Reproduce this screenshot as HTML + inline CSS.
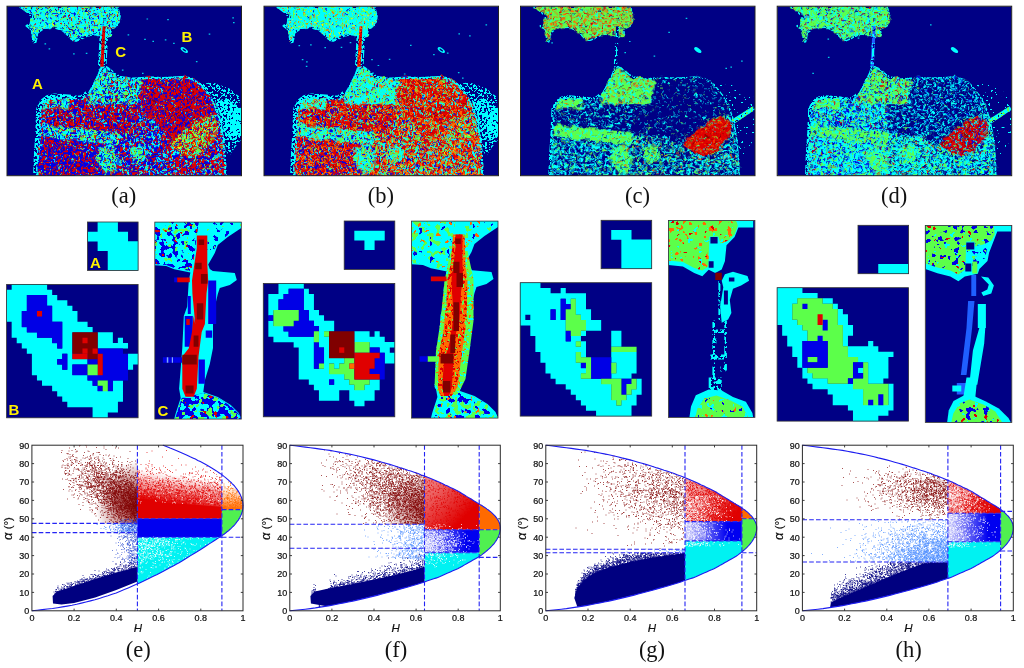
<!DOCTYPE html><html><head><meta charset="utf-8"><title>H-alpha classification figure</title><style>html,body{margin:0;padding:0;background:#fff}svg{display:block}text{font-family:"Liberation Sans",sans-serif}.cap{font-family:"Liberation Serif",serif;font-size:22.5px;fill:#111}.lab{font-weight:bold;font-size:15px;fill:#FFF000}.tk{font-size:9px;fill:#111;stroke:#111;stroke-width:.22px}.ax{font-size:11.5px;fill:#111;stroke:#111;stroke-width:.2px}</style></head><body><svg width="1024" height="668" viewBox="0 0 1024 668"><defs><filter id="rough" x="-.02" y="-.02" width="1.04" height="1.04" color-interpolation-filters="sRGB"><feTurbulence type="fractalNoise" baseFrequency=".16" numOctaves="2" seed="5" result="n"/><feDisplacementMap in="SourceGraphic" in2="n" scale="7" xChannelSelector="R" yChannelSelector="G"/></filter><clipPath id="cpa"><rect x="0" y="0" width="234.5" height="169.5"/></clipPath><filter id="fC40" x="-.1" y="-.1" width="1.2" height="1.2" color-interpolation-filters="sRGB"><feTurbulence type="fractalNoise" baseFrequency="0.43" numOctaves="2" seed="8"/><feColorMatrix values="0 0 0 0 0 0 0 0 0 1 0 0 0 0 1 60 0 0 0 -31.74"/><feComposite in2="SourceGraphic" operator="in"/></filter><filter id="fC55" x="-.1" y="-.1" width="1.2" height="1.2" color-interpolation-filters="sRGB"><feTurbulence type="fractalNoise" baseFrequency="0.43" numOctaves="2" seed="53"/><feColorMatrix values="0 0 0 0 0 0 0 0 0 1 0 0 0 0 1 60 0 0 0 -29.16"/><feComposite in2="SourceGraphic" operator="in"/></filter><filter id="fC70" x="-.1" y="-.1" width="1.2" height="1.2" color-interpolation-filters="sRGB"><feTurbulence type="fractalNoise" baseFrequency="0.43" numOctaves="2" seed="1"/><feColorMatrix values="0 0 0 0 0 0 0 0 0 1 0 0 0 0 1 60 0 0 0 -26.34"/><feComposite in2="SourceGraphic" operator="in"/></filter><filter id="fC65" x="-.1" y="-.1" width="1.2" height="1.2" color-interpolation-filters="sRGB"><feTurbulence type="fractalNoise" baseFrequency="0.43" numOctaves="2" seed="83"/><feColorMatrix values="0 0 0 0 0 0 0 0 0 1 0 0 0 0 1 60 0 0 0 -27.3"/><feComposite in2="SourceGraphic" operator="in"/></filter><path id="r1" d="M13 0L21 6.2L25 10.2L23.7 18.3L19.7 19.7L25 23.7L26.5 35.8L28.5 35.5L30.4 26.4L37.2 21.5L48 21L57.4 25L62 30L65.5 33.5L69 34.5L72.2 33.1L80.3 29.1L88.4 27.8L94 29.5L97.8 31.5L101.5 30L104 28.5L103 23L110 19.7L112.6 10.2L110 0Z"/><filter id="fB15" x="-.1" y="-.1" width="1.2" height="1.2" color-interpolation-filters="sRGB"><feTurbulence type="fractalNoise" baseFrequency="0.43" numOctaves="2" seed="23"/><feColorMatrix values="0 0 0 0 0 0 0 0 0 0 0 0 0 0 0.902 60 0 0 0 -37.62"/><feComposite in2="SourceGraphic" operator="in"/></filter><filter id="fG20" x="-.1" y="-.1" width="1.2" height="1.2" color-interpolation-filters="sRGB"><feTurbulence type="fractalNoise" baseFrequency="0.43" numOctaves="2" seed="73"/><feColorMatrix values="0 0 0 0 0.361 0 0 0 0 1 0 0 0 0 0.29 60 0 0 0 -36"/><feComposite in2="SourceGraphic" operator="in"/></filter><filter id="fN5" x="-.1" y="-.1" width="1.2" height="1.2" color-interpolation-filters="sRGB"><feTurbulence type="fractalNoise" baseFrequency="0.43" numOctaves="2" seed="77"/><feColorMatrix values="0 0 0 0 0 0 0 0 0 0 0 0 0 0 0.522 60 0 0 0 -42.12"/><feComposite in2="SourceGraphic" operator="in"/></filter><filter id="fR5" x="-.1" y="-.1" width="1.2" height="1.2" color-interpolation-filters="sRGB"><feTurbulence type="fractalNoise" baseFrequency="0.43" numOctaves="2" seed="8"/><feColorMatrix values="0 0 0 0 0.878 0 0 0 0 0 0 0 0 0 0 60 0 0 0 -42.12"/><feComposite in2="SourceGraphic" operator="in"/></filter><filter id="fY3" x="-.1" y="-.1" width="1.2" height="1.2" color-interpolation-filters="sRGB"><feTurbulence type="fractalNoise" baseFrequency="0.43" numOctaves="2" seed="51"/><feColorMatrix values="0 0 0 0 0.957 0 0 0 0 0.957 0 0 0 0 0 60 0 0 0 -43.5"/><feComposite in2="SourceGraphic" operator="in"/></filter><path id="r2" d="M30.5 169.5L31.2 150L32.6 128.8L33.6 103L37 96.5L41.5 93L48 91.7L61.4 92.6L70 94L75.5 93.4L81.5 88.5L87 78.4L92.3 67.5L94.5 61L98 60.5L101.9 63L107 67L112.6 70.9L123.4 72.8L134.2 72.2L145 71.6L155.8 72.2L166.5 71.5L177.3 70.8L185 72.8L193.5 78.5L202 89L208 100L211.3 109L213.8 120L216.2 134.2L217.8 150.4L218.5 169.5Z"/><filter id="fR40" x="-.1" y="-.1" width="1.2" height="1.2" color-interpolation-filters="sRGB"><feTurbulence type="fractalNoise" baseFrequency="0.43" numOctaves="2" seed="16"/><feColorMatrix values="0 0 0 0 0.878 0 0 0 0 0 0 0 0 0 0 60 0 0 0 -31.74"/><feComposite in2="SourceGraphic" operator="in"/></filter><filter id="fC25" x="-.1" y="-.1" width="1.2" height="1.2" color-interpolation-filters="sRGB"><feTurbulence type="fractalNoise" baseFrequency="0.43" numOctaves="2" seed="60"/><feColorMatrix values="0 0 0 0 0 0 0 0 0 1 0 0 0 0 1 60 0 0 0 -34.8"/><feComposite in2="SourceGraphic" operator="in"/></filter><filter id="fG5" x="-.1" y="-.1" width="1.2" height="1.2" color-interpolation-filters="sRGB"><feTurbulence type="fractalNoise" baseFrequency="0.43" numOctaves="2" seed="28"/><feColorMatrix values="0 0 0 0 0.361 0 0 0 0 1 0 0 0 0 0.29 60 0 0 0 -42.12"/><feComposite in2="SourceGraphic" operator="in"/></filter><filter id="fD3" x="-.1" y="-.1" width="1.2" height="1.2" color-interpolation-filters="sRGB"><feTurbulence type="fractalNoise" baseFrequency="0.43" numOctaves="2" seed="1"/><feColorMatrix values="0 0 0 0 0.502 0 0 0 0 0 0 0 0 0 0 60 0 0 0 -43.5"/><feComposite in2="SourceGraphic" operator="in"/></filter><path id="r3" d="M33.6 103L37 96.5L41.5 93L48 91.7L61.4 92.6L70 94L75.5 93.4L81.5 88.5L80.3 97.5L130.5 97.5L128 129L111 127L35 118L33 118Z"/><filter id="fB45" x="-.1" y="-.1" width="1.2" height="1.2" color-interpolation-filters="sRGB"><feTurbulence type="fractalNoise" baseFrequency="0.43" numOctaves="2" seed="16"/><feColorMatrix values="0 0 0 0 0 0 0 0 0 0 0 0 0 0 0.902 60 0 0 0 -30.84"/><feComposite in2="SourceGraphic" operator="in"/></filter><filter id="fC10" x="-.1" y="-.1" width="1.2" height="1.2" color-interpolation-filters="sRGB"><feTurbulence type="fractalNoise" baseFrequency="0.43" numOctaves="2" seed="15"/><feColorMatrix values="0 0 0 0 0 0 0 0 0 1 0 0 0 0 1 60 0 0 0 -39.54"/><feComposite in2="SourceGraphic" operator="in"/></filter><filter id="fD5" x="-.1" y="-.1" width="1.2" height="1.2" color-interpolation-filters="sRGB"><feTurbulence type="fractalNoise" baseFrequency="0.43" numOctaves="2" seed="7"/><feColorMatrix values="0 0 0 0 0.502 0 0 0 0 0 0 0 0 0 0 60 0 0 0 -42.12"/><feComposite in2="SourceGraphic" operator="in"/></filter><path id="r4" d="M32.6 129.5L111 139L112 169.5L30.5 169.5L31.2 150Z"/><filter id="fC5" x="-.1" y="-.1" width="1.2" height="1.2" color-interpolation-filters="sRGB"><feTurbulence type="fractalNoise" baseFrequency="0.43" numOctaves="2" seed="97"/><feColorMatrix values="0 0 0 0 0 0 0 0 0 1 0 0 0 0 1 60 0 0 0 -42.12"/><feComposite in2="SourceGraphic" operator="in"/></filter><filter id="fG3" x="-.1" y="-.1" width="1.2" height="1.2" color-interpolation-filters="sRGB"><feTurbulence type="fractalNoise" baseFrequency="0.43" numOctaves="2" seed="22"/><feColorMatrix values="0 0 0 0 0.361 0 0 0 0 1 0 0 0 0 0.29 60 0 0 0 -43.5"/><feComposite in2="SourceGraphic" operator="in"/></filter><path id="r5" d="M134.2 72.3L145 71.6L155.8 72.2L166.5 71.5L177.3 70.8L185 72.8L193.5 78.5L202 89L208 100L211.3 109L201.6 110L162.5 138.2L158 141L155 122L137 108L133 90Z"/><filter id="fB40" x="-.1" y="-.1" width="1.2" height="1.2" color-interpolation-filters="sRGB"><feTurbulence type="fractalNoise" baseFrequency="0.43" numOctaves="2" seed="1"/><feColorMatrix values="0 0 0 0 0 0 0 0 0 0 0 0 0 0 0.902 60 0 0 0 -31.74"/><feComposite in2="SourceGraphic" operator="in"/></filter><path id="r6" d="M158 141L162.5 138.2L201.6 110L211.3 109L213.8 120L216.2 134.2L217.8 150.4L218.5 169.5L165 169.5Z"/><filter id="fC20" x="-.1" y="-.1" width="1.2" height="1.2" color-interpolation-filters="sRGB"><feTurbulence type="fractalNoise" baseFrequency="0.43" numOctaves="2" seed="45"/><feColorMatrix values="0 0 0 0 0 0 0 0 0 1 0 0 0 0 1 60 0 0 0 -36"/><feComposite in2="SourceGraphic" operator="in"/></filter><path id="r7" d="M198.5 109.5L209.3 114.9L211.1 122.1L205.7 132.8L197 144L190 149L178 149L169.8 143.6L162.6 136.4L173.4 125.7L186 116.7Z"/><filter id="fG45" x="-.1" y="-.1" width="1.2" height="1.2" color-interpolation-filters="sRGB"><feTurbulence type="fractalNoise" baseFrequency="0.43" numOctaves="2" seed="51"/><feColorMatrix values="0 0 0 0 0.361 0 0 0 0 1 0 0 0 0 0.29 60 0 0 0 -30.84"/><feComposite in2="SourceGraphic" operator="in"/></filter><filter id="fY15" x="-.1" y="-.1" width="1.2" height="1.2" color-interpolation-filters="sRGB"><feTurbulence type="fractalNoise" baseFrequency="0.43" numOctaves="2" seed="87"/><feColorMatrix values="0 0 0 0 0.957 0 0 0 0 0.957 0 0 0 0 0 60 0 0 0 -37.62"/><feComposite in2="SourceGraphic" operator="in"/></filter><filter id="fC15" x="-.1" y="-.1" width="1.2" height="1.2" color-interpolation-filters="sRGB"><feTurbulence type="fractalNoise" baseFrequency="0.43" numOctaves="2" seed="30"/><feColorMatrix values="0 0 0 0 0 0 0 0 0 1 0 0 0 0 1 60 0 0 0 -37.62"/><feComposite in2="SourceGraphic" operator="in"/></filter><filter id="fB10" x="-.1" y="-.1" width="1.2" height="1.2" color-interpolation-filters="sRGB"><feTurbulence type="fractalNoise" baseFrequency="0.43" numOctaves="2" seed="8"/><feColorMatrix values="0 0 0 0 0 0 0 0 0 0 0 0 0 0 0.902 60 0 0 0 -39.54"/><feComposite in2="SourceGraphic" operator="in"/></filter><filter id="fO5" x="-.1" y="-.1" width="1.2" height="1.2" color-interpolation-filters="sRGB"><feTurbulence type="fractalNoise" baseFrequency="0.43" numOctaves="2" seed="84"/><feColorMatrix values="0 0 0 0 1 0 0 0 0 0.416 0 0 0 0 0 60 0 0 0 -42.12"/><feComposite in2="SourceGraphic" operator="in"/></filter><path id="r8" d="M92 141L106 139L112 150L110 166L98 168L90 155Z"/><filter id="fB25" x="-.1" y="-.1" width="1.2" height="1.2" color-interpolation-filters="sRGB"><feTurbulence type="fractalNoise" baseFrequency="0.43" numOctaves="2" seed="53"/><feColorMatrix values="0 0 0 0 0 0 0 0 0 0 0 0 0 0 0.902 60 0 0 0 -34.8"/><feComposite in2="SourceGraphic" operator="in"/></filter><filter id="fR10" x="-.1" y="-.1" width="1.2" height="1.2" color-interpolation-filters="sRGB"><feTurbulence type="fractalNoise" baseFrequency="0.43" numOctaves="2" seed="23"/><feColorMatrix values="0 0 0 0 0.878 0 0 0 0 0 0 0 0 0 0 60 0 0 0 -39.54"/><feComposite in2="SourceGraphic" operator="in"/></filter><path id="r9" d="M124 140L137 138L140 152L130 158L122 150Z"/><path id="r10" d="M94.5 61L98 60.5L101.9 63L107 67L112.6 70.9L123.4 72.8L134.2 72.2L130.5 97.5L80.3 97.5L81.5 88.5L87 78.4L92.3 67.5Z"/><filter id="fG30" x="-.1" y="-.1" width="1.2" height="1.2" color-interpolation-filters="sRGB"><feTurbulence type="fractalNoise" baseFrequency="0.43" numOctaves="2" seed="6"/><feColorMatrix values="0 0 0 0 0.361 0 0 0 0 1 0 0 0 0 0.29 60 0 0 0 -33.66"/><feComposite in2="SourceGraphic" operator="in"/></filter><path id="r11" d="M37 96.5L41.5 93L48 91.7L61.4 92.6L61.4 102.5L35 102.5Z"/><filter id="fG25" x="-.1" y="-.1" width="1.2" height="1.2" color-interpolation-filters="sRGB"><feTurbulence type="fractalNoise" baseFrequency="0.43" numOctaves="2" seed="88"/><feColorMatrix values="0 0 0 0 0.361 0 0 0 0 1 0 0 0 0 0.29 60 0 0 0 -34.8"/><feComposite in2="SourceGraphic" operator="in"/></filter><filter id="fR15" x="-.1" y="-.1" width="1.2" height="1.2" color-interpolation-filters="sRGB"><feTurbulence type="fractalNoise" baseFrequency="0.43" numOctaves="2" seed="38"/><feColorMatrix values="0 0 0 0 0.878 0 0 0 0 0 0 0 0 0 0 60 0 0 0 -37.62"/><feComposite in2="SourceGraphic" operator="in"/></filter><path id="r12" d="M33 117.8L111 126.5L111 139L32.6 129.7Z"/><filter id="fC45" x="-.1" y="-.1" width="1.2" height="1.2" color-interpolation-filters="sRGB"><feTurbulence type="fractalNoise" baseFrequency="0.43" numOctaves="2" seed="23"/><feColorMatrix values="0 0 0 0 0 0 0 0 0 1 0 0 0 0 1 60 0 0 0 -30.84"/><feComposite in2="SourceGraphic" operator="in"/></filter><path id="r13" d="M95.6 20L98.4 20L96.6 60.5L93.2 60.5Z"/><filter id="fD15" x="-.1" y="-.1" width="1.2" height="1.2" color-interpolation-filters="sRGB"><feTurbulence type="fractalNoise" baseFrequency="0.43" numOctaves="2" seed="37"/><feColorMatrix values="0 0 0 0 0.502 0 0 0 0 0 0 0 0 0 0 60 0 0 0 -37.62"/><feComposite in2="SourceGraphic" operator="in"/></filter><clipPath id="cpb"><rect x="0" y="0" width="234.5" height="169.5"/></clipPath><filter id="fC50" x="-.1" y="-.1" width="1.2" height="1.2" color-interpolation-filters="sRGB"><feTurbulence type="fractalNoise" baseFrequency="0.43" numOctaves="2" seed="38"/><feColorMatrix values="0 0 0 0 0 0 0 0 0 1 0 0 0 0 1 60 0 0 0 -30.12"/><feComposite in2="SourceGraphic" operator="in"/></filter><path id="r14" d="M13 0L21 6.2L25 10.2L23.7 18.3L19.7 19.7L25 23.7L26.5 35.8L28.5 35.5L30.4 26.4L37.2 21.5L48 21L57.4 25L62 30L65.5 33.5L69 34.5L72.2 33.1L80.3 29.1L88.4 27.8L94 29.5L97.8 31.5L101.5 30L104 28.5L103 23L110 19.7L112.6 10.2L110 0Z"/><filter id="fB5" x="-.1" y="-.1" width="1.2" height="1.2" color-interpolation-filters="sRGB"><feTurbulence type="fractalNoise" baseFrequency="0.43" numOctaves="2" seed="90"/><feColorMatrix values="0 0 0 0 0 0 0 0 0 0 0 0 0 0 0.902 60 0 0 0 -42.12"/><feComposite in2="SourceGraphic" operator="in"/></filter><filter id="fY5" x="-.1" y="-.1" width="1.2" height="1.2" color-interpolation-filters="sRGB"><feTurbulence type="fractalNoise" baseFrequency="0.43" numOctaves="2" seed="57"/><feColorMatrix values="0 0 0 0 0.957 0 0 0 0 0.957 0 0 0 0 0 60 0 0 0 -42.12"/><feComposite in2="SourceGraphic" operator="in"/></filter><path id="r15" d="M30.5 169.5L31.2 150L32.6 128.8L33.6 103L37 96.5L41.5 93L48 91.7L61.4 92.6L70 94L75.5 93.4L81.5 88.5L87 78.4L92.3 67.5L94.5 61L98 60.5L101.9 63L107 67L112.6 70.9L123.4 72.8L134.2 72.2L145 71.6L155.8 72.2L166.5 71.5L177.3 70.8L185 72.8L193.5 78.5L202 89L208 100L211.3 109L213.8 120L216.2 134.2L217.8 150.4L218.5 169.5Z"/><filter id="fO45" x="-.1" y="-.1" width="1.2" height="1.2" color-interpolation-filters="sRGB"><feTurbulence type="fractalNoise" baseFrequency="0.43" numOctaves="2" seed="10"/><feColorMatrix values="0 0 0 0 1 0 0 0 0 0.416 0 0 0 0 0 60 0 0 0 -30.84"/><feComposite in2="SourceGraphic" operator="in"/></filter><filter id="fC30" x="-.1" y="-.1" width="1.2" height="1.2" color-interpolation-filters="sRGB"><feTurbulence type="fractalNoise" baseFrequency="0.43" numOctaves="2" seed="75"/><feColorMatrix values="0 0 0 0 0 0 0 0 0 1 0 0 0 0 1 60 0 0 0 -33.66"/><feComposite in2="SourceGraphic" operator="in"/></filter><path id="r16" d="M33.6 103L37 96.5L41.5 93L48 91.7L61.4 92.6L70 94L75.5 93.4L81.5 88.5L80.3 97.5L130.5 97.5L128 129L111 127L35 118L33 118Z"/><filter id="fO25" x="-.1" y="-.1" width="1.2" height="1.2" color-interpolation-filters="sRGB"><feTurbulence type="fractalNoise" baseFrequency="0.43" numOctaves="2" seed="47"/><feColorMatrix values="0 0 0 0 1 0 0 0 0 0.416 0 0 0 0 0 60 0 0 0 -34.8"/><feComposite in2="SourceGraphic" operator="in"/></filter><filter id="fB20" x="-.1" y="-.1" width="1.2" height="1.2" color-interpolation-filters="sRGB"><feTurbulence type="fractalNoise" baseFrequency="0.43" numOctaves="2" seed="38"/><feColorMatrix values="0 0 0 0 0 0 0 0 0 0 0 0 0 0 0.902 60 0 0 0 -36"/><feComposite in2="SourceGraphic" operator="in"/></filter><filter id="fG10" x="-.1" y="-.1" width="1.2" height="1.2" color-interpolation-filters="sRGB"><feTurbulence type="fractalNoise" baseFrequency="0.43" numOctaves="2" seed="43"/><feColorMatrix values="0 0 0 0 0.361 0 0 0 0 1 0 0 0 0 0.29 60 0 0 0 -39.54"/><feComposite in2="SourceGraphic" operator="in"/></filter><path id="r17" d="M32.6 129.5L111 139L112 169.5L30.5 169.5L31.2 150Z"/><filter id="fO40" x="-.1" y="-.1" width="1.2" height="1.2" color-interpolation-filters="sRGB"><feTurbulence type="fractalNoise" baseFrequency="0.43" numOctaves="2" seed="92"/><feColorMatrix values="0 0 0 0 1 0 0 0 0 0.416 0 0 0 0 0 60 0 0 0 -31.74"/><feComposite in2="SourceGraphic" operator="in"/></filter><path id="r18" d="M134.2 72.3L145 71.6L155.8 72.2L166.5 71.5L177.3 70.8L185 72.8L193.5 78.5L202 89L208 100L211.3 109L201.6 110L162.5 138.2L158 141L155 122L137 108L133 90Z"/><filter id="fO30" x="-.1" y="-.1" width="1.2" height="1.2" color-interpolation-filters="sRGB"><feTurbulence type="fractalNoise" baseFrequency="0.43" numOctaves="2" seed="62"/><feColorMatrix values="0 0 0 0 1 0 0 0 0 0.416 0 0 0 0 0 60 0 0 0 -33.66"/><feComposite in2="SourceGraphic" operator="in"/></filter><path id="r19" d="M158 141L162.5 138.2L201.6 110L211.3 109L213.8 120L216.2 134.2L217.8 150.4L218.5 169.5L165 169.5Z"/><filter id="fG15" x="-.1" y="-.1" width="1.2" height="1.2" color-interpolation-filters="sRGB"><feTurbulence type="fractalNoise" baseFrequency="0.43" numOctaves="2" seed="58"/><feColorMatrix values="0 0 0 0 0.361 0 0 0 0 1 0 0 0 0 0.29 60 0 0 0 -37.62"/><feComposite in2="SourceGraphic" operator="in"/></filter><path id="r20" d="M198.5 109.5L209.3 114.9L211.1 122.1L205.7 132.8L197 144L190 149L178 149L169.8 143.6L162.6 136.4L173.4 125.7L186 116.7Z"/><filter id="fO50" x="-.1" y="-.1" width="1.2" height="1.2" color-interpolation-filters="sRGB"><feTurbulence type="fractalNoise" baseFrequency="0.43" numOctaves="2" seed="25"/><feColorMatrix values="0 0 0 0 1 0 0 0 0 0.416 0 0 0 0 0 60 0 0 0 -30.12"/><feComposite in2="SourceGraphic" operator="in"/></filter><path id="r21" d="M92 141L106 139L112 150L110 166L98 168L90 155Z"/><filter id="fO20" x="-.1" y="-.1" width="1.2" height="1.2" color-interpolation-filters="sRGB"><feTurbulence type="fractalNoise" baseFrequency="0.43" numOctaves="2" seed="32"/><feColorMatrix values="0 0 0 0 1 0 0 0 0 0.416 0 0 0 0 0 60 0 0 0 -36"/><feComposite in2="SourceGraphic" operator="in"/></filter><path id="r22" d="M124 140L137 138L140 152L130 158L122 150Z"/><path id="r23" d="M94.5 61L98 60.5L101.9 63L107 67L112.6 70.9L123.4 72.8L134.2 72.2L130.5 97.5L80.3 97.5L81.5 88.5L87 78.4L92.3 67.5Z"/><filter id="fG35" x="-.1" y="-.1" width="1.2" height="1.2" color-interpolation-filters="sRGB"><feTurbulence type="fractalNoise" baseFrequency="0.43" numOctaves="2" seed="21"/><feColorMatrix values="0 0 0 0 0.361 0 0 0 0 1 0 0 0 0 0.29 60 0 0 0 -32.7"/><feComposite in2="SourceGraphic" operator="in"/></filter><filter id="fO10" x="-.1" y="-.1" width="1.2" height="1.2" color-interpolation-filters="sRGB"><feTurbulence type="fractalNoise" baseFrequency="0.43" numOctaves="2" seed="2"/><feColorMatrix values="0 0 0 0 1 0 0 0 0 0.416 0 0 0 0 0 60 0 0 0 -39.54"/><feComposite in2="SourceGraphic" operator="in"/></filter><path id="r24" d="M37 96.5L41.5 93L48 91.7L61.4 92.6L61.4 102.5L35 102.5Z"/><filter id="fO15" x="-.1" y="-.1" width="1.2" height="1.2" color-interpolation-filters="sRGB"><feTurbulence type="fractalNoise" baseFrequency="0.43" numOctaves="2" seed="17"/><feColorMatrix values="0 0 0 0 1 0 0 0 0 0.416 0 0 0 0 0 60 0 0 0 -37.62"/><feComposite in2="SourceGraphic" operator="in"/></filter><path id="r25" d="M33 117.8L111 126.5L111 139L32.6 129.7Z"/><filter id="fG40" x="-.1" y="-.1" width="1.2" height="1.2" color-interpolation-filters="sRGB"><feTurbulence type="fractalNoise" baseFrequency="0.43" numOctaves="2" seed="36"/><feColorMatrix values="0 0 0 0 0.361 0 0 0 0 1 0 0 0 0 0.29 60 0 0 0 -31.74"/><feComposite in2="SourceGraphic" operator="in"/></filter><path id="r26" d="M95.6 20L98.4 20L96.6 60.5L93.2 60.5Z"/><filter id="fD10" x="-.1" y="-.1" width="1.2" height="1.2" color-interpolation-filters="sRGB"><feTurbulence type="fractalNoise" baseFrequency="0.43" numOctaves="2" seed="22"/><feColorMatrix values="0 0 0 0 0.502 0 0 0 0 0 0 0 0 0 0 60 0 0 0 -39.54"/><feComposite in2="SourceGraphic" operator="in"/></filter><clipPath id="cpc"><rect x="0" y="0" width="234.5" height="169.5"/></clipPath><filter id="fC60" x="-.1" y="-.1" width="1.2" height="1.2" color-interpolation-filters="sRGB"><feTurbulence type="fractalNoise" baseFrequency="0.43" numOctaves="2" seed="68"/><feColorMatrix values="0 0 0 0 0 0 0 0 0 1 0 0 0 0 1 60 0 0 0 -28.26"/><feComposite in2="SourceGraphic" operator="in"/></filter><path id="r27" d="M13 0L21 6.2L25 10.2L23.7 18.3L19.7 19.7L25 23.7L26.5 35.8L28.5 35.5L30.4 26.4L37.2 21.5L48 21L57.4 25L62 30L65.5 33.5L69 34.5L72.2 33.1L80.3 29.1L88.4 27.8L94 29.5L97.8 31.5L101.5 30L104 28.5L103 23L110 19.7L112.6 10.2L110 0Z"/><path id="r28" d="M30.5 169.5L31.2 150L32.6 128.8L33.6 103L37 96.5L41.5 93L48 91.7L61.4 92.6L70 94L75.5 93.4L81.5 88.5L87 78.4L92.3 67.5L94.5 61L98 60.5L101.9 63L107 67L112.6 70.9L123.4 72.8L134.2 72.2L145 71.6L155.8 72.2L166.5 71.5L177.3 70.8L185 72.8L193.5 78.5L202 89L208 100L211.3 109L213.8 120L216.2 134.2L217.8 150.4L218.5 169.5Z"/><path id="r29" d="M33.6 103L37 96.5L41.5 93L48 91.7L61.4 92.6L70 94L75.5 93.4L81.5 88.5L80.3 97.5L130.5 97.5L128 129L111 127L35 118L33 118Z"/><path id="r30" d="M32.6 129.5L111 139L112 169.5L30.5 169.5L31.2 150Z"/><filter id="fB3" x="-.1" y="-.1" width="1.2" height="1.2" color-interpolation-filters="sRGB"><feTurbulence type="fractalNoise" baseFrequency="0.43" numOctaves="2" seed="84"/><feColorMatrix values="0 0 0 0 0 0 0 0 0 0 0 0 0 0 0.902 60 0 0 0 -43.5"/><feComposite in2="SourceGraphic" operator="in"/></filter><path id="r31" d="M134.2 72.3L145 71.6L155.8 72.2L166.5 71.5L177.3 70.8L185 72.8L193.5 78.5L202 89L208 100L211.3 109L201.6 110L162.5 138.2L158 141L155 122L137 108L133 90Z"/><path id="r32" d="M110 97.5L130.5 97.5L133 90L137 108L155 122L158 141L146 130L128 129L111 127Z"/><path id="r33" d="M158 141L162.5 138.2L201.6 110L211.3 109L213.8 120L216.2 134.2L217.8 150.4L218.5 169.5L165 169.5Z"/><path id="r34" d="M198.5 109.5L209.3 114.9L211.1 122.1L205.7 132.8L197 144L190 149L178 149L169.8 143.6L162.6 136.4L173.4 125.7L186 116.7Z"/><path id="r35" d="M92 141L106 139L112 150L110 166L98 168L90 155Z"/><filter id="fC35" x="-.1" y="-.1" width="1.2" height="1.2" color-interpolation-filters="sRGB"><feTurbulence type="fractalNoise" baseFrequency="0.43" numOctaves="2" seed="90"/><feColorMatrix values="0 0 0 0 0 0 0 0 0 1 0 0 0 0 1 60 0 0 0 -32.7"/><feComposite in2="SourceGraphic" operator="in"/></filter><filter id="fN10" x="-.1" y="-.1" width="1.2" height="1.2" color-interpolation-filters="sRGB"><feTurbulence type="fractalNoise" baseFrequency="0.43" numOctaves="2" seed="92"/><feColorMatrix values="0 0 0 0 0 0 0 0 0 0 0 0 0 0 0.522 60 0 0 0 -39.54"/><feComposite in2="SourceGraphic" operator="in"/></filter><path id="r36" d="M124 140L137 138L140 152L130 158L122 150Z"/><path id="r37" d="M94.5 61L98 60.5L101.9 63L107 67L112.6 70.9L123.4 72.8L134.2 72.2L130.5 97.5L80.3 97.5L81.5 88.5L87 78.4L92.3 67.5Z"/><path id="r38" d="M37 96.5L41.5 93L48 91.7L61.4 92.6L61.4 102.5L35 102.5Z"/><path id="r39" d="M33 117.8L111 126.5L111 139L32.6 129.7Z"/><path id="r40" d="M95.6 20L98.4 20L96.6 60.5L93.2 60.5Z"/><path id="r41" d="M211 113.5L232.5 100L234.5 103.5L213.5 117.5Z"/><clipPath id="cpd"><rect x="0" y="0" width="234.5" height="169.5"/></clipPath><path id="r42" d="M13 0L21 6.2L25 10.2L23.7 18.3L19.7 19.7L25 23.7L26.5 35.8L28.5 35.5L30.4 26.4L37.2 21.5L48 21L57.4 25L62 30L65.5 33.5L69 34.5L72.2 33.1L80.3 29.1L88.4 27.8L94 29.5L97.8 31.5L101.5 30L104 28.5L103 23L110 19.7L112.6 10.2L110 0Z"/><path id="r43" d="M30.5 169.5L31.2 150L32.6 128.8L33.6 103L37 96.5L41.5 93L48 91.7L61.4 92.6L70 94L75.5 93.4L81.5 88.5L87 78.4L92.3 67.5L94.5 61L98 60.5L101.9 63L107 67L112.6 70.9L123.4 72.8L134.2 72.2L145 71.6L155.8 72.2L166.5 71.5L177.3 70.8L185 72.8L193.5 78.5L202 89L208 100L211.3 109L213.8 120L216.2 134.2L217.8 150.4L218.5 169.5Z"/><filter id="fN30" x="-.1" y="-.1" width="1.2" height="1.2" color-interpolation-filters="sRGB"><feTurbulence type="fractalNoise" baseFrequency="0.43" numOctaves="2" seed="55"/><feColorMatrix values="0 0 0 0 0 0 0 0 0 0 0 0 0 0 0.522 60 0 0 0 -33.66"/><feComposite in2="SourceGraphic" operator="in"/></filter><path id="r44" d="M33.6 103L37 96.5L41.5 93L48 91.7L61.4 92.6L70 94L75.5 93.4L81.5 88.5L80.3 97.5L130.5 97.5L128 129L111 127L35 118L33 118Z"/><filter id="fB35" x="-.1" y="-.1" width="1.2" height="1.2" color-interpolation-filters="sRGB"><feTurbulence type="fractalNoise" baseFrequency="0.43" numOctaves="2" seed="83"/><feColorMatrix values="0 0 0 0 0 0 0 0 0 0 0 0 0 0 0.902 60 0 0 0 -32.7"/><feComposite in2="SourceGraphic" operator="in"/></filter><path id="r45" d="M32.6 129.5L111 139L112 169.5L30.5 169.5L31.2 150Z"/><path id="r46" d="M134.2 72.3L145 71.6L155.8 72.2L166.5 71.5L177.3 70.8L185 72.8L193.5 78.5L202 89L208 100L211.3 109L201.6 110L162.5 138.2L158 141L155 122L137 108L133 90Z"/><path id="r47" d="M110 97.5L130.5 97.5L133 90L137 108L155 122L158 141L146 130L128 129L111 127Z"/><path id="r48" d="M158 141L162.5 138.2L201.6 110L211.3 109L213.8 120L216.2 134.2L217.8 150.4L218.5 169.5L165 169.5Z"/><filter id="fR3" x="-.1" y="-.1" width="1.2" height="1.2" color-interpolation-filters="sRGB"><feTurbulence type="fractalNoise" baseFrequency="0.43" numOctaves="2" seed="2"/><feColorMatrix values="0 0 0 0 0.878 0 0 0 0 0 0 0 0 0 0 60 0 0 0 -43.5"/><feComposite in2="SourceGraphic" operator="in"/></filter><path id="r49" d="M198.5 109.5L209.3 114.9L211.1 122.1L205.7 132.8L197 144L190 149L178 149L169.8 143.6L162.6 136.4L173.4 125.7L186 116.7Z"/><filter id="fD20" x="-.1" y="-.1" width="1.2" height="1.2" color-interpolation-filters="sRGB"><feTurbulence type="fractalNoise" baseFrequency="0.43" numOctaves="2" seed="52"/><feColorMatrix values="0 0 0 0 0.502 0 0 0 0 0 0 0 0 0 0 60 0 0 0 -36"/><feComposite in2="SourceGraphic" operator="in"/></filter><path id="r50" d="M92 141L106 139L112 150L110 166L98 168L90 155Z"/><path id="r51" d="M124 140L137 138L140 152L130 158L122 150Z"/><path id="r52" d="M94.5 61L98 60.5L101.9 63L107 67L112.6 70.9L123.4 72.8L134.2 72.2L130.5 97.5L80.3 97.5L81.5 88.5L87 78.4L92.3 67.5Z"/><path id="r53" d="M37 96.5L41.5 93L48 91.7L61.4 92.6L61.4 102.5L35 102.5Z"/><path id="r54" d="M33 117.8L111 126.5L111 139L32.6 129.7Z"/><path id="r55" d="M95.6 20L98.4 20L96.6 60.5L93.2 60.5Z"/><filter id="fN15" x="-.1" y="-.1" width="1.2" height="1.2" color-interpolation-filters="sRGB"><feTurbulence type="fractalNoise" baseFrequency="0.43" numOctaves="2" seed="10"/><feColorMatrix values="0 0 0 0 0 0 0 0 0 0 0 0 0 0 0.522 60 0 0 0 -37.62"/><feComposite in2="SourceGraphic" operator="in"/></filter><path id="r56" d="M211 113.5L232.5 100L234.5 103.5L213.5 117.5Z"/><clipPath id="cca"><rect width="86.5" height="197.0"/></clipPath><path id="r57" d="M0 0L44 0L42 13L40 30L38 42L35.6 49L19.4 46L11.4 43L0 42Z"/><filter id="fB35x17" x="-.1" y="-.1" width="1.2" height="1.2" color-interpolation-filters="sRGB"><feTurbulence type="fractalNoise" baseFrequency="0.17" numOctaves="2" seed="83"/><feColorMatrix values="0 0 0 0 0 0 0 0 0 0 0 0 0 0 0.902 60 0 0 0 -32.7"/><feComposite in2="SourceGraphic" operator="in"/></filter><filter id="fG15x17" x="-.1" y="-.1" width="1.2" height="1.2" color-interpolation-filters="sRGB"><feTurbulence type="fractalNoise" baseFrequency="0.17" numOctaves="2" seed="58"/><feColorMatrix values="0 0 0 0 0.361 0 0 0 0 1 0 0 0 0 0.29 60 0 0 0 -37.62"/><feComposite in2="SourceGraphic" operator="in"/></filter><filter id="fR3x17" x="-.1" y="-.1" width="1.2" height="1.2" color-interpolation-filters="sRGB"><feTurbulence type="fractalNoise" baseFrequency="0.17" numOctaves="2" seed="2"/><feColorMatrix values="0 0 0 0 0.878 0 0 0 0 0 0 0 0 0 0 60 0 0 0 -43.5"/><feComposite in2="SourceGraphic" operator="in"/></filter><path id="r58" d="M52 0L86.5 0L86.5 5L73 13L63 21L58 30L53 36L52.5 13Z"/><filter id="fB15x17" x="-.1" y="-.1" width="1.2" height="1.2" color-interpolation-filters="sRGB"><feTurbulence type="fractalNoise" baseFrequency="0.17" numOctaves="2" seed="23"/><feColorMatrix values="0 0 0 0 0 0 0 0 0 0 0 0 0 0 0.902 60 0 0 0 -37.62"/><feComposite in2="SourceGraphic" operator="in"/></filter><filter id="fG5x17" x="-.1" y="-.1" width="1.2" height="1.2" color-interpolation-filters="sRGB"><feTurbulence type="fractalNoise" baseFrequency="0.17" numOctaves="2" seed="28"/><feColorMatrix values="0 0 0 0 0.361 0 0 0 0 1 0 0 0 0 0.29 60 0 0 0 -42.12"/><feComposite in2="SourceGraphic" operator="in"/></filter><path id="r59" d="M27 176L48.5 171L63 176L76 184L84 192L86.5 197L20.4 197L22 191Z"/><filter id="fC45x17" x="-.1" y="-.1" width="1.2" height="1.2" color-interpolation-filters="sRGB"><feTurbulence type="fractalNoise" baseFrequency="0.17" numOctaves="2" seed="23"/><feColorMatrix values="0 0 0 0 0 0 0 0 0 1 0 0 0 0 1 60 0 0 0 -30.84"/><feComposite in2="SourceGraphic" operator="in"/></filter><filter id="fG20x17" x="-.1" y="-.1" width="1.2" height="1.2" color-interpolation-filters="sRGB"><feTurbulence type="fractalNoise" baseFrequency="0.17" numOctaves="2" seed="73"/><feColorMatrix values="0 0 0 0 0.361 0 0 0 0 1 0 0 0 0 0.29 60 0 0 0 -36"/><feComposite in2="SourceGraphic" operator="in"/></filter><filter id="fR5x17" x="-.1" y="-.1" width="1.2" height="1.2" color-interpolation-filters="sRGB"><feTurbulence type="fractalNoise" baseFrequency="0.17" numOctaves="2" seed="8"/><feColorMatrix values="0 0 0 0 0.878 0 0 0 0 0 0 0 0 0 0 60 0 0 0 -42.12"/><feComposite in2="SourceGraphic" operator="in"/></filter><clipPath id="ccb"><rect width="86.5" height="197.0"/></clipPath><path id="r60" d="M0 0L44 0L42 13L40 30L38 42L35.6 49L19.4 46L11.4 43L0 42Z"/><filter id="fG25x17" x="-.1" y="-.1" width="1.2" height="1.2" color-interpolation-filters="sRGB"><feTurbulence type="fractalNoise" baseFrequency="0.17" numOctaves="2" seed="88"/><feColorMatrix values="0 0 0 0 0.361 0 0 0 0 1 0 0 0 0 0.29 60 0 0 0 -34.8"/><feComposite in2="SourceGraphic" operator="in"/></filter><filter id="fB5x17" x="-.1" y="-.1" width="1.2" height="1.2" color-interpolation-filters="sRGB"><feTurbulence type="fractalNoise" baseFrequency="0.17" numOctaves="2" seed="90"/><feColorMatrix values="0 0 0 0 0 0 0 0 0 0 0 0 0 0 0.902 60 0 0 0 -42.12"/><feComposite in2="SourceGraphic" operator="in"/></filter><filter id="fO5x17" x="-.1" y="-.1" width="1.2" height="1.2" color-interpolation-filters="sRGB"><feTurbulence type="fractalNoise" baseFrequency="0.17" numOctaves="2" seed="84"/><feColorMatrix values="0 0 0 0 1 0 0 0 0 0.416 0 0 0 0 0 60 0 0 0 -42.12"/><feComposite in2="SourceGraphic" operator="in"/></filter><path id="r61" d="M52 0L86.5 0L86.5 5L73 13L63 21L58 30L53 36L52.5 13Z"/><path id="r62" d="M27 176L48.5 171L63 176L76 184L84 192L86.5 197L20.4 197L22 191Z"/><filter id="fG35x17" x="-.1" y="-.1" width="1.2" height="1.2" color-interpolation-filters="sRGB"><feTurbulence type="fractalNoise" baseFrequency="0.17" numOctaves="2" seed="21"/><feColorMatrix values="0 0 0 0 0.361 0 0 0 0 1 0 0 0 0 0.29 60 0 0 0 -32.7"/><feComposite in2="SourceGraphic" operator="in"/></filter><filter id="fB20x17" x="-.1" y="-.1" width="1.2" height="1.2" color-interpolation-filters="sRGB"><feTurbulence type="fractalNoise" baseFrequency="0.17" numOctaves="2" seed="38"/><feColorMatrix values="0 0 0 0 0 0 0 0 0 0 0 0 0 0 0.902 60 0 0 0 -36"/><feComposite in2="SourceGraphic" operator="in"/></filter><path id="r63" d="M39 30L56 30L62 58L62 100L58 130L54 158L47 172L30 176L23 166L24.5 130L29 100L33 60Z"/><filter id="fC20x30" x="-.1" y="-.1" width="1.2" height="1.2" color-interpolation-filters="sRGB"><feTurbulence type="fractalNoise" baseFrequency="0.3" numOctaves="2" seed="45"/><feColorMatrix values="0 0 0 0 0 0 0 0 0 1 0 0 0 0 1 60 0 0 0 -36"/><feComposite in2="SourceGraphic" operator="in"/></filter><filter id="fO10x30" x="-.1" y="-.1" width="1.2" height="1.2" color-interpolation-filters="sRGB"><feTurbulence type="fractalNoise" baseFrequency="0.3" numOctaves="2" seed="2"/><feColorMatrix values="0 0 0 0 1 0 0 0 0 0.416 0 0 0 0 0 60 0 0 0 -39.54"/><feComposite in2="SourceGraphic" operator="in"/></filter><path id="r64" d="M41.5 13.3L53 13.3L54 45L56 60L55 100L50 135L46 166L40 175L29 175L26.5 166L27 134L32 110L35 80L36 58L39.5 42Z"/><filter id="fR30x30" x="-.1" y="-.1" width="1.2" height="1.2" color-interpolation-filters="sRGB"><feTurbulence type="fractalNoise" baseFrequency="0.3" numOctaves="2" seed="83"/><feColorMatrix values="0 0 0 0 0.878 0 0 0 0 0 0 0 0 0 0 60 0 0 0 -33.66"/><feComposite in2="SourceGraphic" operator="in"/></filter><filter id="fG10x30" x="-.1" y="-.1" width="1.2" height="1.2" color-interpolation-filters="sRGB"><feTurbulence type="fractalNoise" baseFrequency="0.3" numOctaves="2" seed="43"/><feColorMatrix values="0 0 0 0 0.361 0 0 0 0 1 0 0 0 0 0.29 60 0 0 0 -39.54"/><feComposite in2="SourceGraphic" operator="in"/></filter><clipPath id="ccc"><rect width="86.5" height="197.0"/></clipPath><path id="r65" d="M0 0L67.8 0L69.4 5.4L66.2 14L60 20L52 23L50 16L41 16L40.5 30L40 46L33.9 50L25.8 47.6L14.5 41.5L0 40Z"/><filter id="fO10x17" x="-.1" y="-.1" width="1.2" height="1.2" color-interpolation-filters="sRGB"><feTurbulence type="fractalNoise" baseFrequency="0.17" numOctaves="2" seed="2"/><feColorMatrix values="0 0 0 0 1 0 0 0 0 0.416 0 0 0 0 0 60 0 0 0 -39.54"/><feComposite in2="SourceGraphic" operator="in"/></filter><filter id="fC5x17" x="-.1" y="-.1" width="1.2" height="1.2" color-interpolation-filters="sRGB"><feTurbulence type="fractalNoise" baseFrequency="0.17" numOctaves="2" seed="97"/><feColorMatrix values="0 0 0 0 0 0 0 0 0 1 0 0 0 0 1 60 0 0 0 -42.12"/><feComposite in2="SourceGraphic" operator="in"/></filter><filter id="fC60x30" x="-.1" y="-.1" width="1.2" height="1.2" color-interpolation-filters="sRGB"><feTurbulence type="fractalNoise" baseFrequency="0.3" numOctaves="2" seed="68"/><feColorMatrix values="0 0 0 0 0 0 0 0 0 1 0 0 0 0 1 60 0 0 0 -28.26"/><feComposite in2="SourceGraphic" operator="in"/></filter><path id="r66" d="M27 197L29 188L36 178L48 175L62 180L74 186L80 197Z"/><filter id="fC10x17" x="-.1" y="-.1" width="1.2" height="1.2" color-interpolation-filters="sRGB"><feTurbulence type="fractalNoise" baseFrequency="0.17" numOctaves="2" seed="15"/><feColorMatrix values="0 0 0 0 0 0 0 0 0 1 0 0 0 0 1 60 0 0 0 -39.54"/><feComposite in2="SourceGraphic" operator="in"/></filter><clipPath id="ccd"><rect width="86.5" height="197.0"/></clipPath><path id="r67" d="M41 22L62 22L60 32L53 42L41 46Z"/><path id="r68" d="M0 0L68.6 0L69.4 9L66 15L58 19L50 21L49 16L41 16L40.5 30L40 44L33.1 49L25 45L12.1 42L0 38Z"/><path id="r69" d="M26 197L28 188L34 178L44 174L58 179L70 186L77 197Z"/><clipPath id="cve"><path d="M31.9 610.8L37.1 610.2L42.3 609.6L47.4 609L52.5 608.5L57.5 607.7L62.4 606.9L67.2 606.1L72 605.3L76.7 604.3L81.4 603.1L86 602L90.5 600.9L94.9 599.8L99.3 598.4L103.6 597L107.9 595.7L112.1 594.3L116.2 593L120.3 591.3L124.3 589.6L128.2 587.9L132 586.2L135.8 584.6L139.6 582.9L143.2 581.2L146.8 579.4L150.3 577.8L153.8 576.1L157.2 574.5L160.5 572.7L163.8 571L167 569.3L170.1 567.6L173.2 565.9L176.2 564.3L179.1 562.7L182 561L184.8 559.2L187.6 557.5L190.2 555.9L192.8 554.3L195.4 552.7L197.8 551.2L200.3 549.7L202.6 548.2L204.9 546.7L207.1 545.3L209.2 543.9L211.3 542.6L213.3 541.3L215.3 540L217.1 538.8L219 537.6L220.7 536.5L222.4 535.4L224 534.2L225.6 533L227 531.8L228.5 530.7L229.8 529.5L231.1 528.3L232.3 527.1L233.5 526L234.6 524.8L235.6 523.6L236.5 522.4L237.4 521.2L238.3 520.1L239 518.9L239.7 517.7L240.3 516.5L240.9 515.3L241.4 514.2L241.8 513L242.2 511.8L242.5 510.6L242.7 509.5L242.9 508.3L243 507.1L243 505.9L243 505.9L243 504.7L242.9 503.5L242.7 502.2L242.5 501L242.2 499.8L241.8 498.5L241.4 497.3L240.9 496.1L240.3 494.8L239.7 493.6L239 492.4L238.3 491.1L237.4 489.9L236.5 488.7L235.6 487.5L234.6 486.2L233.5 485L232.3 483.8L231.1 482.5L229.8 481.3L228.5 480.1L227 478.8L225.6 477.6L224 476.4L222.4 475.1L220.7 473.9L219 472.7L217.1 471.4L215.3 470.2L213.3 469L211.3 467.8L209.2 466.5L207.1 465.3L204.9 464.1L202.6 462.8L200.3 461.6L197.8 460.4L195.4 459.1L192.8 457.9L190.2 456.7L187.6 455.4L184.8 454.2L182 453L179.1 451.7L176.2 450.5L173.2 449.3L170.1 448.1L167 446.8L163.8 445.6L162.8 445.2L31.9 445.2Z"/></clipPath><linearGradient id="grer" gradientUnits="userSpaceOnUse" x1="179.7" y1="505" x2="183.9" y2="476.5"><stop offset="0" stop-color="#E00000"/><stop offset=".35" stop-color="#E00000" stop-opacity=".55"/><stop offset="1" stop-color="#E00000" stop-opacity="0"/></linearGradient><linearGradient id="greo" x1="0" y1="1" x2="0" y2="0"><stop offset="0" stop-color="#FF6A00" stop-opacity=".95"/><stop offset=".4" stop-color="#FF6A00" stop-opacity=".5"/><stop offset="1" stop-color="#FF6A00" stop-opacity="0"/></linearGradient><radialGradient id="gred" gradientUnits="userSpaceOnUse" cx="0" cy="0" r="1" gradientTransform="translate(137.4 505.9) scale(42.2 44.2)"><stop offset="0" stop-color="#800000" stop-opacity="0.95"/><stop offset=".45" stop-color="#800000" stop-opacity="0.5"/><stop offset="1" stop-color="#800000" stop-opacity="0"/></radialGradient><clipPath id="cvf"><path d="M289.8 610.8L295 610.3L300.2 609.7L305.3 609.2L310.3 608.6L315.3 607.9L320.2 607.1L325 606.4L329.8 605.6L334.5 604.8L339.1 603.8L343.7 602.9L348.2 602L352.7 601.1L357 600.1L361.3 599.1L365.6 598.1L369.8 597.1L373.9 596.1L377.9 595.1L381.9 594L385.8 593L389.7 592L393.4 591L397.2 590L400.8 588.9L404.4 587.9L407.9 587L411.4 586L414.8 585L418.1 584L421.3 582.9L424.5 581.9L427.6 580.8L430.7 579.8L433.7 578.8L436.6 577.9L439.5 576.7L442.3 575.4L445 574.2L447.7 573.1L450.3 571.9L452.8 570.8L455.3 569.8L457.7 568.7L460 567.5L462.3 566.2L464.5 564.9L466.6 563.7L468.7 562.5L470.7 561.4L472.6 560.3L474.5 559.2L476.3 558.2L478.1 557.2L479.7 556.2L481.4 555.1L482.9 553.9L484.4 552.8L485.8 551.7L487.1 550.5L488.4 549.4L489.6 548.3L490.8 547.2L491.9 546L492.9 544.9L493.9 543.8L494.7 542.7L495.6 541.5L496.3 540.4L497 539.3L497.6 538.1L498.2 537L498.7 535.9L499.1 534.8L499.5 533.6L499.8 532.5L500 531.4L500.2 530.3L500.3 529.1L500.3 528L500.3 528L500.3 527.1L500.2 526.1L500 525.2L499.8 524.2L499.5 523.3L499.1 522.3L498.7 521.4L498.2 520.4L497.6 519.5L497 518.5L496.3 517.6L495.6 516.7L494.7 515.7L493.9 514.8L492.9 513.8L491.9 512.9L490.8 511.9L489.6 511L488.4 510L487.1 509.1L485.8 508.1L484.4 507.2L482.9 506.3L481.4 505.3L479.7 504.4L478.1 503.4L476.3 502.3L474.5 501.2L472.6 500L470.7 498.8L468.7 497.6L466.6 496.4L464.5 495L462.3 493.7L460 492.3L457.7 490.9L455.3 489.8L452.8 488.6L450.3 487.4L447.7 486.1L445 484.9L442.3 483.5L439.5 482.2L436.6 480.9L433.7 479.7L430.7 478.5L427.6 477.3L424.5 476.1L421.3 474.9L418.1 473.6L414.8 472.4L411.4 471.3L407.9 470.2L404.4 469L400.8 467.9L397.2 466.7L393.4 465.5L389.7 464.4L385.8 463.3L381.9 462.2L377.9 461L373.9 459.9L369.8 458.9L365.6 457.9L361.3 456.8L357 455.8L352.7 454.7L348.2 453.9L343.7 453L339.1 452.1L334.5 451.2L329.8 450.4L325 449.8L320.2 449.1L315.3 448.4L310.3 447.7L305.3 447.1L300.2 446.5L295 445.8L289.8 445.2Z"/></clipPath><linearGradient id="grfr" gradientUnits="userSpaceOnUse" x1="420.3" y1="467.3" x2="466.6" y2="515.1"><stop offset="0" stop-color="#E00000" stop-opacity="0.35"/><stop offset="1" stop-color="#E00000"/></linearGradient><linearGradient id="grfb" gradientUnits="userSpaceOnUse" x1="424.5" y1="0" x2="466.6" y2="0"><stop offset="0" stop-color="#0000F0" stop-opacity="0.45"/><stop offset="1" stop-color="#0000F0"/></linearGradient><radialGradient id="grfd" gradientUnits="userSpaceOnUse" cx="0" cy="0" r="1" gradientTransform="translate(424.5 511.4) scale(42.1 40.5)"><stop offset="0" stop-color="#800000" stop-opacity="0.6"/><stop offset=".45" stop-color="#800000" stop-opacity="0.3"/><stop offset="1" stop-color="#800000" stop-opacity="0"/></radialGradient><clipPath id="cvg"><path d="M545.8 610.8L551 610.3L556.2 609.7L561.3 609.2L566.4 608.6L571.3 607.9L576.2 607.1L581.1 606.4L585.9 605.6L590.6 604.8L595.2 603.8L599.8 602.9L604.3 602L608.8 601.1L613.2 600.1L617.5 599.1L621.7 598.1L625.9 597.1L630 596.1L634.1 595.1L638.1 594L642 593L645.8 592L649.6 591L653.4 590L657 588.9L660.6 587.9L664.1 587L667.6 586L671 585L674.3 584L677.6 582.9L680.8 581.9L683.9 580.8L687 579.8L690 578.8L692.9 577.9L695.8 576.7L698.6 575.4L701.3 574.2L704 573.1L706.6 571.9L709.1 570.8L711.6 569.8L714 568.7L716.3 567.5L718.6 566.2L720.8 564.9L723 563.7L725 562.5L727 561.4L729 560.3L730.9 559.2L732.7 558.2L734.4 557.2L736.1 556.2L737.7 555.1L739.3 553.9L740.8 552.8L742.2 551.7L743.5 550.5L744.8 549.4L746 548.3L747.2 547.2L748.3 546L749.3 544.9L750.2 543.8L751.1 542.7L752 541.5L752.7 540.4L753.4 539.3L754 538.1L754.6 537L755.1 535.9L755.5 534.8L755.9 533.6L756.2 532.5L756.4 531.4L756.6 530.3L756.7 529.1L756.7 528L756.7 528L756.7 527.1L756.6 526.1L756.4 525.2L756.2 524.2L755.9 523.3L755.5 522.3L755.1 521.4L754.6 520.4L754 519.5L753.4 518.5L752.7 517.6L752 516.7L751.1 515.7L750.2 514.8L749.3 513.8L748.3 512.9L747.2 511.9L746 511L744.8 510L743.5 509.1L742.2 508.1L740.8 507.2L739.3 506.3L737.7 505.3L736.1 504.4L734.4 503.4L732.7 502.3L730.9 501.2L729 500L727 498.8L725 497.6L723 496.4L720.8 495L718.6 493.7L716.3 492.3L714 490.9L711.6 489.8L709.1 488.6L706.6 487.4L704 486.1L701.3 484.9L698.6 483.5L695.8 482.2L692.9 480.9L690 479.7L687 478.5L683.9 477.3L680.8 476.1L677.6 474.9L674.3 473.6L671 472.4L667.6 471.3L664.1 470.2L660.6 469L657 467.9L653.4 466.7L649.6 465.5L645.8 464.4L642 463.3L638.1 462.2L634.1 461L630 459.9L625.9 458.9L621.7 457.9L617.5 456.8L613.2 455.8L608.8 454.7L604.3 453.9L599.8 453L595.2 452.1L590.6 451.2L585.9 450.4L581.1 449.8L576.2 449.1L571.3 448.4L566.4 447.7L561.3 447.1L556.2 446.5L551 445.8L545.8 445.2Z"/></clipPath><linearGradient id="grgr" gradientUnits="userSpaceOnUse" x1="680.8" y1="471" x2="735.6" y2="515.1"><stop offset="0" stop-color="#E00000" stop-opacity="0.08"/><stop offset="1" stop-color="#E00000"/></linearGradient><linearGradient id="grgb" gradientUnits="userSpaceOnUse" x1="685" y1="0" x2="727.2" y2="0"><stop offset="0" stop-color="#0000F0" stop-opacity="0.2"/><stop offset="1" stop-color="#0000F0"/></linearGradient><clipPath id="cvh"><path d="M802.4 610.8L807.6 610.3L812.8 609.7L817.9 609.2L823 608.6L827.9 607.9L832.8 607.1L837.7 606.4L842.5 605.6L847.2 604.8L851.8 603.8L856.4 602.9L860.9 602L865.4 601.1L869.8 600.1L874.1 599.1L878.3 598.1L882.5 597.1L886.6 596.1L890.7 595.1L894.7 594L898.6 593L902.4 592L906.2 591L910 590L913.6 588.9L917.2 587.9L920.7 587L924.2 586L927.6 585L930.9 584L934.2 582.9L937.4 581.9L940.5 580.8L943.6 579.8L946.6 578.8L949.5 577.9L952.4 576.7L955.2 575.4L957.9 574.2L960.6 573.1L963.2 571.9L965.7 570.8L968.2 569.8L970.6 568.7L972.9 567.5L975.2 566.2L977.4 564.9L979.6 563.7L981.6 562.5L983.6 561.4L985.6 560.3L987.5 559.2L989.3 558.2L991 557.2L992.7 556.2L994.3 555.1L995.9 553.9L997.4 552.8L998.8 551.7L1000.1 550.5L1001.4 549.4L1002.6 548.3L1003.8 547.2L1004.9 546L1005.9 544.9L1006.8 543.8L1007.7 542.7L1008.6 541.5L1009.3 540.4L1010 539.3L1010.6 538.1L1011.2 537L1011.7 535.9L1012.1 534.8L1012.5 533.6L1012.8 532.5L1013 531.4L1013.2 530.3L1013.3 529.1L1013.3 528L1013.3 528L1013.3 527.1L1013.2 526.1L1013 525.2L1012.8 524.2L1012.5 523.3L1012.1 522.3L1011.7 521.4L1011.2 520.4L1010.6 519.5L1010 518.5L1009.3 517.6L1008.6 516.7L1007.7 515.7L1006.8 514.8L1005.9 513.8L1004.9 512.9L1003.8 511.9L1002.6 511L1001.4 510L1000.1 509.1L998.8 508.1L997.4 507.2L995.9 506.3L994.3 505.3L992.7 504.4L991 503.4L989.3 502.3L987.5 501.2L985.6 500L983.6 498.8L981.6 497.6L979.6 496.4L977.4 495L975.2 493.7L972.9 492.3L970.6 490.9L968.2 489.8L965.7 488.6L963.2 487.4L960.6 486.1L957.9 484.9L955.2 483.5L952.4 482.2L949.5 480.9L946.6 479.7L943.6 478.5L940.5 477.3L937.4 476.1L934.2 474.9L930.9 473.6L927.6 472.4L924.2 471.3L920.7 470.2L917.2 469L913.6 467.9L910 466.7L906.2 465.5L902.4 464.4L898.6 463.3L894.7 462.2L890.7 461L886.6 459.9L882.5 458.9L878.3 457.9L874.1 456.8L869.8 455.8L865.4 454.7L860.9 453.9L856.4 453L851.8 452.1L847.2 451.2L842.5 450.4L837.7 449.8L832.8 449.1L827.9 448.4L823 447.7L817.9 447.1L812.8 446.5L807.6 445.8L802.4 445.2Z"/></clipPath><linearGradient id="grhr" gradientUnits="userSpaceOnUse" x1="943.7" y1="474.6" x2="996.4" y2="509.6"><stop offset="0" stop-color="#E00000" stop-opacity="0.08"/><stop offset="1" stop-color="#E00000"/></linearGradient><linearGradient id="grhb" gradientUnits="userSpaceOnUse" x1="947.9" y1="0" x2="988" y2="0"><stop offset="0" stop-color="#0000F0" stop-opacity="0.2"/><stop offset="1" stop-color="#0000F0"/></linearGradient></defs><rect width="1024" height="668" fill="#fff"/><g transform="translate(7.0 6.2)"><g clip-path="url(#cpa)"><rect width="234.5" height="169.5" fill="#000085"/><path d="M193.5 78L205 76L222 82L234.5 92L234.5 133L228 141L222 150L217 140L213.8 120L208 100L202 89Z" filter="url(#fC40)"/><path d="M208 95L219 92L234.5 102L234.5 130L224 135L217 125L213 108Z" filter="url(#fC55)"/><path d="M223 109L234.5 101L234.5 129L225 127Z" filter="url(#fC70)"/><path d="M30.5 169.5L31.2 150L32.6 128.8L33.6 103L37 96.5L41.5 93L48 91.7L61.4 92.6L70 94L75.5 93.4L81.5 88.5" fill="none" stroke="#000" stroke-linejoin="round" stroke-width="8.8" filter="url(#fC65)"/><path d="M81.5 88.5L87 78.4L92.3 67.5L94.5 61L98 60.5L101.9 63L107 67L112.6 70.9L123.4 72.8L134.2 72.2L145 71.6L155.8 72.2L166.5 71.5L177.3 70.8L185 72.8L193.5 78.5L202 89L208 100L211.3 109L213.8 120L216.2 134.2L217.8 150.4L218.5 169.5" fill="none" stroke="#000" stroke-linejoin="round" stroke-width="2.6" filter="url(#fC65)"/><path d="M13 0L21 6.2L25 10.2L23.7 18.3L19.7 19.7L25 23.7L26.5 35.8L28.5 35.5L30.4 26.4L37.2 21.5L48 21L57.4 25L62 30L65.5 33.5L69 34.5L72.2 33.1L80.3 29.1L88.4 27.8L94 29.5L97.8 31.5L101.5 30L104 28.5L103 23L110 19.7L112.6 10.2L110 0" fill="none" stroke="#000" stroke-linejoin="round" stroke-width="2.4" filter="url(#fC65)"/><g filter="url(#rough)"><use href="#r1" fill="#00FFFF"/><use href="#r1" filter="url(#fB15)"/><use href="#r1" filter="url(#fG20)"/><use href="#r1" filter="url(#fN5)"/><use href="#r1" filter="url(#fR5)"/><use href="#r1" filter="url(#fY3)"/><use href="#r2" fill="#0000E6"/><use href="#r2" filter="url(#fR40)"/><use href="#r2" filter="url(#fC25)"/><use href="#r2" filter="url(#fG5)"/><use href="#r2" filter="url(#fD3)"/><use href="#r3" fill="#E00000"/><use href="#r3" filter="url(#fB45)"/><use href="#r3" filter="url(#fC10)"/><use href="#r3" filter="url(#fD5)"/><use href="#r3" filter="url(#fG5)"/><use href="#r4" fill="#0000E6"/><use href="#r4" filter="url(#fR40)"/><use href="#r4" filter="url(#fC5)"/><use href="#r4" filter="url(#fG3)"/><use href="#r4" filter="url(#fD3)"/><use href="#r5" fill="#E00000"/><use href="#r5" filter="url(#fB40)"/><use href="#r5" filter="url(#fC5)"/><use href="#r5" filter="url(#fD5)"/><use href="#r5" filter="url(#fG3)"/><use href="#r6" fill="#E00000"/><use href="#r6" filter="url(#fB45)"/><use href="#r6" filter="url(#fC20)"/><use href="#r6" filter="url(#fG5)"/><use href="#r6" filter="url(#fD3)"/><use href="#r7" fill="#E00000"/><use href="#r7" filter="url(#fG45)"/><use href="#r7" filter="url(#fY15)"/><use href="#r7" filter="url(#fC15)"/><use href="#r7" filter="url(#fB10)"/><use href="#r7" filter="url(#fO5)"/><use href="#r8" fill="#00FFFF"/><use href="#r8" filter="url(#fG45)"/><use href="#r8" filter="url(#fB25)"/><use href="#r8" filter="url(#fR10)"/><use href="#r9" fill="#00FFFF"/><use href="#r9" filter="url(#fG45)"/><use href="#r9" filter="url(#fB25)"/><use href="#r9" filter="url(#fR10)"/><use href="#r10" fill="#00FFFF"/><use href="#r10" filter="url(#fB40)"/><use href="#r10" filter="url(#fG30)"/><use href="#r10" filter="url(#fR10)"/><use href="#r10" filter="url(#fN5)"/><use href="#r11" fill="#00FFFF"/><use href="#r11" filter="url(#fB40)"/><use href="#r11" filter="url(#fG25)"/><use href="#r11" filter="url(#fR15)"/><use href="#r12" fill="#00FFFF"/><use href="#r12" filter="url(#fB45)"/><use href="#r12" filter="url(#fG25)"/><use href="#r12" filter="url(#fR10)"/><use href="#r12" filter="url(#fY3)"/></g><path d="M30.5 169.5L31.2 150L32.6 128.8L33.6 103L37 96.5L41.5 93L48 91.7L61.4 92.6L70 94L75.5 93.4L81.5 88.5L87 78.4L92.3 67.5L94.5 61L98 60.5L101.9 63L107 67L112.6 70.9L123.4 72.8L134.2 72.2L145 71.6L155.8 72.2L166.5 71.5L177.3 70.8L185 72.8L193.5 78.5L202 89L208 100L211.3 109L213.8 120L216.2 134.2L217.8 150.4L218.5 169.5" fill="none" stroke="#000" stroke-linejoin="round" stroke-width="2" filter="url(#fC45)"/><path d="M93 22L101.5 22L99.5 60L91 60Z" filter="url(#fC65)"/><use href="#r13" fill="#E00000"/><use href="#r13" filter="url(#fD15)"/><ellipse cx="177.3" cy="43.9" rx="4.2" ry="1.9" transform="rotate(35 177.3 43.9)" fill="#00FFFF"/><ellipse cx="177.3" cy="43.9" rx="2.2" ry="0.8" transform="rotate(35 177.3 43.9)" fill="#000085"/><path d="M94.8 18.1h1.6v1.2h-1.6zM160.2 12.9h1.6v1.2h-1.6zM137.2 32.5h1.6v1.2h-1.6zM41.6 42h1.6v1.2h-1.6zM37.5 37.1h1.6v1.2h-1.6zM44 14.1h1.6v1.2h-1.6zM114.9 63.4h1.6v1.2h-1.6zM54.8 23h1.6v1.2h-1.6zM155.5 71.5h1.6v1.2h-1.6zM145.4 34.6h1.6v1.2h-1.6zM225.3 11.1h1.6v1.2h-1.6zM201.7 27.4h1.6v1.2h-1.6zM58.9 15.9h1.6v1.2h-1.6zM91.7 62.7h1.6v1.2h-1.6zM66.1 47h1.6v1.2h-1.6zM157.8 33h1.6v1.2h-1.6zM139.5 12.2h1.6v1.2h-1.6zM41.9 21.8h1.6v1.2h-1.6zM166.1 36.6h1.6v1.2h-1.6zM92.8 47.2h1.6v1.2h-1.6zM120.6 28.1h1.6v1.2h-1.6zM188.9 54.8h1.6v1.2h-1.6zM78.8 46.5h1.6v1.2h-1.6zM135 66.6h1.6v1.2h-1.6zM175.9 27.3h1.6v1.2h-1.6zM226 15.9h1.6v1.2h-1.6z" fill="#00FFFF" opacity=".8"/></g><rect x="0" y="0" width="234.5" height="169.5" fill="none" stroke="#222" stroke-width="1"/></g><text class="cap" x="123.8" y="203" text-anchor="middle">(a)</text><g transform="translate(264.0 6.2)"><g clip-path="url(#cpb)"><rect width="234.5" height="169.5" fill="#000085"/><path d="M193.5 78L205 76L222 82L234.5 92L234.5 133L228 141L222 150L217 140L213.8 120L208 100L202 89Z" filter="url(#fC40)"/><path d="M208 95L219 92L234.5 102L234.5 130L224 135L217 125L213 108Z" filter="url(#fC50)"/><path d="M223 109L234.5 101L234.5 129L225 127Z" filter="url(#fC70)"/><path d="M30.5 169.5L31.2 150L32.6 128.8L33.6 103L37 96.5L41.5 93L48 91.7L61.4 92.6L70 94L75.5 93.4L81.5 88.5" fill="none" stroke="#000" stroke-linejoin="round" stroke-width="8.8" filter="url(#fC65)"/><path d="M81.5 88.5L87 78.4L92.3 67.5L94.5 61L98 60.5L101.9 63L107 67L112.6 70.9L123.4 72.8L134.2 72.2L145 71.6L155.8 72.2L166.5 71.5L177.3 70.8L185 72.8L193.5 78.5L202 89L208 100L211.3 109L213.8 120L216.2 134.2L217.8 150.4L218.5 169.5" fill="none" stroke="#000" stroke-linejoin="round" stroke-width="2.6" filter="url(#fC65)"/><path d="M13 0L21 6.2L25 10.2L23.7 18.3L19.7 19.7L25 23.7L26.5 35.8L28.5 35.5L30.4 26.4L37.2 21.5L48 21L57.4 25L62 30L65.5 33.5L69 34.5L72.2 33.1L80.3 29.1L88.4 27.8L94 29.5L97.8 31.5L101.5 30L104 28.5L103 23L110 19.7L112.6 10.2L110 0" fill="none" stroke="#000" stroke-linejoin="round" stroke-width="2.4" filter="url(#fC65)"/><g filter="url(#rough)"><use href="#r14" fill="#00FFFF"/><use href="#r14" filter="url(#fG25)"/><use href="#r14" filter="url(#fB5)"/><use href="#r14" filter="url(#fO5)"/><use href="#r14" filter="url(#fY5)"/><use href="#r15" fill="#E00000"/><use href="#r15" filter="url(#fO45)"/><use href="#r15" filter="url(#fC30)"/><use href="#r15" filter="url(#fG20)"/><use href="#r15" filter="url(#fB15)"/><use href="#r15" filter="url(#fY3)"/><use href="#r16" fill="#E00000"/><use href="#r16" filter="url(#fO25)"/><use href="#r16" filter="url(#fB20)"/><use href="#r16" filter="url(#fC10)"/><use href="#r16" filter="url(#fG10)"/><use href="#r16" filter="url(#fD3)"/><use href="#r17" fill="#E00000"/><use href="#r17" filter="url(#fO40)"/><use href="#r17" filter="url(#fB25)"/><use href="#r17" filter="url(#fC10)"/><use href="#r17" filter="url(#fG5)"/><use href="#r17" filter="url(#fD3)"/><use href="#r18" fill="#E00000"/><use href="#r18" filter="url(#fO30)"/><use href="#r18" filter="url(#fC15)"/><use href="#r18" filter="url(#fG10)"/><use href="#r18" filter="url(#fB5)"/><use href="#r18" filter="url(#fD5)"/><use href="#r19" fill="#E00000"/><use href="#r19" filter="url(#fO45)"/><use href="#r19" filter="url(#fC25)"/><use href="#r19" filter="url(#fG15)"/><use href="#r19" filter="url(#fB10)"/><use href="#r20" fill="#E00000"/><use href="#r20" filter="url(#fO50)"/><use href="#r20" filter="url(#fC25)"/><use href="#r20" filter="url(#fG20)"/><use href="#r20" filter="url(#fB10)"/><use href="#r20" filter="url(#fY5)"/><use href="#r21" fill="#00FFFF"/><use href="#r21" filter="url(#fG45)"/><use href="#r21" filter="url(#fO20)"/><use href="#r21" filter="url(#fB10)"/><use href="#r22" fill="#00FFFF"/><use href="#r22" filter="url(#fG45)"/><use href="#r22" filter="url(#fO20)"/><use href="#r22" filter="url(#fB10)"/><use href="#r23" fill="#00FFFF"/><use href="#r23" filter="url(#fG35)"/><use href="#r23" filter="url(#fO10)"/><use href="#r23" filter="url(#fB10)"/><use href="#r23" filter="url(#fR5)"/><use href="#r24" fill="#00FFFF"/><use href="#r24" filter="url(#fG35)"/><use href="#r24" filter="url(#fO15)"/><use href="#r24" filter="url(#fR10)"/><use href="#r25" fill="#00FFFF"/><use href="#r25" filter="url(#fG40)"/><use href="#r25" filter="url(#fB15)"/><use href="#r25" filter="url(#fO10)"/><use href="#r25" filter="url(#fR5)"/></g><path d="M30.5 169.5L31.2 150L32.6 128.8L33.6 103L37 96.5L41.5 93L48 91.7L61.4 92.6L70 94L75.5 93.4L81.5 88.5L87 78.4L92.3 67.5L94.5 61L98 60.5L101.9 63L107 67L112.6 70.9L123.4 72.8L134.2 72.2L145 71.6L155.8 72.2L166.5 71.5L177.3 70.8L185 72.8L193.5 78.5L202 89L208 100L211.3 109L213.8 120L216.2 134.2L217.8 150.4L218.5 169.5" fill="none" stroke="#000" stroke-linejoin="round" stroke-width="2" filter="url(#fC45)"/><path d="M93 22L101.5 22L99.5 60L91 60Z" filter="url(#fC65)"/><use href="#r26" fill="#E00000"/><use href="#r26" filter="url(#fO20)"/><use href="#r26" filter="url(#fD10)"/><ellipse cx="177.3" cy="43.9" rx="4.2" ry="1.9" transform="rotate(35 177.3 43.9)" fill="#00FFFF"/><ellipse cx="177.3" cy="43.9" rx="2.2" ry="0.8" transform="rotate(35 177.3 43.9)" fill="#000085"/><path d="M113.6 58.7h1.6v1.2h-1.6zM60.4 40.8h1.6v1.2h-1.6zM37.8 52.8h1.6v1.2h-1.6zM182.9 46.4h1.6v1.2h-1.6zM205.1 29h1.6v1.2h-1.6zM169.1 47.8h1.6v1.2h-1.6zM146 38.6h1.6v1.2h-1.6zM198 71.3h1.6v1.2h-1.6zM124.8 52.5h1.6v1.2h-1.6zM42.1 55h1.6v1.2h-1.6zM159.4 74.5h1.6v1.2h-1.6zM194.4 27.1h1.6v1.2h-1.6zM107.2 52.8h1.6v1.2h-1.6zM34.5 38.9h1.6v1.2h-1.6zM63.6 15.8h1.6v1.2h-1.6zM41.8 59.5h1.6v1.2h-1.6zM55.9 24.6h1.6v1.2h-1.6zM108.2 66.4h1.6v1.2h-1.6zM46.1 38.1h1.6v1.2h-1.6zM139.9 67.2h1.6v1.2h-1.6zM193.9 65.9h1.6v1.2h-1.6zM85.7 35.8h1.6v1.2h-1.6zM101.8 67.2h1.6v1.2h-1.6zM221.5 18.1h1.6v1.2h-1.6zM65.2 23.5h1.6v1.2h-1.6zM76.7 40.5h1.6v1.2h-1.6z" fill="#00FFFF" opacity=".8"/></g><rect x="0" y="0" width="234.5" height="169.5" fill="none" stroke="#222" stroke-width="1"/></g><text class="cap" x="380.9" y="203" text-anchor="middle">(b)</text><g transform="translate(520.5 6.2)"><g clip-path="url(#cpc)"><rect width="234.5" height="169.5" fill="#000085"/><path d="M193.5 78L205 76L222 82L234.5 92L234.5 133L228 141L222 150L217 140L213.8 120L208 100L202 89Z" filter="url(#fC5)"/><path d="M208 95L219 92L234.5 102L234.5 130L224 135L217 125L213 108Z" filter="url(#fC5)"/><path d="M30.5 169.5L31.2 150L32.6 128.8L33.6 103L37 96.5L41.5 93L48 91.7L61.4 92.6L70 94L75.5 93.4L81.5 88.5" fill="none" stroke="#000" stroke-linejoin="round" stroke-width="5.3" filter="url(#fC60)"/><path d="M81.5 88.5L87 78.4L92.3 67.5L94.5 61L98 60.5L101.9 63L107 67L112.6 70.9L123.4 72.8L134.2 72.2L145 71.6L155.8 72.2L166.5 71.5L177.3 70.8L185 72.8L193.5 78.5L202 89L208 100L211.3 109L213.8 120L216.2 134.2L217.8 150.4L218.5 169.5" fill="none" stroke="#000" stroke-linejoin="round" stroke-width="1.6" filter="url(#fC60)"/><path d="M13 0L21 6.2L25 10.2L23.7 18.3L19.7 19.7L25 23.7L26.5 35.8L28.5 35.5L30.4 26.4L37.2 21.5L48 21L57.4 25L62 30L65.5 33.5L69 34.5L72.2 33.1L80.3 29.1L88.4 27.8L94 29.5L97.8 31.5L101.5 30L104 28.5L103 23L110 19.7L112.6 10.2L110 0" fill="none" stroke="#000" stroke-linejoin="round" stroke-width="1.4" filter="url(#fC60)"/><g filter="url(#rough)"><use href="#r27" fill="#5CFF4A"/><use href="#r27" filter="url(#fO25)"/><use href="#r27" filter="url(#fC10)"/><use href="#r27" filter="url(#fR10)"/><use href="#r27" filter="url(#fN5)"/><use href="#r28" fill="#000085"/><use href="#r28" filter="url(#fC40)"/><use href="#r28" filter="url(#fG15)"/><use href="#r28" filter="url(#fO5)"/><use href="#r29" fill="#000085"/><use href="#r29" filter="url(#fC25)"/><use href="#r29" filter="url(#fG5)"/><use href="#r30" fill="#000085"/><use href="#r30" filter="url(#fC45)"/><use href="#r30" filter="url(#fG10)"/><use href="#r30" filter="url(#fB3)"/><use href="#r31" fill="#000085"/><use href="#r31" filter="url(#fC10)"/><use href="#r31" filter="url(#fG3)"/><use href="#r32" fill="#000085"/><use href="#r32" filter="url(#fC10)"/><use href="#r32" filter="url(#fG3)"/><use href="#r33" fill="#000085"/><use href="#r33" filter="url(#fC45)"/><use href="#r33" filter="url(#fG10)"/><use href="#r33" filter="url(#fO5)"/><use href="#r34" fill="#E00000"/><use href="#r34" filter="url(#fD10)"/><use href="#r34" filter="url(#fO10)"/><use href="#r34" filter="url(#fG5)"/><use href="#r34" filter="url(#fC5)"/><use href="#r35" fill="#5CFF4A"/><use href="#r35" filter="url(#fC35)"/><use href="#r35" filter="url(#fN10)"/><use href="#r35" filter="url(#fO5)"/><use href="#r36" fill="#5CFF4A"/><use href="#r36" filter="url(#fC35)"/><use href="#r36" filter="url(#fN10)"/><use href="#r36" filter="url(#fO5)"/><use href="#r37" fill="#5CFF4A"/><use href="#r37" filter="url(#fC25)"/><use href="#r37" filter="url(#fO10)"/><use href="#r37" filter="url(#fR5)"/><use href="#r37" filter="url(#fN5)"/><use href="#r38" fill="#5CFF4A"/><use href="#r38" filter="url(#fC25)"/><use href="#r38" filter="url(#fN5)"/><use href="#r38" filter="url(#fO5)"/><use href="#r39" fill="#5CFF4A"/><use href="#r39" filter="url(#fC25)"/><use href="#r39" filter="url(#fO5)"/><use href="#r39" filter="url(#fN5)"/></g><path d="M30.5 169.5L31.2 150L32.6 128.8L33.6 103L37 96.5L41.5 93L48 91.7L61.4 92.6L70 94L75.5 93.4L81.5 88.5L87 78.4L92.3 67.5L94.5 61L98 60.5L101.9 63L107 67L112.6 70.9L123.4 72.8L134.2 72.2L145 71.6L155.8 72.2L166.5 71.5L177.3 70.8L185 72.8L193.5 78.5L202 89L208 100L211.3 109L213.8 120L216.2 134.2L217.8 150.4L218.5 169.5" fill="none" stroke="#000" stroke-linejoin="round" stroke-width="1.2" filter="url(#fC40)"/><use href="#r40" fill="#000085"/><use href="#r40" filter="url(#fC30)"/><use href="#r41" fill="#00FFFF"/><use href="#r41" filter="url(#fG40)"/><use href="#r41" filter="url(#fN10)"/><ellipse cx="177.3" cy="43.9" rx="4.2" ry="1.9" transform="rotate(35 177.3 43.9)" fill="#00FFFF"/><path d="M147.8 25.6h1.6v1.2h-1.6zM30.8 36.1h1.6v1.2h-1.6zM103.9 45.9h1.6v1.2h-1.6zM220.6 54.3h1.6v1.2h-1.6zM133.1 49.4h1.6v1.2h-1.6zM165.2 11.6h1.6v1.2h-1.6zM209.9 60.3h1.6v1.2h-1.6zM204.9 61.5h1.6v1.2h-1.6zM108.5 34.7h1.6v1.2h-1.6z" fill="#00FFFF" opacity=".8"/></g><rect x="0" y="0" width="234.5" height="169.5" fill="none" stroke="#222" stroke-width="1"/></g><text class="cap" x="637.4" y="203" text-anchor="middle">(c)</text><g transform="translate(777.2 6.2)"><g clip-path="url(#cpd)"><rect width="234.5" height="169.5" fill="#000085"/><path d="M193.5 78L205 76L222 82L234.5 92L234.5 133L228 141L222 150L217 140L213.8 120L208 100L202 89Z" filter="url(#fC5)"/><path d="M208 95L219 92L234.5 102L234.5 130L224 135L217 125L213 108Z" filter="url(#fC5)"/><path d="M30.5 169.5L31.2 150L32.6 128.8L33.6 103L37 96.5L41.5 93L48 91.7L61.4 92.6L70 94L75.5 93.4L81.5 88.5" fill="none" stroke="#000" stroke-linejoin="round" stroke-width="5.3" filter="url(#fC60)"/><path d="M81.5 88.5L87 78.4L92.3 67.5L94.5 61L98 60.5L101.9 63L107 67L112.6 70.9L123.4 72.8L134.2 72.2L145 71.6L155.8 72.2L166.5 71.5L177.3 70.8L185 72.8L193.5 78.5L202 89L208 100L211.3 109L213.8 120L216.2 134.2L217.8 150.4L218.5 169.5" fill="none" stroke="#000" stroke-linejoin="round" stroke-width="1.6" filter="url(#fC60)"/><path d="M13 0L21 6.2L25 10.2L23.7 18.3L19.7 19.7L25 23.7L26.5 35.8L28.5 35.5L30.4 26.4L37.2 21.5L48 21L57.4 25L62 30L65.5 33.5L69 34.5L72.2 33.1L80.3 29.1L88.4 27.8L94 29.5L97.8 31.5L101.5 30L104 28.5L103 23L110 19.7L112.6 10.2L110 0" fill="none" stroke="#000" stroke-linejoin="round" stroke-width="1.4" filter="url(#fC60)"/><g filter="url(#rough)"><use href="#r42" fill="#5CFF4A"/><use href="#r42" filter="url(#fC35)"/><use href="#r42" filter="url(#fB10)"/><use href="#r42" filter="url(#fR5)"/><use href="#r42" filter="url(#fN5)"/><use href="#r43" fill="#00FFFF"/><use href="#r43" filter="url(#fN30)"/><use href="#r43" filter="url(#fG20)"/><use href="#r43" filter="url(#fB10)"/><use href="#r43" filter="url(#fR5)"/><use href="#r44" fill="#00FFFF"/><use href="#r44" filter="url(#fB35)"/><use href="#r44" filter="url(#fG20)"/><use href="#r44" filter="url(#fN10)"/><use href="#r44" filter="url(#fR5)"/><use href="#r45" fill="#00FFFF"/><use href="#r45" filter="url(#fB25)"/><use href="#r45" filter="url(#fG20)"/><use href="#r45" filter="url(#fN5)"/><use href="#r45" filter="url(#fR5)"/><use href="#r46" fill="#000085"/><use href="#r46" filter="url(#fC35)"/><use href="#r46" filter="url(#fB5)"/><use href="#r46" filter="url(#fG3)"/><use href="#r47" fill="#000085"/><use href="#r47" filter="url(#fC35)"/><use href="#r47" filter="url(#fB5)"/><use href="#r47" filter="url(#fG3)"/><use href="#r48" fill="#00FFFF"/><use href="#r48" filter="url(#fN30)"/><use href="#r48" filter="url(#fG20)"/><use href="#r48" filter="url(#fB10)"/><use href="#r48" filter="url(#fR3)"/><use href="#r49" fill="#E00000"/><use href="#r49" filter="url(#fD20)"/><use href="#r49" filter="url(#fB15)"/><use href="#r49" filter="url(#fC15)"/><use href="#r49" filter="url(#fG5)"/><use href="#r50" fill="#5CFF4A"/><use href="#r50" filter="url(#fC45)"/><use href="#r50" filter="url(#fB10)"/><use href="#r50" filter="url(#fR5)"/><use href="#r51" fill="#5CFF4A"/><use href="#r51" filter="url(#fC45)"/><use href="#r51" filter="url(#fB10)"/><use href="#r51" filter="url(#fR5)"/><use href="#r52" fill="#5CFF4A"/><use href="#r52" filter="url(#fC35)"/><use href="#r52" filter="url(#fR10)"/><use href="#r52" filter="url(#fB10)"/><use href="#r52" filter="url(#fN5)"/><use href="#r53" fill="#5CFF4A"/><use href="#r53" filter="url(#fC35)"/><use href="#r53" filter="url(#fB10)"/><use href="#r53" filter="url(#fR5)"/><use href="#r54" fill="#5CFF4A"/><use href="#r54" filter="url(#fC40)"/><use href="#r54" filter="url(#fB10)"/><use href="#r54" filter="url(#fO5)"/><use href="#r54" filter="url(#fN5)"/></g><path d="M30.5 169.5L31.2 150L32.6 128.8L33.6 103L37 96.5L41.5 93L48 91.7L61.4 92.6L70 94L75.5 93.4L81.5 88.5L87 78.4L92.3 67.5L94.5 61L98 60.5L101.9 63L107 67L112.6 70.9L123.4 72.8L134.2 72.2L145 71.6L155.8 72.2L166.5 71.5L177.3 70.8L185 72.8L193.5 78.5L202 89L208 100L211.3 109L213.8 120L216.2 134.2L217.8 150.4L218.5 169.5" fill="none" stroke="#000" stroke-linejoin="round" stroke-width="1.2" filter="url(#fC40)"/><use href="#r55" fill="#1F5FFF"/><use href="#r55" filter="url(#fC30)"/><use href="#r55" filter="url(#fN15)"/><use href="#r56" fill="#00FFFF"/><use href="#r56" filter="url(#fG40)"/><use href="#r56" filter="url(#fN10)"/><ellipse cx="177.3" cy="43.9" rx="4.2" ry="1.9" transform="rotate(35 177.3 43.9)" fill="#00FFFF"/><path d="M50.7 50.5h1.6v1.2h-1.6zM42.4 12.5h1.6v1.2h-1.6zM71.8 18.9h1.6v1.2h-1.6zM98 11.5h1.6v1.2h-1.6zM30 18.1h1.6v1.2h-1.6zM50.3 32.4h1.6v1.2h-1.6zM35.1 66.6h1.6v1.2h-1.6zM152.8 18h1.6v1.2h-1.6zM80.5 31.3h1.6v1.2h-1.6z" fill="#00FFFF" opacity=".8"/></g><rect x="0" y="0" width="234.5" height="169.5" fill="none" stroke="#222" stroke-width="1"/></g><text class="cap" x="894.1" y="203" text-anchor="middle">(d)</text><text class="lab" x="37.5" y="89" text-anchor="middle">A</text><text class="lab" x="187" y="41.6" text-anchor="middle">B</text><text class="lab" x="120.7" y="56.8" text-anchor="middle">C</text><g transform="translate(87.5 222)"><rect width="50.6" height="48.4" fill="#000085"/><path d="M10.12 -0.05H30.41V9.73H10.12ZM0.00 9.63H40.53V19.41H0.00ZM10.12 19.31H50.65V29.09H10.12ZM20.24 28.99H50.65V38.77H20.24ZM20.24 38.67H50.65V48.45H20.24Z" fill="#00FFFF"/><rect width="50.6" height="48.4" fill="none" stroke="#333" stroke-width=".8"/></g><g transform="translate(6.6 284.4)"><rect width="131.5" height="133.4" fill="#000085"/><path d="M5.06 -0.05H40.51V5.39H5.06ZM0.00 5.29H45.57V10.72H0.00ZM0.00 10.62H20.28V16.06H0.00ZM40.46 10.62H50.63V16.06H40.46ZM0.00 15.96H20.28V21.39H0.00ZM40.46 15.96H60.74V21.39H40.46ZM0.00 21.29H20.28V26.73H0.00ZM45.52 21.29H65.80V26.73H45.52ZM0.00 26.63H15.22V32.07H0.00ZM45.52 26.63H70.86V32.07H45.52ZM0.00 31.97H15.22V37.40H0.00ZM45.52 31.97H70.86V37.40H45.52ZM5.06 37.30H15.22V42.74H5.06ZM55.63 37.30H80.97V42.74H55.63ZM5.06 42.64H20.28V48.07H5.06ZM55.63 42.64H86.03V48.07H55.63ZM5.06 47.97H30.40V53.41H5.06ZM55.63 47.97H65.80V53.41H55.63ZM91.04 47.97H106.26V53.41H91.04ZM10.12 53.31H45.57V58.75H10.12ZM55.63 53.31H65.80V58.75H55.63ZM91.04 53.31H106.26V58.75H91.04ZM111.27 53.31H116.38V58.75H111.27ZM15.17 58.65H50.63V64.08H15.17ZM55.63 58.65H65.80V64.08H55.63ZM91.04 58.65H121.43V64.08H91.04ZM20.23 63.98H65.80V69.42H20.23ZM25.29 69.32H55.68V74.75H25.29ZM60.69 69.32H65.80V74.75H60.69ZM121.38 69.32H131.55V74.75H121.38ZM25.29 74.65H50.63V80.09H25.29ZM60.69 74.65H80.97V80.09H60.69ZM121.38 74.65H131.55V80.09H121.38ZM25.29 79.99H55.68V85.43H25.29ZM60.69 79.99H65.80V85.43H60.69ZM121.38 79.99H126.49V85.43H121.38ZM25.29 85.33H65.80V90.76H25.29ZM30.35 90.66H80.97V96.10H30.35ZM35.40 96.00H86.03V101.43H35.40ZM106.21 96.00H116.38V101.43H106.21ZM45.52 101.33H91.09V106.77H45.52ZM106.21 101.33H116.38V106.77H106.21ZM50.58 106.67H116.38V112.11H50.58ZM55.63 112.01H116.38V117.44H55.63ZM60.69 117.34H111.32V122.78H60.69ZM85.98 122.68H111.32V128.11H85.98ZM85.98 128.01H101.20V133.45H85.98Z" fill="#00FFFF"/><path d="M20.23 10.62H40.51V16.06H20.23ZM20.23 15.96H40.51V21.39H20.23ZM20.23 21.29H45.57V26.73H20.23ZM15.17 26.63H45.57V32.07H15.17ZM15.17 31.97H45.57V37.40H15.17ZM15.17 37.30H55.68V42.74H15.17ZM20.23 42.64H55.68V48.07H20.23ZM30.35 47.97H55.68V53.41H30.35ZM45.52 53.31H55.68V58.75H45.52ZM50.58 58.65H55.68V64.08H50.58ZM91.04 63.98H116.38V69.42H91.04ZM55.63 69.32H60.74V74.75H55.63ZM96.10 69.32H121.43V74.75H96.10ZM50.58 74.65H60.74V80.09H50.58ZM80.92 74.65H91.09V80.09H80.92ZM96.10 74.65H121.43V80.09H96.10ZM55.63 79.99H60.74V85.43H55.63ZM65.75 79.99H80.97V85.43H65.75ZM96.10 79.99H121.43V85.43H96.10ZM65.75 85.33H80.97V90.76H65.75ZM96.10 85.33H121.43V90.76H96.10ZM80.92 90.66H121.43V96.10H80.92ZM85.98 96.00H91.09V101.43H85.98ZM101.15 96.00H106.26V101.43H101.15ZM91.04 101.33H96.15V106.77H91.04ZM101.15 101.33H106.26V106.77H101.15Z" fill="#0000E6"/><path d="M65.75 47.97H91.09V53.41H65.75ZM65.75 53.31H91.09V58.75H65.75ZM65.75 58.65H91.09V64.08H65.75ZM65.75 63.98H91.09V69.42H65.75ZM80.92 69.32H91.09V74.75H80.92Z" fill="#800000"/><path d="M65.75 69.32H80.97V74.75H65.75ZM91.04 69.32H96.15V74.75H91.04ZM91.04 74.65H96.15V80.09H91.04ZM91.04 79.99H96.15V85.43H91.04ZM91.04 85.33H96.15V90.76H91.04Z" fill="#E00000"/><path d="M80.92 79.99H91.09V85.43H80.92ZM80.92 85.33H91.09V90.76H80.92ZM91.04 96.00H101.20V101.43H91.04ZM96.10 101.33H101.20V106.77H96.10Z" fill="#5CFF4A"/><path d="M30.35 26.63H35.45V32.07H30.35ZM75.87 53.31H80.97V58.75H75.87ZM75.87 63.98H80.97V69.42H75.87ZM85.98 63.98H91.09V69.42H85.98Z" fill="#E00000"/><rect width="131.5" height="133.4" fill="none" stroke="#333" stroke-width=".8"/></g><g transform="translate(344.2 221)"><rect width="50.6" height="48.4" fill="#000085"/><path d="M10.12 9.63H40.53V19.41H10.12ZM20.24 19.31H30.41V29.09H20.24Z" fill="#00FFFF"/><rect width="50.6" height="48.4" fill="none" stroke="#333" stroke-width=".8"/></g><g transform="translate(263.3 283.4)"><rect width="131.5" height="133.4" fill="#000085"/><path d="M15.17 -0.05H40.51V5.39H15.17ZM15.17 5.29H25.34V10.72H15.17ZM40.46 5.29H45.57V10.72H40.46ZM5.06 10.62H20.28V16.06H5.06ZM40.46 10.62H50.63V16.06H40.46ZM5.06 15.96H15.22V21.39H5.06ZM40.46 15.96H50.63V21.39H40.46ZM5.06 21.29H15.22V26.73H5.06ZM40.46 21.29H50.63V26.73H40.46ZM5.06 26.63H10.17V32.07H5.06ZM45.52 26.63H55.68V32.07H45.52ZM45.52 31.97H60.74V37.40H45.52ZM5.06 37.30H10.17V42.74H5.06ZM50.58 37.30H70.86V42.74H50.58ZM5.06 42.64H20.28V48.07H5.06ZM55.63 42.64H70.86V48.07H55.63ZM5.06 47.97H25.34V53.41H5.06ZM55.63 47.97H60.74V53.41H55.63ZM91.04 47.97H106.26V53.41H91.04ZM111.27 47.97H116.38V53.41H111.27ZM10.12 53.31H50.63V58.75H10.12ZM55.63 53.31H65.80V58.75H55.63ZM91.04 53.31H121.43V58.75H91.04ZM30.35 58.65H50.63V64.08H30.35ZM55.63 58.65H65.80V64.08H55.63ZM106.21 58.65H131.55V64.08H106.21ZM35.40 63.98H50.63V69.42H35.40ZM60.69 63.98H65.80V69.42H60.69ZM116.33 63.98H126.49V69.42H116.33ZM35.40 69.32H50.63V74.75H35.40ZM60.69 69.32H65.80V74.75H60.69ZM121.38 69.32H131.55V74.75H121.38ZM35.40 74.65H50.63V80.09H35.40ZM60.69 74.65H80.97V80.09H60.69ZM121.38 74.65H131.55V80.09H121.38ZM35.40 79.99H50.63V85.43H35.40ZM60.69 79.99H65.80V85.43H60.69ZM70.81 79.99H75.92V85.43H70.81ZM35.40 85.33H65.80V90.76H35.40ZM35.40 90.66H80.97V96.10H35.40ZM45.52 96.00H65.80V101.43H45.52ZM70.81 96.00H86.03V101.43H70.81ZM106.21 96.00H116.38V101.43H106.21ZM50.58 101.33H91.09V106.77H50.58ZM101.15 101.33H116.38V106.77H101.15ZM55.63 106.67H75.92V112.11H55.63ZM85.98 106.67H111.32V112.11H85.98ZM55.63 112.01H75.92V117.44H55.63ZM85.98 112.01H111.32V117.44H85.98ZM91.04 117.34H101.20V122.78H91.04Z" fill="#00FFFF"/><path d="M25.29 5.29H40.51V10.72H25.29ZM20.23 10.62H40.51V16.06H20.23ZM15.17 15.96H40.51V21.39H15.17ZM15.17 21.29H40.51V26.73H15.17ZM35.40 26.63H45.57V32.07H35.40ZM5.06 31.97H10.17V37.40H5.06ZM35.40 31.97H45.57V37.40H35.40ZM30.35 37.30H50.63V42.74H30.35ZM20.23 42.64H55.68V48.07H20.23ZM25.29 47.97H50.63V53.41H25.29ZM50.58 58.65H55.68V64.08H50.58ZM50.58 63.98H60.74V69.42H50.58ZM106.21 63.98H116.38V69.42H106.21ZM50.58 69.32H60.74V74.75H50.58ZM116.33 69.32H121.43V74.75H116.33ZM50.58 74.65H60.74V80.09H50.58ZM111.27 74.65H121.43V80.09H111.27ZM50.58 79.99H55.68V85.43H50.58ZM111.27 79.99H121.43V85.43H111.27ZM106.21 85.33H121.43V90.76H106.21ZM116.33 90.66H121.43V96.10H116.33ZM65.75 96.00H70.86V101.43H65.75Z" fill="#0000E6"/><path d="M10.12 26.63H35.45V32.07H10.12ZM10.12 31.97H35.45V37.40H10.12ZM10.12 37.30H30.40V42.74H10.12ZM50.58 47.97H55.68V53.41H50.58ZM60.69 47.97H65.80V53.41H60.69ZM50.58 53.31H55.68V58.75H50.58ZM91.04 58.65H106.26V64.08H91.04ZM91.04 63.98H106.26V69.42H91.04ZM80.92 74.65H91.09V80.09H80.92ZM55.63 79.99H60.74V85.43H55.63ZM65.75 79.99H70.86V85.43H65.75ZM75.87 79.99H86.03V85.43H75.87ZM65.75 85.33H91.09V90.76H65.75ZM80.92 90.66H91.09V96.10H80.92ZM85.98 96.00H106.26V101.43H85.98ZM91.04 101.33H101.20V106.77H91.04Z" fill="#5CFF4A"/><path d="M65.75 47.97H91.09V53.41H65.75ZM65.75 53.31H91.09V58.75H65.75ZM65.75 58.65H91.09V64.08H65.75ZM65.75 63.98H91.09V69.42H65.75ZM65.75 69.32H91.09V74.75H65.75Z" fill="#800000"/><path d="M91.04 69.32H116.38V74.75H91.04ZM91.04 74.65H111.32V80.09H91.04ZM91.04 79.99H111.32V85.43H91.04ZM91.04 85.33H106.26V90.76H91.04ZM91.04 90.66H116.38V96.10H91.04Z" fill="#E00000"/><path d="M85.98 79.99H91.09V85.43H85.98Z" fill="#FF6A00"/><path d="M75.87 63.98H80.97V69.42H75.87Z" fill="#E00000"/><rect width="131.5" height="133.4" fill="none" stroke="#333" stroke-width=".8"/></g><g transform="translate(601.1 220.3)"><rect width="50.6" height="48.4" fill="#000085"/><path d="M10.12 9.63H30.41V19.41H10.12ZM20.24 19.31H50.65V29.09H20.24ZM20.24 28.99H50.65V38.77H20.24ZM20.24 38.67H50.65V48.45H20.24Z" fill="#00FFFF"/><rect width="50.6" height="48.4" fill="none" stroke="#333" stroke-width=".8"/></g><g transform="translate(520.2 282.7)"><rect width="131.5" height="133.4" fill="#000085"/><path d="M0.00 -0.05H20.28V5.39H0.00ZM0.00 5.29H30.40V10.72H0.00ZM40.46 5.29H45.57V10.72H40.46ZM0.00 10.62H65.80V16.06H0.00ZM0.00 15.96H40.51V21.39H0.00ZM45.52 15.96H50.63V21.39H45.52ZM55.63 15.96H65.80V21.39H55.63ZM0.00 21.29H40.51V26.73H0.00ZM55.63 21.29H65.80V26.73H55.63ZM0.00 26.63H30.40V32.07H0.00ZM35.40 26.63H40.51V32.07H35.40ZM55.63 26.63H70.86V32.07H55.63ZM0.00 31.97H5.11V37.40H0.00ZM10.12 31.97H30.40V37.40H10.12ZM35.40 31.97H40.51V37.40H35.40ZM60.69 31.97H70.86V37.40H60.69ZM0.00 37.30H45.57V42.74H0.00ZM65.75 37.30H80.97V42.74H65.75ZM10.12 42.64H45.57V48.07H10.12ZM65.75 42.64H80.97V48.07H65.75ZM10.12 47.97H45.57V53.41H10.12ZM60.69 47.97H65.80V53.41H60.69ZM91.04 47.97H101.20V53.41H91.04ZM15.17 53.31H45.57V58.75H15.17ZM50.58 53.31H60.74V58.75H50.58ZM91.04 53.31H101.20V58.75H91.04ZM15.17 58.65H55.68V64.08H15.17ZM60.69 58.65H65.80V64.08H60.69ZM91.04 58.65H101.20V64.08H91.04ZM15.17 63.98H65.80V69.42H15.17ZM20.23 69.32H55.68V74.75H20.23ZM60.69 69.32H65.80V74.75H60.69ZM91.04 69.32H116.38V74.75H91.04ZM20.23 74.65H55.68V80.09H20.23ZM91.04 74.65H116.38V80.09H91.04ZM25.29 79.99H60.74V85.43H25.29ZM96.10 79.99H116.38V85.43H96.10ZM25.29 85.33H65.80V90.76H25.29ZM96.10 85.33H116.38V90.76H96.10ZM30.35 90.66H60.74V96.10H30.35ZM91.04 90.66H111.32V96.10H91.04ZM35.40 96.00H80.97V101.43H35.40ZM116.33 96.00H121.43V101.43H116.33ZM45.52 101.33H91.09V106.77H45.52ZM116.33 101.33H121.43V106.77H116.33ZM50.58 106.67H91.09V112.11H50.58ZM111.27 106.67H121.43V112.11H111.27ZM55.63 112.01H91.09V117.44H55.63ZM106.21 112.01H116.38V117.44H106.21ZM60.69 117.34H96.15V122.78H60.69ZM101.15 117.34H116.38V122.78H101.15ZM65.75 122.68H111.32V128.11H65.75ZM75.87 128.01H111.32V133.45H75.87Z" fill="#00FFFF"/><path d="M40.46 15.96H45.57V21.39H40.46ZM40.46 21.29H50.63V26.73H40.46ZM30.35 26.63H35.45V32.07H30.35ZM40.46 26.63H45.57V32.07H40.46ZM30.35 31.97H35.45V37.40H30.35ZM40.46 31.97H45.57V37.40H40.46ZM45.52 47.97H50.63V53.41H45.52ZM45.52 53.31H50.63V58.75H45.52ZM70.81 74.65H91.09V80.09H70.81ZM60.69 79.99H65.80V85.43H60.69ZM70.81 79.99H91.09V85.43H70.81ZM70.81 85.33H91.09V90.76H70.81ZM70.81 90.66H91.09V96.10H70.81ZM101.15 96.00H111.32V101.43H101.15ZM101.15 101.33H106.26V106.77H101.15ZM101.15 106.67H106.26V112.11H101.15Z" fill="#0000E6"/><path d="M50.58 15.96H55.68V21.39H50.58ZM50.58 21.29H55.68V26.73H50.58ZM45.52 26.63H55.68V32.07H45.52ZM45.52 31.97H60.74V37.40H45.52ZM45.52 37.30H65.80V42.74H45.52ZM45.52 42.64H65.80V48.07H45.52ZM50.58 47.97H60.74V53.41H50.58ZM55.63 58.65H60.74V64.08H55.63ZM91.04 63.98H116.38V69.42H91.04ZM55.63 69.32H60.74V74.75H55.63ZM55.63 74.65H70.86V80.09H55.63ZM65.75 79.99H70.86V85.43H65.75ZM91.04 79.99H96.15V85.43H91.04ZM65.75 85.33H70.86V90.76H65.75ZM91.04 85.33H96.15V90.76H91.04ZM60.69 90.66H70.86V96.10H60.69ZM80.92 96.00H101.20V101.43H80.92ZM111.27 96.00H116.38V101.43H111.27ZM91.04 101.33H101.20V106.77H91.04ZM106.21 101.33H116.38V106.77H106.21ZM91.04 106.67H101.20V112.11H91.04ZM106.21 106.67H111.32V112.11H106.21ZM91.04 112.01H106.26V117.44H91.04ZM96.10 117.34H101.20V122.78H96.10Z" fill="#5CFF4A"/><rect width="131.5" height="133.4" fill="none" stroke="#333" stroke-width=".8"/></g><g transform="translate(858 225.3)"><rect width="50.6" height="48.4" fill="#000085"/><path d="M20.24 38.67H50.65V48.45H20.24Z" fill="#00FFFF"/><rect width="50.6" height="48.4" fill="none" stroke="#333" stroke-width=".8"/></g><g transform="translate(777.1 287.7)"><rect width="131.5" height="133.4" fill="#000085"/><path d="M0.00 -0.05H25.34V5.39H0.00ZM0.00 5.29H40.51V10.72H0.00ZM0.00 10.62H20.28V16.06H0.00ZM45.52 10.62H55.68V16.06H45.52ZM0.00 15.96H15.22V21.39H0.00ZM55.63 15.96H60.74V21.39H55.63ZM0.00 21.29H15.22V26.73H0.00ZM60.69 21.29H65.80V26.73H60.69ZM0.00 26.63H15.22V32.07H0.00ZM60.69 26.63H70.86V32.07H60.69ZM0.00 31.97H20.28V37.40H0.00ZM60.69 31.97H70.86V37.40H60.69ZM5.06 37.30H25.34V42.74H5.06ZM65.75 37.30H75.92V42.74H65.75ZM5.06 42.64H30.40V48.07H5.06ZM65.75 42.64H75.92V48.07H65.75ZM10.12 47.97H30.40V53.41H10.12ZM65.75 47.97H70.86V53.41H65.75ZM10.12 53.31H25.34V58.75H10.12ZM65.75 53.31H70.86V58.75H65.75ZM91.04 53.31H96.15V58.75H91.04ZM15.17 58.65H25.34V64.08H15.17ZM70.81 58.65H101.20V64.08H70.81ZM15.17 63.98H25.34V69.42H15.17ZM70.81 63.98H116.38V69.42H70.81ZM20.23 69.32H25.34V74.75H20.23ZM80.92 69.32H111.32V74.75H80.92ZM20.23 74.65H25.34V80.09H20.23ZM91.04 74.65H111.32V80.09H91.04ZM25.29 79.99H30.40V85.43H25.29ZM80.92 79.99H86.03V85.43H80.92ZM91.04 79.99H111.32V85.43H91.04ZM25.29 85.33H35.45V90.76H25.29ZM91.04 85.33H111.32V90.76H91.04ZM30.35 90.66H50.63V96.10H30.35ZM91.04 90.66H106.26V96.10H91.04ZM35.40 96.00H75.92V101.43H35.40ZM111.27 96.00H116.38V101.43H111.27ZM50.58 101.33H86.03V106.77H50.58ZM111.27 101.33H116.38V106.77H111.27ZM55.63 106.67H86.03V112.11H55.63ZM111.27 106.67H116.38V112.11H111.27ZM55.63 112.01H86.03V117.44H55.63ZM111.27 112.01H116.38V117.44H111.27ZM70.81 117.34H116.38V122.78H70.81ZM75.87 122.68H111.32V128.11H75.87ZM75.87 128.01H101.20V133.45H75.87Z" fill="#00FFFF"/><path d="M20.23 10.62H45.57V16.06H20.23ZM15.17 15.96H55.68V21.39H15.17ZM15.17 21.29H60.74V26.73H15.17ZM15.17 26.63H60.74V32.07H15.17ZM20.23 31.97H60.74V37.40H20.23ZM25.29 37.30H65.80V42.74H25.29ZM30.35 42.64H65.80V48.07H30.35ZM30.35 47.97H65.80V53.41H30.35ZM50.58 53.31H65.80V58.75H50.58ZM50.58 58.65H70.86V64.08H50.58ZM50.58 63.98H70.86V69.42H50.58ZM30.35 69.32H40.51V74.75H30.35ZM50.58 69.32H80.97V74.75H50.58ZM50.58 74.65H75.92V80.09H50.58ZM85.98 74.65H91.09V80.09H85.98ZM30.35 79.99H75.92V85.43H30.35ZM85.98 79.99H91.09V85.43H85.98ZM35.40 85.33H75.92V90.76H35.40ZM85.98 85.33H91.09V90.76H85.98ZM50.58 90.66H70.86V96.10H50.58ZM75.87 90.66H91.09V96.10H75.87ZM75.87 96.00H111.32V101.43H75.87ZM85.98 101.33H111.32V106.77H85.98ZM85.98 106.67H111.32V112.11H85.98ZM85.98 112.01H111.32V117.44H85.98Z" fill="#5CFF4A"/><path d="M25.29 53.31H50.63V58.75H25.29ZM25.29 58.65H50.63V64.08H25.29ZM25.29 63.98H50.63V69.42H25.29ZM25.29 69.32H30.40V74.75H25.29ZM40.46 69.32H50.63V74.75H40.46ZM25.29 74.65H50.63V80.09H25.29ZM75.87 74.65H86.03V80.09H75.87ZM75.87 79.99H80.97V85.43H75.87ZM75.87 85.33H86.03V90.76H75.87ZM70.81 90.66H75.92V96.10H70.81Z" fill="#0000E6"/><path d="M25.29 15.96H30.40V21.39H25.29ZM45.52 31.97H50.63V37.40H45.52ZM45.52 37.30H50.63V42.74H45.52ZM40.46 47.97H45.57V53.41H40.46ZM101.15 106.67H106.26V112.11H101.15ZM91.04 112.01H96.15V117.44H91.04ZM101.15 112.01H106.26V117.44H101.15Z" fill="#0000E6"/><path d="M40.46 26.63H45.57V32.07H40.46ZM40.46 31.97H45.57V37.40H40.46Z" fill="#E00000"/><rect width="131.5" height="133.4" fill="none" stroke="#333" stroke-width=".8"/></g><g transform="translate(154.8 222.1)"><g clip-path="url(#cca)"><rect width="86.5" height="197.0" fill="#000085"/><path d="M0 0L86.5 0L86.5 6L73 15L63 23L60 31L53.4 42.4L55 47L58 49L80 51L82 58L75 63L65 66L63 72L60 85L58.2 94L58.2 126L55 142L50 158.5L48.5 170L63 175L76 183L84 191L86.5 197L19.4 197L21 191L25.9 176L24.3 166.6L27.5 126L29 94L32.4 84.4L34 58.5L35.6 50.4L19.4 47.2L11.4 44L0 43.2Z" fill="#00FFFF"/><use href="#r57" fill="#00FFFF"/><use href="#r57" filter="url(#fB35x17)"/><use href="#r57" filter="url(#fG15x17)"/><use href="#r57" filter="url(#fR3x17)"/><use href="#r58" fill="#00FFFF"/><use href="#r58" filter="url(#fB15x17)"/><use href="#r58" filter="url(#fG5x17)"/><use href="#r59" fill="#0000E6"/><use href="#r59" filter="url(#fC45x17)"/><use href="#r59" filter="url(#fG20x17)"/><use href="#r59" filter="url(#fR5x17)"/><path d="M53.4 58.5H61.4V101.8H53.4ZM50.9 108.4H57.4V115.7H50.9ZM43.7 137.5H50.1V161.7H43.7ZM29.9 93.9H38V124.6H29.9ZM33 74H36V92H33ZM8.1 135.1H27.5V140.7H8.1ZM19.4 55.3H22.4V60.1H19.4Z" fill="#0000E6"/><path d="M12 135.1H13.5V140.7H12ZM17 135.1H18.2V140.7H17Z" fill="#9fd0ff" opacity=".8"/><path d="M22.4 55.3H35V60.1H22.4ZM31.5 97H35V103H31.5Z" fill="#E00000"/><path d="M42 13.3L52.5 13.3L52.5 42.4L53.4 58.5L51.7 71.4L50.1 101.8L46.9 110L43.7 134.3L42 166.6L38.8 174.7L30.7 174.7L27.5 166.6L27.5 134.3L34 126.2L37.2 110L38.8 93.9L40.4 101.8L37.6 71.4L37.2 58.5L39.5 42.4L42 26.2Z" fill="#E00000"/><path d="M43.7 17.3H49.3V23H43.7ZM40.4 40.7H46.9V47.2H40.4ZM46.1 52H52.5V61.7H46.1ZM42 81.1H48.5V97.3H42ZM38.8 113.3H43.7V124.6H38.8ZM27.5 132.7H42V142.4H27.5ZM30.7 163.4H38.8V171.4H30.7Z" fill="#800000"/></g><rect width="86.5" height="197.0" fill="none" stroke="#333" stroke-width=".8"/></g><g transform="translate(411.5 221.1)"><g clip-path="url(#ccb)"><rect width="86.5" height="197.0" fill="#000085"/><path d="M0 0L86.5 0L86.5 6L73 15L63 23L60 31L53.4 42.4L55 47L58 49L80 51L82 58L75 63L65 66L63 72L60 85L58.2 94L58.2 126L55 142L50 158.5L48.5 170L63 175L76 183L84 191L86.5 197L19.4 197L21 191L25.9 176L24.3 166.6L27.5 126L29 94L32.4 84.4L34 58.5L35.6 50.4L19.4 47.2L11.4 44L0 43.2Z" fill="#00FFFF"/><use href="#r60" fill="#00FFFF"/><use href="#r60" filter="url(#fG25x17)"/><use href="#r60" filter="url(#fB5x17)"/><use href="#r60" filter="url(#fO5x17)"/><use href="#r61" fill="#00FFFF"/><use href="#r61" filter="url(#fG15x17)"/><use href="#r61" filter="url(#fO5x17)"/><use href="#r61" filter="url(#fB5x17)"/><use href="#r62" fill="#00FFFF"/><use href="#r62" filter="url(#fG35x17)"/><use href="#r62" filter="url(#fB20x17)"/><use href="#r62" filter="url(#fO5x17)"/><use href="#r63" fill="#5CFF4A"/><use href="#r63" filter="url(#fC20x30)"/><use href="#r63" filter="url(#fO10x30)"/><use href="#r64" fill="#FF6A00"/><use href="#r64" filter="url(#fR30x30)"/><use href="#r64" filter="url(#fG10x30)"/><path d="M44 13.3L51 13.3L51 42L51.5 58L49.5 71L48 101L44.5 112L42 134L40.5 166L38 174L32.5 174L30.5 166L32.5 140L37 126L40 110L42 94L40.5 71L40 58L42 42L44 26Z" fill="#E00000"/><path d="M19.4 55.3H35V60.1H19.4Z" fill="#E00000"/><path d="M16 135.1H27.5V140.7H16Z" fill="#5CFF4A"/><path d="M8.1 135.1H16V140.7H8.1Z" fill="#0000E6"/><path d="M43.7 17.3H49.3V23H43.7ZM42 40.7H48V52H42ZM45 52H51.5V66H45ZM42 81.1H47.5V110H42ZM38.8 113.3H43.7V132H38.8ZM29 132.7H42V142.4H29ZM31.5 160H38.8V171.4H31.5Z" fill="#800000"/></g><rect width="86.5" height="197.0" fill="none" stroke="#333" stroke-width=".8"/></g><g transform="translate(668.4 220.4)"><g clip-path="url(#ccc)"><rect width="86.5" height="197.0" fill="#000085"/><path d="M0 0L84.8 0L84.8 7L70 7L66.2 16.7L58.1 24.8L56.5 40.9L53.3 49L46.8 52.6L40.3 49.4L33.9 55.9L25.8 52.6L14.5 46.2L0 44.6Z" fill="#00FFFF"/><use href="#r65" fill="#5CFF4A"/><use href="#r65" filter="url(#fO10x17)"/><use href="#r65" filter="url(#fR5x17)"/><use href="#r65" filter="url(#fC5x17)"/><path d="M42 16.7H49.2V23.2H42ZM40.3 40.9H45.2V47.4H40.3Z" fill="#000085"/><path d="M56.5 53.9L64.6 51.4L79.1 55.5L80.7 60.3L72.7 65.2L64.6 68.4L61.4 79.7L63 92.6L59.7 99.1L53.3 102.3L51.7 86.2L54.9 66.8L53.3 60.3Z" fill="#00FFFF"/><path d="M60.5 57H66V61H60.5ZM55.5 70H59.5V84H55.5Z" fill="#000085"/><path d="M46.9 52.4H53.4V59.6H46.9Z" fill="#800000"/><path d="M50 60H52V100H50ZM44 100H46.6V166H44ZM55.9 100H58.5V150H55.9ZM46.8 109H58V112.5H46.8ZM42 134H56.5V139H42ZM40.3 157H53.3V172H40.3ZM44 118H48V123H44ZM52 146H57V151H52Z" filter="url(#fC60x30)"/><path d="M21 197L22.6 186.2L27.4 174.9L40.3 169L53.3 170L64.6 176.5L77.5 181.3L84 192.6L84.8 197Z" fill="#00FFFF"/><use href="#r66" fill="#5CFF4A"/><use href="#r66" filter="url(#fC10x17)"/><use href="#r66" filter="url(#fO5x17)"/><use href="#r66" filter="url(#fB5x17)"/></g><rect width="86.5" height="197.0" fill="none" stroke="#333" stroke-width=".8"/></g><g transform="translate(925.3 225.4)"><g clip-path="url(#ccd)"><rect width="86.5" height="197.0" fill="#000085"/><path d="M0 0L86 0L86 6L72 6L69.4 12.9L63.8 27.4L62.2 35.5L54.1 43.5L52.5 48.4L39.5 51L33.1 55.9L25 51L12.1 47.8L0 43.7Z" fill="#00FFFF"/><use href="#r67" fill="#00FFFF"/><use href="#r67" filter="url(#fB15x17)"/><use href="#r67" filter="url(#fG5x17)"/><use href="#r68" fill="#5CFF4A"/><use href="#r68" filter="url(#fB15x17)"/><use href="#r68" filter="url(#fC5x17)"/><use href="#r68" filter="url(#fR5x17)"/><path d="M41 17H49V24H41ZM40 38H46V46H40Z" fill="#000085"/><path d="M47 36H52V48H47Z" fill="#5CFF4A"/><path d="M46 49.6L50.9 49.6L50.9 70.6L46 70.6ZM42.8 75.5L49.2 75.5L46.8 102.6L41.2 102.6ZM41.2 102.6L46.8 102.6L41.2 149.6L35.5 149.6ZM31.5 157.7H41.2V169H31.5Z" fill="#1F5FFF"/><path d="M52.5 78.7H60.6V102.6H52.5ZM54 102.6L60 102.6L58.9 118L52 159.3L44 159.3L47.6 125ZM55.7 51.2L63 52L68.6 60L66 68L58 70.6L56 67L62 64L63.5 59L60 55.5ZM41.2 152L52 152L50 172L38 172ZM27 160H36V166H27Z" fill="#00FFFF"/><path d="M21.8 197L23.4 185.2L28.2 175.5L41.2 168.6L47.6 170.2L60.6 176.1L73.5 183L83.2 192.6L85.6 197Z" fill="#00FFFF"/><use href="#r69" fill="#5CFF4A"/><use href="#r69" filter="url(#fB15x17)"/><use href="#r69" filter="url(#fC5x17)"/><use href="#r69" filter="url(#fR5x17)"/></g><rect width="86.5" height="197.0" fill="none" stroke="#333" stroke-width=".8"/></g><text class="lab" x="95.5" y="268" text-anchor="middle">A</text><text class="lab" x="13.8" y="415" text-anchor="middle">B</text><text class="lab" x="162.8" y="416.2" text-anchor="middle">C</text><rect x="31.9" y="445.2" width="211.1" height="165.6" fill="#fff"/><g clip-path="url(#cve)"><path d="M137.4 518.8L221.9 518.8L221.9 506.8L137.4 500.4Z" fill="#E00000"/><path d="M137.4 505.9L221.9 511.4L221.9 482L137.4 459.9Z" fill="url(#grer)"/><path d="M137.4 537.2L221.9 537.2L221.9 518.8L137.4 518.8Z" fill="#0000F0"/><path d="M137.4 610.8L221.9 610.8L221.9 537.2L137.4 537.2Z" fill="#00F2F2"/><path d="M221.9 537.2L247.2 537.2L247.2 509.6L221.9 509.6Z" fill="#50F050"/><path d="M221.9 610.8L247.2 610.8L247.2 537.2L221.9 537.2Z" fill="#00F2F2"/><path d="M221.9 509.6L247.2 509.6L247.2 485.7L221.9 485.7Z" fill="url(#greo)"/><path d="M95.2 523.4L137.4 523.4L137.4 445.2L95.2 445.2Z" fill="url(#gred)"/><path d="M53 603.4L52.6 596.1L57.2 591.5L74.1 586L95.2 579L116.3 572.5L137.4 567L137.4 581.4L116.3 590L95.2 597.4L74.1 602.9L61.5 604.5Z" fill="#000080"/></g><path transform="scale(.5)" d="M159 892zm1-1zm12 0zm36 1zm17-1zm-86 5zm12 3zm22-5zm20 1zm15 1zm4 3zm19-3zm6 0zm-114 9zm1-4zm14 1zm6-1zm8 3zm2-2zm0 1zm15 2zm7-3zm2 1zm16 2zm3 0zm2 0zm61-2zm-126 4zm2 0zm0 1zm4 1zm5 2zm1-2zm21 2zm14 0zm5-3zm0 2zm1-3zm13 2zm7 2zm5-1zm7 0zm-85 7zm4-3zm2 3zm1-3zm3-1zm3 0zm5 2zm2 1zm12 0zm4 1zm2-2zm3-1zm5-1zm2 2zm0 2zm7 0zm1-2zm4-1zm2 3zm1-3zm9 2zm11-4zm3 5zm1 0zm7-5zm5 3zm8-1zm15 3zm-130 4zm1 2zm3-4zm5 1zm6 1zm3-1zm5-1zm1 0zm1 3zm1-2zm2 1zm5 2zm3-3zm16-2zm1 1zm2 4zm1-5zm2 3zm5 2zm3-4zm5 1zm0 1zm1-2zm1 3zm6 0zm3-3zm14 2zm4-3zm1 3zm1 0zm9 2zm18 0zm9 0zm7-1zm-135 5zm7-3zm1 2zm0 3zm1-4zm2 2zm4-3zm3 0zm3 3zm1 0zm4-1zm3 3zm6-4zm3 4zm1-4zm0 3zm1-2zm2 1zm1-2zm0 1zm0 2zm1-1zm0 2zm2-5zm4 4zm2 1zm1-3zm2 0zm5 0zm1-1zm3-1zm2 3zm5-1zm2-2zm2 4zm1-2zm1 0zm6 3zm6-5zm0 3zm0 2zm1-4zm2 4zm9 0zm6 0zm1-4zm0 4zm16-4zm2 4zm10-1zm-148 4zm0 3zm2-5zm4 1zm4-1zm2 0zm0 1zm0 1zm3 2zm3-4zm1 1zm6 4zm4-4zm8 0zm2-1zm2 0zm5 1zm1 3zm1-2zm1 0zm1 1zm1-1zm4 2zm1-3zm1 0zm2 0zm0 1zm1-2zm0 1zm0 1zm1 0zm0 3zm4-4zm0 1zm0 2zm1-2zm1 3zm1-1zm2 1zm1-4zm1 0zm1 0zm2 4zm2-3zm0 1zm1-3zm0 1zm1 0zm1-1zm1 2zm2-1zm1 2zm2-3zm0 4zm4-2zm3 3zm1 0zm8 0zm1-2zm1-1zm4 0zm3 1zm0 1zm2-2zm6 0zm1 0zm9-1zm0 1zm4-2zm4 4zm-131 2zm1 0zm0 5zm1 0zm2-5zm2 1zm3 4zm9-3zm4 0zm2 1zm2-2zm0 1zm1 1zm1 1zm0 1zm6-1zm2-4zm1 4zm2-4zm0 3zm3 1zm1-3zm1 4zm7-2zm3-3zm0 3zm0 2zm1-5zm1 2zm0 3zm1-5zm0 1zm2 3zm1-3zm1 1zm0 2zm1 0zm1 0zm4-3zm1 2zm2 1zm1-4zm0 1zm2 0zm0 2zm1 2zm4 0zm2-2zm1 1zm1-3zm1 1zm3-2zm0 2zm1 0zm2 0zm0 3zm1-2zm5 1zm7-4zm0 5zm1 0zm2-3zm2-1zm0 1zm4-2zm2 3zm1-2zm1 4zm1-1zm1-2zm1 1zm5 0zm3-3zm3 5zm2-1zm5-4zm-137 8zm1 3zm1 0zm2 0zm3-1zm2 1zm1-4zm7 4zm1-5zm15 1zm1 3zm1-2zm1 3zm1-1zm4-3zm0 4zm1-1zm1 1zm3-4zm1-1zm1 0zm1 0zm0 1zm2-1zm3 2zm1 1zm2-2zm2 4zm1-4zm0 2zm1-3zm2 3zm1-3zm0 3zm0 2zm1-1zm1 0zm1-4zm0 4zm0 1zm1-3zm0 3zm2-4zm0 3zm0 1zm3-5zm0 2zm1 3zm1-3zm0 1zm0 1zm1-1zm0 1zm3-1zm2 1zm1 0zm1-1zm1-2zm1 4zm2-2zm3-3zm1 3zm1-1zm5 3zm1 0zm1-2zm0 1zm2-4zm1 2zm0 1zm2-2zm0 2zm1-1zm0 1zm1-1zm3 1zm1-3zm0 3zm1 2zm1-5zm0 1zm0 3zm0 1zm2-5zm2 2zm0 3zm2-2zm0 1zm2-3zm2 3zm5-2zm0 1zm1 0zm2-1zm7 0zm6 1zm0 2zm-141 2zm5 2zm2-2zm1 0zm3 1zm14 1zm3 1zm0 1zm1-3zm3 0zm0 2zm3-3zm4 2zm3 1zm3-4zm2 2zm0 1zm0 2zm1 0zm2-5zm3 1zm2 0zm0 3zm1 0zm2-4zm0 1zm0 3zm0 1zm4-4zm0 2zm1-1zm0 3zm1 0zm2-5zm0 4zm1 0zm3-3zm0 2zm2-3zm0 5zm2-4zm1 0zm1 0zm1 0zm0 1zm0 3zm1 0zm1-4zm2-1zm0 2zm0 1zm0 1zm1-4zm2 2zm1-2zm0 4zm1-2zm4-1zm0 1zm0 3zm1-5zm0 2zm2-1zm0 1zm1-2zm0 5zm1-1zm1-2zm1-1zm0 1zm1-1zm0 1zm1 0zm1-1zm0 3zm0 1zm1-2zm0 2zm1-4zm0 2zm3 1zm1 1zm2-1zm1 0zm1-1zm0 1zm1 1zm2 0zm1-2zm1 1zm0 1zm1-1zm1-2zm2 2zm1-3zm0 4zm2-4zm0 3zm5-3zm0 1zm1 1zm4 1zm1-1zm3 2zm3-2zm1-3zm0 3zm-146 7zm7 1zm3-1zm9-1zm2 0zm2 1zm3-1zm1-1zm0 1zm5 2zm1-4zm1 0zm1 3zm3-2zm3-2zm0 2zm2 3zm4-2zm1-3zm1 0zm0 1zm1 0zm0 1zm1-1zm0 2zm0 1zm1 1zm1 0zm3-1zm1-4zm4 3zm0 2zm1-2zm2 0zm0 2zm2-5zm0 3zm1-3zm0 1zm0 3zm1 1zm1-5zm0 4zm1-4zm0 1zm0 3zm1-3zm1-1zm0 1zm0 3zm1-3zm0 2zm0 1zm1-3zm1-1zm0 5zm1-5zm1 0zm0 2zm0 2zm0 1zm1-5zm0 1zm2-1zm1 3zm0 1zm0 1zm1-3zm0 2zm0 1zm1-2zm1-2zm0 3zm0 1zm1-5zm1 2zm1-2zm0 5zm2-5zm0 3zm0 2zm1-1zm1-4zm0 4zm0 1zm1-1zm1-1zm0 2zm1-3zm0 1zm1-2zm0 3zm1-1zm0 1zm1 1zm1-3zm0 2zm0 1zm1-4zm0 4zm1 0zm1-5zm3 5zm2-3zm1-1zm0 1zm0 3zm1-3zm1-2zm3 1zm0 1zm0 2zm1-4zm0 1zm0 1zm0 1zm1-2zm1-1zm0 2zm2-1zm1 1zm3-1zm0 3zm2 0zm1 1zm1-4zm0 4zm3-5zm1 3zm2-1zm3 2zm2-4zm0 1zm0 3zm1-4zm2 0zm2 1zm2 1zm0 1zm1-1zm1-1zm2 4zm1-4zm1-1zm-136 7zm3 0zm1 1zm4 3zm1-4zm1-1zm4 0zm0 3zm1 1zm6-1zm3 0zm4 1zm1 0zm2-2zm1 0zm1 1zm2 0zm1 0zm1-2zm0 4zm1-1zm1 0zm1 1zm1 0zm1-3zm0 3zm3-3zm1-2zm2 2zm1-1zm1 1zm1-2zm1 1zm0 2zm0 2zm1-2zm0 2zm1-4zm1 4zm1-3zm0 2zm1-3zm0 1zm2 0zm0 2zm0 1zm1-2zm0 1zm0 1zm1-4zm0 3zm1-4zm0 5zm2 0zm2-3zm0 1zm0 2zm1-2zm0 2zm1-3zm1-2zm0 4zm0 1zm3-3zm1 2zm0 1zm1-2zm1-1zm0 3zm3-4zm0 2zm0 2zm2-1zm0 1zm1-3zm1 0zm0 2zm1 0zm0 1zm1-5zm0 2zm0 2zm1 0zm1-1zm0 1zm1 1zm1-4zm0 2zm1-2zm0 1zm0 1zm0 2zm1-4zm0 3zm1-2zm0 3zm1-5zm0 3zm0 2zm2-3zm0 1zm0 2zm2 0zm1-4zm0 2zm2 1zm1-2zm0 1zm2 0zm0 1zm1-1zm1-3zm0 1zm0 1zm0 2zm0 1zm1-3zm1 2zm1-3zm0 3zm1-4zm1 1zm0 1zm1 0zm1 1zm2 0zm2-2zm0 1zm1-2zm0 1zm0 1zm1-2zm0 1zm0 4zm1-5zm0 1zm0 3zm0 1zm2 0zm1-2zm1 0zm0 2zm2 0zm1-5zm0 2zm3 2zm0 1zm2-2zm2-3zm1 0zm-132 7zm2 2zm7-3zm0 5zm6-2zm1 0zm2 1zm1 1zm1-2zm2 1zm2 1zm1-2zm1 2zm5-4zm0 3zm1-2zm1-2zm2 0zm1 2zm1 0zm1-1zm0 2zm0 1zm4-3zm0 1zm0 3zm1-3zm1 0zm0 2zm1-4zm0 5zm3 0zm1 0zm2-3zm2 3zm1-2zm1-3zm0 1zm1 4zm1-4zm0 4zm1-1zm1 0zm0 1zm1-5zm0 3zm0 2zm1-3zm1-2zm1 0zm0 3zm0 2zm1-5zm0 2zm0 1zm1-3zm0 2zm1-2zm0 5zm1-3zm1-2zm0 5zm1-2zm1-3zm1 1zm0 1zm2-2zm2 4zm0 1zm1-3zm1 0zm0 1zm0 1zm1 0zm0 1zm1-2zm1 1zm1-2zm0 2zm1-3zm1-1zm0 1zm0 3zm0 1zm1-4zm0 2zm1 0zm1-3zm1 4zm1-3zm1 0zm1-1zm0 1zm0 2zm1-3zm0 1zm1 2zm0 2zm1-2zm0 1zm1-4zm0 3zm1-2zm1 3zm1-1zm0 2zm1-5zm0 5zm1-4zm0 3zm1-4zm0 5zm1-2zm1 0zm2 0zm0 1zm1-3zm0 3zm1-4zm1 1zm2 2zm0 1zm1-1zm0 2zm1-2zm1-3zm0 1zm0 1zm0 1zm0 1zm1-4zm0 1zm1-1zm0 1zm0 2zm0 1zm1-2zm0 1zm1-3zm1 2zm1 1zm1 2zm1-5zm2 1zm0 1zm0 1zm1 2zm1-4zm0 2zm0 2zm1-5zm0 5zm1-2zm1 1zm0 1zm1-5zm1 1zm0 1zm5 0zm1 1zm0 1zm0 1zm1-4zm-137 6zm0 1zm5 1zm2-1zm2 1zm11 0zm1-1zm2-2zm0 3zm1-1zm1 3zm1-5zm3 0zm3 1zm3 1zm0 2zm1-4zm0 1zm1 2zm0 2zm2-4zm0 2zm1 2zm1-3zm0 1zm1-2zm1 1zm0 1zm1-2zm0 1zm0 1zm1-3zm0 4zm1-4zm0 1zm0 1zm0 1zm1-1zm1-1zm2 0zm0 1zm0 3zm1-4zm1-1zm0 1zm0 3zm1-3zm0 1zm3-1zm1-1zm0 2zm0 2zm2-3zm0 1zm1-2zm1 2zm4-2zm0 4zm1 1zm1-4zm1 1zm0 1zm0 1zm0 1zm1-5zm0 1zm0 3zm1-3zm0 1zm1-1zm2-1zm0 2zm2-1zm0 2zm0 1zm0 1zm1 0zm1 0zm1-5zm1 2zm1 2zm0 1zm1-4zm1 1zm0 2zm0 1zm1-2zm0 1zm0 1zm1-5zm0 3zm0 1zm1 1zm1-5zm0 3zm1 0zm0 1zm0 1zm1-5zm0 5zm1-4zm0 3zm1-1zm0 1zm0 1zm1-3zm0 3zm2-5zm0 2zm1-2zm0 1zm1-1zm0 1zm0 1zm0 3zm1-5zm0 4zm1-1zm0 1zm1 0zm1-4zm0 1zm0 1zm1-1zm0 1zm1 0zm0 1zm0 1zm1-4zm0 1zm0 1zm0 2zm1-4zm0 1zm0 2zm0 1zm0 1zm1-4zm0 4zm1-1zm1-2zm1-1zm1 2zm1-3zm0 1zm2 0zm0 2zm1 2zm1-1zm1-4zm0 2zm0 2zm1 1zm1-4zm0 3zm1-4zm1 0zm0 1zm1 1zm0 1zm0 1zm1-4zm0 2zm0 3zm1-3zm0 2zm1-1zm0 2zm1-5zm0 5zm1-5zm0 2zm0 2zm1-4zm0 4zm1-3zm0 2zm1 0zm1 1zm1-4zm0 2zm1 1zm1 0zm1 2zm2-5zm0 2zm0 2zm1-1zm1-1zm1 3zm-148 2zm11 3zm2-3zm4 3zm7-1zm1-2zm6 4zm1-5zm3 1zm4 4zm1 0zm2-3zm5-2zm6 1zm3 2zm1 2zm1 0zm1-3zm1-2zm1 3zm1-2zm1-1zm1 5zm1-5zm0 4zm1-2zm2-1zm0 2zm2-3zm0 3zm1 0zm1-1zm1 0zm0 2zm1-1zm1-1zm0 1zm0 1zm3 0zm1 0zm1 0zm0 1zm1-4zm0 3zm0 1zm1-1zm2-1zm0 2zm1-3zm0 2zm1-3zm1 0zm1 3zm0 1zm1-5zm0 3zm0 1zm1-2zm1-1zm0 2zm1-3zm0 3zm0 2zm1-5zm0 3zm1-1zm0 1zm0 1zm1 1zm1-4zm2 0zm0 2zm0 2zm1-5zm0 1zm1-1zm0 4zm1-2zm0 2zm1-1zm0 2zm1-5zm0 4zm1-1zm0 2zm1-4zm0 2zm0 2zm1-5zm0 2zm0 1zm0 1zm0 1zm1-1zm2-3zm0 3zm0 1zm1-2zm0 2zm1-4zm0 2zm1-3zm0 5zm1-5zm0 2zm0 2zm1-2zm1-2zm0 1zm0 4zm1-4zm0 1zm0 3zm1 0zm1-4zm1 0zm1 0zm0 1zm0 1zm0 2zm1-4zm0 4zm1-4zm0 1zm0 2zm1-4zm0 2zm0 1zm2-3zm0 3zm1-3zm0 4zm1-3zm0 2zm1 2zm1-4zm0 4zm1-3zm0 3zm1-4zm0 1zm0 1zm0 2zm1-3zm0 1zm1-1zm0 2zm1-3zm1-1zm0 1zm0 4zm1-3zm1 0zm0 1zm1-1zm0 2zm1 0zm1 1zm1-5zm0 2zm0 3zm1-1zm1-4zm0 1zm0 3zm1-2zm0 2zm1-4zm0 1zm0 1zm0 1zm0 1zm1-4zm1 3zm0 2zm-125 5zm11-1zm2 2zm7-5zm1 2zm0 2zm4-2zm1 2zm3 1zm1-5zm1 0zm1 5zm2-5zm0 5zm3-2zm0 1zm1-3zm1 1zm1-2zm1 5zm2-3zm2 1zm0 2zm1-2zm3 0zm2-3zm0 3zm1-3zm0 1zm1 0zm1 1zm0 3zm1-3zm0 1zm2-3zm0 2zm1-2zm0 3zm1-3zm0 2zm1 1zm0 2zm1-5zm0 4zm0 1zm1-2zm1-1zm0 2zm0 1zm1-4zm0 2zm0 2zm1-4zm0 2zm1-1zm0 1zm0 1zm1-3zm1 2zm0 1zm1-3zm0 1zm1-2zm0 2zm0 2zm1-2zm1-2zm0 2zm1-1zm0 2zm1-1zm0 3zm1-5zm0 5zm1-5zm0 3zm1-2zm0 1zm0 2zm1-2zm0 1zm1-2zm0 2zm0 1zm0 1zm1-4zm0 2zm0 1zm1-3zm0 1zm0 1zm0 1zm1-4zm0 2zm0 2zm0 1zm1-5zm0 1zm0 1zm0 1zm1-3zm1 0zm0 2zm0 1zm1 0zm0 2zm1-4zm0 4zm1-5zm0 1zm0 1zm0 3zm1-5zm0 1zm0 1zm0 3zm2-5zm0 1zm0 3zm1 1zm1-5zm0 1zm0 1zm0 1zm1-3zm0 1zm0 1zm1-2zm0 1zm0 3zm2-4zm0 3zm1-2zm0 3zm1 0zm0 1zm1-3zm0 1zm1-3zm0 1zm0 1zm1-1zm0 3zm0 1zm1-5zm0 3zm0 2zm1-5zm0 1zm1-1zm0 1zm0 1zm0 1zm1-2zm0 3zm1-2zm0 1zm0 1zm0 1zm1-4zm0 1zm0 1zm0 1zm1-4zm0 1zm1 3zm0 1zm1-2zm0 1zm1-3zm0 4zm1-4zm0 1zm0 1zm1 2zm1-5zm0 4zm0 1zm1-5zm0 3zm1-1zm0 1zm1 0zm1-3zm0 4zm0 1zm1-4zm0 1zm0 2zm2-4zm0 1zm0 1zm0 1zm1-3zm0 1zm0 1zm0 1zm0 2zm1-3zm0 2zm0 1zm1-4zm1-1zm0 5zm-131 1zm3 0zm1 5zm7-4zm4 1zm5-2zm4 5zm6-3zm2-1zm3 1zm3 1zm1 0zm0 1zm1 0zm4 1zm2-4zm1 4zm1-2zm0 2zm1-5zm0 4zm1-4zm0 1zm0 1zm1 1zm0 1zm0 1zm1-5zm0 2zm1-1zm2 2zm2-2zm2 1zm2 1zm1-1zm1-1zm0 3zm0 1zm2-3zm0 1zm1 1zm3 0zm1-2zm0 3zm1-2zm0 2zm1-5zm0 1zm0 2zm1 1zm1-1zm0 1zm1-2zm0 2zm2-4zm1 3zm1-3zm0 3zm0 1zm0 1zm1-4zm1 0zm0 4zm1-5zm0 1zm1-1zm0 3zm0 1zm1-1zm0 1zm1-4zm0 3zm0 2zm1-5zm0 2zm0 2zm1-3zm0 4zm1-5zm0 1zm1 2zm0 1zm1-4zm0 2zm0 1zm0 2zm1-1zm1-4zm0 5zm1-5zm0 1zm1 2zm0 1zm2-2zm0 2zm0 1zm2-4zm0 1zm0 2zm0 1zm1-5zm0 2zm0 2zm1-4zm0 1zm0 1zm0 2zm0 1zm1-4zm0 1zm0 2zm1-4zm0 1zm1-1zm0 1zm0 1zm0 1zm0 1zm0 1zm2-5zm0 5zm1-5zm0 1zm0 2zm1-2zm0 2zm1-2zm0 1zm0 2zm1 1zm1-4zm0 1zm1-1zm1-1zm0 2zm0 3zm1-1zm0 1zm1-4zm0 1zm0 1zm1-2zm0 3zm0 1zm1-4zm0 4zm1-4zm0 2zm0 1zm1-4zm0 1zm0 2zm0 1zm1-4zm1 2zm0 1zm1 0zm0 1zm1-4zm0 4zm0 1zm1-3zm0 1zm0 1zm1-2zm1-2zm0 4zm1-4zm0 1zm0 3zm0 1zm1-2zm1-3zm0 1zm0 1zm0 3zm1-3zm0 1zm1-2zm0 2zm0 2zm1 0zm-140 3zm21 0zm1-2zm11 3zm3-2zm3 0zm2 3zm2-1zm5 1zm2-1zm10-2zm1 0zm1 1zm0 3zm1-2zm0 1zm3-1zm2 1zm1 0zm2-2zm1-2zm0 3zm1-1zm0 1zm1 0zm1-3zm0 3zm0 1zm0 1zm2-5zm0 3zm0 1zm1-2zm0 1zm2-1zm1 2zm1-3zm1-1zm1 1zm0 1zm1-1zm0 2zm0 2zm1-4zm0 1zm1 0zm0 1zm1-2zm0 2zm1-2zm0 4zm1-5zm0 3zm1-1zm2 0zm1-2zm0 3zm0 2zm1-4zm0 2zm0 1zm1-4zm0 2zm1 0zm1-2zm1 0zm0 2zm0 3zm1-5zm0 1zm1 0zm0 2zm1 2zm1-4zm0 1zm1 1zm0 1zm2-2zm1 0zm0 3zm1-3zm1-1zm0 1zm0 3zm1-4zm0 3zm1-3zm1-1zm0 1zm0 2zm0 2zm1-5zm0 1zm1 0zm0 3zm0 1zm1-3zm0 1zm0 1zm1-1zm0 1zm0 1zm1-4zm0 4zm1-3zm0 2zm1-2zm1 3zm1-5zm1 1zm1 0zm0 1zm0 2zm0 1zm1-5zm1 0zm0 2zm0 1zm0 1zm0 1zm1-5zm0 1zm0 1zm1-2zm0 3zm0 2zm1-5zm0 2zm0 2zm0 1zm1-4zm0 1zm0 1zm0 2zm1-4zm0 1zm0 2zm1-2zm0 1zm1-2zm0 3zm1-3zm1-1zm0 2zm0 1zm0 1zm1-4zm0 3zm1-3zm0 2zm0 3zm1-5zm0 1zm0 1zm0 1zm1-3zm0 3zm1-3zm0 1zm0 1zm0 3zm-108 4zm8-3zm3 1zm0 2zm2 0zm5 1zm3-3zm1 4zm3-1zm7-4zm0 3zm3 0zm1 0zm0 1zm1-4zm0 4zm1-2zm1 3zm1-2zm0 2zm1-4zm1 2zm1-1zm0 3zm1 0zm2-4zm0 1zm1-1zm0 4zm1-2zm1-3zm0 2zm1-1zm0 3zm1-2zm0 1zm3-2zm0 4zm1-4zm0 4zm1-3zm1-2zm0 5zm1-5zm0 1zm1-1zm0 1zm0 1zm0 1zm0 1zm1 0zm1-4zm0 2zm1 1zm0 2zm1-5zm0 2zm0 1zm0 2zm1-5zm0 4zm1-4zm0 1zm0 2zm0 1zm0 1zm1-3zm0 2zm1-4zm0 2zm0 2zm0 1zm1-2zm1-2zm0 3zm0 1zm1-4zm0 3zm1-1zm1-3zm0 1zm0 4zm1-3zm1-2zm0 2zm0 1zm1 0zm0 1zm1-3zm0 3zm1 0zm1-1zm0 1zm1-3zm1 1zm0 1zm1-3zm0 2zm0 2zm1 1zm1-5zm0 1zm0 1zm1-1zm0 3zm1-2zm0 2zm1-4zm0 4zm0 1zm1-4zm0 4zm1-4zm0 1zm0 1zm0 2zm1-5zm0 3zm1-2zm0 2zm0 1zm1-2zm0 1zm2-3zm0 1zm0 4zm1-1zm1 0zm0 1zm2-4zm1-1zm0 2zm1 0zm0 2zm0 1zm1-3zm0 1zm1-2zm0 3zm1-2zm0 3zm1-1zm0 1zm1-3zm1-1zm0 1zm0 1zm1-3zm0 1zm0 1zm0 1zm1 0zm0 2zm1-5zm0 1zm0 2zm0 1zm1-3zm0 3zm-117 3zm8 2zm14-3zm4 1zm8-1zm3 3zm2 2zm7-2zm4 0zm1-3zm0 1zm3 4zm2-5zm0 5zm1 0zm1-2zm1-1zm2 1zm1 0zm1-3zm0 1zm0 1zm4-1zm0 2zm1-3zm0 2zm0 2zm1-4zm0 2zm0 1zm1-2zm0 3zm0 1zm1-5zm2 1zm0 3zm1-2zm1 1zm1-3zm1 2zm0 2zm1 0zm1-2zm0 1zm1 0zm0 2zm1 0zm1-4zm0 2zm1-3zm0 3zm0 1zm0 1zm1-5zm0 4zm1-1zm0 1zm0 1zm1-3zm0 2zm1-4zm0 1zm0 2zm1 2zm1-2zm2-1zm0 3zm1-5zm0 1zm0 1zm0 3zm1-2zm0 1zm0 1zm1-4zm0 3zm1-4zm0 3zm0 2zm1-4zm0 1zm0 1zm1-3zm0 3zm0 1zm1-2zm0 3zm1-3zm0 1zm0 1zm0 1zm1-5zm0 1zm0 4zm1-2zm0 1zm1-3zm0 1zm0 2zm1-4zm0 2zm0 2zm1-4zm0 1zm0 4zm1-5zm0 1zm0 3zm1-3zm1 0zm0 2zm1-2zm0 4zm1-5zm0 1zm0 2zm0 1zm0 1zm1-3zm0 1zm0 1zm1 0zm0 1zm1-4zm0 2zm0 2zm1-3zm0 2zm0 1zm1-5zm0 1zm0 1zm0 1zm1-2zm0 1zm0 2zm1-4zm0 1zm0 1zm0 3zm-113 6zm19-4zm4 4zm7-3zm3-1zm0 2zm1 2zm9-4zm4 1zm3 0zm2 1zm2 0zm2-3zm0 4zm1-1zm2-2zm0 2zm0 1zm1-3zm0 3zm1-3zm0 4zm1-3zm2 0zm1-1zm1 2zm0 1zm1-3zm0 4zm1-2zm2-1zm0 2zm1-4zm0 2zm1-2zm0 2zm0 2zm0 1zm2-5zm1 1zm0 3zm1-2zm0 3zm1-5zm0 2zm1 0zm0 3zm1-4zm0 2zm1-2zm0 1zm0 3zm1-4zm0 2zm1-3zm0 2zm0 2zm0 1zm1-3zm0 1zm1 2zm1-4zm0 4zm1-3zm1-1zm0 1zm0 3zm1-4zm0 1zm0 1zm1-2zm0 2zm0 1zm1-4zm0 2zm0 2zm1-1zm1-2zm0 2zm1-1zm0 1zm1-1zm0 2zm1-1zm1-3zm0 2zm0 2zm1-4zm0 2zm1-2zm0 2zm0 1zm0 1zm0 1zm1-5zm0 1zm2 1zm0 1zm0 1zm0 1zm1-5zm0 3zm0 2zm1-5zm0 2zm0 2zm1-4zm0 2zm1-2zm0 3zm1-3zm0 4zm1-2zm0 1zm0 1zm0 1zm1-4zm0 1zm1 1zm1-2zm0 1zm0 3zm1-3zm0 1zm1 2zm1-4zm0 1zm0 1zm0 1zm1-2zm0 1zm-95 3zm4 4zm1-3zm16 3zm3-3zm0 1zm5 3zm1 0zm2-2zm4-2zm0 1zm0 3zm1-5zm0 5zm2-5zm1 0zm2 1zm0 2zm1-3zm3 0zm1 0zm0 2zm0 1zm0 1zm1 0zm2-4zm2 3zm1-2zm0 1zm1-2zm0 1zm0 2zm0 1zm1-2zm0 1zm0 2zm1-1zm1-4zm1 3zm0 2zm1-4zm1 4zm1 0zm1-5zm1 0zm1 2zm1 0zm0 1zm1-3zm0 1zm1-1zm2 0zm0 5zm1-2zm1 0zm0 1zm1-4zm1 2zm0 3zm1-3zm0 3zm1-4zm0 1zm0 1zm1-3zm0 3zm0 1zm2-4zm0 2zm0 1zm0 1zm2 0zm1-3zm0 1zm1 0zm0 2zm1-4zm0 1zm0 3zm1-4zm0 2zm1 1zm1 1zm0 1zm1-4zm0 2zm1-2zm0 3zm0 1zm1-3zm1 3zm1-4zm0 1zm1-1zm1 0zm0 1zm0 1zm0 2zm1-5zm0 2zm0 1zm0 2zm1-3zm0 1zm-86 5zm2-1zm12 3zm3-4zm0 5zm1-1zm8-4zm0 4zm2-1zm2 0zm4-3zm1 2zm0 1zm3 1zm1-1zm1 1zm2 1zm1-5zm0 1zm0 1zm1-1zm1 0zm1 2zm1 0zm0 1zm2-3zm0 4zm1-1zm1-4zm0 5zm1-3zm1 1zm1-3zm2 0zm0 1zm0 1zm2-2zm0 5zm1-4zm1-1zm0 5zm1-1zm1-1zm2-3zm0 3zm1-3zm1 4zm1-2zm2 1zm2-2zm1 2zm1-2zm0 4zm1-3zm0 2zm1-4zm0 1zm0 4zm1-5zm0 1zm0 2zm1-1zm0 2zm1-4zm0 2zm0 2zm1-4zm0 1zm0 2zm0 2zm1-3zm0 3zm1-5zm0 1zm0 3zm0 1zm1-5zm0 5zm1 0zm1 0zm1-4zm0 1zm0 2zm1-4zm0 1zm-83 5zm9 3zm12 0zm2 0zm1-1zm6 0zm2 1zm2-1zm1 0zm1 1zm0 1zm2-4zm3 1zm4-1zm0 2zm0 2zm1-3zm0 3zm1-1zm1-3zm2 5zm1-5zm0 2zm0 2zm1-4zm2 0zm1 0zm2 2zm2-1zm0 1zm1-1zm0 2zm0 1zm1-3zm0 2zm1-2zm0 2zm2 0zm0 1zm1-1zm1-2zm2 0zm0 1zm1 0zm0 1zm1-3zm0 3zm0 1zm1 1zm1-4zm0 3zm1-2zm2-2zm1 0zm0 3zm1-2zm0 1zm0 2zm0 1zm1-5zm0 2zm0 1zm1-3zm0 3zm1 1zm2 0zm-77 4zm22 3zm1-4zm2 2zm1-1zm3 3zm3-5zm2 0zm0 5zm4-3zm4 3zm1-5zm1 1zm0 3zm2-1zm1 1zm6-3zm0 2zm1 1zm0 1zm1-4zm0 1zm0 1zm3-2zm2-1zm0 1zm2-1zm1 2zm2 2zm3 0zm1-1zm1 0zm0 2zm1-5zm0 4zm1-4zm0 4zm1-2zm0 3zm1-4zm0 2zm0 2zm1-3zm1-2zm0 1zm1 0zm0 1zm0 3zm-63 1zm16 1zm6-1zm1 0zm0 1zm1 0zm13 0zm1-1zm7 0zm8 1zm1-1zm0 2zm2-1zm2 1zm3-2zm2 1zm0 1zm1-2zm0 2z" fill="none" stroke="#800000" stroke-width="1.8" stroke-linecap="square" opacity="0.75"/><path transform="scale(.5)" d="M294 905zm10-3zm29-1zm-8 13zm32 3zm-58 5zm-17 7zm10 0zm6-2zm6 2zm-8 2zm1 3zm7-2zm5 3zm18-3zm4 3zm13-4zm19-1zm9 0zm19 4zm23-1zm-138 7zm16-4zm0 2zm3 2zm9 0zm1-3zm8 2zm6-3zm1 3zm1 2zm14-2zm4 2zm13-1zm33-2zm20 2zm2-2zm14 3zm-146 3zm1-1zm1 4zm1-2zm1-3zm0 3zm5-3zm9 1zm3-1zm4 2zm1-1zm0 4zm4-1zm8 1zm5-2zm0 1zm2 0zm3-2zm3 3zm4-3zm11-1zm4 2zm34 0zm0 2zm3-1zm2 1zm1-1zm7-3zm3 3zm2-4zm14 2zm3 0zm13 1zm2 2zm-153 6zm1-4zm6 0zm5 2zm7-2zm3 4zm4-5zm5 1zm25 0zm2 2zm4 2zm3-1zm21 0zm5-4zm4 0zm7 2zm12 3zm2-4zm5 0zm5 4zm1-2zm4 1zm4-1zm0 2zm8 0zm14-4zm1 4zm-158 1zm0 2zm1 3zm1-1zm2 0zm1-4zm0 2zm4-1zm3 3zm2-3zm2 1zm2-2zm2 3zm3 0zm3-2zm0 2zm4 2zm6-2zm3-3zm0 2zm4 2zm6 0zm7-2zm1 0zm2 2zm1 0zm1-1zm9-1zm3 0zm1 1zm1 0zm1 0zm6 1zm8-4zm0 3zm1-3zm2 1zm1-1zm3 1zm4 3zm0 1zm9-5zm2 5zm9-2zm4-2zm1-1zm2 0zm5 4zm13 1zm2-4zm1 2zm6 0zm2 2zm6-4zm0 3zm1-4zm0 5zm2-4zm-165 7zm0 2zm2-1zm1-3zm0 4zm1-1zm1-3zm0 4zm1-3zm1 4zm3-5zm1 2zm3-1zm1 2zm1-1zm6-1zm0 4zm5-1zm3 1zm1-2zm3-1zm5 1zm1 2zm2-4zm0 3zm2-3zm4 0zm0 2zm0 1zm1 0zm0 1zm1-5zm3 5zm2-4zm3 2zm0 1zm1-4zm1 3zm1-2zm3 2zm1 2zm4-4zm1 4zm5-2zm1-1zm3-1zm0 2zm2 0zm2-1zm1-1zm6 1zm7 0zm0 2zm2 0zm3-1zm2 1zm1-2zm1-2zm1 4zm4-3zm5 2zm3-3zm0 3zm1-2zm3 4zm2-3zm0 2zm7 1zm1-5zm6 0zm1 4zm4 1zm3 0zm4-1zm1 1zm1-3zm0 2zm5 1zm3-3zm3-2zm1 1zm-167 6zm2-1zm3 2zm1 2zm0 1zm1-2zm1-2zm1 1zm1 0zm2 3zm2 0zm2-4zm1 4zm1-5zm1 1zm1-1zm1 2zm1 1zm1 0zm3 1zm5-4zm0 3zm1 0zm2 2zm2-1zm2-3zm1-1zm2 2zm0 3zm1-5zm0 1zm0 4zm1-3zm1 2zm1 1zm1-3zm0 3zm1-5zm0 3zm2 1zm4-1zm1-1zm4 3zm3-5zm0 1zm1 3zm2-4zm0 3zm0 2zm1-1zm3-2zm0 2zm1-1zm4-3zm1 0zm1 5zm2-1zm2 1zm4-4zm1 0zm2 2zm1-3zm1 0zm0 3zm0 1zm2 0zm2 1zm5-4zm1 2zm5-1zm6 3zm6-5zm0 4zm0 1zm1-4zm0 3zm1 0zm6 0zm0 1zm1 0zm3-5zm3 0zm0 3zm5-3zm0 2zm0 3zm5-4zm1 1zm3-2zm1 2zm3-2zm2 4zm6-4zm1 1zm1 0zm0 3zm2-1zm0 1zm1-2zm0 2zm6 0zm-166 5zm1 2zm1 0zm1-4zm0 1zm1 0zm0 3zm1-4zm1 0zm1 3zm5-4zm2 4zm1 0zm4-1zm1-2zm0 3zm0 1zm1-5zm0 1zm0 4zm5-1zm1 0zm0 1zm2-4zm3 4zm1-5zm2 0zm0 1zm0 1zm1-2zm2 0zm0 2zm0 2zm4-1zm0 2zm5-2zm2-2zm1 4zm1-5zm0 4zm1-4zm0 3zm0 1zm0 1zm3-2zm3-3zm0 2zm2 0zm1 0zm1 0zm1-1zm1 4zm1-2zm1-2zm0 3zm2-1zm3 1zm1-3zm2 3zm4-4zm2 2zm1 1zm3-1zm2-1zm1-1zm0 1zm0 2zm1 0zm0 2zm2-5zm0 3zm1-1zm1-1zm0 4zm1-3zm1-2zm1 0zm2 4zm0 1zm3-3zm3-2zm0 1zm1-1zm0 1zm1 3zm1 1zm1-1zm1-4zm0 1zm0 1zm1 0zm2 3zm1-4zm0 1zm1 1zm1-2zm1 1zm0 3zm9-3zm4 3zm1-3zm1 0zm1 2zm1-3zm0 2zm2 2zm1-2zm2-2zm1-1zm0 5zm1-2zm1-3zm0 3zm0 1zm0 1zm2-3zm3-2zm3 3zm0 2zm3-5zm1 1zm1 3zm1-1zm1-2zm3 3zm1 0zm0 1zm1 0zm1 0zm2-3zm0 1zm2-1zm0 2zm1-1zm-167 5zm1 1zm2 0zm1 0zm1 1zm1-3zm1 4zm1-4zm0 2zm1-3zm2 3zm2 1zm1-3zm0 2zm0 2zm1-1zm1-2zm0 2zm1 0zm1-2zm1-1zm0 1zm1-2zm1 2zm1-1zm1-1zm2 1zm0 4zm1-4zm1 0zm0 1zm4 1zm1-2zm1 0zm0 4zm1-4zm0 1zm0 2zm2-3zm0 1zm3 3zm1-1zm0 1zm1-3zm0 3zm1-2zm0 2zm1-5zm0 1zm0 2zm1-1zm0 2zm1 0zm1-2zm1-2zm1 5zm1-4zm1 2zm3-3zm0 5zm1-3zm2 0zm0 2zm0 1zm1-3zm1-1zm0 1zm1-1zm0 3zm3 0zm1 0zm1-3zm1 1zm0 2zm0 1zm1-5zm1 2zm2 2zm1-3zm0 2zm1-1zm0 1zm2-2zm4 0zm1-1zm0 2zm0 1zm2-2zm0 1zm0 1zm2-1zm1 1zm0 1zm1-1zm0 2zm1-5zm0 2zm1 1zm2 1zm0 1zm1-1zm1 0zm1-1zm4-1zm0 2zm1-1zm1 2zm1 0zm2-1zm1-4zm2 1zm1 3zm1-4zm1 0zm0 5zm3 0zm5-1zm0 1zm3-5zm1 4zm1-4zm0 1zm0 2zm1 2zm1-2zm0 1zm1-1zm0 1zm1-4zm1 5zm2-3zm0 3zm2-3zm1-1zm1 2zm2 0zm0 1zm1 1zm1-5zm0 4zm3 0zm1-1zm1-1zm2 0zm0 3zm1-2zm1-2zm0 3zm1-3zm0 1zm0 1zm0 1zm1-4zm1 2zm1 1zm2 0zm2-1zm0 2zm4-2zm1 0zm0 2zm3-1zm1-3zm1 5zm1-4zm2 0zm0 3zm1 1zm1 0zm2-5zm0 1zm0 2zm0 2zm-168 1zm6 3zm0 1zm1 0zm1-4zm0 3zm0 1zm0 1zm1-5zm0 1zm1-1zm2 3zm0 1zm0 1zm2-5zm0 4zm1-4zm1 4zm1-4zm1 0zm1 4zm1-2zm0 1zm1-3zm0 1zm1 3zm0 1zm1-1zm2-3zm2 0zm0 2zm1-3zm0 1zm1 2zm2 0zm0 2zm1-3zm1-2zm0 2zm4-2zm1 4zm4-1zm3-3zm1 3zm1 0zm0 1zm0 1zm2-2zm1-1zm3-1zm0 3zm2-4zm0 2zm3-2zm0 1zm0 2zm2-2zm0 4zm3-3zm0 2zm0 1zm1-2zm0 1zm1 0zm2-3zm1 2zm0 1zm1-1zm2 2zm2-5zm2 2zm0 3zm1-4zm1 3zm1-3zm1 1zm1 1zm1-2zm0 1zm0 1zm1-3zm0 3zm1-2zm1 2zm0 1zm0 1zm1-5zm0 2zm2 0zm2-2zm1 4zm2-3zm1 3zm1-2zm2-2zm0 2zm1 0zm0 3zm1-4zm5 3zm1-1zm1 0zm2 2zm1-4zm0 2zm1-3zm0 2zm2-1zm4 0zm0 3zm1-2zm0 3zm1-3zm2 2zm1-3zm1 3zm2-4zm0 3zm0 2zm1-1zm2-1zm2-2zm2 0zm0 1zm0 2zm1-4zm0 1zm1 0zm0 3zm1-2zm1 0zm1 2zm1-1zm0 1zm1-3zm1 2zm1 0zm2 2zm3 0zm2-5zm1 5zm1 0zm2-3zm1-2zm1 1zm0 1zm1 2zm2 0zm3 1zm1-5zm0 3zm3-1zm0 3zm2-4zm0 3zm1-1zm1-3zm2 1zm0 3zm-167 2zm0 3zm1-1zm0 1zm1 0zm3-1zm1-1zm0 4zm1-2zm1-1zm0 2zm1-2zm1 0zm0 3zm1 0zm1-4zm0 1zm0 2zm1-3zm0 1zm0 3zm2-5zm0 4zm2-4zm0 3zm1-2zm0 2zm0 2zm1-3zm1-1zm1 2zm0 1zm1 0zm2-2zm0 1zm1 2zm1-2zm0 2zm1 0zm1-3zm0 1zm0 1zm1-3zm0 1zm2 1zm0 1zm1-2zm0 1zm0 2zm1-5zm1 0zm0 2zm1 1zm0 1zm2-4zm0 1zm4 2zm1-2zm2 4zm1-4zm0 1zm0 3zm1-1zm1-2zm1 3zm2-5zm0 4zm2-3zm0 3zm1-2zm1-2zm0 1zm1 3zm2-4zm0 1zm0 1zm0 3zm3-5zm0 2zm3-1zm1 1zm0 1zm1-1zm0 1zm0 1zm1-2zm0 3zm2-5zm4 0zm0 4zm1-4zm1 4zm0 1zm2 0zm1-5zm1 0zm0 3zm1-3zm0 1zm0 4zm1-4zm1-1zm1 0zm0 3zm0 1zm1-3zm2 4zm1-5zm2 1zm0 1zm1 3zm1-3zm0 1zm0 2zm1-1zm1 1zm1-1zm2-1zm1-3zm0 1zm0 3zm1 1zm1-5zm0 1zm0 2zm2-2zm1 1zm0 2zm1-3zm1-1zm1 4zm1-4zm2 2zm0 1zm2-2zm1-1zm0 2zm0 3zm1-5zm1 4zm1-1zm1-2zm0 3zm0 1zm1-3zm1-1zm1 1zm3 1zm0 2zm1-3zm1 1zm3-1zm0 1zm0 1zm1 0zm1-4zm1 1zm0 3zm1-3zm0 2zm0 2zm3-2zm2-1zm1-2zm0 1zm2 2zm0 2zm3-1zm2 0zm1-2zm1 2zm1-4zm0 1zm0 2zm1 0zm2-1zm1-2zm0 3zm0 1zm2-2zm2-2zm0 2zm1 2zm1-2zm0 1zm5 1zm1-2zm3-2zm0 2zm0 3zm1-3zm1 0zm0 1zm-167 5zm1 0zm1 1zm0 1zm2-4zm1 0zm0 3zm2-1zm0 1zm1 1zm1-1zm3-3zm0 2zm0 1zm0 1zm3-3zm0 2zm3-3zm0 4zm1-1zm0 2zm2-2zm1 1zm1-4zm0 1zm0 4zm1-4zm1 3zm0 1zm1-2zm1 2zm1-5zm0 3zm1-2zm0 1zm0 1zm1 0zm1 1zm0 1zm1-3zm1 2zm0 1zm1-4zm0 1zm1-2zm0 2zm1-2zm0 2zm0 3zm1-4zm0 1zm0 1zm1 0zm0 1zm1-1zm1 0zm2-2zm0 3zm1-4zm2 0zm0 2zm0 2zm1-4zm0 2zm0 1zm2-3zm1 5zm1-5zm0 4zm2-3zm0 4zm2-5zm0 3zm0 1zm1-2zm0 3zm1-5zm0 2zm3 2zm1-4zm2 0zm1 4zm1-4zm0 2zm1 0zm0 3zm2-3zm1-2zm0 1zm0 4zm1-4zm0 3zm1-1zm0 1zm2-4zm0 3zm1 0zm1-2zm0 3zm0 1zm1-5zm0 2zm0 2zm0 1zm1-2zm1-2zm1 0zm2 3zm0 1zm3-5zm0 3zm0 2zm1 0zm1 0zm2-4zm0 1zm1 2zm1 1zm2-5zm1 2zm1 0zm4 2zm1-2zm0 3zm2-5zm0 1zm0 1zm0 1zm0 1zm1 0zm1-4zm0 1zm2-1zm0 2zm0 3zm1-5zm0 1zm0 4zm1 0zm1-2zm1-3zm0 3zm0 1zm1-2zm1-1zm2-1zm0 1zm0 4zm1 0zm2-4zm1 0zm0 1zm0 2zm1-4zm0 4zm1-4zm0 2zm0 1zm0 2zm1-2zm0 1zm0 1zm1-4zm0 3zm1-4zm1 1zm0 3zm1-4zm0 3zm1-1zm3 3zm1-4zm0 3zm1-3zm1-1zm1 2zm0 2zm2-1zm1-2zm1 1zm1-2zm1 2zm0 3zm1-4zm2 4zm1-3zm3 1zm1-3zm0 1zm2-1zm0 1zm1 3zm1-2zm0 1zm1 0zm0 1zm1-3zm1 1zm2 0zm1-1zm1 3zm4-3zm1 1zm1 1zm4 1zm1-2zm1-2zm0 1zm0 1zm1-1zm-142 5zm4 0zm2 0zm8 0zm7 0zm1 0zm2 0zm4 1zm1-1zm0 1zm3 0zm1 0zm2-1zm2 1zm2-1zm1 0zm1 0zm0 2zm1-2zm1 1zm4-1zm1 0zm1 0zm1 0zm3 3zm1-2zm2-1zm0 2zm1-2zm1 0zm0 3zm2-2zm2 0zm1 0zm1 0zm1 0zm1 2zm1-2zm1-1zm0 4zm0 1zm1-3zm0 2zm1-4zm0 4zm1 0zm0 1zm1-4zm1-1zm2 1zm1 0zm0 3zm1-4zm1 2zm1-2zm0 3zm1-1zm1-2zm1 4zm1 1zm2-2zm0 2zm1-5zm0 1zm0 3zm2-3zm0 3zm1-4zm0 2zm1 3zm1-5zm1 0zm1 0zm0 3zm1-3zm0 1zm0 2zm1 1zm0 1zm1 0zm1-5zm0 3zm2-2zm0 3zm1-3zm0 3zm2 0zm2-4zm0 4zm2-4zm0 4zm0 1zm1-5zm2 4zm1-3zm1-1zm0 1zm0 1zm0 2zm3-2zm0 1zm0 1zm1 0zm2 0zm2-3zm0 2zm1-2zm0 1zm1 0zm1 1zm1 0zm0 1zm4-3zm0 1zm0 1zm1-2zm1 0zm0 1zm1-2zm1 4zm1-4zm0 3zm1 1zm0 1zm1-3zm0 3zm1-4zm0 1zm0 3zm2-2zm2 0zm2-2zm1 1zm-58 4zm2 0zm1 0zm1 0zm1 0zm5 0zm11 1zm5 0zm4 0zm1-1zm4 2zm1 0zm1-1zm3 0zm1 0zm1 0zm0 2zm1-3zm1 0zm0 1zm0 1zm1 0zm1-2zm3 0zm1 1zm2 1zm1 1zm4-3z" fill="none" stroke="#E00000" stroke-width="1.8" stroke-linecap="square" opacity="0.75"/><path transform="scale(.5)" d="M324 947zm-46 6zm3-1zm17-4zm14 0zm15 2zm14 1zm13-1zm23 1zm21-1zm19 2zm12-4zm5 1zm6 4zm-158 2zm4 0zm11 4zm11-1zm8-2zm0 3zm1-5zm4 4zm1-4zm1 1zm12 2zm1-2zm17 4zm1-3zm6 3zm3 0zm4-1zm10-4zm30 0zm21 3zm14 1zm-165 5zm3 1zm1-2zm79 2zm4-2zm43 3zm8-4zm4 1zm2-1zm4 0zm5 2zm-122 5zm8 1zm19 0zm6-1zm26-2zm3 4zm3-1zm3-3zm25 2zm0 1zm30 0zm-143 3zm1 4zm3 0zm16 0zm34 1zm10-2zm14 1zm10 0zm11-4zm26 2zm11 3zm9 0zm11-5zm-162 10zm33-4zm2 1zm3-1zm3 1zm22 0zm34 4zm22-3zm37-1zm0 1zm4 2zm-163 2zm1 5zm5-5zm5 5zm7-5zm14 2zm5 1zm6 0zm5 0zm10-3zm3 1zm0 1zm2-2zm18 5zm41-2zm8-1zm2 3zm2-5zm5 4zm1 1zm-121 4zm16 0zm4 1zm34 0zm1-3zm12 4zm38-5zm16 3zm0 1zm25-3zm-166 5zm33 5zm8-5zm12 0zm2 4zm13-1zm18-1zm0 2zm16-1zm21 1zm1-1zm4-1zm7 1zm3-2zm4 4zm5-2zm3-2zm9 4zm-162 6zm2-5zm4 4zm1-3zm30 0zm13 1zm5 1zm15 1zm3-1zm1-1zm2 2zm14 1zm17-1zm2-4zm9 0zm3 3zm3-3zm2 4zm13-1zm4 0zm6 2zm13-5zm1 2zm3-2zm-19 6zm4 0zm-149 70zm3-2zm0 2zm2-2zm3-1zm0 2zm1 0zm1-1zm0 3zm1-1zm2-1zm2-1zm0 2zm1 1zm1 0zm1-1zm2-1zm5 0zm1 1zm4-4zm2 3zm1-2zm0 2zm2 0zm2 0zm1-2zm1 1zm0 3zm1-4zm1 1zm0 3zm2-3zm0 2zm2-2zm2-1zm2 0zm0 3zm3-3zm0 3zm2-3zm4 0zm4 4zm4-3zm7-1zm1 4zm2 0zm2 0zm3 0zm1 0zm5-2zm0 1zm8-1zm4 1zm2-3zm3 3zm4-2zm12 1zm7 1zm-128 3zm0 4zm1-5zm1 0zm1 5zm3-5zm3 2zm0 3zm1-5zm2 4zm1-2zm1-2zm1 3zm2-2zm0 3zm1-1zm1-1zm4 3zm1 0zm1-5zm3 1zm1 1zm1 2zm2-4zm2 3zm0 2zm1-3zm1-2zm0 3zm1 2zm2-5zm0 1zm0 3zm1-1zm0 1zm1-4zm0 2zm4-2zm0 5zm3-4zm0 1zm0 3zm3-4zm0 3zm0 1zm3-5zm1 3zm2-3zm0 3zm2-1zm2 1zm0 1zm0 1zm2-2zm6 1zm0 1zm6-3zm1-2zm2 2zm8 0zm5 3zm1-1zm39-3zm-132 5zm0 3zm1-2zm1 0zm0 1zm2 1zm1-1zm1-1zm0 4zm1-5zm0 1zm1 0zm0 1zm0 1zm0 1zm3-1zm1-2zm0 1zm1 0zm1-1zm1 2zm1-1zm0 2zm2-2zm1 2zm0 1zm2 0zm1-2zm1 0zm1 1zm1-4zm2 4zm1 1zm1-1zm1-4zm0 2zm1 3zm2-5zm1 1zm0 1zm1 1zm0 1zm3-4zm3 5zm3-4zm0 1zm0 2zm0 1zm1-5zm2 4zm3-3zm0 1zm0 1zm2 2zm1-3zm2-2zm3 3zm1-2zm0 3zm3 0zm1-3zm0 2zm1 2zm4-1zm1-1zm0 1zm4-3zm3 0zm4 0zm8 1zm3-2zm5 2zm11-1zm1 2zm3 0zm0 1zm4 1zm3-3zm18 1zm6-3zm-142 8zm1-1zm0 1zm0 2zm4 1zm3-2zm1-3zm0 2zm0 1zm1 0zm4 1zm1-3zm1 2zm0 2zm2-3zm1-2zm0 5zm1 0zm1 0zm1-5zm0 4zm0 1zm1-5zm0 2zm1 1zm2-3zm0 5zm1 0zm1-4zm1 0zm1 0zm2-1zm2 1zm1-1zm4 3zm1 0zm1-3zm2 5zm6-3zm2-2zm3 4zm1-4zm13 2zm1 3zm2-3zm1 0zm2-2zm7 1zm1 4zm3-4zm10 3zm1 1zm30-5zm-125 10zm1 0zm2-4zm0 1zm1 0zm3 2zm1-3zm0 5zm1-5zm1 1zm1 0zm1 4zm1-5zm1 2zm1-1zm3 3zm1-4zm5 2zm3-1zm1 0zm1 4zm1-3zm0 3zm3-5zm2 0zm2 3zm2-3zm0 4zm0 1zm1-4zm4 2zm1 1zm5 1zm6-2zm1 0zm3-2zm5 4zm2-5zm1 5zm3-5zm3 0zm11 1zm3 4zm9-3zm2 3zm5-5zm8 3zm5 1zm-116 2zm1 1zm2 3zm2-1zm2 0zm2 0zm1-2zm0 2zm2-3zm1 0zm1 2zm4 0zm2 2zm1-2zm1 1zm2-1zm0 1zm4-1zm2 1zm2 2zm2 0zm1-4zm1 2zm0 1zm2-2zm1 3zm3 0zm1-5zm1 1zm0 1zm0 1zm1 1zm0 1zm2-3zm1 3zm1-5zm5 5zm8-1zm1-2zm2 2zm1-4zm7 0zm6 3zm5 2zm2-3zm12 1zm4 1zm5 0zm-107 3zm1 2zm1 2zm2-5zm1 0zm2 2zm2 0zm1-2zm0 4zm2 1zm3-2zm0 2zm2-5zm0 3zm0 2zm2-5zm4 3zm1-2zm2 3zm1-3zm0 4zm3-3zm2 2zm2-3zm0 1zm0 1zm1 0zm6-3zm0 4zm2 1zm3-4zm2-1zm0 5zm5-5zm2 0zm0 2zm2 1zm1-1zm0 1zm2 0zm1-3zm3 1zm2 0zm6 2zm22 2zm3-4zm-94 5zm0 1zm3 4zm1-3zm0 2zm0 1zm3-2zm1-3zm3 4zm1-3zm5-1zm3 1zm1 0zm1 2zm4-1zm11 2zm2 1zm2-2zm4-1zm2 0zm6 1zm6 1zm0 1zm5-1zm4-1zm10 0zm9-3zm-91 7zm0 4zm5-2zm0 1zm2-2zm0 2zm3-3zm0 1zm6 3zm1-1zm2-2zm11 1zm2 2zm3-4zm0 4zm13-2zm1-1zm4 0zm7-1zm2 3zm7-3zm1 2zm10-1zm-81 7zm6-3zm25 3zm6 2zm8-3zm14 0zm3 3zm2-4zm1 2zm2-1zm5 0zm-67 5zm1 1zm4-2zm7 5zm10-4zm1 0zm3 1zm6-1zm18 1zm0 2zm-48 6zm1-1zm3 1zm15 1zm25-3zm-49 6zm7-2zm11 10zm3-4zm8 0z" fill="none" stroke="#fff" stroke-width="1.8" stroke-linecap="square" opacity="0.8"/><path transform="scale(.5)" d="M265 1115zm9-1zm-30 5zm19 1zm6-4zm0 1zm0 1zm6 0zm-34 7zm9-2zm8 2zm1 2zm2-2zm1 0zm2 2zm3 0zm1-5zm0 2zm3 2zm-40 2zm2 0zm5 5zm2-3zm1-1zm1 3zm2-4zm3 4zm1-1zm0 2zm3-1zm1-3zm0 2zm2 1zm3-1zm0 2zm1-3zm1 1zm1-1zm1-2zm2 0zm1 0zm0 4zm0 1zm2-5zm1 5zm1-4zm0 4zm1-2zm1 2zm2-4zm2 3zm-61 6zm10-1zm2 2zm1-1zm1 0zm2-2zm0 1zm0 2zm2 0zm2-4zm1 2zm1-3zm1 4zm0 1zm1-2zm1-1zm1 1zm3 0zm2 1zm1-1zm1 2zm2-4zm2 2zm0 2zm1-5zm1 1zm1 3zm1-3zm3 2zm1 1zm1-2zm0 3zm1-4zm0 2zm0 2zm2-5zm0 2zm0 1zm0 2zm1-5zm0 2zm0 2zm1-1zm0 1zm0 1zm2-4zm0 2zm0 1zm2-4zm0 3zm2-3zm0 1zm2 0zm2-1zm0 4zm1 0zm-85 3zm8 1zm7 3zm3-2zm1 2zm1-2zm2-1zm1 2zm2 1zm1-5zm0 5zm1-5zm1 5zm1-3zm3 1zm1 2zm1-1zm1 1zm1-2zm1-2zm0 4zm1 0zm1-4zm0 3zm1-3zm5-1zm1 4zm1-3zm1 0zm0 2zm4-1zm1-2zm0 2zm3-1zm1-1zm1 1zm4 2zm0 1zm1 0zm1-4zm2 2zm0 1zm4-2zm2 1zm1-1zm2 1zm1-1zm2-1zm6 0zm-108 11zm16-2zm2 0zm2 1zm3-1zm1 0zm1 2zm1 0zm4 0zm1-1zm3-1zm4 1zm1-2zm1 0zm1-1zm0 3zm0 1zm2 0zm1-3zm0 3zm3-5zm1 5zm1-2zm3-2zm1-1zm0 3zm2-3zm0 1zm1-1zm0 5zm1-4zm0 3zm1-4zm0 3zm0 1zm1 1zm1-3zm1-1zm0 1zm1 0zm0 1zm0 1zm2 0zm2-4zm0 3zm2 0zm1-1zm1-2zm5 1zm1-1zm0 1zm3-1zm0 1zm1 0zm-82 10zm4-2zm6 2zm5-3zm1 2zm1 1zm3 0zm2-4zm0 1zm0 3zm1-4zm2 4zm1 0zm1-2zm1 1zm2-2zm0 2zm1-3zm1-1zm1 0zm0 5zm1-2zm1-2zm0 3zm1-3zm2 1zm1 1zm1-2zm1 0zm0 2zm0 2zm2-2zm1-2zm1-1zm0 1zm0 2zm0 2zm1-5zm0 3zm1-3zm0 3zm1-3zm0 2zm1 2zm1-4zm0 2zm1 0zm0 2zm1-4zm0 2zm0 1zm2-3zm1 0zm0 1zm3-1zm0 1zm3-1zm0 1zm4-1zm-79 11zm5-1zm1 1zm2 0zm2-3zm2-1zm0 3zm0 1zm2-4zm1 4zm1-3zm0 1zm0 2zm1-1zm1-3zm0 3zm0 1zm1-1zm1-4zm0 4zm1-3zm2 0zm0 4zm1-4zm0 3zm1-4zm1 3zm1-1zm0 2zm2-4zm0 5zm1-4zm0 3zm0 1zm2-2zm1-3zm0 2zm1 0zm1 0zm2 0zm0 3zm1-4zm0 1zm0 3zm2-4zm1-1zm0 2zm0 1zm1-2zm0 3zm1-3zm0 2zm1-3zm0 1zm2-1zm1 2zm1-2zm0 1zm0 1zm1-2zm2 1zm3 0zm1-1zm1 0zm-81 11zm3 0zm6-3zm1 2zm2 0zm1-2zm2 2zm2-3zm0 4zm1-3zm1 2zm0 1zm1 0zm2-2zm3-1zm1 2zm1-4zm0 5zm2-4zm1 1zm0 3zm2-5zm0 2zm1-2zm0 2zm1-2zm0 3zm1-1zm0 3zm1-1zm1-1zm1-3zm0 4zm0 1zm1-5zm1 2zm1 3zm3-5zm0 1zm0 3zm1-4zm1 3zm1-3zm0 2zm1 1zm0 1zm0 1zm1-1zm1-4zm1 4zm1-3zm1 0zm0 1zm0 2zm1-3zm0 2zm1-3zm2 1zm1-1zm2 0zm0 1zm-69 7zm0 3zm7-1zm5-2zm1 1zm2-2zm2 2zm1 2zm1-2zm0 1zm1 0zm1 0zm2-2zm0 2zm1-4zm0 3zm1 0zm1-1zm0 3zm1-4zm0 1zm0 2zm3-1zm1 1zm1 0zm1-1zm0 1zm1-3zm0 3zm1-4zm1 0zm0 1zm0 1zm0 1zm0 1zm0 1zm1-4zm0 3zm0 1zm2-2zm1-3zm0 1zm0 2zm1-3zm0 1zm1 1zm1-1zm1 0zm1 0zm1-1zm1 1zm1 0zm7-1zm-59 9zm1 0zm2-3zm2 2zm3 0zm0 3zm2-2zm1-1zm0 1zm0 2zm2-5zm1 4zm1-4zm0 2zm1 1zm1-3zm0 1zm0 1zm1 2zm2-1zm0 2zm2-1zm0 1zm2 0zm1-3zm0 1zm3-2zm0 2zm1-3zm0 2zm0 1zm1 0zm1-3zm0 1zm0 1zm0 1zm2-2zm0 1zm1-2zm0 1zm1 1zm3-2zm2 0zm-44 8zm3-1zm1-1zm0 2zm0 2zm0 1zm1-3zm1-1zm0 2zm1-2zm0 2zm2 2zm1-5zm1 1zm1 0zm1 2zm0 1zm1-4zm0 1zm1 0zm0 1zm0 1zm3-3zm0 2zm1-2zm0 2zm1-2zm0 2zm1 0zm1-1zm1-1zm1 0zm-25 11zm1 0zm1-5zm0 3zm0 1zm0 1zm1-2zm1-3zm0 2zm0 1zm1-3zm0 1zm0 1zm1-1zm1-1zm1 0zm-8 7zm1-1z" fill="none" stroke="#000080" stroke-width="1.8" stroke-linecap="square" opacity="0.8"/><path transform="scale(.5)" d="M193 1048zm2 1zm13-2zm12 0zm5 1zm4 1zm2-1zm5 0zm3 0zm2-1zm0 1zm1 1zm7-2zm1 0zm0 1zm4-1zm1 2zm4-2zm1 2zm1-2zm1 1zm0 1zm5-1zm5 0zm1 1zm1-2zm1 2zm-66 4zm2 2zm1 0zm7-2zm0 2zm3-5zm4 4zm5-4zm1 4zm1 0zm1 1zm2-5zm0 4zm1-3zm1 0zm1 4zm1-4zm1 2zm1-2zm0 1zm1-1zm0 1zm0 1zm0 2zm1-5zm0 1zm1 0zm1-1zm0 1zm0 4zm2-3zm1-2zm0 3zm1-3zm0 2zm1 3zm1-4zm0 4zm1-3zm1 0zm1-2zm0 5zm1-1zm1-4zm0 1zm0 1zm1-1zm1-1zm1 3zm1 0zm0 1zm1 1zm1-5zm1 2zm1-1zm0 2zm1-1zm1 0zm2 0zm0 1zm1 0zm0 1zm1-4zm0 3zm1 1zm1-2zm0 3zm1-4zm-72 6zm6 0zm4 2zm7-3zm2 3zm0 2zm1-3zm5 1zm1-2zm2 3zm5 0zm1-3zm1-1zm0 2zm1-2zm1 5zm2-5zm1 5zm2-4zm0 4zm1-4zm0 1zm1-2zm1 0zm0 4zm1-3zm0 1zm0 2zm2 0zm1-3zm0 1zm1-2zm0 3zm1-1zm1 0zm0 1zm0 2zm1-4zm0 2zm0 2zm1-4zm0 4zm1-4zm0 2zm0 2zm2-2zm0 1zm0 1zm1-4zm0 1zm0 3zm3-2zm0 1zm0 1zm1-3zm0 1zm0 1zm1-2zm0 1zm0 2zm1-4zm0 4zm1-5zm0 3zm0 1zm1-2zm2-2zm0 1zm0 1zm1-1zm1 4zm1-2zm1-3zm0 5zm1-3zm-68 7zm7-1zm10-1zm2 1zm2 0zm2-2zm2 3zm3-2zm0 1zm0 1zm3-2zm1 1zm3-1zm2-1zm0 1zm0 1zm1-1zm2 0zm0 2zm1 0zm2-2zm0 1zm1-2zm1 0zm1 0zm1 0zm3 0zm0 1zm1 0zm2-1zm0 1zm0 2zm1-3zm0 2zm0 1zm1-3zm2 2zm5-2zm0 1zm0 2zm1-2zm0 1zm0 1zm1-1zm0 1zm1-3zm1 0zm0 2zm1 1z" fill="none" stroke="#4A8CFF" stroke-width="1.8" stroke-linecap="square" opacity="0.75"/><path transform="scale(.5)" d="M240 1043zm1 0zm2-4zm1 2zm2 1zm2 0zm1-3zm1 0zm4 0zm2-1zm1 0zm0 1zm3 2zm3-2zm1 1zm0 1zm1 0zm0 2zm4-1zm1-4zm1 0zm0 5zm2-4zm0 1zm0 1zm1 1zm1-4zm-48 10zm0 1zm6-2zm10 2zm1-5zm1 4zm1 1zm2 0zm1-3zm1-2zm1 0zm1 3zm0 1zm1-4zm0 3zm1 1zm1-4zm0 4zm4-1zm3 0zm1-2zm0 1zm1 3zm1-5zm0 2zm0 3zm2-5zm0 2zm0 3zm1-5zm1 1zm0 2zm1-3zm0 1zm0 2zm0 2zm1 0zm2 0zm1-5zm-54 8zm12 3zm10 0zm3-4zm1 2zm0 2zm2-3zm1 0zm2-2zm1 0zm5 4zm1-3zm0 4zm1-2zm0 1zm1-1zm1 0zm1-3zm0 3zm1 0zm0 1zm1-4zm0 1zm0 2zm0 1zm1-3zm0 2zm2-2zm1-1zm1 0zm0 4zm0 1zm2-5zm1 0zm3 0zm-44 9zm3 1zm7 0zm3-4zm0 4zm1-3zm1 3zm1-1zm5-2zm0 4zm3 0zm2-2zm1-3zm0 1zm1 3zm1-3zm0 1zm2 0zm2-2zm0 4zm1 0zm1-4zm0 4zm1-1zm1 2zm2-5zm2 4zm2-3zm0 1zm0 2zm-40 6zm5 1zm1-1zm3-3zm1 2zm4-3zm4 5zm1-3zm0 3zm2-5zm1 5zm1-1zm1-2zm0 2zm1 0zm1-1zm4-1zm1 0zm0 1zm0 2zm2-3zm1-1zm1-1zm0 5zm1 0zm4-3zm-52 8zm16-4zm0 5zm2 0zm3-1zm5-1zm0 1zm2 1zm1 0zm1-5zm2 4zm1-3zm0 3zm3-4zm0 2zm3-1zm2 0zm0 3zm3-4zm0 2zm1-2zm0 5zm1-4zm1 1zm0 2zm1-1zm0 1zm1-3zm3 3zm1-3zm-40 8zm3-2zm3 4zm3-5zm1 4zm2-3zm0 2zm2-3zm0 1zm2-1zm2 0zm1 0zm1 3zm1-2zm0 3zm4-3zm1-1zm0 5zm1-4zm1 3zm1-4zm1 1zm1 2zm3-2zm1 3zm0 1zm1-5zm0 5zm1-5zm0 4zm1-4zm1 3zm0 2zm1-2zm0 1zm-38 7zm2-5zm12 3zm2-2zm3-1zm1 2zm1 2zm0 1zm1-3zm0 3zm3-4zm0 1zm1-2zm1 0zm1 4zm1-3zm0 2zm1-2zm1 2zm0 1zm0 1zm2-5zm0 3zm1-2zm0 1zm2-2zm1 5zm-42 1zm5 5zm4-5zm2 4zm1-1zm1-2zm2 2zm7-1zm1-2zm0 1zm0 2zm1-1zm0 3zm1-2zm1-2zm1 4zm1-1zm1-1zm0 2zm4-4zm0 1zm1 1zm0 2zm6-2zm1-2zm0 2zm1 0zm-33 3zm4 0zm1 0zm1 3zm2 2zm4-2zm5 0zm1-3zm1 4zm0 1zm2 0zm3-3zm1 0zm0 3zm1-3zm1-1zm0 1zm1 0zm1 2zm0 1zm1-4zm3 0zm0 4zm1-4zm-50 8zm8-1zm10-1zm3 0zm3-1zm4 3zm0 1zm1-3zm2 1zm1-1zm1 2zm2-1zm0 3zm1-2zm1 0zm1 1zm0 1zm1-2zm0 2zm2-2zm1 0zm1-3zm1 1zm1 2zm1-2zm0 1zm2 0zm0 2zm2-2zm-43 9zm3-3zm1 1zm7 2zm1-4zm5-1zm7 1zm2-1zm0 1zm0 1zm2 1zm1 0zm1 0zm2-1zm0 3zm1-1zm2 0zm1-4zm0 5zm2-2zm3 1zm-43 7zm8 0zm2-3zm14 2zm2-3zm1 3zm1 0zm1-4zm0 2zm0 3zm2-3zm0 2zm1-2zm0 1zm1-3zm0 5zm2-5zm0 1zm1 4zm1-5zm1 2zm1 3zm1-5zm2 3zm0 2zm1-1zm1-1zm0 2zm1-5zm-40 6zm10 0zm0 2zm2 0zm2 1zm0 2zm3-4zm4 1zm0 1zm2-2zm1 4zm1-5zm0 5zm3-3zm0 1zm1 2zm1-4zm0 3zm2-3zm2-1zm2 1zm1 1zm0 2zm0 1zm1-4zm1-1zm0 1zm-48 6zm15 0zm7 2zm8 0zm1 0zm3-2zm2 3zm1-4zm0 3zm1-3zm0 4zm3-3zm0 1zm2 1zm1-3zm0 2zm0 1zm2 0zm2-1zm0 1zm1-1z" fill="none" stroke="#2a4ad0" stroke-width="1.8" stroke-linecap="square" opacity="0.7"/><path transform="scale(.5)" d="M445 965zm12-1zm-9 4zm13-1zm0 1zm0 3zm-13 1zm2 2zm0 2zm4 1zm2-4zm1 2zm1-2zm4 4zm1-1zm2 1zm1 0zm-18 5zm0 1zm5 0zm3-5zm0 2zm3 1zm2-3zm5 2zm0 2zm4-2zm4 2zm1 1zm-30 6zm1-3zm2 2zm6-4zm2 5zm1-3zm1 0zm1 0zm2 1zm1 2zm3-3zm1-1zm0 4zm4-2zm2 0zm1-3zm1 1zm-30 7zm8-2zm1 4zm2-3zm0 3zm0 1zm1-4zm0 4zm2-3zm0 3zm5-5zm0 3zm1-1zm1-1zm2 2zm1 2zm1-5zm0 2zm1 3zm2-5zm1 4zm4 0zm2-1zm2-1zm-36 7zm4-2zm0 1zm0 1zm2-3zm2 0zm1 1zm1 0zm0 1zm0 1zm2-2zm1 3zm1-2zm0 3zm1-3zm3-1zm0 1zm2-2zm0 4zm1-2zm2 0zm1 2zm1 0zm0 1zm1-1zm1-1zm1-3zm1 1zm2 2zm0 2zm1-5zm0 1zm3 0zm0 1zm0 1zm2 1zm1-2zm1 3zm-40 4zm2-3zm1 3zm0 1zm3-4zm0 4zm0 1zm2-1zm2-2zm1 0zm0 1zm1 0zm0 2zm3-2zm1-2zm0 1zm1-1zm2 0zm2 3zm0 1zm1-4zm2 2zm1 0zm0 1zm2-3zm0 1zm0 1zm1-1zm0 3zm1-3zm1 0zm0 3zm1 0zm1-5zm0 2zm0 1zm1 1zm1-4zm0 3zm3-2zm0 2zm0 2zm1-1zm1-4zm0 2zm0 2zm0 1zm1-5zm-39 9zm2-1zm1 0zm1 2zm1 0zm0 1zm1-1zm0 1zm1-5zm2 4zm0 1zm1-3zm2-2zm2 2zm0 1zm1-2zm1 2zm1-1zm1 2zm1-3zm0 4zm2-3zm0 1zm0 1zm1-3zm1 0zm0 1zm3-1zm0 2zm0 1zm0 1zm1-1zm1-4zm0 3zm2-1zm0 3zm1-5zm1 4zm1-4zm1 1zm1 3zm1-4zm0 2zm1 2zm1-1zm3 0zm-42 7zm0 1zm1-2zm0 1zm1-4zm0 2zm0 1zm1-3zm0 1zm1-1zm0 1zm0 1zm1-2zm0 1zm0 1zm0 1zm1 2zm1-4zm0 3zm1-4zm0 3zm1-1zm0 1zm0 2zm3-4zm0 3zm0 1zm1-3zm0 2zm2-4zm0 3zm1-3zm1 0zm0 3zm1-3zm0 3zm1 0zm1-2zm1 0zm0 1zm0 1zm2-2zm0 2zm1-2zm0 3zm1-4zm1 1zm0 2zm0 1zm1-3zm0 3zm2-2zm1 1zm0 1zm1-4zm0 3zm1-3zm0 3zm1-1zm0 2zm1-1zm1 1zm1-4zm0 2zm1-2zm1 4zm1-4zm1 1z" fill="none" stroke="#FF6A00" stroke-width="1.8" stroke-linecap="square" opacity="0.8"/><path d="M31.9 610.8L37.1 610.2L42.3 609.6L47.4 609L52.5 608.5L57.5 607.7L62.4 606.9L67.2 606.1L72 605.3L76.7 604.3L81.4 603.1L86 602L90.5 600.9L94.9 599.8L99.3 598.4L103.6 597L107.9 595.7L112.1 594.3L116.2 593L120.3 591.3L124.3 589.6L128.2 587.9L132 586.2L135.8 584.6L139.6 582.9L143.2 581.2L146.8 579.4L150.3 577.8L153.8 576.1L157.2 574.5L160.5 572.7L163.8 571L167 569.3L170.1 567.6L173.2 565.9L176.2 564.3L179.1 562.7L182 561L184.8 559.2L187.6 557.5L190.2 555.9L192.8 554.3L195.4 552.7L197.8 551.2L200.3 549.7L202.6 548.2L204.9 546.7L207.1 545.3L209.2 543.9L211.3 542.6L213.3 541.3L215.3 540L217.1 538.8L219 537.6L220.7 536.5L222.4 535.4L224 534.2L225.6 533L227 531.8L228.5 530.7L229.8 529.5L231.1 528.3L232.3 527.1L233.5 526L234.6 524.8L235.6 523.6L236.5 522.4L237.4 521.2L238.3 520.1L239 518.9L239.7 517.7L240.3 516.5L240.9 515.3L241.4 514.2L241.8 513L242.2 511.8L242.5 510.6L242.7 509.5L242.9 508.3L243 507.1L243 505.9L243 505.9L243 504.7L242.9 503.5L242.7 502.2L242.5 501L242.2 499.8L241.8 498.5L241.4 497.3L240.9 496.1L240.3 494.8L239.7 493.6L239 492.4L238.3 491.1L237.4 489.9L236.5 488.7L235.6 487.5L234.6 486.2L233.5 485L232.3 483.8L231.1 482.5L229.8 481.3L228.5 480.1L227 478.8L225.6 477.6L224 476.4L222.4 475.1L220.7 473.9L219 472.7L217.1 471.4L215.3 470.2L213.3 469L211.3 467.8L209.2 466.5L207.1 465.3L204.9 464.1L202.6 462.8L200.3 461.6L197.8 460.4L195.4 459.1L192.8 457.9L190.2 456.7L187.6 455.4L184.8 454.2L182 453L179.1 451.7L176.2 450.5L173.2 449.3L170.1 448.1L167 446.8L163.8 445.6L162.8 445.2" fill="none" stroke="#1c1cf0" stroke-width="1.1"/><path d="M137.4 445.2V610.8M221.9 445.2V610.8M31.9 532.6H137.4M31.9 523.4H137.4M137.4 537.2H221.9M137.4 518.8H221.9M221.9 537.2H243M221.9 509.6H243" fill="none" stroke="#2424f4" stroke-width="1.1" stroke-dasharray="4.6 2.2"/><rect x="31.9" y="445.2" width="211.1" height="165.6" fill="none" stroke="#2a2a2a" stroke-width="1"/><path d="M74.1 610.8v-2.2M74.1 445.2v2.2M116.3 610.8v-2.2M116.3 445.2v2.2M158.6 610.8v-2.2M158.6 445.2v2.2M200.8 610.8v-2.2M200.8 445.2v2.2M31.9 592.4h2.2M243 592.4h-2.2M31.9 574h2.2M243 574h-2.2M31.9 555.6h2.2M243 555.6h-2.2M31.9 537.2h2.2M243 537.2h-2.2M31.9 518.8h2.2M243 518.8h-2.2M31.9 500.4h2.2M243 500.4h-2.2M31.9 482h2.2M243 482h-2.2M31.9 463.6h2.2M243 463.6h-2.2" fill="none" stroke="#2a2a2a" stroke-width=".9"/><text class="tk" x="29.3" y="614.1" text-anchor="end">0</text><text class="tk" x="29.3" y="595.7" text-anchor="end">10</text><text class="tk" x="29.3" y="577.3" text-anchor="end">20</text><text class="tk" x="29.3" y="558.9" text-anchor="end">30</text><text class="tk" x="29.3" y="540.5" text-anchor="end">40</text><text class="tk" x="29.3" y="522.1" text-anchor="end">50</text><text class="tk" x="29.3" y="503.7" text-anchor="end">60</text><text class="tk" x="29.3" y="485.3" text-anchor="end">70</text><text class="tk" x="29.3" y="466.9" text-anchor="end">80</text><text class="tk" x="29.3" y="448.5" text-anchor="end">90</text><text class="tk" x="31.9" y="621.2" text-anchor="middle">0</text><text class="tk" x="74.1" y="621.2" text-anchor="middle">0.2</text><text class="tk" x="116.3" y="621.2" text-anchor="middle">0.4</text><text class="tk" x="158.6" y="621.2" text-anchor="middle">0.6</text><text class="tk" x="200.8" y="621.2" text-anchor="middle">0.8</text><text class="tk" x="243" y="621.2" text-anchor="middle">1</text><text class="ax" x="138" y="632.4" text-anchor="middle" font-style="italic">H</text><text class="ax" transform="translate(12.4 528.5) rotate(-90)" text-anchor="middle"><tspan font-style="italic" font-size="13">α</tspan> (°)</text><text class="cap" x="138.2" y="656.8" text-anchor="middle">(e)</text><rect x="289.8" y="445.2" width="210.5" height="165.6" fill="#fff"/><g clip-path="url(#cvf)"><path d="M424.5 529.8L479.2 529.8L479.2 445.2L424.5 445.2Z" fill="url(#grfr)"/><path d="M424.5 552.8L479.2 552.8L479.2 529.8L424.5 529.8Z" fill="url(#grfb)"/><path d="M424.5 610.8L479.2 610.8L479.2 552.8L424.5 552.8Z" fill="#00F2F2"/><path d="M479.2 557.4L504.5 557.4L504.5 529.8L479.2 529.8Z" fill="#50F050"/><path d="M479.2 610.8L504.5 610.8L504.5 557.4L479.2 557.4Z" fill="#00F2F2"/><path d="M479.2 529.8L504.5 529.8L504.5 445.2L479.2 445.2Z" fill="#FF6A00"/><path d="M382.4 524.3L424.5 524.3L424.5 445.2L382.4 445.2Z" fill="url(#grfd)"/><path d="M310.9 603.4L310.4 596.1L315.1 591.5L331.9 587.8L352.9 584.1L374 579.5L395.1 574.9L416.1 569.4L424.5 566.6L424.5 610.8L352.9 610.8L319.3 604.9Z" fill="#000080"/></g><path transform="scale(.5)" d="M649 900zm13 2zm-4 6zm21-1zm12 1zm9 2zm0 1zm-40 2zm7 1zm19 1zm8-3zm21 2zm-62 6zm19 3zm1-5zm5 5zm1-2zm2 2zm4 0zm7-4zm4 0zm2 3zm1 1zm5 0zm8-4zm7 3zm1 0zm11-3zm4 2zm2 2zm6-1zm2-1zm-102 5zm24 2zm3-4zm1 5zm4-5zm11 0zm0 5zm6-2zm12 0zm7-2zm3 4zm2-5zm1 3zm16 0zm3-1zm1 0zm1 2zm6-4zm1 2zm2 1zm2-1zm4 2zm1-1zm1-1zm0 1zm2 0zm1-2zm1 0zm1 4zm1-5zm2 3zm1 1zm4-2zm2 1zm1 2zm-125 2zm4 2zm16 0zm10 2zm6-4zm4 2zm4 1zm4-4zm4 2zm4-1zm6 3zm3 0zm1-3zm3-1zm1 0zm3 5zm5-3zm5-2zm0 4zm1 0zm1-2zm1 1zm2-3zm5 3zm2 0zm1-3zm2 1zm1 4zm1-1zm7-4zm0 2zm1-1zm5 0zm1 0zm0 2zm1-3zm5 1zm2-1zm0 1zm0 3zm2-2zm2-1zm6 3zm2-3zm4 3zm8-1zm3 1zm-134 2zm1 0zm4 1zm2 2zm5-1zm1 3zm5-2zm14-2zm6-1zm1 4zm2 1zm5-4zm4 2zm1-1zm3 2zm1-1zm4-2zm1 4zm4-2zm3-3zm1 3zm0 1zm5-2zm0 3zm6-4zm5 0zm0 1zm1-2zm0 2zm0 1zm2-3zm1 1zm0 3zm2-1zm0 2zm1-4zm0 3zm1 1zm2-4zm1 0zm0 3zm6 0zm2-3zm4 0zm1 4zm1 0zm5-4zm1 0zm1-1zm2 2zm0 2zm1-4zm1 5zm3-4zm2 2zm0 1zm0 1zm1-1zm2-1zm1-3zm2 3zm0 2zm2-5zm1 1zm2 1zm1 3zm1-3zm0 3zm2-4zm0 1zm1 0zm0 1zm1-1zm0 2zm4-1zm4 0zm1 2zm-139 3zm18 2zm2-3zm2 4zm7 0zm6-4zm1 2zm2 0zm0 1zm6-1zm1-3zm0 5zm1-3zm3-1zm2 1zm1 0zm8 1zm1 2zm5-2zm0 1zm1-2zm0 1zm1-2zm1 2zm1 0zm1-3zm2 2zm0 3zm3 0zm3-1zm1-4zm0 3zm2-1zm3 1zm0 1zm1-1zm0 1zm1-4zm0 1zm1 4zm3-2zm2 0zm2 2zm3-5zm0 4zm2-4zm0 1zm0 3zm2-3zm3 2zm1-1zm1 3zm2-3zm0 3zm1-5zm3 2zm1 2zm0 1zm4-1zm3-4zm1 0zm0 5zm1 0zm1-2zm0 2zm5-2zm2 2zm3-5zm0 2zm6-2zm0 5zm2-2zm4 1zm12-1zm1 1zm1 1zm-190 4zm10 2zm12-4zm15 2zm6-1zm3-1zm7 0zm4 1zm6 2zm1-2zm0 1zm4 1zm1-1zm1-2zm1 2zm2 1zm4 0zm1 0zm2-4zm2 0zm2 5zm5 0zm4-4zm5 4zm3-5zm0 5zm1-5zm1 1zm0 1zm0 1zm0 2zm2-5zm0 4zm1-1zm2 2zm1-1zm1-1zm1 2zm7-3zm2 0zm1 2zm2-3zm1 0zm2 4zm1-3zm2-2zm2 0zm0 5zm1-1zm1-1zm1-3zm0 2zm0 2zm1-1zm1-2zm1 0zm1 0zm0 3zm1-3zm1-1zm0 2zm1 3zm1-5zm1 1zm2 1zm1 0zm2 2zm1-2zm0 2zm1-2zm1 2zm1-4zm1 1zm2 3zm1-4zm0 3zm0 1zm0 1zm2-2zm0 2zm1-4zm2 3zm2-3zm0 2zm3-1zm1-1zm1 2zm1-1zm1 2zm1-4zm1 0zm2 2zm2 3zm1-4zm0 2zm2 0zm2 0zm0 2zm3-2zm1 2zm1 0zm1-2zm3-1zm0 1zm1 0zm1-1zm0 3zm2 0zm1-1zm1-2zm1 3zm2-2zm1 0zm0 1zm3-1zm3 1zm-174 2zm7 2zm3-2zm7 4zm5 0zm1-3zm1 0zm2 1zm2-2zm2 4zm4-2zm2 0zm0 1zm1 0zm2-3zm3 5zm5 0zm2-4zm4 2zm0 2zm2-2zm1-2zm2 0zm0 2zm1-3zm0 1zm2 2zm1 2zm1-5zm0 5zm7-3zm0 1zm1 0zm1 0zm1-3zm1 3zm1-1zm2-2zm1 5zm1-4zm0 4zm1 0zm1-2zm2-2zm0 2zm3-2zm0 1zm0 1zm1-1zm2-2zm0 2zm1 2zm1 0zm2-3zm2 4zm1-1zm1-3zm0 3zm1-1zm1-2zm1-1zm1 1zm1 0zm1 2zm1 1zm1 1zm1-5zm0 5zm3-3zm0 2zm0 1zm2-3zm2-2zm1 0zm0 2zm1-1zm2-1zm0 1zm0 3zm1-2zm0 2zm2-4zm3 3zm1 1zm1 0zm3-4zm1 1zm0 4zm1-4zm0 3zm0 1zm1-1zm0 1zm2-5zm5 1zm0 3zm1-1zm2-2zm1 0zm1 0zm0 2zm1 1zm1 0zm3-3zm1-1zm0 3zm1-2zm0 4zm2-2zm0 2zm3-2zm2-2zm0 2zm2 0zm3-1zm0 3zm2-4zm1 3zm2-3zm4-1zm1 2zm1-1zm-164 9zm19-2zm7-2zm2 3zm2-1zm0 1zm3-1zm1 0zm5 1zm4-2zm5 0zm1 3zm1-2zm0 2zm1 1zm3-5zm3 2zm0 3zm2-1zm1-4zm0 1zm3 2zm1-1zm1-1zm1 0zm0 1zm0 1zm3-3zm0 3zm1 1zm2-3zm0 2zm3 2zm1-1zm1-4zm0 2zm1-2zm4 5zm2-3zm1 1zm0 2zm3-5zm1 2zm0 1zm0 1zm1-2zm2-1zm1-1zm0 5zm1-5zm0 3zm1-2zm0 3zm1 1zm2-2zm2-3zm0 3zm1-1zm0 1zm0 1zm2 1zm4-1zm2-2zm0 2zm2-2zm1 3zm1-2zm1-3zm1 0zm0 4zm1-1zm0 1zm2-1zm1-3zm2 1zm0 2zm0 2zm2-5zm1 5zm2-5zm0 5zm1 0zm3-2zm0 2zm1-2zm1-1zm0 1zm0 1zm1-1zm0 2zm1-1zm1-4zm1 4zm0 1zm1-1zm1-4zm1 1zm0 1zm0 2zm0 1zm1-3zm1-2zm0 2zm0 1zm4-1zm2-2zm0 1zm1 3zm1-1zm1 0zm1-1zm1-1zm0 1zm3 0zm1 2zm1-4zm1 2zm1 0zm1 1zm0 2zm1-5zm0 1zm1-1zm0 1zm0 4zm2-4zm0 2zm1 0zm-204 8zm17-2zm3 0zm4 2zm15-3zm9 1zm6 2zm2-4zm5 0zm2-1zm0 2zm0 3zm5-1zm7-4zm0 1zm2-1zm1 3zm2-3zm0 5zm1-5zm0 3zm5 0zm1 0zm2-2zm4 0zm2 1zm1 0zm1-2zm0 2zm0 3zm1 0zm2-5zm0 1zm0 3zm1 1zm2-3zm0 1zm1 2zm1-4zm1 3zm1-2zm1 3zm3-5zm0 1zm0 4zm1-4zm1-1zm0 3zm0 2zm1-2zm1-1zm0 1zm1 1zm4-4zm0 2zm0 3zm1-1zm0 1zm2-2zm1 1zm1 0zm1-4zm0 4zm1-3zm0 3zm1-1zm3 1zm1-4zm0 3zm1-1zm0 2zm2-3zm0 1zm1-2zm1 1zm0 2zm1 0zm0 2zm1-5zm0 1zm0 3zm1-4zm1 0zm0 3zm1-2zm0 2zm2 1zm2-1zm1-3zm4 4zm1-4zm0 1zm2 3zm1 0zm0 1zm1-5zm0 2zm1-2zm0 2zm1-1zm0 3zm0 1zm1-3zm2 2zm1-4zm0 2zm3-1zm0 2zm1-2zm0 3zm1 0zm1-3zm0 2zm1-1zm0 1zm2 0zm2-1zm0 1zm1-2zm0 1zm1-1zm1 2zm1-3zm0 5zm1-5zm0 3zm0 2zm2-5zm0 5zm1-4zm0 1zm0 1zm1-1zm0 2zm1-4zm0 2zm0 2zm0 1zm2-3zm0 1zm0 2zm1-5zm0 4zm2-4zm2 1zm1 3zm1-4zm0 2zm2 2zm3-2zm1 2zm1-3zm0 3zm1-2zm1-1zm1 0zm0 1zm1-1zm0 4zm-181 3zm11 0zm10 1zm0 2zm8-2zm2-1zm4 0zm0 2zm9 0zm3 0zm5-1zm7 2zm2-5zm0 5zm2-2zm1 1zm1 0zm1-4zm3 5zm4-3zm0 2zm1-3zm0 3zm2-4zm1 2zm5-2zm2 4zm2-4zm0 3zm3-1zm2 3zm2-3zm1-1zm1 0zm0 1zm1 2zm0 1zm1 0zm1-5zm1 1zm1 1zm1-2zm0 5zm1 0zm2-2zm0 2zm1-4zm1 2zm1-2zm1 0zm0 3zm1 1zm1-2zm1-3zm1 1zm0 4zm1-5zm0 5zm2-5zm0 2zm1-2zm0 2zm1-1zm2 0zm1-1zm0 4zm0 1zm1 0zm1-5zm0 1zm0 4zm1-4zm1 3zm1-3zm0 4zm2-4zm0 4zm1-5zm0 3zm1-1zm0 3zm1-1zm2-1zm1-3zm0 2zm0 2zm0 1zm1-5zm1 2zm0 3zm1-5zm0 2zm0 3zm1-4zm1 0zm0 1zm1 1zm1 2zm1-3zm0 1zm1-2zm0 2zm1 1zm1-1zm0 2zm1-2zm1-3zm0 5zm1-5zm0 1zm0 3zm1-2zm0 2zm2-1zm0 2zm1-3zm1-2zm0 1zm2 1zm0 1zm1-1zm0 1zm1 1zm1 0zm1 0zm1-3zm1 4zm2 0zm1-1zm1 0zm0 1zm2-4zm2 4zm1-5zm0 3zm2-2zm0 1zm0 2zm2-3zm1 2zm1-1zm0 2zm1 0zm0 1zm1-5zm0 3zm2-3zm0 3zm2 2zm1 0zm-205 2zm4 3zm26-2zm7 2zm11-2zm2-2zm0 4zm19-3zm2 1zm5 3zm3-5zm0 2zm8 1zm1-3zm7 2zm1 3zm1-2zm1 0zm2-2zm0 2zm0 1zm1-4zm0 2zm3 3zm3 0zm2 0zm1 0zm1-5zm3 0zm0 2zm1-2zm1 0zm0 4zm1-4zm1 3zm3-3zm0 5zm1-1zm0 1zm1-2zm2 0zm0 1zm1-2zm0 2zm0 1zm1-3zm0 3zm1 0zm2-3zm1 0zm0 2zm5-2zm1-2zm0 3zm1 1zm1-4zm1 1zm0 3zm2-2zm3 0zm0 1zm1-1zm1-2zm0 3zm1-3zm1 1zm1 3zm1 0zm1-4zm0 4zm1-4zm0 3zm1 1zm1-2zm0 1zm1-3zm0 3zm2-3zm1 1zm0 4zm1 0zm3-5zm0 2zm2-1zm0 3zm1-2zm0 1zm0 2zm1-5zm0 3zm0 2zm1-1zm1-3zm0 1zm0 1zm0 1zm3-1zm0 1zm1-3zm1 0zm1 0zm1-1zm0 1zm0 3zm0 1zm1-5zm0 1zm2 0zm0 4zm1-5zm0 3zm1 0zm0 2zm1-2zm2-3zm0 1zm1 2zm1 0zm0 1zm1-3zm0 2zm1-3zm0 2zm0 2zm1-1zm1-3zm1 3zm1-3zm0 5zm1-4zm0 4zm2-4zm1 0zm1 2zm1-2zm0 4zm1-3zm0 2zm0 1zm1-2zm0 2zm1-1zm1-2zm0 1zm0 1zm0 1zm1 0zm1-2zm0 1zm1 1zm-181 1zm13 2zm14 0zm14-1zm3 0zm19 3zm2-4zm0 1zm2 2zm2-3zm1 0zm1 4zm4-4zm1 5zm2-5zm1 0zm1 2zm0 2zm1-3zm0 3zm2 0zm1 0zm1-2zm1-1zm0 3zm1-4zm2 2zm1 2zm0 1zm1-5zm0 3zm3-3zm2 0zm0 1zm0 2zm1-3zm0 3zm1-1zm1 2zm1-1zm1 0zm1 0zm0 1zm3-4zm0 3zm2 0zm1 1zm1-4zm0 4zm0 1zm1-5zm1 4zm1-1zm0 1zm1-3zm0 2zm0 2zm1-4zm0 2zm0 1zm1 1zm1 0zm1-5zm0 4zm1-4zm0 1zm0 2zm1-2zm0 1zm0 1zm1-2zm0 2zm0 1zm1-2zm0 2zm1-2zm0 3zm1-4zm0 2zm1 0zm0 1zm1-2zm1-1zm0 2zm0 2zm2-5zm0 1zm0 4zm1-2zm0 1zm1-4zm0 2zm0 2zm0 1zm1-5zm0 2zm0 3zm1-4zm1 0zm0 2zm1-3zm4 2zm0 2zm0 1zm1-4zm2-1zm0 2zm0 2zm0 1zm1-5zm0 1zm0 4zm1-4zm1 1zm0 1zm0 2zm1-2zm0 2zm1-3zm0 2zm1-3zm1-1zm0 5zm1-3zm1 1zm1-3zm0 4zm3-1zm1 1zm0 1zm1-2zm0 1zm1 0zm0 1zm1-5zm0 3zm0 1zm1-4zm1 5zm1-5zm0 5zm1-3zm0 1zm0 1zm0 1zm1-2zm1-2zm0 3zm0 1zm1-2zm0 2zm1 0zm1-5zm0 1zm0 1zm1-1zm0 4zm1-4zm0 4zm1-3zm0 3zm1-3zm0 3zm1-5zm0 3zm2 1zm0 1zm1-5zm0 1zm1-1zm0 4zm1-2zm0 3zm1-4zm0 2zm0 1zm1-2zm1 0zm1-2zm0 1zm-189 9zm13-1zm2-1zm29 0zm2 3zm12-1zm6-3zm2 2zm1-3zm0 4zm8-4zm0 4zm3-3zm2 2zm1-3zm1 1zm1 1zm2 0zm0 1zm1 0zm2-1zm0 3zm1 0zm1-1zm1 1zm3-1zm1 0zm0 1zm1-3zm0 3zm1 0zm3-4zm1 1zm1 3zm1-5zm3 0zm1 2zm0 2zm2-2zm1 3zm1-3zm1-2zm0 2zm3 2zm1-3zm1 0zm1 2zm1-2zm0 1zm0 2zm2-2zm1-2zm1 5zm1-4zm2-1zm0 1zm0 1zm1 3zm1-4zm1 1zm0 2zm1-4zm0 1zm1 0zm0 3zm1-2zm0 1zm0 1zm0 1zm1-4zm0 1zm0 1zm1-3zm1 0zm0 1zm0 1zm2-2zm0 1zm2 0zm0 1zm2 0zm0 2zm1-4zm0 1zm1-1zm0 1zm1 2zm1-2zm2 0zm1 0zm0 1zm0 3zm2-1zm0 1zm1-4zm1 1zm1 1zm1 0zm0 2zm1-1zm0 1zm1-5zm1 1zm1 0zm0 1zm0 1zm1-3zm0 1zm0 4zm1-2zm1 2zm1-3zm0 2zm1-4zm0 1zm0 1zm0 2zm0 1zm1-5zm1 2zm1-1zm1 0zm0 1zm0 1zm2-2zm0 1zm1 1zm1 0zm1 1zm1-3zm2 0zm1 1zm0 1zm1 0zm0 2zm1-3zm0 1zm0 2zm1-4zm1 2zm1-1zm2 0zm0 2zm1-1zm0 2zm2-1zm1-1zm0 2zm1-4zm0 2zm0 2zm-178 6zm25-4zm12 4zm5-3zm5 3zm7-3zm4-1zm0 3zm2-4zm0 2zm2-2zm3 4zm1-1zm1-1zm5-1zm0 4zm2-5zm0 1zm1-1zm0 1zm1 3zm1-3zm5 0zm1 2zm1-1zm1-2zm0 5zm3-3zm2 1zm1-3zm0 3zm1-1zm1 0zm3-2zm1 0zm0 5zm1-2zm1 2zm1-5zm1 3zm1-1zm0 2zm2-4zm2 4zm1-1zm1 0zm0 2zm1-4zm0 1zm1-1zm0 2zm1-3zm0 4zm1 1zm1-2zm1 1zm1-4zm0 4zm0 1zm1-5zm0 1zm0 3zm1 0zm1-3zm0 4zm1-4zm0 2zm1-3zm0 5zm1-5zm0 2zm0 1zm1-3zm0 1zm0 3zm1 0zm0 1zm1-5zm0 4zm1-2zm0 1zm0 1zm1-4zm0 5zm1-2zm0 1zm1-1zm0 1zm2-3zm0 1zm1-2zm0 3zm1 1zm1-4zm0 1zm1 3zm2-1zm0 2zm1-5zm0 2zm1-2zm0 2zm1-2zm1 2zm0 2zm0 1zm2-4zm0 1zm1 0zm0 2zm1-1zm0 1zm0 1zm1-3zm1 1zm1-2zm0 1zm1 0zm0 2zm2 0zm0 1zm1-4zm0 1zm0 3zm1-3zm1-2zm0 4zm2-4zm0 3zm1-3zm0 5zm1-2zm1-3zm0 1zm0 1zm1 3zm2-3zm0 3zm1-4zm1 1zm0 2zm0 1zm2-5zm0 3zm0 1zm1-4zm0 2zm1-2zm0 4zm0 1zm1-2zm1-3zm0 1zm0 1zm1 1zm0 1zm1-1zm0 2zm1-5zm0 3zm0 1zm1-1zm1-1zm0 2zm1-4zm0 2zm0 1zm0 2zm1-5zm0 2zm1-1zm2 1zm-165 8zm20 1zm7-3zm0 3zm1 0zm2-3zm3 0zm4-1zm6 4zm2-4zm4 0zm6-1zm2 5zm2-3zm1 2zm1-2zm1 0zm0 1zm1 0zm0 2zm2-4zm2 3zm2-2zm0 3zm2-2zm0 1zm2 0zm2-1zm1-3zm0 2zm1 1zm1 0zm2-2zm3 2zm2-3zm0 4zm2-2zm1 2zm1 0zm1-1zm0 1zm1 0zm1-1zm1-3zm0 3zm0 2zm1-5zm0 1zm1-1zm1 1zm2 0zm2 3zm1 0zm1-2zm0 1zm0 1zm1-1zm0 2zm1-5zm0 4zm3-2zm2 2zm1-4zm0 1zm0 4zm1-5zm0 3zm0 1zm1 0zm1 0zm1-4zm0 2zm1-2zm0 2zm0 3zm1-3zm0 2zm0 1zm4-5zm1 1zm1 0zm0 1zm1 0zm0 3zm1-5zm1 0zm0 1zm0 2zm1-2zm0 2zm1-3zm0 1zm0 1zm0 1zm0 1zm1-3zm0 4zm2-5zm2 3zm1-3zm0 3zm1-2zm1-1zm0 4zm0 1zm1-5zm0 3zm1-3zm0 3zm1-1zm0 1zm1-3zm1 2zm0 3zm1-4zm0 1zm1-1zm1-1zm0 3zm0 1zm0 1zm2-2zm0 2zm1-4zm0 2zm1-3zm0 1zm0 1zm0 1zm0 1zm1-2zm1 2zm1-4zm0 2zm0 1zm0 2zm1-1zm1-2zm1-1zm0 1zm1 0zm0 3zm1-4zm0 3zm1-4zm0 2zm0 2zm0 1zm2-3zm0 1zm1-1zm0 1zm0 1zm0 1zm1-5zm1 3zm0 1zm1 0zm1-4zm0 2zm0 1zm0 1zm1-2zm0 2zm0 1zm1-4zm0 2zm-156 6zm6 2zm18-2zm3-3zm8 0zm10 3zm1-3zm1 0zm0 5zm1-5zm0 2zm1 2zm2-2zm2 0zm1 1zm2-1zm1-2zm1 3zm4 2zm1-2zm1 2zm1-2zm2-3zm0 2zm1 0zm0 3zm3-5zm5 0zm2 0zm1 3zm3 1zm1-1zm0 2zm1-4zm0 1zm0 3zm1-2zm0 1zm0 1zm1-4zm0 1zm1 1zm0 1zm3-3zm0 1zm0 1zm1-3zm1 1zm1 2zm0 1zm1 0zm1-3zm1 2zm3-1zm1-2zm0 3zm1 1zm1-2zm0 2zm1-4zm0 2zm1 2zm1-3zm0 1zm0 1zm1-2zm0 1zm0 3zm1-5zm1 1zm0 2zm1-3zm0 5zm1 0zm2-3zm0 1zm0 1zm1-4zm1 0zm0 3zm0 2zm1-1zm0 1zm1-5zm0 1zm0 4zm2-5zm1 2zm0 2zm0 1zm1-1zm1 1zm1-3zm0 3zm1-3zm0 2zm1 0zm1-3zm1 1zm0 3zm1-2zm0 1zm0 1zm1-4zm1 0zm0 2zm0 1zm1-4zm0 2zm0 3zm1-2zm1 2zm1-4zm0 4zm1-4zm0 4zm1-1zm0 1zm1-3zm0 3zm1-4zm0 2zm0 1zm1 1zm1-3zm1-1zm0 1zm1 0zm0 1zm1-3zm0 1zm0 1zm0 2zm1-2zm0 3zm1-5zm0 1zm0 1zm1-2zm3 1zm1 3zm1-3zm0 1zm0 2zm0 1zm1-2zm1 1zm1-4zm1 0zm0 3zm0 2zm-151 6zm9-2zm28-3zm5 0zm2 4zm1-3zm6 1zm5 2zm1-4zm1 4zm1-2zm1-2zm0 2zm0 2zm2 0zm3 0zm0 1zm5 0zm2-5zm1 2zm1-2zm1 4zm1-3zm0 1zm1 3zm2 0zm1-4zm3 2zm0 2zm3-5zm0 1zm2-1zm0 2zm0 2zm1 1zm2-5zm2 0zm0 1zm0 2zm1-3zm1 0zm1 2zm0 3zm1-3zm1 1zm1-2zm0 4zm1-1zm1-3zm1 0zm0 2zm0 1zm3 0zm0 1zm2 0zm1-3zm0 3zm2-3zm0 3zm1-5zm4 1zm0 2zm1-1zm1-1zm0 4zm1-4zm0 1zm0 2zm1-4zm1 2zm1 3zm1-3zm1 1zm0 1zm1-1zm1 2zm1-3zm0 2zm0 1zm1-5zm0 5zm2-5zm0 3zm2-3zm0 1zm0 1zm1 2zm1-4zm0 2zm1-1zm0 1zm0 2zm1-4zm0 1zm0 1zm0 2zm1-1zm0 1zm1-3zm0 3zm0 1zm1-2zm0 1zm1-4zm0 4zm1 0zm0 1zm1-5zm0 3zm0 2zm1-2zm1-2zm1 4zm1-5zm0 4zm1-4zm0 3zm0 2zm1-1zm1-4zm0 4zm1-3zm0 1zm0 1zm1 2zm1-3zm0 1zm1-1zm0 2zm0 1zm1-5zm0 4zm-152 7zm24-5zm20 1zm7 0zm1 2zm3-3zm1 4zm2 1zm1-1zm2 1zm3-4zm2 1zm2-1zm2-1zm1 1zm0 4zm4-4zm5-1zm0 2zm2-2zm0 2zm1 0zm0 1zm1 2zm1-5zm0 1zm0 2zm1-3zm1 0zm1 5zm1-3zm5-2zm3 2zm0 1zm0 2zm1 0zm1-4zm0 4zm1-1zm1-1zm1-1zm3 0zm1-2zm0 3zm1-3zm0 1zm2 2zm2-3zm0 2zm0 2zm1-1zm1-3zm0 3zm1-3zm1 2zm0 2zm2-4zm0 1zm0 4zm1-1zm4-4zm0 2zm0 1zm0 1zm1-4zm0 1zm0 4zm1-4zm0 1zm1-1zm0 4zm1-5zm0 4zm1-1zm1-3zm1 0zm0 1zm0 3zm1-4zm1 5zm1 0zm1-3zm0 2zm2-4zm0 1zm0 4zm1-5zm0 1zm0 2zm2-3zm0 5zm1-3zm0 3zm1-2zm0 1zm1-4zm0 1zm0 1zm2-1zm0 2zm0 2zm1-4zm1 2zm0 1zm1-3zm0 1zm0 1zm1 0zm2-2zm0 1zm1 3zm1-5zm0 2zm-174 6zm24 1zm2 0zm10 2zm21-2zm2-2zm11 0zm3 2zm1-1zm3 0zm3-2zm1 0zm3 3zm1-3zm1 2zm0 2zm0 1zm7-4zm1 4zm3-1zm1-3zm2 3zm3-4zm2 0zm0 2zm3 3zm4-4zm0 3zm2-1zm0 2zm1-5zm2 2zm1-1zm1 4zm2-1zm1-2zm0 1zm1-3zm0 3zm1-1zm0 1zm1 0zm0 1zm1-4zm0 2zm1-1zm1-1zm1 0zm1 2zm1 3zm1-3zm0 3zm1-1zm1-3zm3 0zm1 1zm1-2zm0 3zm1-1zm1 1zm0 2zm1-4zm0 2zm0 1zm3-2zm2 2zm0 1zm1 0zm2-2zm1 1zm0 1zm1-4zm1 0zm0 3zm0 1zm1-5zm4 3zm1-3zm0 2zm0 1zm0 2zm1-5zm0 4zm0 1zm1-2zm1 1zm0 1zm2-3zm0 1zm1-3zm0 3zm0 1zm1-2zm1-2zm0 1zm0 2zm1 0zm0 2zm1-4zm0 1zm0 1zm1-2zm0 4zm1-4zm0 2zm0 1zm0 1zm1-4zm0 4zm1-2zm1 1zm0 1zm1-5zm0 2zm-125 4zm5 4zm0 1zm2-2zm1-2zm22 0zm3 1zm3 3zm2-5zm4 1zm6 0zm2 1zm4 2zm1-3zm4 3zm1-2zm3-2zm2 5zm1-2zm1-1zm2-1zm0 2zm0 1zm2-3zm0 3zm0 1zm1-2zm1 2zm1-4zm1 1zm0 1zm3-3zm5 5zm1-2zm1-1zm0 1zm0 1zm0 1zm1-4zm1 1zm0 2zm1-3zm0 1zm1 3zm1-4zm0 2zm1-2zm1 0zm0 3zm1-1zm2-3zm0 4zm1 0zm1-2zm0 3zm3-4zm1 1zm0 1zm3-2zm0 1zm1-1zm0 2zm1-2zm0 1zm0 1zm1-3zm0 3zm1-1zm1 1zm0 2zm3-5zm0 1zm0 2zm1 0zm1-1zm1-1zm1 0zm0 2zm0 1zm1-3zm0 1zm0 1zm0 2zm2-2zm2 2zm1-5zm0 2zm0 2zm0 1zm1-3zm0 1zm0 2zm1 0zm-110 3zm13 1zm12 0zm5-2zm0 4zm1-1zm4-1zm4-2zm1 4zm1-3zm1 0zm1 1zm0 1zm4-1zm3-2zm1 0zm1 3zm4-1zm5-3zm0 4zm2-3zm0 3zm1 1zm1-3zm1 0zm1-2zm1 1zm1 0zm1 1zm2 2zm1 0zm1-4zm1 1zm2 4zm1-5zm0 5zm2-4zm0 4zm1-5zm0 1zm3 0zm0 4zm1-5zm1 1zm0 1zm0 3zm4-5zm2 4zm1-2zm0 1zm1-1zm0 1zm0 2zm1-4zm1 2zm0 1zm2-2zm0 1zm0 1zm2-2zm1-2zm1 5zm1-1zm0 1zm1-4zm1-1zm1 1zm1 1zm0 1zm0 2zm1-3zm0 3zm1-4zm0 3zm1-2zm0 3zm1-1zm-122 5zm5-2zm15 1zm5 0zm1-2zm6 4zm6-4zm5 3zm0 1zm12 0zm1-4zm3 3zm2 1zm2-1zm2 0zm1 0zm5 1zm3-2zm1 0zm2 1zm2-1zm3-1zm1 0zm0 2zm1-3zm0 1zm1 1zm2 1zm0 1zm2-4zm0 1zm0 1zm0 1zm1-2zm4-1zm0 4zm1 0zm1-4zm1 0zm0 4zm1-2zm1-1zm1 0zm0 3zm1-1zm1-2zm1 2zm1-2zm0 1zm0 2zm1-2zm1 2zm1-3zm0 1zm0 2zm1-3zm0 1zm1 1zm1 0zm1 1zm2-4zm0 3zm0 2zm2-3zm1 0zm1-2zm1 0zm1 1zm0 2zm1-3zm1 3zm1-3zm0 2z" fill="none" stroke="#800000" stroke-width="1.8" stroke-linecap="square" opacity="0.75"/><path transform="scale(.5)" d="M849 955zm3-1zm-2 6zm0 4zm1-2zm1-2zm2 4zm1 0zm3-3zm1 1zm4 0zm1 2zm1-4zm7 3zm1 0zm-21 4zm4 3zm1 1zm2-1zm1-4zm3 4zm0 1zm4-5zm6 2zm7-1zm1 1zm6 2zm2 0zm-37 3zm4-1zm2 0zm1 3zm1 0zm6-2zm1 3zm1 1zm8-5zm1 0zm2 4zm3 1zm5-5zm2 5zm2-3zm6-1zm-45 6zm4 4zm2-2zm0 2zm3-5zm3 1zm0 2zm3-1zm4 2zm0 1zm1-5zm4 1zm1 1zm2-2zm7 0zm1 3zm0 1zm4-3zm7-1zm0 2zm6 2zm1-3zm0 4zm1-1zm1-1zm1 1zm1 1zm1 0zm5-1zm2 1zm-65 4zm2-1zm6-2zm6 4zm1 0zm9-3zm1 0zm10 2zm3-1zm5 2zm1-3zm1-1zm6 4zm7-2zm0 2zm2-2zm2 3zm1-4zm0 1zm4 2zm0 1zm3-2zm-72 3zm6 1zm5 1zm8 2zm1 1zm3-2zm0 2zm1-3zm2 3zm5-2zm5 1zm3-2zm6 3zm1-4zm1 1zm1-2zm0 3zm6-1zm6 2zm0 1zm4 0zm1-2zm0 2zm2-1zm2 0zm2-3zm2 1zm4 1zm1-1zm0 3zm2-1zm1-2zm-81 8zm0 1zm6-2zm5-3zm1 2zm1 2zm2-4zm5 1zm7 0zm1 0zm2 0zm0 4zm2-2zm3-1zm4-1zm0 1zm6 2zm7-2zm6 0zm3-2zm0 2zm4 1zm5-2zm2 3zm4-2zm6 1zm0 2zm2-2zm1 0zm3-2zm4 1zm2 2zm-94 3zm4 2zm6-3zm7 5zm3-4zm1-1zm2 5zm1-5zm0 5zm1-5zm8 3zm0 2zm4-3zm0 1zm1 1zm3-1zm1-3zm8 4zm2-2zm6 1zm0 2zm1-5zm0 3zm3-2zm1 0zm0 1zm1-2zm1 3zm6-2zm6-1zm0 1zm1 2zm2 0zm1 1zm4 1zm1-3zm2 2zm1-1zm1 2zm1-3zm0 2zm3-3zm3 4zm-97 1zm4 0zm1 2zm9 0zm1 3zm2-1zm4-4zm3 3zm2 0zm6-1zm2-2zm0 1zm3 4zm3-2zm1 2zm4-2zm3 1zm15-2zm1 3zm5-2zm0 2zm1-1zm3-1zm1-1zm3-1zm1-1zm1 0zm0 1zm2 0zm1-1zm0 3zm4 1zm2-4zm0 5zm2-3zm0 2zm7-3zm6 1zm2 0zm1 0zm-106 5zm4-1zm5 4zm2-2zm2 0zm3 2zm1-4zm1 2zm4 2zm1-4zm0 5zm2-5zm0 1zm3 4zm1 0zm1-4zm2 0zm4-1zm3 0zm0 1zm4 0zm1 3zm3-4zm0 3zm0 1zm2-2zm3 2zm1-2zm0 2zm17-1zm3 1zm2 1zm6-5zm1 2zm1-2zm1 4zm0 1zm2-3zm0 1zm3 0zm1-1zm2 2zm1-2zm0 3zm3-4zm1-1zm3 5zm2-5zm4 4zm2-4zm-107 11zm11-5zm2 1zm1-1zm6 2zm1 1zm2 2zm3-5zm6 5zm10 0zm5 0zm1-1zm0 1zm1-5zm5 2zm2 0zm3 0zm1-2zm2 4zm2-3zm1 4zm2-3zm9-2zm3 3zm4 0zm1 2zm1-3zm6 0zm1-1zm1-1zm1 1zm1 4zm2-5zm2 4zm0 1zm3-5zm-103 8zm1 2zm5-2zm9 3zm2-3zm5 0zm1-1zm0 3zm3-1zm2 2zm7-3zm7-2zm1 0zm3 1zm0 4zm3-1zm0 1zm1-2zm1 2zm10-1zm4-2zm0 3zm1-3zm2-1zm0 3zm1-1zm3 2zm2-1zm5-4zm1 0zm1 3zm6-2zm1 4zm1-5zm0 5zm2-5zm2 1zm3 0zm2 0zm0 1zm2-2zm1 0zm3 1zm0 1zm2 1zm1 2zm1-4zm-100 6zm2 0zm6 1zm5 0zm17 2zm3-3zm2 1zm1 3zm6-2zm7 1zm2-1zm3 2zm4 0zm4-5zm5 1zm0 4zm3-5zm2 0zm0 5zm1-4zm0 2zm4-1zm4-2zm5 2zm4-1zm0 2zm1-1zm1 1zm2 0zm2-2zm3 2zm0 2zm1-5zm-106 11zm3-5zm1 2zm3 3zm9-2zm0 2zm3-5zm3 2zm1 3zm6-3zm1-1zm0 2zm5 1zm5-2zm1 2zm0 1zm2-3zm2 1zm6-1zm4 1zm4-3zm3 2zm1 3zm1-4zm4-1zm0 1zm2 3zm2 1zm1-4zm0 4zm5-5zm0 4zm1-3zm2 3zm1-1zm6 2zm1-4zm1 1zm0 3zm1-5zm2 5zm1-1zm1-1zm4-3zm1 2zm0 2zm3-1zm1 0zm1 1zm1 0zm0 1zm-108 1zm4 5zm3-5zm7 3zm1-1zm4 3zm2-3zm2-1zm5 1zm3 0zm2-2zm1 4zm1-1zm8 2zm2-1zm2-2zm1 2zm1-1zm0 1zm1-4zm8 2zm2 2zm8-1zm6 0zm1-2zm1 4zm1-4zm0 2zm1 0zm8-3zm3 1zm1 2zm0 2zm1-4zm1 0zm3 3zm2-1zm4 0zm1-3zm0 2zm0 3zm2-4zm2 0zm0 4zm2-2zm-108 7zm1 0zm9-2zm3 0zm1 0zm0 3zm2-3zm0 2zm1-4zm0 5zm3-5zm4 2zm3 1zm0 1zm1 0zm4-4zm9 4zm1 0zm6 1zm7-5zm0 3zm0 2zm10-1zm1-2zm2 2zm1-3zm0 1zm6 0zm3 0zm7 0zm1 2zm1 0zm5-2zm3-1zm5 0zm1 4zm6-5zm0 2zm-107 6zm3 1zm3-1zm11 1zm6 0zm2-1zm1-1zm3 2zm1-2zm7 2zm1-3zm1 0zm1 1zm4 2zm2-2zm5 0zm1-1zm2 0zm4 1zm2 0zm9-1zm6 2zm5-2zm6 1zm4 2zm1-3zm1 4zm3-1zm0 1zm2-1zm2-3zm1 0zm1 3zm2-2zm1 0zm1 0zm2 2z" fill="none" stroke="#E00000" stroke-width="1.8" stroke-linecap="square" opacity="0.75"/><path transform="scale(.5)" d="M878 1049zm10 0zm35 0zm-72 5zm1 1zm1-1zm4 1zm4 0zm7-4zm2 4zm1-1zm2-4zm7 0zm0 3zm4 0zm7-1zm8 1zm1 0zm23 2zm30-4zm-102 8zm1 1zm2 0zm1-3zm1 3zm1-4zm2 3zm3-1zm1 1zm1-3zm1 3zm0 2zm1 0zm1-3zm5-1zm0 3zm1-4zm0 2zm1 3zm1-5zm4 0zm2 3zm1 2zm9 0zm2-2zm11 1zm0 1zm1-4zm12 2zm1-2zm4 0zm13 1zm19 1zm-104 4zm1 0zm0 1zm0 1zm1 0zm2-1zm1 0zm0 3zm1-4zm0 1zm0 3zm1-2zm1 0zm2-2zm1 1zm2 0zm1-1zm1 1zm1 1zm1 0zm0 1zm1-3zm1 1zm0 1zm1-2zm0 2zm1 2zm4-4zm0 4zm4-3zm1 0zm0 1zm1 2zm3-5zm0 2zm1 2zm3-4zm0 5zm1-5zm1 5zm1-4zm1-1zm1 0zm3 0zm0 1zm5 2zm3 1zm0 1zm1 0zm1 0zm1-4zm8 1zm1 2zm10-1zm-77 3zm0 1zm0 2zm3-2zm1-1zm0 1zm2 3zm1-2zm0 1zm1-3zm1 2zm0 2zm1 1zm1-5zm0 1zm0 3zm2-3zm0 3zm0 1zm1-4zm0 1zm2 1zm1-2zm0 3zm1-4zm0 4zm1-4zm0 5zm1-5zm0 1zm0 1zm1 0zm3-2zm0 2zm1-2zm0 1zm0 1zm0 2zm1 0zm1 1zm2-1zm0 1zm1-3zm0 2zm1 0zm1 0zm0 1zm1-1zm1-3zm0 1zm1-1zm0 3zm0 1zm2-1zm0 1zm1-5zm2 0zm1 2zm0 1zm0 2zm1-3zm1-1zm0 4zm2-5zm0 3zm1-2zm0 1zm2 0zm1 1zm1-3zm2 0zm2 2zm0 1zm1-2zm2 2zm0 1zm1-1zm5-1zm6 0zm0 3zm1-1zm8 0zm3-4zm0 1zm5 3zm-86 4zm1 0zm0 1zm1-3zm0 1zm0 1zm0 3zm1-4zm1 3zm1-4zm0 2zm1-1zm0 3zm1 0zm1 1zm1-2zm0 1zm1-2zm0 2zm1-4zm0 2zm0 1zm1 0zm1 0zm1-3zm0 4zm0 1zm1-5zm1 2zm1-2zm0 1zm0 3zm0 1zm1-4zm0 1zm0 2zm1 0zm1-1zm0 2zm2-5zm0 1zm1-1zm1 2zm1-2zm0 4zm0 1zm1-5zm0 3zm0 2zm1-3zm1 1zm0 1zm1-3zm1 3zm0 1zm1-5zm1 2zm0 3zm1-4zm0 3zm0 1zm2-5zm0 2zm0 1zm1-2zm2-1zm1 4zm1-4zm0 3zm4-1zm1-1zm1 1zm4-2zm2 4zm1-4zm1 3zm2-1zm1 2zm1-1zm2-2zm4 1zm2-1zm1-1zm2 4zm4 0zm4-1zm5-2zm0 1zm-82 7zm0 2zm1-4zm1 2zm0 1zm1 1zm1-1zm0 1zm1-5zm0 2zm0 1zm0 1zm1-4zm0 1zm1 2zm0 1zm0 1zm1-5zm0 1zm0 3zm1-4zm0 1zm0 1zm1 0zm0 1zm0 1zm0 1zm1 0zm1-5zm0 4zm0 1zm1-3zm0 3zm1-4zm0 3zm1-4zm0 3zm1-3zm1 0zm0 4zm0 1zm1-1zm0 1zm1-5zm1 4zm2-3zm0 1zm0 2zm0 1zm1-3zm1-1zm0 2zm1-1zm0 1zm1 0zm0 1zm1-4zm1 3zm1-3zm1 5zm1-1zm1-1zm1 1zm1-2zm0 1zm0 1zm1-3zm0 3zm1-3zm0 3zm1-4zm0 1zm1 2zm1 1zm3-3zm0 2zm3 1zm1-1zm1 0zm1 0zm0 2zm1-4zm1 0zm0 1zm1-1zm2 2zm0 2zm1-2zm1 1zm0 1zm2 0zm1-4zm1 3zm0 1zm1-4zm0 2zm1-2zm2-1zm0 1zm2-1zm0 4zm3-4zm1 3zm3 1zm1 1zm7-3zm7 0zm2 0zm1-1zm3 2zm6 1zm8-3zm-107 8zm0 2zm1-2zm0 1zm1-3zm0 2zm1-1zm0 3zm1-5zm0 2zm0 2zm1-4zm0 2zm1-2zm0 4zm0 1zm1-4zm0 3zm1-3zm0 3zm1 1zm1-5zm0 4zm1-4zm0 3zm1 1zm1-4zm0 3zm0 1zm1-2zm0 3zm1-5zm1 0zm0 1zm0 2zm1-2zm0 3zm1-2zm0 1zm0 2zm1-5zm1 0zm0 3zm1 0zm1-1zm0 1zm1-3zm0 1zm0 2zm1-2zm0 2zm0 2zm1-5zm0 4zm1 0zm1 1zm1-3zm0 2zm1-4zm0 5zm1-3zm1-2zm0 1zm0 3zm1-3zm0 3zm1-1zm1 1zm2-4zm0 1zm0 2zm2-3zm0 2zm0 3zm1-5zm1 1zm2 4zm1-5zm0 1zm0 3zm1 0zm4 1zm1-4zm0 1zm0 2zm2 0zm0 1zm2-1zm2-4zm2 2zm0 2zm1-4zm0 3zm1-1zm0 3zm3-3zm0 3zm1-4zm0 2zm0 2zm1-1zm1-3zm0 1zm3-1zm4-1zm0 3zm5 0zm3 0zm7 2zm10-4zm11 1zm-108 4zm1 0zm2 0zm0 2zm0 1zm0 1zm0 1zm1-5zm0 3zm1 0zm1-3zm0 2zm1 3zm1-5zm0 1zm0 2zm1-1zm1-2zm1 1zm0 1zm0 3zm1-5zm0 3zm0 1zm1-2zm1-2zm0 1zm1 1zm0 3zm1-2zm0 1zm0 1zm1-5zm0 1zm0 1zm2-1zm0 4zm1-3zm1 2zm2-3zm0 1zm0 3zm1-5zm0 3zm2-3zm0 4zm1-2zm0 2zm0 1zm4-5zm2 0zm1 2zm0 2zm0 1zm2-4zm0 3zm1-4zm0 1zm0 2zm1 0zm0 2zm1-5zm0 1zm0 4zm2-4zm0 2zm3 2zm1-5zm0 1zm1-1zm2 0zm1 3zm1-2zm2-1zm1 1zm1 2zm3-3zm3 0zm3 0zm0 1zm1-1zm6 0zm4 0zm10 1zm0 2zm7-2zm-90 8zm1-2zm0 2zm0 2zm1-4zm1-1zm0 4zm0 1zm1-4zm0 1zm1 0zm1-2zm0 1zm0 2zm0 1zm1-4zm1 4zm1-4zm0 2zm1-1zm0 1zm1-2zm0 1zm0 2zm1-1zm0 2zm1-2zm0 3zm1-3zm1 0zm0 1zm1-1zm0 1zm1-3zm1 0zm1 1zm0 1zm1 2zm1 0zm1-4zm0 3zm1-2zm0 2zm1-3zm0 2zm0 2zm1 1zm1-2zm2-1zm0 1zm2-3zm0 4zm0 1zm1-4zm0 4zm1-3zm1-2zm0 4zm2-2zm0 3zm1-5zm0 3zm1 0zm1-1zm1 2zm1-4zm0 2zm2 1zm1 0zm3 1zm1-4zm1 2zm1-2zm1 0zm2 0zm0 2zm2-2zm0 2zm1-2zm0 3zm2-3zm1 3zm2 0zm1 0zm6 0zm1-3zm1 1zm8 4zm11-5zm-88 10zm0 1zm1 0zm1-5zm0 2zm0 1zm1-1zm1 2zm1 0zm1-4zm0 1zm0 2zm0 2zm5-1zm0 1zm3-5zm1 3zm0 2zm1-1zm5-4zm0 3zm1-3zm1 0zm1 5zm1 0zm1-4zm0 3zm2-4zm3 3zm1 1zm2-4zm2 3zm1 2zm6-1zm5-2zm1-2zm3 1zm0 1zm0 1zm1-3zm0 1zm1 2zm0 1zm1-2zm1 2zm5 1zm7-5zm5 1zm5 3zm3-3zm2-1zm-80 6zm1 0zm1 2zm2 2zm4-4zm1 0zm1 1zm0 4zm1-5zm0 4zm1-4zm1 1zm1-1zm5 2zm2 0zm2-1zm1 4zm1 0zm1-5zm0 3zm2-1zm3 0zm3-2zm2 3zm1-1zm11 1zm1-3zm2 3zm2-2zm7 0zm1 0zm1 4zm1-3zm-66 8zm4 1zm8-2zm1-3zm0 4zm3 0zm3 1zm6-1zm1-4zm3 1zm2 4zm1-3zm1-1zm2 2zm5 1zm3-3zm0 1zm15 2zm13 1zm4-1zm1 0zm4 0zm-81 6zm1-4zm1 3zm2 1zm5-2zm1 3zm1-3zm4 3zm8 0zm2-2zm8-2zm3 3zm3 1zm3-2zm8-2zm17 3zm2-3zm-62 5zm11 1zm2 2zm4 2zm34-3zm-37 4z" fill="none" stroke="#fff" stroke-width="1.8" stroke-linecap="square" opacity="0.8"/><path transform="scale(.5)" d="M839 1109zm-27 6zm19-1zm6 0zm1-4zm3 3zm-64 3zm28 0zm3 5zm7-4zm16 4zm3-5zm3 4zm1 0zm4-2zm4 1zm0 2zm-68 5zm4-1zm19 0zm1 0zm6 2zm11-5zm2 2zm4 0zm4 3zm3-2zm3-3zm1 5zm2-2zm3-2zm0 1zm3-2zm1 2zm0 2zm1-4zm2 4zm1-4zm0 5zm-85 5zm5 0zm2 1zm4 0zm3-2zm3 2zm8-4zm3-1zm1 2zm9-1zm0 1zm0 1zm2-2zm0 3zm6-2zm3 0zm2 3zm8-3zm0 1zm1-3zm2 2zm2 1zm4-3zm1 0zm1 0zm2 0zm1 0zm0 3zm1-1zm0 1zm1 0zm0 1zm1-3zm0 4zm1-3zm1 3zm1 0zm2-4zm0 1zm1 2zm0 1zm2-5zm-105 10zm8 1zm9-3zm14 2zm2-1zm1-1zm2 1zm2-3zm2 2zm3 3zm2-3zm2 2zm1-2zm4 1zm1-1zm5-2zm2 0zm0 2zm2-1zm1 4zm1-1zm2-2zm0 3zm2-5zm1 1zm0 4zm1-5zm0 1zm1 0zm0 1zm1-1zm1 3zm1-1zm2-3zm0 4zm1-1zm1 0zm2-3zm0 3zm0 2zm1-2zm0 1zm1-3zm0 3zm0 1zm2-2zm2 0zm3 0zm1-3zm0 2zm0 3zm1-4zm0 1zm1-1zm0 2zm2-1zm1 0zm1-2zm0 1zm1 0zm0 2zm0 1zm2-4zm1 0zm0 4zm1 1zm1-1zm1 0zm-131 5zm2 0zm8 2zm4-2zm8 2zm5 0zm1-3zm2-1zm3 3zm7-3zm5 0zm1 1zm3 3zm2-1zm3-4zm0 3zm2-2zm1 4zm1-5zm0 5zm1-5zm5 0zm0 5zm1 0zm4-4zm0 4zm2-5zm0 4zm3-2zm2 1zm1 1zm0 1zm4-4zm1 1zm1-1zm2-1zm0 5zm1-4zm1 0zm0 2zm0 1zm3-3zm0 2zm1-3zm0 2zm0 1zm2-1zm0 1zm1-2zm0 1zm0 3zm2-3zm1 2zm1-3zm1 0zm0 4zm2-2zm0 2zm3-3zm0 3zm1-5zm0 3zm2 0zm0 1zm1-2zm4-2zm1 1zm0 4zm1-5zm0 3zm5-2zm1 2zm1-2zm1 0zm3-1zm2 0zm1 0zm-174 9zm35 1zm9 0zm3 1zm1 0zm5-1zm2-2zm9 3zm5-5zm3 5zm5-4zm1 1zm3 0zm0 2zm1-4zm4 2zm1-1zm1 0zm0 4zm1-4zm0 4zm1-5zm0 5zm1-1zm1 0zm2-1zm2-2zm2 2zm0 1zm1-1zm0 1zm0 1zm1-5zm0 1zm0 3zm2-4zm0 2zm0 2zm1 0zm3-4zm1 4zm1 0zm1 0zm1 0zm1-2zm0 1zm5 2zm2-4zm0 2zm0 1zm1-3zm0 1zm0 2zm1-2zm0 1zm1-2zm0 2zm2 0zm1-3zm0 1zm1-1zm0 3zm2-1zm0 1zm1-2zm1 0zm0 1zm1-2zm0 1zm0 1zm1 3zm2-4zm0 2zm0 1zm1-1zm1 1zm1-4zm1 0zm1 5zm1-3zm1 0zm1-2zm0 4zm1-2zm0 1zm2-3zm1 2zm2-1zm1-1zm2 1zm1-1zm4 0zm-152 6zm25 2zm1 3zm2-4zm1 0zm4 2zm1-1zm3 2zm1-3zm4 1zm4 2zm1 0zm2-4zm0 2zm2 0zm4 0zm0 3zm2-5zm1 2zm1 1zm0 1zm0 1zm1-5zm0 3zm2 0zm4-3zm0 5zm3-1zm0 1zm1-3zm1-1zm0 3zm1-3zm2-1zm0 2zm1 0zm2-2zm0 5zm1 0zm1 0zm1-2zm1-2zm0 1zm1-2zm0 1zm0 2zm1-2zm2 4zm2-1zm1-1zm0 1zm5-3zm1 1zm0 3zm1-4zm1 4zm1-4zm0 1zm0 3zm1-2zm0 1zm2-3zm0 1zm0 2zm1-3zm2 1zm0 1zm2-3zm0 3zm1-3zm0 1zm0 4zm1-4zm1 0zm0 3zm1-2zm1 2zm1-1zm0 1zm1-4zm0 1zm0 2zm1-2zm0 3zm2-2zm1-1zm1 1zm5-1zm1 0zm0 1zm2-2zm1 1zm6-1zm-144 8zm1 3zm7-1zm9-1zm7-2zm4 2zm6 0zm1 0zm0 1zm2 0zm1 0zm1 1zm3 0zm1-3zm1 1zm2-2zm6 1zm1-1zm1 0zm1 4zm1-5zm0 5zm2 0zm2-4zm1 4zm1-1zm1 1zm1-4zm0 2zm0 1zm2-3zm0 1zm0 1zm0 1zm1-4zm0 3zm1-3zm1 2zm1-2zm2 4zm2-2zm0 1zm1-1zm1 1zm2-3zm1 2zm1 2zm0 1zm1-1zm2 0zm3-2zm0 1zm1-3zm0 2zm0 1zm1 1zm0 1zm1-5zm0 4zm2 1zm1-4zm0 1zm0 2zm2-3zm0 1zm0 1zm1-3zm1 3zm1-1zm0 2zm2-4zm0 3zm2-2zm1-1zm1 0zm1 3zm2-3zm1 0zm0 1zm4-1zm0 1zm1 0zm2-1zm-146 11zm34-2zm5-2zm0 2zm0 1zm2-4zm1 1zm2 4zm1-3zm3 3zm2 0zm1 0zm1-2zm1-2zm0 2zm0 2zm1-5zm1 4zm0 1zm1-5zm1 4zm1-3zm0 3zm0 1zm1-2zm1 2zm1-3zm0 3zm1-2zm1-3zm2 1zm2 0zm0 3zm1-3zm0 1zm0 2zm1 0zm1-4zm0 2zm1 3zm1-2zm3-3zm0 2zm1-1zm0 1zm0 1zm1-1zm0 3zm1-3zm0 1zm1-1zm1-2zm0 3zm0 1zm1-4zm1 2zm0 2zm0 1zm1-2zm1 0zm1-1zm1 0zm1-2zm0 3zm0 1zm0 1zm1-2zm0 1zm0 1zm1-3zm0 1zm1-1zm0 3zm1-3zm0 2zm1-4zm0 2zm0 1zm1 0zm1 2zm1-4zm0 3zm1-4zm0 4zm0 1zm1-5zm2 2zm1-2zm0 2zm1-1zm0 2zm1-2zm0 1zm1 2zm1-4zm0 3zm2-2zm4-1zm0 2zm1-1zm5 0zm3-1zm-119 11zm3-4zm30 4zm1-4zm1 0zm0 2zm1 0zm1 0zm1 1zm3-1zm0 2zm1-5zm0 1zm0 1zm1 2zm2-1zm0 2zm1-4zm1 2zm1 1zm3-4zm0 1zm2-1zm1 3zm0 2zm2-2zm0 1zm0 1zm2-5zm1 0zm0 5zm1-4zm1 2zm0 1zm1-2zm1 0zm1 1zm1-2zm0 4zm1-5zm0 2zm0 2zm0 1zm1 0zm1-3zm1 2zm1-1zm3 0zm0 1zm1-3zm1-1zm1 1zm1 0zm0 2zm1-1zm1 1zm1-2zm0 2zm1-1zm2-2zm2 1zm-87 10zm1-2zm2 1zm1-1zm1-1zm0 2zm21 0zm5-2zm1-1zm0 2zm0 2zm1-1zm1-4zm1 4zm0 1zm1 0zm1-5zm1 0zm1 0zm0 4zm0 1zm2-2zm1-3zm0 1zm0 1zm1-1zm1-1zm0 3zm1-3zm0 2zm0 2zm2-4zm0 1zm1-1zm0 2zm0 1zm1-1zm1-1zm1-1zm1 0zm0 2zm1-1zm1-1zm0 1zm1 1zm1-2zm2 0zm0 1zm1-1zm5 0zm2 0zm-68 6zm0 2zm0 2zm2 0zm1-4zm0 5zm1-2zm1-2zm0 1zm0 2zm1 0zm2-3zm0 2zm0 2zm1-2zm0 1zm1-3zm19-1zm0 1zm1 1zm0 2zm1-3zm0 1zm0 1zm1 1zm1 0zm0 1zm1-4zm0 3zm1-4zm1 2zm-37 9zm1-5zm0 1zm1 0zm0 2zm0 1zm1-4zm0 3zm0 1zm1-3zm1 0zm1-1zm1 0zm0 1zm1 0zm0 1zm1 2zm2 1zm1-2zm6 1zm2 1zm5-1zm0 1zm1-2zm0 2zm1-4zm0 4zm2-1zm0 1zm1-4zm0 3zm3-3zm0 3zm1-1zm-34 3zm0 1zm2-1zm9 0zm0 1zm0 2zm0 1zm1 1zm1-2zm1-1zm8 2zm1 1zm1-1zm1-2zm2-2zm0 3zm0 1zm1-4zm0 4zm2-4zm-19 7zm2 1zm0 1zm0 2zm3-2zm0 1zm2-3zm0 4zm1-5zm0 2zm1 3zm1-5zm0 1zm0 3zm1-4zm1 1zm0 2zm0 1zm1-4zm1 0zm-12 7zm3 1zm0 3zm1-4zm0 1zm1-1zm1 2zm-4 3zm1 1zm0 1zm1-1z" fill="none" stroke="#000080" stroke-width="1.8" stroke-linecap="square" opacity="0.8"/><path transform="scale(.5)" d="M757 1049zm33 0zm3 0zm33 0zm21 0zm-93 5zm3-4zm0 2zm5-2zm7 3zm7-2zm3 2zm6 0zm4 1zm2 0zm8-1zm1 1zm7-2zm2 2zm4-4zm0 5zm3-5zm1 1zm0 2zm1-1zm1-1zm1 1zm1-1zm0 4zm4-1zm0 1zm2-5zm5 3zm1-1zm1 1zm0 2zm3-5zm0 4zm1-2zm0 3zm1-4zm1 4zm2-5zm2 3zm1 0zm0 1zm3-4zm0 1zm-119 9zm26-3zm1 2zm12 2zm9-4zm5 4zm4-4zm8 1zm0 1zm2 0zm4 2zm7-5zm2 2zm1-2zm0 3zm6 2zm2-4zm2-1zm2 1zm0 1zm0 1zm1 2zm1-5zm1 5zm1-2zm1 1zm0 1zm1-2zm4 0zm0 2zm2-4zm0 4zm1-5zm1 3zm2-2zm0 3zm1-1zm2-3zm3 0zm0 2zm1 1zm1 1zm0 1zm1-5zm1 0zm0 3zm0 1zm1-1zm-93 7zm8-4zm12 2zm7-1zm13 1zm5-1zm0 4zm1-3zm0 1zm0 1zm1-3zm2 1zm1 0zm1 2zm2-4zm1 3zm3-3zm0 1zm4 1zm0 1zm3 1zm0 1zm1-4zm0 1zm0 2zm3 1zm2-1zm1-4zm0 5zm2-2zm0 2zm1-5zm0 2zm0 1zm0 1zm4 1zm1 0zm1-4zm1 2zm1-1zm2-2zm2 3zm1-3zm0 4zm3-1zm0 1zm1 0zm1-2zm0 1zm0 2zm1-3zm-118 8zm32-2zm13 0zm13 2zm8 1zm1-2zm1 2zm1-2zm0 2zm2-4zm3-1zm0 4zm1-4zm12 2zm0 2zm3-1zm5 2zm1-4zm0 1zm5 1zm4-1zm2 1zm4 2zm2-2zm3-3zm0 1zm1 2zm-112 3zm25 0zm1 1zm3 2zm19-3zm1 1zm0 2zm7 0zm4-2zm3 2zm1-3zm0 2zm1-2zm0 3zm9-1zm2 0zm1-2zm4 0zm1 4zm2-3zm0 1zm4 1zm1 1zm1-1zm0 2zm2-2zm1-3zm0 3zm1 2zm3-2zm1-2zm0 1zm0 2zm1 1zm1-5zm0 5zm2-1zm0 1zm3-2zm1-3zm0 1zm0 2zm1-3zm0 4zm1-2zm0 2zm2-4zm0 1zm3 0zm0 4zm-101 4zm19-2zm6-1zm1 0zm4 3zm1-1zm2 3zm1 0zm1-5zm7 3zm4-1zm4 3zm3-5zm1 0zm0 5zm7-1zm1 0zm2 1zm1-4zm2 1zm2-1zm2-1zm1 0zm2 0zm1 5zm1-3zm2 3zm1-2zm1 1zm1-4zm0 2zm3 0zm4-2zm0 4zm4 1zm2-4zm0 3zm1 0zm1-3zm1 1zm0 1zm1-1zm0 3zm-97 4zm16-3zm21 3zm3-1zm1 0zm4-1zm1 0zm9 0zm4 2zm0 1zm2-3zm1 0zm0 1zm1-2zm1 4zm1 0zm2 0zm2 0zm2-2zm1 1zm0 1zm1-2zm1 1zm0 2zm2-1zm0 1zm2-5zm0 1zm0 4zm3-3zm1-2zm3 5zm2-3zm1 0zm0 1zm1 2zm1-5zm0 1zm1 0zm2-1zm1 0zm1 1zm0 1zm2 3zm3-5zm-85 10zm4 1zm18-5zm6 2zm4 2zm1-2zm3 2zm2-3zm6-1zm1 5zm2-4zm1 4zm4-4zm0 4zm1-2zm2 0zm3-1zm1-2zm1 0zm0 4zm0 1zm1 0zm1-4zm0 1zm3 0zm0 1zm0 2zm3-2zm0 1zm2-4zm0 1zm2 4zm5-5zm0 4zm1-1zm1-2zm3 2zm0 1zm1-4zm0 1zm-99 6zm7 4zm2-2zm27 0zm8 1zm1-3zm3-1zm6 2zm3 1zm0 2zm3-2zm2-3zm1 4zm1-3zm2 2zm0 1zm0 1zm1-3zm1 1zm1-3zm1 0zm1 4zm0 1zm2-3zm2 1zm0 2zm1-2zm1-3zm2 4zm1-2zm2 2zm2-1zm1 1zm1-4zm0 1zm0 2zm3-3zm0 3zm2-3zm0 2zm1-2zm1 4zm2-3zm0 2zm0 2zm1-1zm2 0zm3-1zm-88 5zm11 1zm1 0zm4 0zm6-1zm5 2zm8 1zm2-3zm1-2zm0 3zm0 1zm0 1zm2-3zm1 2zm2-4zm3 4zm1-3zm0 2zm0 2zm3-3zm4 3zm1-1zm1-2zm0 1zm3 2zm3-2zm1-2zm0 4zm1-5zm0 2zm0 2zm1-4zm0 3zm2-3zm4 0zm4 2zm3-2zm0 3zm6-3zm1 1zm-108 9zm14 0zm3-2zm9 2zm10-2zm2-1zm8 4zm2-2zm2 2zm2 0zm2-3zm1-2zm3 1zm1 2zm1-3zm2 1zm0 4zm2 0zm3-2zm1-2zm2 3zm5-3zm2 4zm1 0zm1-5zm1 4zm1-3zm0 3zm2-4zm0 3zm1-1zm0 2zm3 0zm1 1zm1-3zm0 2zm1-1zm3-1zm0 3zm1-4zm0 3zm1-3zm0 3zm1-4zm0 2zm0 1zm2 2zm4-3zm0 2zm0 1zm1-5zm0 1zm2-1zm0 1zm0 4zm1-2zm1-2zm2-1zm0 3zm2 0zm-58 3zm0 1zm15-1zm0 2zm3-2zm2 1zm6-1zm1 0zm3 0zm0 1zm3 0zm3 1zm2-2zm3 0zm1 3zm2-3zm1 2zm1-1zm0 1zm2-2zm2 0zm1 2zm1 0zm3-1zm2 0z" fill="none" stroke="#4A8CFF" stroke-width="1.8" stroke-linecap="square" opacity="0.75"/><path d="M289.8 610.8L295 610.3L300.2 609.7L305.3 609.2L310.3 608.6L315.3 607.9L320.2 607.1L325 606.4L329.8 605.6L334.5 604.8L339.1 603.8L343.7 602.9L348.2 602L352.7 601.1L357 600.1L361.3 599.1L365.6 598.1L369.8 597.1L373.9 596.1L377.9 595.1L381.9 594L385.8 593L389.7 592L393.4 591L397.2 590L400.8 588.9L404.4 587.9L407.9 587L411.4 586L414.8 585L418.1 584L421.3 582.9L424.5 581.9L427.6 580.8L430.7 579.8L433.7 578.8L436.6 577.9L439.5 576.7L442.3 575.4L445 574.2L447.7 573.1L450.3 571.9L452.8 570.8L455.3 569.8L457.7 568.7L460 567.5L462.3 566.2L464.5 564.9L466.6 563.7L468.7 562.5L470.7 561.4L472.6 560.3L474.5 559.2L476.3 558.2L478.1 557.2L479.7 556.2L481.4 555.1L482.9 553.9L484.4 552.8L485.8 551.7L487.1 550.5L488.4 549.4L489.6 548.3L490.8 547.2L491.9 546L492.9 544.9L493.9 543.8L494.7 542.7L495.6 541.5L496.3 540.4L497 539.3L497.6 538.1L498.2 537L498.7 535.9L499.1 534.8L499.5 533.6L499.8 532.5L500 531.4L500.2 530.3L500.3 529.1L500.3 528L500.3 528L500.3 527.1L500.2 526.1L500 525.2L499.8 524.2L499.5 523.3L499.1 522.3L498.7 521.4L498.2 520.4L497.6 519.5L497 518.5L496.3 517.6L495.6 516.7L494.7 515.7L493.9 514.8L492.9 513.8L491.9 512.9L490.8 511.9L489.6 511L488.4 510L487.1 509.1L485.8 508.1L484.4 507.2L482.9 506.3L481.4 505.3L479.7 504.4L478.1 503.4L476.3 502.3L474.5 501.2L472.6 500L470.7 498.8L468.7 497.6L466.6 496.4L464.5 495L462.3 493.7L460 492.3L457.7 490.9L455.3 489.8L452.8 488.6L450.3 487.4L447.7 486.1L445 484.9L442.3 483.5L439.5 482.2L436.6 480.9L433.7 479.7L430.7 478.5L427.6 477.3L424.5 476.1L421.3 474.9L418.1 473.6L414.8 472.4L411.4 471.3L407.9 470.2L404.4 469L400.8 467.9L397.2 466.7L393.4 465.5L389.7 464.4L385.8 463.3L381.9 462.2L377.9 461L373.9 459.9L369.8 458.9L365.6 457.9L361.3 456.8L357 455.8L352.7 454.7L348.2 453.9L343.7 453L339.1 452.1L334.5 451.2L329.8 450.4L325 449.8L320.2 449.1L315.3 448.4L310.3 447.7L305.3 447.1L300.2 446.5L295 445.8L289.8 445.2" fill="none" stroke="#1c1cf0" stroke-width="1.1"/><path d="M424.5 445.2V610.8M479.2 445.2V610.8M289.8 548.2H424.5M289.8 524.3H424.5M424.5 552.8H479.2M424.5 529.8H479.2M479.2 557.4H500.3M479.2 529.8H500.3" fill="none" stroke="#2424f4" stroke-width="1.1" stroke-dasharray="4.6 2.2"/><rect x="289.8" y="445.2" width="210.5" height="165.6" fill="none" stroke="#2a2a2a" stroke-width="1"/><path d="M331.9 610.8v-2.2M331.9 445.2v2.2M374 610.8v-2.2M374 445.2v2.2M416.1 610.8v-2.2M416.1 445.2v2.2M458.2 610.8v-2.2M458.2 445.2v2.2M289.8 592.4h2.2M500.3 592.4h-2.2M289.8 574h2.2M500.3 574h-2.2M289.8 555.6h2.2M500.3 555.6h-2.2M289.8 537.2h2.2M500.3 537.2h-2.2M289.8 518.8h2.2M500.3 518.8h-2.2M289.8 500.4h2.2M500.3 500.4h-2.2M289.8 482h2.2M500.3 482h-2.2M289.8 463.6h2.2M500.3 463.6h-2.2" fill="none" stroke="#2a2a2a" stroke-width=".9"/><text class="tk" x="287.2" y="614.1" text-anchor="end">0</text><text class="tk" x="287.2" y="595.7" text-anchor="end">10</text><text class="tk" x="287.2" y="577.3" text-anchor="end">20</text><text class="tk" x="287.2" y="558.9" text-anchor="end">30</text><text class="tk" x="287.2" y="540.5" text-anchor="end">40</text><text class="tk" x="287.2" y="522.1" text-anchor="end">50</text><text class="tk" x="287.2" y="503.7" text-anchor="end">60</text><text class="tk" x="287.2" y="485.3" text-anchor="end">70</text><text class="tk" x="287.2" y="466.9" text-anchor="end">80</text><text class="tk" x="287.2" y="448.5" text-anchor="end">90</text><text class="tk" x="289.8" y="621.2" text-anchor="middle">0</text><text class="tk" x="331.9" y="621.2" text-anchor="middle">0.2</text><text class="tk" x="374" y="621.2" text-anchor="middle">0.4</text><text class="tk" x="416.1" y="621.2" text-anchor="middle">0.6</text><text class="tk" x="458.2" y="621.2" text-anchor="middle">0.8</text><text class="tk" x="500.3" y="621.2" text-anchor="middle">1</text><text class="ax" x="395.7" y="632.4" text-anchor="middle" font-style="italic">H</text><text class="ax" transform="translate(270.3 528.5) rotate(-90)" text-anchor="middle"><tspan font-style="italic" font-size="13">α</tspan> (°)</text><text class="cap" x="395.9" y="656.8" text-anchor="middle">(f)</text><rect x="545.8" y="445.2" width="210.9" height="165.6" fill="#fff"/><g clip-path="url(#cvg)"><path d="M685 521.6L741.9 521.6L741.9 445.2L685 445.2Z" fill="url(#grgr)"/><path d="M685 540.9L741.9 540.9L741.9 521.6L685 521.6Z" fill="url(#grgb)"/><path d="M685 610.8L741.9 610.8L741.9 540.9L685 540.9Z" fill="#00F2F2"/><path d="M741.9 552.8L760.9 552.8L760.9 518.8L741.9 518.8Z" fill="#50F050"/><path d="M741.9 610.8L760.9 610.8L760.9 552.8L741.9 552.8Z" fill="#00F2F2"/><path d="M741.9 518.8L760.9 518.8L760.9 445.2L741.9 445.2Z" fill="#FF6A00"/><path d="M577.4 607.1L574.3 597.9L577.4 587.8L583.8 580.4L592.2 574L609.1 567.6L630.2 562L651.2 557.8L672.3 554.7L685 553.2L685 610.8L588 610.8Z" fill="#000080"/></g><path transform="scale(.5)" d="M1163 905zm7-1zm19 1zm23 4zm14 5zm2-2zm-71 8zm33-2zm12 4zm5 0zm7 1zm12-4zm1-1zm12 1zm0 2zm2-1zm2-1zm3 0zm5 2zm2-2zm7 1zm-48 7zm16-2zm2 1zm26 0zm9 0zm0 2zm0 1zm6 0zm16-1zm-128 5zm14 0zm23-2zm2-1zm4 3zm4-1zm12-1zm10 2zm8-1zm2-1zm2 1zm2 1zm2 1zm5-4zm1 0zm0 3zm1-3zm2 3zm3-3zm0 1zm5 2zm2 1zm3-3zm1 4zm6-4zm0 1zm9 0zm4 2zm6-3zm0 1zm14 1zm-121 3zm22 3zm4 2zm6-4zm5-1zm20 4zm6-2zm3 3zm1 0zm5 0zm4-3zm5-2zm0 4zm1-3zm0 3zm0 1zm7 0zm7-5zm3 5zm3-2zm8-3zm2 3zm2-2zm1 0zm0 2zm1-3zm11 3zm0 2zm3 0zm3 0zm4-2zm-152 6zm38-1zm11 2zm3-1zm1-2zm3 0zm1-1zm5 3zm7-1zm2 0zm4 0zm3 3zm1-3zm1 3zm10-5zm0 3zm9 0zm3 1zm9 1zm5-3zm4 1zm2 1zm5-1zm1-1zm2 2zm4-2zm4 3zm7-1zm1-1zm1-1zm3 2zm1-4zm1 0zm1 5zm3 0zm2-2zm4 1zm2-2zm0 2zm2-1zm2 2zm5 0zm-178 4zm27-3zm10 4zm3 1zm6-3zm6-1zm29 0zm2 4zm3 0zm2 0zm6 0zm7-4zm0 3zm2 0zm3 0zm1-4zm6 5zm1-2zm3 0zm3-1zm0 3zm2-4zm0 4zm1-1zm2-2zm1 0zm10-1zm4 0zm0 2zm2 0zm4-1zm1-2zm1 1zm2 1zm2 0zm2 2zm2-3zm0 3zm4-1zm2 1zm6-4zm4 1zm2 2zm1 1zm8-4zm2 5zm2-4zm1 3zm3 1zm-182 5zm7 0zm10 0zm3-1zm11-1zm5-1zm3-1zm11 0zm1 4zm5-1zm1-3zm3 0zm3 1zm7 3zm5-3zm3 0zm2 0zm9 4zm1-2zm2-2zm17-1zm5 0zm2 4zm5-1zm2-3zm1 5zm1-5zm0 3zm4-3zm1 0zm0 2zm7 2zm2-4zm0 1zm3 1zm2 3zm1-4zm2 3zm1-2zm6 3zm3-5zm2 2zm1 1zm1-2zm1 0zm4 1zm3-2zm2 0zm0 2zm3 1zm5-2zm3 3zm2 1zm1-2zm1-2zm1 1zm4 1zm1 0zm1-2zm-179 7zm3 1zm10 2zm6 0zm7 0zm1-2zm3 2zm17-1zm1-1zm7 0zm12-3zm0 5zm2-2zm2 0zm1 0zm7-1zm4 3zm1-1zm0 1zm1-2zm3-3zm0 2zm1-2zm0 4zm8-3zm0 1zm4 2zm1-1zm2-1zm0 1zm13-3zm0 2zm1-1zm0 2zm1 2zm1-4zm4 2zm2-2zm1-1zm2 1zm0 3zm1 1zm3-4zm5 0zm4 4zm1-3zm1 3zm1-2zm0 2zm2-3zm1 3zm1-3zm1-2zm0 1zm5-1zm0 1zm0 3zm2-1zm1 2zm3-5zm2 5zm2-1zm2-3zm2 2zm0 2zm2-2zm2-2zm4-1zm0 2zm2 2zm1-1zm1-3zm-192 7zm18 1zm2-1zm10 2zm9-3zm6 2zm1 0zm1 0zm4 0zm7 1zm4-3zm7 5zm6-1zm2 1zm3-2zm1 1zm3-1zm10 2zm1-2zm2 1zm0 1zm3-5zm1 1zm2 0zm10 3zm5-3zm1 0zm2 3zm1-1zm2 0zm2-3zm1 3zm1-1zm0 1zm1-1zm1-2zm0 5zm1 0zm5-2zm2-3zm0 5zm2 0zm1 0zm2-2zm2-3zm3 2zm6-1zm2 2zm1 2zm1-3zm2-1zm6 3zm0 1zm1-2zm2-1zm4 0zm2 1zm2-1zm0 1zm3 2zm2-4zm1-1zm1 3zm2 0zm3 1zm2-4zm1 2zm-199 5zm3 3zm16-4zm8 5zm16-4zm1 0zm6 2zm11-1zm0 3zm2-1zm1-4zm3 1zm5-1zm1 2zm8-1zm2 3zm1-2zm1 1zm3-3zm0 3zm6 1zm4 0zm2-1zm2-3zm3 0zm0 3zm5 2zm12-4zm8 3zm0 1zm7-2zm0 1zm2 1zm1-3zm3-2zm0 2zm1 3zm1-1zm3 1zm1-5zm5 5zm4-5zm0 3zm2-2zm1-1zm0 5zm1-1zm1-2zm1 3zm1-5zm2 4zm0 1zm2-2zm4 2zm1 0zm6-3zm2 0zm1-1zm3 2zm2-1zm2-1zm1 3zm1-4zm0 2zm3 1zm1-2zm3 0zm-204 10zm8-3zm32 2zm7 1zm8-1zm1-4zm1 0zm0 1zm8 3zm1-1zm7 2zm3-1zm4-3zm8 2zm1 0zm11 1zm1 0zm1-2zm1 1zm1 1zm1-2zm1 1zm1-3zm2 3zm1-3zm0 3zm1-1zm3 1zm2 0zm0 1zm2-1zm2 1zm2-4zm0 3zm2-1zm3 0zm0 1zm0 1zm4-1zm1 1zm1-3zm4 1zm1-2zm0 3zm1-1zm1 1zm1-3zm2 0zm1 2zm2-1zm2 4zm4-3zm0 2zm0 1zm2-3zm4-2zm1 0zm1 3zm0 2zm1-4zm1-1zm1 0zm0 1zm1 4zm2 0zm4-4zm1 4zm1-5zm1 4zm1-2zm0 1zm2-1zm0 1zm0 2zm1-3zm0 3zm1-3zm1 0zm1-2zm0 5zm1-3zm1 0zm1 0zm0 1zm2 1zm1-4zm0 2zm1 3zm1 0zm2 0zm4-5zm2 2zm1 0zm4-1zm4 0zm-208 8zm36 2zm6-1zm19 1zm5-5zm4 4zm10-4zm0 5zm2-4zm0 1zm0 3zm3-1zm11-2zm0 3zm4-2zm3 2zm3-5zm0 2zm1 0zm5-2zm1 0zm0 1zm2-1zm0 2zm1 3zm1-2zm4-1zm1-2zm2 1zm6 4zm3 0zm3-5zm2 1zm0 1zm1 3zm1-1zm1-4zm0 4zm1-4zm0 2zm1 3zm2-4zm0 2zm4 2zm1-4zm1-1zm0 5zm1-5zm0 3zm0 2zm2-3zm1 0zm1-1zm0 2zm1 1zm1 1zm1-3zm3 0zm3 1zm2-3zm1 1zm0 1zm1 0zm0 1zm1-3zm1 0zm0 4zm2-2zm1 2zm4-2zm1-1zm0 1zm0 1zm1 1zm2 0zm1-2zm0 3zm1-4zm1 4zm1-5zm2 0zm1 4zm0 1zm1-4zm0 4zm1-5zm0 2zm0 3zm2-5zm2 1zm0 1zm1-2zm1 0zm0 3zm1 1zm2-2zm1 1zm0 1zm0 1zm1-3zm0 3zm2-3zm-164 5zm5 3zm11-2zm6-1zm1 2zm10 0zm6-1zm1 1zm6 0zm2 0zm2-2zm0 3zm4-3zm2 0zm2-1zm4 3zm5-1zm0 1zm2-1zm2 3zm2-4zm0 3zm7 0zm2-3zm6 1zm0 1zm0 2zm3-1zm3-1zm4-3zm1 4zm0 1zm1-2zm1 1zm1-4zm1 1zm1-1zm0 1zm3 4zm2 0zm1-1zm1-3zm0 3zm1-3zm1 0zm1 3zm5-1zm1 0zm0 1zm3-4zm0 3zm0 2zm2-5zm0 1zm0 1zm1-1zm1-1zm4 3zm5-1zm1-2zm0 5zm1-1zm1-1zm1-3zm0 4zm1-1zm2 2zm2-2zm0 1zm1-4zm0 3zm0 1zm0 1zm1 0zm1-5zm0 1zm1 3zm2-1zm0 1zm2 1zm2-1zm2 0zm1-4zm2 4zm1-3zm3 3zm1-2zm1 0zm1 3zm-163 4zm2 1zm10-1zm9-2zm18 4zm5-3zm4 2zm6 1zm1-5zm3 0zm3 2zm1 3zm4-2zm0 2zm1-1zm0 1zm1 0zm7-2zm13 0zm2 1zm3-4zm1 0zm0 1zm2-1zm1 1zm0 1zm4-1zm3 4zm1-3zm3 3zm7-2zm1 1zm1-1zm3 2zm1-2zm0 1zm2-3zm0 1zm0 3zm1 0zm4-3zm2-2zm0 4zm2 1zm10-3zm2-2zm0 3zm0 2zm1-5zm2 2zm1-2zm3 2zm0 2zm10-4zm1 0zm2 2zm-181 6zm18-2zm8 2zm10 1zm4-1zm5 3zm1-5zm13 3zm6 2zm7-4zm0 2zm9 2zm2-1zm4-4zm5 3zm3 0zm4-1zm5-2zm0 4zm5-3zm0 4zm5-3zm3 2zm1-3zm1 1zm2-1zm2 2zm2-2zm0 1zm5 3zm3 0zm5-4zm0 3zm1-4zm2 0zm0 2zm3-2zm0 5zm3-4zm0 3zm3-2zm1 0zm4 2zm1-3zm0 4zm2-5zm0 1zm1 2zm0 1zm1-3zm2 4zm2-5zm1 3zm1-1zm0 2zm5-1zm0 2zm1-4zm0 4zm1-2zm3-2zm1-1zm0 3zm0 2zm1-5zm0 2zm1-2zm0 4zm0 1zm1 0zm-170 2zm6 3zm15-1zm2-2zm1-1zm8 3zm0 1zm17-4zm1 4zm1-3zm0 2zm3-2zm5 0zm4 4zm1-1zm7-4zm1 2zm0 1zm8 1zm1-1zm1-1zm14-1zm1 2zm3-3zm6 5zm2-2zm2-3zm1 5zm4-5zm3 4zm3-1zm2 1zm1-3zm6-1zm1 4zm5-4zm0 3zm1 1zm2-2zm1-2zm2 1zm0 4zm1-5zm1 3zm2-1zm2 0zm2 0zm1-1zm2-1zm2 0zm0 2zm0 2zm2-2zm1 1zm5 2zm1-3zm1 2zm1-3zm0 2zm2-1zm2-1zm0 1zm-187 6zm25 2zm18 0zm33-3zm2 1zm5-2zm4 1zm0 1zm4 2zm7 1zm2-3zm1-2zm0 5zm1-5zm3 2zm0 3zm2-5zm0 3zm3 1zm7-3zm0 1zm2-1zm0 3zm1-2zm0 2zm4-3zm1-1zm2 3zm0 1zm12 1zm1-4zm2 2zm5-3zm1 0zm2 0zm1 5zm1 0zm2-2zm3 0zm0 1zm4 0zm1-3zm3-1zm0 2zm1-1zm1-1zm0 2zm0 2zm3-3zm1-1zm0 2zm1 0zm3 2zm1 1zm1-4zm2 4zm3 0zm2 0zm1-5zm1 2zm0 1zm2 2zm-180 6zm1-4zm29 0zm2 3zm4 1zm5-4zm8 0zm8 4zm1 0zm4-5zm12 4zm4 1zm6-1zm1-1zm5-2zm15-1zm1 0zm1 3zm2 1zm4 1zm2 0zm2-3zm0 2zm1 1zm2-5zm3 2zm3 3zm2-4zm3 3zm2-4zm6 5zm1-2zm0 2zm8-2zm4-3zm0 2zm1 2zm2-1zm3 0zm1-2zm4-1zm0 5zm1-4zm1 2zm1 2zm4-5zm1 3zm2-1zm3 2zm1-4zm1 0zm1 0zm1 4zm-158 6zm6-4zm10 4zm7-3zm8 1zm2-1zm12 4zm2 0zm8-2zm6 1zm3-4zm1 5zm8-5zm1 3zm1-1zm3-1zm3-1zm3 2zm3 2zm3 0zm4-3zm6 1zm10 2zm3-4zm1 1zm0 3zm6 0zm4-1zm1-3zm5 3zm2-2zm2 0zm1 4zm3-3zm1 2zm1-2zm2-1zm1 0zm4 4zm1-3zm0 3zm2 0zm1-3zm-168 6zm41-1zm17-1zm0 2zm5 0zm13-1zm2 0zm4 4zm6-4zm10 0zm2 4zm4 0zm1-2zm2-3zm4 0zm1 1zm5 0zm4 0zm1 0zm1-1zm0 2zm2 1zm3 0zm1-2zm5 4zm16 0zm7-2zm2-2zm0 3zm3-3zm7 4zm1-5zm0 5zm2-2zm2-3zm0 5zm-174 5zm34-4zm7 0zm49 4zm3-3zm8 0zm2 1zm3-1zm4-1zm4 5zm4-2zm0 2zm3 0zm5-2zm12-3zm3 1zm2 4zm1-4zm0 2zm6-3zm0 5zm4-5zm0 1zm0 1zm2 3zm3-5zm8 5zm-177 1zm23 3zm61 1zm7-2zm0 2zm5-4zm10 3zm16 2zm6-4zm3 3zm3-1zm2 1zm2 1zm8 0zm3 0zm2-3zm0 3zm1-2zm0 1zm3 1zm1-3zm4 3zm3-5zm1 4zm3 0zm4-2zm1-1zm0 2zm2 2zm1-3zm6-2zm-138 7zm27 3zm2-2zm19 3zm41-2zm2-2zm2 0zm7 3zm6 1zm8-3zm0 3zm2-4zm2 3zm3-1zm2-3zm5 3zm3 2zm3-4zm7 1zm-217 4zm23 4zm57-3zm25 2zm11-3zm6 4zm18-2zm9 2zm3-4zm7 3zm2-3zm8 0zm7 3zm12 1zm3-3zm14-1zm4 2zm4-1zm0 1zm1 2zm-182 7zm82-1zm26-4zm8 4zm15-1zm3 2zm1-5zm15 2zm7 3zm25 0zm1-2zm-131 6zm63-1zm2 0zm8 1zm22 2zm12-5zm4 1zm3 2zm-60 5zm5 1zm13 2zm25-5zm4 4zm11 1zm6 0zm9-1zm1-1zm1 2zm2-5zm-98 10zm38-4zm25 1zm7 2zm2 2zm2-1zm1 0zm9 1zm7-5zm-105 11zm8-1zm6-2zm22 0zm12-2zm24 1zm11-1zm6 0zm-24 11zm9-5zm36 6z" fill="none" stroke="#800000" stroke-width="1.8" stroke-linecap="square" opacity="0.75"/><path transform="scale(.5)" d="M1371 959zm1-1zm2-1zm-4 4zm2 1zm0 3zm2-5zm1 5zm3-3zm1 3zm1-3zm0 3zm1-2zm3 2zm3-1zm3 1zm-20 1zm1 0zm2 1zm1-1zm0 2zm1 3zm3-5zm2 2zm0 2zm1-1zm2-3zm1 2zm0 3zm1-4zm1-1zm0 2zm0 3zm1 0zm3-4zm0 3zm1-4zm1 4zm1-1zm1-1zm0 3zm2-1zm1 0zm2-1zm0 1zm-26 3zm3-1zm1 1zm1 2zm1 1zm0 1zm1-2zm1-3zm0 1zm0 3zm4-3zm0 1zm2 2zm1-2zm1 3zm4-4zm0 2zm1 0zm0 1zm1-1zm0 1zm5 0zm2-3zm0 1zm1 3zm1-3zm0 3zm1-5zm1 2zm2 2zm2-1zm2 2zm1-1zm1 0zm-43 3zm1-1zm0 3zm1 1zm2-2zm1-2zm0 2zm1-1zm0 2zm1 1zm1 0zm1-2zm1-2zm0 2zm2 1zm1-3zm0 3zm1-3zm0 1zm1-1zm0 1zm3-1zm0 5zm2-2zm0 1zm1-1zm4-3zm0 3zm0 1zm6 1zm1-5zm2 0zm3 3zm3 0zm1 2zm1-1zm1-2zm0 1zm1-2zm0 1zm1-1zm0 4zm1-4zm1 1zm1 0zm0 2zm0 1zm1 0zm4-1zm2-1zm3 2zm-59 6zm1-3zm4 0zm2-2zm2 4zm0 1zm2 0zm1-3zm0 1zm1-3zm1 0zm0 2zm0 1zm1 2zm1-5zm1 1zm1 2zm3-2zm1 4zm1-5zm0 2zm0 3zm1-2zm2 1zm1-3zm0 3zm0 1zm1-4zm0 3zm1-3zm2-1zm0 4zm0 1zm2-1zm2-4zm0 5zm1-4zm1 2zm0 1zm0 1zm4-2zm0 2zm1-1zm1-2zm0 2zm1 1zm1 0zm1-5zm1 1zm1 0zm0 2zm0 1zm1-4zm1 4zm1-1zm0 2zm1-5zm1 3zm1-1zm2-2zm1 1zm1-1zm1 5zm1-5zm0 2zm0 1zm0 1zm1 0zm1-4zm0 1zm1 1zm3 3zm-65 5zm3 1zm1-1zm0 1zm1-2zm3-2zm2 1zm0 2zm0 1zm2-4zm0 3zm1-2zm0 3zm2-5zm0 5zm2 0zm1-5zm0 4zm1-3zm2 0zm2-1zm0 5zm1-4zm1 2zm4 2zm1-5zm0 4zm1 1zm2-4zm3-1zm0 3zm2-3zm1 4zm1 1zm1-1zm1 0zm1 0zm3-3zm3 3zm2-4zm0 4zm2-3zm0 1zm0 2zm4 0zm4 1zm3-5zm1 3zm3-3zm0 2zm1-2zm0 3zm0 1zm1-1zm3 0zm1 1zm1-1zm2 1zm2 1zm-79 4zm1 1zm3 0zm1-2zm0 2zm1-4zm0 3zm1 0zm0 2zm5-2zm3 2zm2-5zm1 1zm0 1zm0 2zm6 0zm1-2zm0 1zm2-3zm0 2zm1 0zm0 1zm2 1zm2-3zm0 2zm2-3zm0 4zm1 0zm2-4zm1 1zm1 0zm3 0zm0 3zm1-2zm2 3zm1-5zm0 3zm1 0zm1-2zm0 1zm0 3zm1-1zm0 1zm3-3zm1 0zm0 1zm4-3zm0 1zm1 0zm0 3zm1 0zm0 1zm1-5zm0 3zm0 1zm0 1zm1-2zm1-1zm1-1zm1 2zm0 2zm1-3zm0 2zm4-3zm0 4zm1-5zm0 1zm4 0zm0 1zm2 0zm1 1zm2-1zm0 3zm2 0zm2-2zm0 1zm1 0zm1 0zm1 0zm-87 4zm1 0zm0 2zm2-1zm1-3zm1 5zm1-4zm0 3zm0 1zm2 0zm1-5zm1 0zm1 0zm0 2zm1-2zm0 4zm0 1zm1 0zm1-3zm2 2zm1 0zm2-4zm0 2zm5-2zm1 0zm1 5zm1-2zm3 1zm1-2zm0 1zm5-1zm1-1zm2 3zm1-3zm4 0zm2 3zm3-1zm0 2zm3-5zm0 3zm0 2zm4-5zm0 1zm2 1zm0 3zm1 0zm1-2zm0 1zm2-4zm0 3zm1-1zm1 2zm1-1zm0 2zm2-2zm1-3zm0 2zm0 3zm1-3zm0 3zm1-5zm0 3zm1-1zm2 1zm2 0zm0 1zm1-2zm1 1zm1 1zm0 1zm1 0zm1-2zm1-1zm0 3zm3-4zm0 3zm5-2zm0 1zm2-2zm0 1zm0 1zm1-1zm0 2zm0 1zm2-2zm0 2zm1 0zm1-1zm2 1zm2 0zm-100 3zm1-1zm0 1zm0 1zm0 2zm1-3zm0 3zm1-5zm1 3zm1-2zm2-1zm0 4zm1-1zm3-1zm2 0zm2-1zm0 3zm1-4zm0 3zm1 2zm2-1zm1 1zm1-4zm2-1zm0 2zm0 3zm2-3zm0 2zm3-2zm1-1zm0 4zm1-3zm3 0zm1 0zm2-2zm2 5zm3-1zm1-1zm3 0zm5 0zm1-3zm1 1zm3-1zm0 1zm4-1zm0 5zm1 0zm1 0zm1-2zm1 1zm1-2zm0 1zm1-1zm0 3zm1-4zm0 3zm0 1zm2-1zm0 1zm1-3zm0 3zm1-5zm0 4zm1-4zm0 1zm1-1zm0 2zm0 1zm3-2zm1 2zm0 1zm3-4zm1 4zm0 1zm1-4zm0 3zm1 0zm2-4zm1 4zm0 1zm1-3zm0 2zm1-4zm0 2zm1 3zm1-5zm1 0zm0 2zm0 2zm1 0zm1-3zm0 1zm0 1zm0 2zm1-5zm0 1zm0 1zm1-2zm0 1zm0 1zm0 1zm1 0zm1 0zm0 2zm1-5zm0 1zm0 1zm0 1zm0 1zm0 1zm1-5zm0 3zm0 2zm1-1zm0 1zm1-5zm0 1zm0 3zm1-4zm0 5zm1-4zm0 1zm1 2zm1 0zm2 0zm3 1zm-109 3zm2-2zm1 0zm0 3zm3 1zm4-4zm2 2zm2-1zm0 1zm1 1zm1-1zm0 1zm1-2zm0 4zm2-4zm1-1zm4 2zm2-2zm0 1zm0 2zm1 1zm2-2zm0 2zm1-1zm1-2zm0 2zm4-3zm0 3zm2-1zm2-1zm1 2zm1 1zm3-3zm0 3zm1 0zm1 0zm0 1zm1-5zm0 2zm2 3zm1-5zm0 1zm2 2zm2-1zm0 1zm0 1zm0 1zm1-4zm1 0zm1-1zm2 3zm0 2zm1-1zm1-3zm2 0zm3 0zm1-1zm1 1zm0 2zm1-2zm0 2zm1-1zm1-1zm0 3zm2-4zm1 5zm1-2zm0 2zm1-2zm1-2zm3 3zm0 1zm2-5zm1 0zm1 1zm0 3zm0 1zm1-5zm0 1zm0 1zm0 1zm1-2zm1 0zm0 4zm1-3zm0 1zm0 2zm3-4zm0 1zm1-2zm0 1zm0 2zm0 2zm1-3zm0 2zm1-3zm1 1zm1-1zm0 1zm1-2zm1 1zm1-1zm0 2zm1 1zm3-1zm3-1zm0 1zm0 3zm1-5zm0 3zm0 1zm1-4zm0 2zm0 1zm1-2zm0 1zm0 2zm1-4zm0 2zm1 3zm1-3zm1 1zm0 1zm-113 5zm5-2zm3 0zm1 2zm1 0zm2-3zm1 3zm1-3zm0 3zm1 2zm2-3zm1-1zm0 2zm1-3zm3 0zm0 3zm2-2zm7-1zm0 1zm2 1zm1 0zm6-2zm0 1zm0 4zm1-3zm0 3zm2 0zm3-2zm1-2zm1 0zm1 0zm2 1zm0 3zm1-5zm0 1zm1 2zm1 2zm1-3zm1-2zm1 2zm1 0zm0 3zm1-4zm0 1zm0 3zm1 0zm1 0zm1-1zm2-2zm1-1zm0 1zm1 2zm2-1zm1-3zm1 1zm1-1zm0 3zm2-3zm1 3zm2-3zm0 5zm1-5zm0 3zm2-3zm0 1zm2 1zm0 1zm1-3zm0 1zm0 1zm1 2zm2 0zm1-4zm0 4zm1 0zm1 1zm1-1zm0 1zm1-3zm1 0zm0 2zm1 0zm1-3zm0 3zm1-3zm2 2zm1-1zm0 2zm1-4zm0 2zm0 1zm0 1zm0 1zm1-3zm0 3zm1-2zm1-1zm1 0zm0 2zm1 1zm1-4zm1 0zm0 1zm0 2zm2-2zm0 2zm1-4zm0 1zm0 2zm0 2zm2-4zm0 1zm0 2zm1-2zm0 1zm2-1zm1 2zm0 1zm-113 5zm1-3zm1-1zm0 5zm1-3zm1 0zm1 1zm0 1zm2-2zm0 1zm1-2zm2 1zm2-2zm2 5zm2-4zm1 1zm2-2zm0 1zm0 2zm1-3zm0 4zm1-2zm1 3zm1 0zm1-3zm4 1zm3-3zm2 3zm1 0zm3-2zm0 1zm0 3zm2-3zm0 1zm3 1zm1 0zm1 1zm2-3zm0 1zm1 0zm5-1zm0 3zm1-1zm2 0zm1-2zm0 1zm4 0zm0 2zm1-5zm0 2zm2 2zm3-3zm0 3zm1-1zm2-1zm1 0zm1-1zm0 3zm1-3zm1 1zm0 2zm1-4zm0 3zm1 1zm3-2zm1-1zm1 2zm0 1zm3 0zm1-4zm2 1zm1-1zm0 5zm1-3zm0 2zm1 0zm1-3zm0 2zm0 2zm1-3zm2-2zm1 2zm1-2zm0 1zm0 2zm1-2zm0 4zm1-4zm0 3zm1-3zm1-1zm1 0zm2 0zm0 1zm0 1zm0 2zm1-4zm0 5zm1-4zm1 0zm0 3zm0 1zm1 0zm1-1zm1-1zm0 2zm1-5zm1 2zm1 2zm1-4zm0 1zm1 4zm-112 3zm2 3zm1-1zm0 1zm4-2zm1-3zm1 2zm1-2zm1 1zm1 4zm1-2zm2 1zm1-2zm0 1zm3-3zm1 1zm0 4zm3-1zm1-1zm2-3zm0 2zm1 0zm1-1zm0 3zm1-3zm0 4zm2-5zm1 0zm1 2zm1 0zm0 2zm1 1zm1-5zm1 1zm2 3zm3-2zm0 3zm2-5zm1 0zm0 2zm1 0zm1 2zm1-1zm1-3zm0 2zm1-1zm0 1zm3 0zm0 3zm2-5zm1 2zm1 1zm0 1zm2 1zm1-1zm1-4zm1 4zm0 1zm2-5zm1 2zm0 2zm1-3zm0 2zm1-2zm1 2zm0 1zm3 1zm2-4zm0 2zm1-1zm0 1zm3-2zm0 2zm1-1zm0 2zm0 1zm1-4zm1 1zm1 0zm1 0zm1 0zm0 3zm1-5zm0 1zm1-1zm0 2zm0 2zm1-2zm0 1zm2-3zm0 5zm1-5zm1 2zm0 1zm0 1zm0 1zm2-3zm0 2zm1-1zm1-3zm0 2zm2 0zm1 0zm1 3zm1-5zm0 1zm0 4zm2-1zm1 0zm0 1zm1-4zm1 0zm0 1zm0 3zm1-3zm1-2zm0 1zm0 2zm0 2zm1-4zm0 1zm1-1zm0 1zm0 1zm0 2zm1-2zm0 2zm1 0zm1-1zm1-1zm0 2zm-112 3zm0 2zm3-3zm0 1zm2 0zm1-1zm0 3zm2-3zm0 3zm1-3zm0 1zm2 1zm1 1zm1-4zm0 3zm1-3zm2 5zm1-5zm1 0zm0 2zm2-2zm7 3zm2 1zm1 1zm1-2zm0 1zm1-3zm0 1zm0 3zm1-2zm2-3zm0 4zm0 1zm1-1zm1-3zm1 3zm1-4zm1 0zm1 2zm0 1zm0 1zm1-4zm0 1zm1 0zm0 1zm1-1zm1 0zm0 3zm1 0zm1-1zm0 2zm5-4zm1-1zm0 2zm0 2zm5 0zm1 1zm2-3zm4-2zm0 1zm0 1zm0 1zm0 2zm1-3zm2-1zm1-1zm0 3zm1 0zm2-1zm0 2zm1 1zm1 0zm1-5zm0 3zm2-2zm4-1zm0 3zm1-1zm0 3zm1-5zm1 1zm0 4zm1-4zm0 2zm3 1zm1 0zm0 1zm1-4zm0 2zm1-3zm0 2zm1 0zm0 3zm1-5zm0 1zm0 3zm1-2zm1-2zm0 5zm1-5zm1 0zm0 1zm0 1zm1-2zm1 3zm1-2zm0 3zm1-4zm0 2zm0 1zm1-3zm0 2zm1-2zm0 1zm1 2zm0 1zm1-4zm0 1zm0 1zm1-1zm0 4zm1-3zm0 3zm1-4zm0 2zm0 1zm1-4zm0 2zm1 2zm1-4zm0 1zm0 3z" fill="none" stroke="#E00000" stroke-width="1.8" stroke-linecap="square" opacity="0.75"/><path transform="scale(.5)" d="M1372 992zm1 0zm2 2zm1 1zm4-2zm4 0zm8 1zm0 1zm1-2zm0 2zm1-2zm0 1zm1-1zm0 1zm1 0zm5 0zm1-1zm2 0zm1 0zm3 1zm3 1zm1-3zm0 1zm7-1zm0 2zm2 1zm2-2zm4 0zm5 1zm1 0zm4-1zm1 2zm2-1zm-69 7zm1-5zm3 3zm1-3zm3 4zm2-4zm5 5zm2-2zm3-3zm0 5zm3-5zm0 1zm0 1zm1 0zm2-2zm0 2zm5 0zm1 3zm1-4zm4 2zm0 1zm1-3zm1 1zm2-1zm2 3zm1-4zm1 0zm1 4zm12 1zm6-3zm1-2zm0 3zm5 0zm4 2zm1 0zm-76 1zm0 3zm3-2zm0 4zm1-4zm1 2zm0 1zm1-3zm0 2zm0 2zm1-2zm1-1zm1 1zm0 1zm1-1zm0 2zm1-3zm0 1zm1 0zm1-3zm0 2zm0 1zm1 1zm1-4zm1 3zm1-3zm0 2zm0 1zm3 2zm1-5zm2 2zm1-2zm1 2zm2 2zm1-3zm0 2zm1-3zm3 2zm0 2zm2-1zm2-1zm5-1zm0 2zm2-3zm0 5zm1 0zm3 0zm1 0zm2 0zm5-3zm5 1zm7-2zm6 2zm2-3zm6 0zm-81 7zm0 3zm1-3zm1 1zm3 2zm1-4zm1 1zm0 3zm1-4zm0 5zm1-5zm0 1zm0 2zm0 1zm1-1zm1-3zm0 3zm0 1zm1 0zm1 0zm0 1zm3-5zm0 1zm0 2zm2-1zm0 3zm1-3zm1 3zm5-2zm0 2zm2-5zm0 2zm1-1zm0 1zm0 3zm1 0zm1-2zm2-2zm0 2zm1-3zm1 2zm0 1zm0 1zm1-1zm3-3zm0 2zm4 1zm3-2zm0 4zm1 0zm1-5zm1 4zm1-4zm0 4zm10-2zm6 0zm1 1zm2-3zm1 0zm2 2zm20 0zm-91 4zm1 0zm1 0zm0 1zm1-1zm1 1zm0 4zm1-2zm2-3zm1 3zm0 2zm2-5zm0 5zm1-5zm1 0zm0 1zm3 3zm1-4zm0 2zm0 3zm3-5zm0 5zm1-1zm1-4zm1 4zm2-3zm3 1zm1 0zm3-1zm1-1zm0 3zm0 1zm4-3zm2 2zm0 1zm1-2zm0 1zm6-1zm2 3zm1-1zm3-4zm0 5zm2-3zm4 0zm0 3zm2-3zm2 0zm4-1zm18 0zm-83 5zm0 3zm1 1zm1-4zm0 4zm0 1zm1-5zm0 2zm2 2zm1 0zm1-4zm1 5zm3-2zm1-1zm1-2zm0 5zm1-5zm1 0zm0 5zm2-5zm0 1zm0 2zm0 2zm2-3zm0 3zm1-4zm1 0zm0 4zm1-4zm0 3zm1-4zm1 5zm1-3zm0 1zm0 1zm0 1zm2-1zm6-1zm2-2zm0 1zm2-1zm1 4zm1-1zm0 1zm2-2zm1-2zm1 0zm6 4zm1-3zm1 0zm1 0zm3 1zm3-1zm1 1zm2 1zm4-2zm1-2zm1 5zm3-5zm13 2zm8-1zm1 1zm-91 7zm1-1zm3 3zm1-4zm0 4zm1 0zm1-2zm1-3zm0 3zm2-3zm0 4zm1-3zm1 1zm0 3zm3 0zm2-4zm3 2zm1 0zm1 2zm2-3zm1 0zm0 2zm1-3zm3 4zm3-4zm0 2zm1 0zm6 1zm2-4zm0 5zm2-2zm8 0zm1-3zm1 1zm5-1zm4 0zm0 1zm0 2zm2-2zm1-1zm0 1zm3 4zm3-3zm3 0zm4-1zm-79 7zm1-1zm0 2zm0 2zm2-2zm0 1zm2-3zm0 2zm1 1zm1-4zm1 0zm1 3zm1 2zm1 0zm1-2zm3-1zm2 1zm1-3zm0 4zm1-1zm2-2zm0 1zm3-1zm0 1zm0 2zm0 1zm1-4zm0 4zm1 0zm3-5zm2 2zm0 2zm2-4zm0 1zm0 2zm2-2zm0 3zm2-4zm2 2zm1-2zm0 3zm6 1zm1-2zm4 2zm16-3zm5-1zm1 3zm9-2zm2 1zm6-1zm5 2zm19 0zm-114 6zm0 1zm1-4zm1 5zm1-5zm0 3zm1-2zm2 0zm1-1zm0 2zm1 3zm1-4zm0 4zm1-4zm0 1zm1-2zm0 2zm3-1zm2 1zm2 0zm0 3zm2-1zm0 1zm1-4zm2 3zm2-4zm1 5zm1-3zm2-2zm3 4zm1-3zm0 3zm1-3zm1 0zm1 0zm2 1zm1-1zm0 1zm0 2zm3-4zm1 1zm1-1zm1 3zm1-3zm4 4zm1-3zm0 4zm2-1zm14-2zm7 2zm5 1zm4-2zm-83 3zm1 0zm0 1zm0 1zm1 0zm0 2zm1-4zm0 3zm0 1zm1-4zm0 1zm0 3zm0 1zm1-5zm5 0zm0 3zm0 2zm1-5zm0 4zm1 0zm1-1zm4-2zm0 3zm0 1zm2-3zm1 1zm0 1zm1 0zm1-3zm2-1zm1 4zm2-2zm0 1zm1 1zm2-4zm0 3zm1-2zm3 1zm2 0zm0 1zm1 0zm1 1zm1 0zm1 1zm2-3zm1 1zm6-1zm5-2zm2 0zm0 3zm4-3zm0 3zm5 2zm3-5zm7 0zm-75 7zm1 4zm1-2zm1-1zm1-2zm3 0zm2 0zm1 1zm1 3zm1-4zm3 1zm1 2zm4-2zm1 2zm1-2zm1 1zm1-2zm0 2zm0 2zm0 1zm1 0zm1-2zm1-2zm0 1zm2 1zm1 2zm1-2zm1 2zm3-5zm4 4zm0 1zm5-4zm5 4zm1-5zm2 4zm2-4zm0 4zm18-4zm1 5zm1-4zm-73 5zm1 1zm0 4zm1-4zm0 2zm4-3zm1 1zm0 1zm1-1zm2-1zm0 3zm0 1zm1-3zm1-1zm0 2zm0 2zm2 1zm3-3zm0 2zm1-3zm3 1zm0 1zm1-1zm1 1zm0 1zm0 1zm2-4zm0 1zm1 0zm0 2zm0 1zm2-3zm1-1zm2 3zm1-4zm2 1zm0 1zm1 3zm3-5zm0 4zm1 0zm2-4zm0 5zm1-4zm1 1zm5-2zm1 4zm5-1zm1-3zm2 3zm12 0zm12 1zm7-2zm0 2zm0 1zm7-1zm-95 2zm0 3zm4-2zm1-1zm0 4zm1-3zm2-1zm0 1zm0 4zm1-2zm3-3zm0 4zm3-4zm0 1zm0 4zm2-2zm1 1zm2 0zm2 0zm3-1zm1 2zm1-5zm0 3zm0 1zm0 1zm1-2zm2-3zm1 3zm2-3zm0 2zm2-2zm0 4zm1-4zm1 1zm2 4zm1-5zm0 3zm4-1zm1 2zm3-4zm1 2zm0 1zm2 2zm7-2zm1 0zm3 0zm0 2zm3-2zm19-1zm9 0zm-93 6zm1 3zm4-5zm0 1zm0 3zm1-1zm1-2zm0 2zm0 1zm0 1zm1-5zm1 0zm2 1zm0 2zm0 2zm2-1zm1-3zm2-1zm0 3zm0 1zm0 1zm1-3zm1 3zm1-1zm0 1zm2-2zm1-3zm1 3zm2-2zm0 4zm5-5zm0 2zm1 3zm2-5zm0 2zm0 1zm3 1zm1-4zm0 1zm2-1zm0 3zm0 1zm1-4zm4 4zm2 1zm1-3zm0 1zm3 2zm11-2zm3-1zm17 2zm2-4zm13 4zm-97 5zm5 0zm1-2zm0 4zm1-3zm5 1zm1-2zm1-1zm3 2zm0 1zm0 2zm2-4zm0 1zm0 1zm4 2zm1 0zm1-3zm2-1zm1 3zm2-4zm4 0zm4 2zm2-2zm0 2zm5 3zm2-5zm3 4zm2-3zm1 1zm7 3zm8 0zm11-1zm1-4zm8 2zm21 2zm-108 2zm2 0zm0 4zm2 1zm1-4zm2 0zm0 4zm4-4zm0 2zm2 2zm2-4zm0 3zm1-1zm0 1zm2-1zm0 1zm2-2zm1-1zm3 0zm2 2zm3-1zm1 1zm1-3zm0 3zm2-2zm0 1zm0 3zm1-5zm2 1zm0 4zm1-5zm0 4zm3-2zm1 1zm0 1zm3-1zm1 2zm12 0zm1-1zm15-3zm2 0zm12-1zm0 1zm-88 9zm2-3zm0 3zm0 1zm2-5zm0 4zm1-4zm0 3zm0 1zm4 0zm0 1zm3-5zm0 1zm2 1zm0 1zm1-1zm0 1zm2-3zm1 3zm0 2zm2-5zm0 3zm0 1zm1-2zm1 0zm0 2zm2-1zm1-2zm1 3zm1-3zm1 0zm2 4zm1-3zm0 1zm0 2zm2-4zm2 1zm1 1zm1-1zm4 2zm1-3zm1 0zm2 0zm0 1zm0 3zm4-1zm7-2zm13 2zm1-1zm5-2zm2 4zm1-1zm10-4zm19 3zm-106 3zm7 1zm3-1zm3 1zm1-1zm14 0zm13 0zm8 0zm21 0z" fill="none" stroke="#fff" stroke-width="1.8" stroke-linecap="square" opacity="0.8"/><path transform="scale(.5)" d="M1225 1106zm2 2zm17 0zm3 1zm2 0zm10-2zm9 2zm1-3zm1 2zm5-1zm0 1zm2-2zm4 0zm0 2zm2-1zm1 0zm0 1zm0 1zm1-2zm2 0zm2-1zm2 1zm0 2zm1-3zm0 3zm1 0zm1-1zm1-2zm0 2zm2-1zm0 1zm1-1zm2-1zm0 2zm1-2zm1 3zm1-1zm0 1zm1-1zm2 0zm1 0zm0 1zm3-1zm1-1zm1 2zm1-1zm0 1zm2-2zm3-1zm0 1zm3 2zm1-2zm0 1zm0 1zm1-2zm0 1zm3-1zm1-1zm1 1zm0 2zm1-3zm1 0zm1 0zm0 2zm1 0zm3-2zm3 2zm0 1zm1-1zm1-1zm2 0zm0 1zm2 1zm2-2zm0 2zm1-2zm1 0zm1 0zm2-1zm1 0zm0 2zm0 1zm2-3zm0 1zm1 2zm1-2zm0 1zm0 1zm1-2zm4-1zm0 2zm1-1zm0 1zm2 1zm1-2zm1-1zm0 1zm0 1zm1-1zm0 2zm1-3zm1 1zm-158 6zm10 0zm1 2zm9-2zm8-3zm1 4zm0 1zm1 0zm4 0zm2-4zm0 1zm0 3zm1-4zm0 3zm1 1zm1-3zm1 1zm0 2zm1-5zm0 1zm1-1zm0 3zm1-3zm0 4zm0 1zm1-4zm0 2zm1-1zm0 3zm1-3zm1 2zm1-3zm0 4zm1-4zm1 2zm1 0zm0 1zm1 0zm0 1zm2-5zm0 1zm1-1zm1 3zm0 1zm2 1zm1-4zm1 1zm0 3zm1-1zm0 1zm1-3zm0 2zm0 1zm1-3zm0 1zm0 1zm1-2zm1-2zm0 1zm0 3zm0 1zm1-3zm0 2zm1-2zm0 2zm1 0zm0 1zm1-4zm1-1zm0 2zm0 1zm1-3zm0 2zm0 2zm1-2zm0 1zm1-3zm3 2zm0 2zm0 1zm1-4zm1 0zm0 2zm0 2zm1-4zm1 0zm0 2zm0 1zm0 1zm1-2zm0 2zm1 0zm2-3zm0 2zm0 1zm1-5zm0 3zm0 2zm1 0zm1-4zm0 4zm1-5zm0 1zm1 2zm1-3zm0 1zm0 3zm0 1zm1-5zm0 2zm0 1zm0 2zm1-5zm0 4zm1-4zm1 4zm0 1zm1-2zm0 2zm1-5zm0 3zm0 2zm1-4zm1-1zm0 3zm0 2zm1-5zm1 4zm1-4zm0 3zm0 1zm1-3zm1 2zm1 1zm1-4zm0 2zm1-1zm0 2zm1-1zm0 3zm1-4zm0 2zm0 1zm0 1zm2-2zm4-3zm0 5zm1-2zm0 2zm1-5zm1 0zm0 4zm0 1zm1-5zm0 1zm0 2zm0 2zm1-4zm0 1zm1-2zm0 2zm0 3zm2-5zm0 1zm0 1zm0 2zm1 0zm1-4zm0 2zm0 1zm0 1zm1-2zm1 1zm0 2zm1-5zm0 2zm1-2zm1 0zm0 2zm0 1zm0 1zm0 1zm1-5zm0 2zm0 1zm0 2zm1-3zm0 2zm0 1zm1-5zm0 1zm0 1zm0 2zm1-4zm0 1zm0 2zm0 2zm1-5zm0 3zm1-2zm1-1zm0 2zm1-1zm0 1zm1 1zm1-2zm0 1zm1 0zm0 1zm0 1zm1-1zm1-3zm0 4zm1-4zm0 2zm1 0zm0 1zm2-2zm1 0zm0 2zm1 0zm1-2zm0 1zm1 1zm1-3zm0 1zm0 1zm1-1zm1-1zm0 1zm1-1zm1 1zm0 1zm2-1zm1-1zm0 1zm1-1zm0 1zm-168 9zm11 1zm3-4zm2 2zm0 1zm0 1zm1 0zm6-5zm1 2zm1-2zm0 4zm4-2zm1 0zm0 1zm1-3zm1 2zm1-1zm0 2zm0 2zm2-1zm1 0zm1 0zm1 0zm1-1zm0 2zm1-1zm0 1zm1-3zm1 3zm1-5zm0 3zm0 2zm1-2zm0 2zm2-1zm0 1zm1-2zm3-2zm0 1zm1 0zm0 1zm1-2zm0 3zm1-1zm0 1zm1-1zm1-1zm0 1zm1 2zm1-4zm0 2zm0 1zm1-4zm1 4zm1-2zm0 2zm1-4zm1 5zm1-5zm0 3zm1-2zm1 0zm0 1zm0 2zm1 0zm1-3zm0 2zm0 2zm2-1zm0 1zm1-4zm0 3zm2-3zm0 1zm1 0zm1 0zm0 1zm0 2zm1-5zm0 4zm0 1zm1-5zm1 2zm0 2zm1-3zm0 3zm1-4zm0 2zm1 1zm0 2zm1-5zm0 2zm0 2zm1-4zm0 4zm1-4zm0 2zm0 2zm0 1zm1-1zm0 1zm1 0zm1-3zm0 2zm0 1zm1-3zm0 1zm0 2zm1-5zm0 2zm0 2zm1-4zm0 1zm0 2zm1-2zm0 2zm0 1zm0 1zm1 0zm1-2zm1-2zm0 1zm1 1zm0 1zm0 1zm1-5zm0 5zm1-4zm0 4zm1-4zm1-1zm0 2zm0 2zm1-2zm0 1zm1-1zm1-1zm0 1zm0 2zm0 1zm1-3zm2-2zm0 2zm0 1zm0 2zm1-1zm1-3zm1 0zm0 3zm1-3zm1 1zm0 1zm1-2zm0 1zm0 1zm2-1zm1-1zm1 1zm1-2zm0 3zm1-2zm1-1zm1 2zm1-1zm0 1zm1-1zm1 1zm1-2zm0 1zm0 1zm1-2zm0 1zm3-1zm0 1zm1-1zm3 0zm4 0zm1 0zm-140 10zm5 1zm2-4zm8 1zm1 3zm1-4zm0 3zm1-2zm1 2zm1-3zm2 2zm0 1zm2 1zm1-1zm1-1zm2-3zm0 3zm1-2zm0 4zm1-3zm0 3zm1-4zm0 2zm2-2zm0 1zm1 0zm1 2zm1-4zm0 2zm0 2zm0 1zm1-5zm0 3zm0 2zm1-4zm0 2zm1-3zm0 2zm0 3zm1-5zm0 3zm1-2zm0 1zm0 2zm1-3zm0 1zm0 1zm1-1zm0 1zm0 2zm1-5zm0 2zm0 1zm0 2zm1-4zm1 1zm1 3zm1 0zm1-5zm0 5zm1-5zm0 2zm1 1zm0 2zm1-5zm0 1zm0 1zm1-2zm0 2zm1-2zm0 1zm0 4zm1-5zm1 5zm2-5zm0 2zm0 1zm0 1zm1-2zm0 1zm1-3zm0 5zm1-1zm0 1zm1-2zm1-2zm0 3zm1-4zm0 1zm0 2zm0 1zm0 1zm1-5zm1 1zm0 1zm1-2zm0 1zm0 4zm1-4zm0 1zm1-1zm0 2zm0 2zm1-5zm0 1zm0 2zm1-3zm0 3zm0 1zm0 1zm1-2zm0 1zm0 1zm1 0zm1-5zm1 5zm1-5zm0 1zm0 2zm1-3zm0 1zm0 2zm1-3zm0 1zm0 1zm0 1zm1 0zm1-3zm0 1zm0 2zm1-1zm1-2zm0 3zm3-2zm1 1zm1 0zm1-2zm0 2zm2-2zm0 1zm1-1zm0 1zm0 1zm2 0zm2-1zm1-1zm0 1zm1-1zm1 1zm1-1zm3 0zm-110 8zm0 1zm1-3zm1 3zm1 1zm1 0zm1-1zm1-1zm0 2zm2 0zm1-4zm4 2zm0 1zm1 2zm1-1zm0 1zm2-2zm0 1zm1-4zm0 2zm0 1zm1 1zm0 1zm1-3zm1 1zm0 2zm1-2zm1-3zm0 2zm0 2zm0 1zm1-4zm1-1zm0 3zm0 2zm1-5zm1 2zm0 1zm1-1zm0 1zm1-3zm0 2zm0 3zm1-2zm0 2zm1 0zm1 0zm1-1zm0 1zm1 0zm1-5zm0 2zm0 3zm1-2zm1-2zm0 3zm0 1zm1-4zm0 1zm1-1zm0 2zm1-2zm0 2zm1 1zm2-1zm0 1zm1-4zm1 1zm0 1zm1-1zm0 2zm3 1zm1-3zm0 1zm0 1zm1-3zm0 3zm0 2zm1-4zm0 2zm0 2zm1-4zm1-1zm0 1zm0 2zm0 2zm1-2zm0 2zm1-5zm0 2zm0 2zm1-3zm0 2zm1-3zm0 2zm0 2zm0 1zm1-3zm0 1zm1-3zm0 2zm0 1zm1 0zm0 1zm1-4zm1 1zm0 1zm0 1zm2-3zm1 0zm1 2zm1-1zm2-1zm0 1zm5-1zm-89 7zm1 1zm2-2zm0 3zm3 2zm1-5zm0 4zm2-3zm0 3zm1 1zm2-5zm1 3zm1-3zm0 3zm1-1zm0 2zm0 1zm1-2zm0 2zm1-3zm0 1zm0 1zm1-4zm0 2zm0 3zm1-4zm0 4zm1 0zm1-4zm0 1zm0 1zm1 2zm1-2zm0 1zm1-2zm0 1zm1 0zm1-1zm0 1zm1 0zm0 1zm1-3zm0 3zm1-4zm0 4zm0 1zm1-5zm0 2zm0 1zm0 1zm1-4zm0 3zm0 2zm1-5zm0 1zm0 2zm0 2zm1-4zm0 3zm1 1zm1-5zm0 1zm0 4zm1-4zm1 1zm0 1zm1-2zm0 1zm0 2zm0 1zm1-5zm0 4zm2-3zm0 2zm0 1zm0 1zm1-3zm1-2zm0 1zm0 2zm0 1zm1-3zm0 2zm1-2zm0 1zm0 1zm1-3zm0 3zm0 2zm1-4zm0 3zm1-3zm0 1zm1-2zm0 2zm1-1zm0 1zm0 3zm1-5zm0 3zm1-3zm0 1zm0 1zm0 1zm0 1zm2-4zm0 3zm1-2zm0 1zm1-2zm0 1zm0 1zm1-2zm0 1zm0 1zm1-2zm1 1zm1 0zm1-1zm0 1zm1-1zm0 1zm2 0zm4-1zm-75 6zm1 2zm5 1zm1-2zm2 3zm0 1zm1-2zm1-1zm2 3zm1-1zm2 1zm1-3zm1-1zm0 4zm1-4zm0 2zm0 1zm1 0zm0 1zm2-5zm0 2zm0 1zm0 1zm1-4zm0 4zm0 1zm1-5zm0 2zm1 1zm0 2zm1-5zm0 2zm0 1zm1-1zm0 1zm0 1zm1-4zm0 1zm1 1zm0 1zm1 0zm1-2zm0 1zm0 2zm1-2zm0 2zm1-3zm0 2zm1-3zm0 1zm0 4zm1-4zm1 4zm1-4zm0 1zm0 1zm1-3zm0 2zm0 2zm1-4zm0 1zm0 1zm0 2zm0 1zm1-4zm0 1zm1-1zm0 1zm0 1zm1-1zm0 1zm1-2zm0 1zm0 1zm1-3zm0 1zm1-1zm0 1zm0 1zm1-2zm1 0zm1 0zm1 1zm2-1zm-55 6zm3 1zm0 3zm1 1zm1-4zm1 1zm0 1zm0 1zm1-1zm1-2zm0 3zm0 1zm1 0zm1 0zm1-4zm0 1zm1 0zm0 2zm2-1zm0 1zm1-4zm0 4zm0 1zm1-5zm0 1zm0 1zm0 1zm1-3zm0 1zm2-1zm1 1zm0 3zm1-3zm0 2zm0 1zm1-3zm0 1zm0 1zm1-3zm0 2zm0 1zm0 2zm1-1zm1-3zm0 2zm1-1zm0 1zm1-2zm0 1zm0 2zm1-4zm0 1zm0 3zm1 0zm1-4zm0 2zm0 1zm1-3zm1 2zm1-2zm0 2zm2-2zm1 1zm1 0zm1-1zm-40 9zm2 1zm0 1zm1-2zm2-3zm0 2zm1 0zm0 1zm0 1zm0 1zm1-1zm1-3zm0 1zm0 2zm1-4zm1 1zm0 3zm1-1zm1-1zm1-2zm0 3zm0 1zm0 1zm1-5zm0 4zm1-4zm0 1zm0 3zm0 1zm1-5zm0 1zm1-1zm0 1zm1-1zm0 2zm0 3zm1-4zm0 3zm1-4zm0 1zm0 1zm1-2zm1 0zm0 1zm1 0zm-28 8zm3 1zm2-2zm1-2zm0 3zm0 1zm1 0zm1-1zm0 1zm0 1zm1-4zm0 4zm1-4zm0 1zm0 1zm0 1zm1-4zm0 3zm0 1zm0 1zm1-5zm0 2zm0 1zm0 1zm0 1zm1-5zm0 1zm0 2zm0 1zm0 1zm1-3zm0 1zm0 2zm1-5zm0 2zm0 1zm1 0zm0 1zm2-3zm1-1zm0 2zm1-1zm-22 9zm1-4zm1 3zm0 1zm0 1zm2-2zm1-1zm0 1zm0 1zm1-2zm0 3zm1-3zm0 1zm1-1zm0 3zm1-5zm0 1zm0 3zm1 0zm1-3zm0 2zm0 1zm1-4zm3 0zm-17 6zm1 5zm1-5zm0 1zm0 4zm1-5zm0 1zm0 2zm0 2zm1-4zm0 3zm1-4zm0 2zm0 1zm0 2zm1-2zm0 2zm1-4zm0 2zm0 1zm1-3zm0 3zm1-4zm0 1zm0 1zm1-2zm0 1zm1-1zm-13 9zm1-1zm1 1zm1-3zm0 2zm0 2zm0 1zm1-5zm1 1zm1-1zm0 1zm0 1zm1-2zm0 1zm-7 5zm0 4zm1-3zm0 1zm0 1zm0 2zm1-4zm0 1zm0 2zm0 1zm1-5zm1 0zm-4 6zm0 1zm0 4zm1-4zm0 2z" fill="none" stroke="#000080" stroke-width="1.8" stroke-linecap="square" opacity="0.8"/><path transform="scale(.5)" d="M1292 1098zm17 4zm10-1zm2 0zm5-1zm4 1zm3 1zm3 1zm3-3zm5 0zm4-1zm2 4zm2-4zm1 2zm1 0zm2-1zm0 1zm2 0zm1 2zm3-2zm1 1zm2-2zm0 1zm0 2zm1-3zm1 1zm1-2zm0 3zm1-3zm0 1zm1 0zm-116 4zm77 1zm6-1zm7 1zm2 0zm11 1zm3-2zm7 0z" fill="none" stroke="#4A8CFF" stroke-width="1.8" stroke-linecap="square" opacity="0.75"/><path d="M545.8 610.8L551 610.3L556.2 609.7L561.3 609.2L566.4 608.6L571.3 607.9L576.2 607.1L581.1 606.4L585.9 605.6L590.6 604.8L595.2 603.8L599.8 602.9L604.3 602L608.8 601.1L613.2 600.1L617.5 599.1L621.7 598.1L625.9 597.1L630 596.1L634.1 595.1L638.1 594L642 593L645.8 592L649.6 591L653.4 590L657 588.9L660.6 587.9L664.1 587L667.6 586L671 585L674.3 584L677.6 582.9L680.8 581.9L683.9 580.8L687 579.8L690 578.8L692.9 577.9L695.8 576.7L698.6 575.4L701.3 574.2L704 573.1L706.6 571.9L709.1 570.8L711.6 569.8L714 568.7L716.3 567.5L718.6 566.2L720.8 564.9L723 563.7L725 562.5L727 561.4L729 560.3L730.9 559.2L732.7 558.2L734.4 557.2L736.1 556.2L737.7 555.1L739.3 553.9L740.8 552.8L742.2 551.7L743.5 550.5L744.8 549.4L746 548.3L747.2 547.2L748.3 546L749.3 544.9L750.2 543.8L751.1 542.7L752 541.5L752.7 540.4L753.4 539.3L754 538.1L754.6 537L755.1 535.9L755.5 534.8L755.9 533.6L756.2 532.5L756.4 531.4L756.6 530.3L756.7 529.1L756.7 528L756.7 528L756.7 527.1L756.6 526.1L756.4 525.2L756.2 524.2L755.9 523.3L755.5 522.3L755.1 521.4L754.6 520.4L754 519.5L753.4 518.5L752.7 517.6L752 516.7L751.1 515.7L750.2 514.8L749.3 513.8L748.3 512.9L747.2 511.9L746 511L744.8 510L743.5 509.1L742.2 508.1L740.8 507.2L739.3 506.3L737.7 505.3L736.1 504.4L734.4 503.4L732.7 502.3L730.9 501.2L729 500L727 498.8L725 497.6L723 496.4L720.8 495L718.6 493.7L716.3 492.3L714 490.9L711.6 489.8L709.1 488.6L706.6 487.4L704 486.1L701.3 484.9L698.6 483.5L695.8 482.2L692.9 480.9L690 479.7L687 478.5L683.9 477.3L680.8 476.1L677.6 474.9L674.3 473.6L671 472.4L667.6 471.3L664.1 470.2L660.6 469L657 467.9L653.4 466.7L649.6 465.5L645.8 464.4L642 463.3L638.1 462.2L634.1 461L630 459.9L625.9 458.9L621.7 457.9L617.5 456.8L613.2 455.8L608.8 454.7L604.3 453.9L599.8 453L595.2 452.1L590.6 451.2L585.9 450.4L581.1 449.8L576.2 449.1L571.3 448.4L566.4 447.7L561.3 447.1L556.2 446.5L551 445.8L545.8 445.2" fill="none" stroke="#1c1cf0" stroke-width="1.1"/><path d="M685 445.2V610.8M741.9 445.2V610.8M545.8 552.8H685M545.8 549.2H685M685 540.9H741.9M685 521.6H741.9M741.9 552.8H756.7M741.9 518.8H756.7" fill="none" stroke="#2424f4" stroke-width="1.1" stroke-dasharray="4.6 2.2"/><rect x="545.8" y="445.2" width="210.9" height="165.6" fill="none" stroke="#2a2a2a" stroke-width="1"/><path d="M588 610.8v-2.2M588 445.2v2.2M630.2 610.8v-2.2M630.2 445.2v2.2M672.3 610.8v-2.2M672.3 445.2v2.2M714.5 610.8v-2.2M714.5 445.2v2.2M545.8 592.4h2.2M756.7 592.4h-2.2M545.8 574h2.2M756.7 574h-2.2M545.8 555.6h2.2M756.7 555.6h-2.2M545.8 537.2h2.2M756.7 537.2h-2.2M545.8 518.8h2.2M756.7 518.8h-2.2M545.8 500.4h2.2M756.7 500.4h-2.2M545.8 482h2.2M756.7 482h-2.2M545.8 463.6h2.2M756.7 463.6h-2.2" fill="none" stroke="#2a2a2a" stroke-width=".9"/><text class="tk" x="543.2" y="614.1" text-anchor="end">0</text><text class="tk" x="543.2" y="595.7" text-anchor="end">10</text><text class="tk" x="543.2" y="577.3" text-anchor="end">20</text><text class="tk" x="543.2" y="558.9" text-anchor="end">30</text><text class="tk" x="543.2" y="540.5" text-anchor="end">40</text><text class="tk" x="543.2" y="522.1" text-anchor="end">50</text><text class="tk" x="543.2" y="503.7" text-anchor="end">60</text><text class="tk" x="543.2" y="485.3" text-anchor="end">70</text><text class="tk" x="543.2" y="466.9" text-anchor="end">80</text><text class="tk" x="543.2" y="448.5" text-anchor="end">90</text><text class="tk" x="545.8" y="621.2" text-anchor="middle">0</text><text class="tk" x="588" y="621.2" text-anchor="middle">0.2</text><text class="tk" x="630.2" y="621.2" text-anchor="middle">0.4</text><text class="tk" x="672.3" y="621.2" text-anchor="middle">0.6</text><text class="tk" x="714.5" y="621.2" text-anchor="middle">0.8</text><text class="tk" x="756.7" y="621.2" text-anchor="middle">1</text><text class="ax" x="651.9" y="632.4" text-anchor="middle" font-style="italic">H</text><text class="ax" transform="translate(526.3 528.5) rotate(-90)" text-anchor="middle"><tspan font-style="italic" font-size="13">α</tspan> (°)</text><text class="cap" x="652" y="656.8" text-anchor="middle">(g)</text><rect x="802.4" y="445.2" width="210.9" height="165.6" fill="#fff"/><g clip-path="url(#cvh)"><path d="M947.9 513.3L1000.6 513.3L1000.6 445.2L947.9 445.2Z" fill="url(#grhr)"/><path d="M947.9 541.8L1000.6 541.8L1000.6 513.3L947.9 513.3Z" fill="url(#grhb)"/><path d="M947.9 610.8L1000.6 610.8L1000.6 541.8L947.9 541.8Z" fill="#00F2F2"/><path d="M1000.6 551L1017.5 551L1017.5 511.4L1000.6 511.4Z" fill="#50F050"/><path d="M1000.6 610.8L1017.5 610.8L1017.5 551L1000.6 551Z" fill="#00F2F2"/><path d="M1000.6 511.4L1017.5 511.4L1017.5 445.2L1000.6 445.2Z" fill="#FF6A00"/><path d="M829.8 609L830.9 602.5L844.6 596.1L865.7 586.9L886.8 577.7L907.8 569.2L924.7 563.3L947.9 562.4L947.9 610.8L844.6 610.8Z" fill="#000080"/></g><path transform="scale(.5)" d="M1775 935zm4-3zm33 2zm1 1zm-128 2zm51 2zm11 2zm59-3zm13 2zm7 0zm7 1zm-132 1zm50 4zm2-3zm4 3zm1-4zm14 5zm7-4zm5 2zm1 0zm13-1zm12 2zm2-2zm3 0zm4-1zm12 2zm3 1zm6 0zm-141 2zm60 1zm1 2zm9 0zm7-2zm0 1zm1-2zm6 4zm6 1zm1-4zm13 3zm5-2zm2-1zm0 4zm1-3zm0 2zm0 1zm1 0zm3-4zm0 1zm1-2zm3 5zm2-1zm1-4zm10 1zm6 1zm3 0zm4-1zm1-1zm2 1zm3 2zm4-3zm4 0zm4 1zm3 3zm0 1zm1-2zm2 1zm1 1zm6 0zm-189 2zm25 0zm17 0zm5 1zm3 2zm5-4zm17 2zm4 2zm1-2zm1 1zm1 2zm9-5zm5 0zm2 2zm5 3zm6-5zm1 0zm2 2zm3 1zm1-2zm2 3zm2-4zm1 0zm1 4zm1-3zm1-1zm0 2zm4 3zm4-2zm4 2zm4 0zm1-2zm3 0zm3 1zm3-1zm8-3zm0 3zm9 2zm2-4zm0 1zm1-1zm0 1zm0 1zm1 1zm1-3zm0 4zm1 0zm1-3zm0 2zm0 1zm4-5zm1 5zm4-5zm2 1zm0 3zm6-1zm1-3zm0 1zm1 0zm1 3zm1-2zm12 3zm-184 6zm9-2zm40-3zm7 4zm0 1zm2-2zm9-3zm3 3zm1-2zm3 2zm7 2zm3-3zm1 2zm1-2zm2-1zm0 2zm0 1zm1-3zm3 2zm2-2zm0 2zm7-1zm1 3zm1-4zm1 2zm1 1zm0 1zm1-3zm4-1zm0 4zm1-2zm1 1zm2-1zm1-1zm5-2zm0 5zm4-4zm1 2zm0 1zm1-3zm0 2zm3-3zm0 4zm1-4zm0 3zm3 0zm1-2zm0 2zm0 2zm1-5zm0 2zm0 1zm0 2zm2-1zm2-2zm2 1zm1 2zm1-4zm0 3zm0 1zm1-3zm1 2zm0 1zm1-5zm1 1zm0 4zm1-2zm2 1zm2-2zm1-2zm0 2zm0 1zm0 2zm1-5zm0 2zm0 2zm1 0zm1-4zm0 5zm1-5zm0 4zm0 1zm1-4zm0 3zm1-1zm1-1zm0 3zm1-4zm1 4zm1-5zm0 1zm0 3zm1-2zm1-2zm0 4zm0 1zm2-3zm2 0zm0 1zm0 2zm1-1zm2 1zm1-5zm0 3zm4-1zm1 3zm3-5zm0 1zm0 3zm1-3zm2 4zm1-5zm1 5zm1-4zm0 4zm1 0zm-211 6zm41-5zm22 3zm9 0zm2 0zm0 1zm2 1zm1-1zm3-2zm0 2zm3-3zm2 0zm1 0zm1 4zm11 0zm3-4zm5 4zm2-3zm2 0zm4 2zm3-2zm0 1zm1 1zm1-3zm4 1zm2-2zm3 5zm1-2zm1-1zm1 0zm5 1zm3-2zm0 2zm3-2zm0 2zm1-3zm0 1zm0 4zm1-4zm2 2zm1-3zm1 0zm0 2zm2-2zm0 1zm2-1zm2 0zm2 3zm0 2zm1-3zm0 1zm1 2zm2-2zm1 0zm0 1zm2-3zm0 3zm3-4zm2 1zm1 1zm1 0zm0 1zm1-2zm0 3zm1-1zm1-1zm1-1zm2 1zm2-1zm1 4zm3-5zm0 4zm1-4zm0 1zm1-1zm0 2zm0 1zm1-1zm0 3zm1-5zm0 1zm2-1zm1 2zm1-1zm0 1zm2 0zm2 0zm0 1zm1 0zm0 2zm1-3zm0 3zm1 0zm1-5zm0 3zm0 2zm4-5zm0 3zm1-3zm0 3zm1-3zm0 2zm0 1zm0 1zm3-4zm0 5zm1-5zm2 4zm-150 7zm7-3zm2-1zm7-1zm9 4zm2 1zm5-4zm0 1zm2 3zm1-2zm1-3zm1 2zm7-2zm3 2zm0 3zm5-4zm1 2zm3-3zm2 2zm1-1zm1 0zm4-1zm1 1zm2 2zm0 2zm1-2zm5 0zm1 2zm1-2zm3 1zm5-3zm0 1zm1 2zm1 1zm1 0zm1-3zm2-2zm0 4zm1-2zm0 2zm4 0zm0 1zm2-4zm2-1zm0 5zm1-5zm0 3zm1-1zm1 0zm1-1zm0 4zm1-2zm0 2zm1-2zm0 2zm1 0zm1-1zm2-2zm1-2zm1 1zm0 2zm0 1zm1-4zm0 5zm2-5zm0 2zm2 3zm2-5zm0 1zm0 1zm0 1zm1-2zm0 1zm0 1zm1 1zm1-1zm1 2zm3-4zm0 1zm1-2zm0 1zm1 0zm2-1zm0 1zm0 1zm1 0zm1-2zm0 1zm0 3zm3-4zm0 1zm1 4zm2-3zm1 1zm1-2zm1-1zm0 1zm1 1zm1 2zm1-4zm1 4zm0 1zm1-4zm1-1zm1 2zm0 3zm1-1zm1-3zm0 1zm1-2zm1 4zm1-2zm0 2zm1-3zm-153 5zm4 2zm9 1zm4 1zm5 0zm0 1zm1-5zm1 0zm0 4zm1 1zm4-1zm4-2zm1 3zm1-2zm3 1zm2-2zm1 2zm1 0zm1-4zm0 1zm3-1zm7 1zm0 3zm1-2zm1 3zm6-3zm0 2zm2 1zm2 0zm1-2zm1 2zm2-4zm0 2zm3 1zm0 1zm3-1zm3-2zm1-2zm1 0zm0 1zm0 1zm2 1zm0 1zm1-1zm0 1zm2-4zm0 2zm0 1zm1-2zm0 2zm0 2zm2-1zm1-3zm1 2zm1 0zm1-1zm1 1zm0 2zm1-5zm0 3zm0 1zm1-1zm1-3zm1 2zm1 1zm2-2zm0 4zm1-4zm0 1zm1 0zm1 1zm1-3zm2 2zm0 2zm1 0zm0 1zm1-5zm1 0zm1 1zm0 2zm0 2zm1-5zm0 2zm0 2zm2-4zm0 2zm0 3zm2-3zm0 1zm1 1zm2-3zm1 0zm0 1zm0 2zm0 1zm1-2zm0 1zm1-3zm0 1zm0 3zm1-5zm2 4zm1-4zm0 2zm1 1zm1 1zm2-2zm0 1zm0 1zm1-3zm0 2zm0 2zm1-5zm0 4zm0 1zm3-3zm0 1zm1 2zm1-5zm0 5zm1-2zm1-3zm1 2zm0 3zm1-1zm1 0zm1-4zm0 3zm1 1zm1-3zm0 1zm0 1zm0 1zm1-3zm1-1zm0 2zm0 1zm0 2zm1-4zm0 1zm1-1zm1 3zm1 0zm1-1zm1-2zm0 1zm0 1zm-166 3zm6 3zm6-3zm19 2zm2 2zm4-2zm1 1zm5 1zm1 1zm3-3zm4 2zm4 1zm1-3zm0 2zm7-2zm1 2zm2-2zm2 3zm4 0zm1-1zm2-2zm1-1zm1-1zm0 1zm6 1zm0 3zm1 0zm1-4zm1-1zm6 1zm1-1zm0 5zm3-2zm1 1zm1-2zm0 1zm2-1zm1-1zm2 1zm2 0zm1-1zm1-1zm0 1zm2 4zm1-4zm2 2zm0 2zm1-5zm1 2zm3 0zm0 3zm2-2zm0 1zm1-1zm0 2zm2-5zm0 1zm1 1zm1-1zm0 4zm1-4zm1 4zm3-5zm1 3zm0 2zm1-3zm0 2zm1 1zm2-3zm0 1zm0 2zm1-2zm0 1zm1 0zm2-2zm0 1zm0 1zm1-3zm0 3zm0 1zm1-4zm1-1zm0 1zm1 0zm0 1zm0 1zm1 1zm1-2zm0 1zm1-1zm3-1zm0 2zm0 1zm1-2zm2 0zm0 1zm0 1zm0 1zm1-4zm0 1zm0 2zm1-1zm0 1zm1 0zm1-1zm1-2zm0 2zm0 1zm2-4zm2 4zm1-2zm1-1zm0 3zm0 1zm1-4zm0 2zm1 1zm0 1zm2-4zm0 3zm1 1zm-164 3zm14-2zm3 5zm10-4zm5 0zm14 2zm3 2zm3-3zm3 1zm3-3zm6 2zm2-2zm1 3zm1-1zm3 2zm1-2zm6-1zm1-1zm1 4zm1-1zm0 1zm1-2zm4 2zm3-1zm4-1zm0 3zm2-5zm0 5zm1-2zm5-1zm0 2zm0 1zm1-5zm1 1zm0 4zm2-2zm2-3zm1 2zm0 2zm4-3zm0 2zm1-2zm0 2zm1 1zm0 1zm2-4zm0 2zm0 2zm2-5zm0 1zm0 3zm1-3zm0 1zm1 0zm0 2zm1-3zm0 1zm0 2zm1-4zm0 3zm1-1zm1-1zm0 1zm2 0zm4-1zm1-1zm2 0zm1 1zm0 1zm1-1zm0 1zm0 1zm1-3zm0 4zm1 0zm1-4zm2 2zm0 1zm1-1zm0 3zm2-3zm0 3zm3-2zm1-2zm0 1zm1 3zm1-1zm1-4zm0 1zm0 4zm1-1zm2 0zm1 0zm1-1zm0 2zm1-2zm2-2zm0 2zm0 2zm1-3zm1-2zm0 4zm1-4zm1 1zm1 1zm-201 8zm20-4zm3 4zm12-2zm22 0zm11 0zm2-2zm10 5zm5-1zm2-1zm2 1zm12-4zm3 2zm0 2zm2-1zm2 0zm1 0zm1-3zm0 5zm3-1zm5-3zm2-1zm0 5zm1-2zm1 2zm1-5zm0 5zm1-2zm1 2zm2-4zm4 2zm2-2zm0 1zm2-2zm0 2zm0 3zm1-5zm3 3zm0 1zm0 1zm2 0zm1-4zm1 1zm2 0zm1 1zm0 1zm1-1zm1-3zm0 2zm1 3zm1-3zm2-1zm0 2zm2 0zm0 2zm1-2zm1-1zm1 3zm1-5zm0 3zm1 0zm0 1zm1-4zm1 1zm0 2zm0 1zm1 0zm1-1zm1-3zm0 4zm1 0zm1-1zm1-2zm1 0zm1 4zm3-3zm0 1zm1-2zm0 4zm1-4zm4 4zm1-3zm0 1zm0 2zm1-4zm0 4zm1-1zm1 0zm1-2zm2-1zm1-1zm1 0zm0 1zm3-1zm0 2zm2-2zm1 5zm3-5zm1 1zm0 1zm1-2zm0 1zm2 0zm1 0zm0 2zm-164 3zm5 1zm1 1zm29-1zm3-1zm1 0zm0 2zm10 1zm2 2zm1-2zm7-3zm5 1zm6 3zm1 1zm4-3zm6 3zm2-5zm0 1zm3-1zm4 1zm2 1zm1-1zm4-1zm0 1zm0 4zm1-4zm3 3zm1-1zm1-1zm3-2zm1 4zm2-1zm1-1zm1 1zm1-2zm3 3zm3 0zm1 0zm1-4zm0 5zm1-4zm0 1zm1 1zm2-1zm0 2zm2-4zm2 5zm1 0zm3-5zm0 1zm2 3zm1-3zm1 3zm0 1zm1-5zm1 3zm1-3zm0 3zm1-3zm0 3zm1 1zm2-1zm1-1zm2-2zm0 4zm1 1zm1-4zm0 3zm3-3zm0 3zm5-3zm0 4zm1-5zm1 3zm2-1zm0 1zm1-2zm1 3zm1-2zm1 2zm-157 5zm4 2zm1-1zm7-4zm20 1zm15 4zm3-2zm6-2zm5 0zm0 4zm3-1zm7-1zm5-3zm3 4zm2 0zm3-3zm1-1zm1 1zm1 0zm0 4zm2 0zm3-4zm2 4zm2-4zm1 3zm1 0zm2 0zm5-4zm1 4zm1 0zm3-1zm1-3zm1 1zm3 4zm4-4zm1 2zm1 2zm4-3zm2-2zm1 0zm0 3zm1-2zm1 4zm1-1zm1 0zm1-4zm1 1zm1-1zm0 4zm3-4zm0 5zm1-5zm0 3zm1 1zm0 1zm3-4zm1 2zm1 0zm1-3zm1 1zm0 3zm2-1zm1 2zm2-5zm0 1zm3-1zm0 1zm1-1zm2 1zm-176 5zm26 5zm6-2zm4-1zm24 0zm14-2zm6 5zm8-4zm3-1zm3 1zm1 0zm1 3zm7-2zm1-1zm10 4zm1-1zm2 1zm2-4zm1-1zm0 2zm9-1zm2 0zm0 4zm4 0zm2-4zm6 0zm6 2zm0 1zm2-2zm1-1zm2 1zm1 0zm2 2zm2-4zm0 1zm0 1zm1 1zm3-2zm1-1zm2 2zm1 1zm8-2zm0 1zm0 1zm-152 4zm42 4zm17-5zm5 0zm0 4zm14-4zm4 3zm12-3zm2 1zm2-1zm0 4zm5-3zm6 3zm2-3zm1 4zm1-5zm2 1zm1 4zm6-2zm2 1zm2-2zm6 0zm3 2zm2-2zm0 2zm5-3zm0 4zm1-1zm1-2zm0 1zm-78 8zm10-4zm25 3zm1-4zm1 5zm6 0zm6 0zm1-2zm2 0zm2 1zm1-3zm6 4zm4-2zm1 1zm3 0zm2-4zm6 3zm1 0zm2-3zm0 1zm1 2zm-96 3zm4 1zm7 2zm37-2zm2 4zm16-5zm1 4zm3 1zm10-2zm3 0zm-78 3zm60 0zm1 1z" fill="none" stroke="#800000" stroke-width="1.8" stroke-linecap="square" opacity="0.75"/><path transform="scale(.5)" d="M1898 964zm6 0zm-6 6zm3-1zm0 2zm2-4zm1 3zm3-3zm0 3zm0 1zm1-4zm1 1zm2 0zm1 3zm-15 3zm1-1zm0 2zm1-3zm0 2zm0 2zm2-1zm1 1zm2-3zm0 4zm1-3zm2-2zm0 4zm1-3zm4 3zm0 1zm1-2zm7 0zm2 2zm4-2zm1 2zm1-1zm1 1zm-33 1zm0 5zm2-4zm2 3zm2-2zm0 1zm3-1zm1 0zm4 1zm1-3zm1 4zm1-2zm1 1zm3 0zm4 2zm1-4zm0 1zm2-2zm0 1zm1-1zm1 2zm2-1zm3 1zm0 2zm0 1zm1-5zm2 0zm0 3zm4 1zm0 1zm1-2zm0 1zm-42 4zm0 1zm3-2zm1-1zm2 0zm1 0zm0 1zm1 1zm0 1zm0 1zm2 0zm1-2zm0 2zm0 1zm2-1zm1 0zm1-2zm0 1zm2-1zm4-1zm1-1zm3 2zm1-2zm0 2zm0 1zm1-2zm0 1zm1-2zm0 2zm0 1zm1 0zm1-1zm2 3zm5-2zm1-1zm1 2zm2-1zm3 1zm1-1zm0 1zm2-4zm0 1zm0 2zm2-1zm0 2zm2 1zm5 0zm-50 3zm2 1zm6 1zm3 1zm3-1zm2 0zm4-4zm1 2zm3-1zm1 3zm1 1zm1 0zm1-3zm1-2zm1 3zm1-3zm3 1zm0 1zm3 0zm1 0zm0 1zm1-3zm0 1zm0 2zm3-2zm0 3zm1-2zm0 2zm1-1zm2-1zm0 2zm1-1zm3 2zm1-3zm2 1zm1 2zm1-2zm0 1zm0 1zm1 0zm3 0zm-66 6zm1-5zm0 4zm1-2zm1 0zm1 0zm1 2zm1 1zm1-1zm2-1zm1 0zm1 0zm1-2zm0 3zm1-4zm3 2zm1-2zm1 1zm1 1zm2 3zm1-3zm0 1zm1 1zm1-4zm0 4zm2-3zm2 3zm1-2zm0 3zm3-5zm1 2zm1 1zm0 1zm1-4zm0 3zm0 1zm2-1zm1 2zm1-3zm1-2zm0 2zm0 2zm1-4zm0 3zm1-3zm0 5zm3-2zm1-1zm1-2zm0 3zm1 1zm1-1zm1-3zm0 2zm1-1zm0 1zm1-1zm0 3zm1 1zm1 0zm1 0zm1-1zm2-2zm0 1zm2 2zm1-4zm2 1zm0 1zm1-3zm0 3zm1-2zm1-1zm0 1zm0 3zm1-4zm1 1zm0 3zm0 1zm1-4zm0 1zm0 3zm1 0zm2-1zm1 1zm2 0zm-75 2zm0 3zm3-3zm1 3zm1-2zm1 2zm1-1zm6 1zm1-3zm1 0zm1 0zm3 1zm1-2zm1 2zm0 2zm1-1zm0 1zm1-3zm0 1zm0 2zm1-3zm0 3zm0 1zm1-5zm1 3zm1 1zm2 1zm1-5zm0 1zm0 4zm2-1zm3-4zm1 0zm0 4zm1-4zm0 1zm0 3zm2-4zm0 1zm0 1zm1-2zm2 5zm2-2zm0 1zm1-4zm1 1zm0 4zm2-4zm1 0zm1 1zm2-1zm1-1zm0 3zm1-2zm0 2zm4 1zm1 1zm1-4zm1 1zm0 1zm1 2zm1-5zm0 2zm0 3zm1-5zm0 2zm2 0zm0 1zm0 2zm1-3zm0 1zm0 2zm1-5zm0 1zm1 3zm1-1zm0 1zm1-3zm1 0zm0 2zm0 1zm1-4zm0 1zm0 1zm1 1zm1 1zm1-3zm1 0zm0 1zm0 2zm0 1zm2-2zm1 0zm2 2zm4 0zm-84 5zm4-4zm3 2zm3-2zm0 2zm3 1zm1-3zm1 3zm1-1zm1-1zm0 4zm1-5zm2 5zm2-2zm2 2zm1-4zm0 4zm1-3zm0 3zm1-3zm0 2zm0 1zm2 0zm1-5zm0 3zm1-3zm0 1zm0 2zm1 0zm0 1zm3-3zm0 2zm1-3zm0 2zm0 2zm1-2zm0 1zm1-1zm1 1zm0 2zm2-5zm0 3zm2 0zm3 1zm1-3zm1 1zm0 2zm0 1zm1-5zm0 1zm1 1zm1-2zm1 1zm0 2zm1 0zm1-1zm0 3zm1-2zm1-2zm0 3zm1-4zm0 2zm0 3zm1-4zm0 2zm0 2zm1-4zm0 3zm1 0zm3 0zm1-4zm0 1zm0 2zm0 1zm2 0zm1-4zm0 2zm1-2zm1 0zm0 1zm0 1zm0 1zm1 0zm0 1zm0 1zm1-1zm2-4zm0 5zm2-4zm1 0zm0 2zm0 1zm1-4zm0 2zm0 2zm1-4zm0 4zm1-3zm1-1zm1 2zm0 2zm1-2zm0 1zm1-2zm0 1zm0 1zm0 1zm1-2zm0 2zm1-1zm0 1zm1-4zm0 4zm1 0zm2-1zm2 1zm1 1zm1 0zm1 0zm-95 5zm1 0zm1-2zm5 0zm0 1zm1-3zm0 1zm1-1zm6 4zm2-2zm2 0zm2-2zm0 4zm1-4zm1 1zm1 3zm1-1zm2-3zm0 5zm2-3zm1-2zm2 2zm0 1zm0 2zm1-5zm0 1zm0 2zm0 1zm0 1zm2-4zm0 2zm1-2zm1 0zm0 2zm1-3zm0 2zm0 1zm1-2zm6 0zm1 4zm1-3zm0 2zm0 1zm1-3zm0 1zm1-3zm0 2zm0 3zm1-3zm1 0zm0 2zm1-4zm0 1zm0 3zm3-2zm0 1zm1 2zm1 0zm1-5zm0 3zm0 2zm1-2zm0 1zm1-4zm0 2zm1 1zm0 2zm1-5zm1 1zm1-1zm1 1zm0 2zm1 0zm1 0zm1 0zm1-2zm0 1zm1-1zm1 1zm1-2zm0 5zm1-1zm0 1zm1-1zm1-2zm0 3zm1-4zm2-1zm0 5zm1-4zm0 1zm1 3zm1-3zm1-2zm0 1zm0 1zm0 2zm0 1zm1-5zm0 1zm0 2zm0 1zm0 1zm1-5zm0 1zm0 4zm1-5zm0 2zm1 0zm0 2zm1-4zm0 2zm1 1zm0 2zm1-5zm0 2zm0 1zm1-2zm0 2zm0 2zm1-4zm1-1zm0 3zm0 1zm0 1zm1-4zm0 3zm1-4zm0 2zm0 3zm1-3zm0 2zm0 1zm1-4zm0 3zm0 1zm1-4zm0 2zm0 1zm0 1zm1 0zm1-2zm1-1zm0 2zm1 1zm1-1zm1 0zm0 1zm-104 6zm1 0zm2-5zm0 2zm1 1zm0 1zm2-4zm0 2zm1-2zm0 2zm2-2zm0 1zm2 3zm1-2zm1 3zm4 0zm3-2zm1-2zm3 4zm3-5zm0 4zm2-3zm2 4zm2 0zm1-5zm1 1zm0 3zm1 0zm1-3zm0 1zm2 0zm1-2zm1 4zm0 1zm4-4zm1-1zm0 3zm1-2zm0 3zm0 1zm1-4zm0 2zm1-2zm1-1zm0 2zm0 2zm0 1zm1-2zm2-3zm1 0zm0 4zm1-2zm2-2zm1 2zm1-2zm1 1zm1 0zm0 4zm1-5zm0 1zm0 1zm2 0zm0 2zm0 1zm5-3zm0 1zm1-1zm0 3zm1-2zm0 1zm1-3zm0 3zm2-3zm0 1zm0 2zm1-2zm0 2zm1-1zm0 1zm0 1zm1-5zm0 3zm1-3zm1 3zm0 1zm0 1zm1-3zm0 2zm0 1zm1 0zm1-5zm0 1zm0 2zm0 1zm2-4zm0 1zm0 3zm1-4zm0 1zm0 1zm1-1zm0 2zm0 1zm1-1zm0 1zm1 1zm2-5zm0 1zm0 3zm0 1zm1-5zm1 4zm0 1zm1-5zm0 2zm0 1zm0 2zm1-5zm0 1zm0 1zm0 1zm0 2zm1-5zm0 1zm0 2zm0 1zm0 1zm1-5zm0 2zm0 1zm0 2zm1-5zm0 4zm1-4zm0 1zm0 2zm0 1zm1 0zm1-3zm0 1zm1-1zm0 1zm0 1zm1-3zm0 1zm0 1zm0 1zm1-3zm0 1zm0 1zm0 1zm1-3zm0 1zm0 1zm0 1zm0 1zm0 1zm1-3zm0 1zm0 1zm0 1zm-96 1zm23 0zm5 0zm3 0zm1 0zm10 0zm1 0zm1 0zm9 0zm5 0zm3 0zm6 0zm3 0zm3 0zm2 0zm1 0zm2 0zm1 0zm1 0zm3 0zm1 0zm4 0zm3 0zm1 0zm1 1zm1-1z" fill="none" stroke="#E00000" stroke-width="1.8" stroke-linecap="square" opacity="0.75"/><path transform="scale(.5)" d="M1898 977zm2-2zm0 1zm5 0zm4-1zm0 1zm0 1zm1-2zm0 2zm5-1zm11 0zm2 1zm-32 4zm1 0zm1-1zm0 1zm1 0zm1 1zm1-1zm1 1zm0 1zm2-5zm0 5zm3-1zm3 1zm1-3zm0 1zm1-1zm1 1zm1 0zm1-3zm0 1zm2-1zm2 3zm1 0zm0 1zm2 1zm2-3zm3-1zm0 4zm1-2zm3 1zm1 0zm2-3zm9 4zm-46 6zm1-1zm1-4zm1 2zm0 1zm0 2zm1-2zm1 2zm2-3zm0 3zm1-5zm1 0zm1 4zm2-1zm1 0zm1 0zm1 1zm2 0zm1-3zm1 3zm2-3zm1 2zm2 2zm3-2zm0 1zm3-1zm1-3zm3 3zm1 2zm2 0zm1-1zm1-3zm0 2zm1-1zm2-2zm1 0zm0 2zm1 1zm4-2zm1 0zm3 3zm-52 6zm2 0zm1-3zm1-1zm0 2zm0 1zm1-3zm0 5zm2-3zm1-1zm0 1zm0 2zm2-4zm1 1zm0 3zm1 1zm2-2zm0 2zm1-1zm1-3zm1-1zm1 0zm1 0zm0 1zm0 1zm0 1zm3-3zm1 1zm1 1zm4-1zm2 1zm1 0zm1 3zm2-3zm0 2zm2-2zm1 2zm4 1zm2-1zm3-3zm4-1zm1 1zm2-1zm1 3zm-52 4zm2-1zm1 1zm1 1zm2-1zm0 2zm0 1zm1-4zm1 2zm1-2zm0 1zm0 4zm1-3zm3 1zm1-2zm3 0zm1 2zm0 2zm3-3zm0 1zm1-1zm2 1zm4-1zm2 3zm2-5zm0 5zm1-1zm0 1zm1-5zm1 0zm0 1zm2-1zm2 2zm3-2zm0 3zm1-2zm2-1zm10 3zm1-1zm0 2zm1-3zm0 2zm0 2zm4-4zm1 0zm4 2zm1 0zm-68 6zm0 2zm2-3zm2 1zm3 1zm1-3zm0 3zm2-4zm1 4zm1-2zm0 2zm4-4zm0 4zm1 0zm2 0zm1-3zm1 3zm0 1zm2-4zm0 3zm1-3zm0 4zm1-1zm1-3zm0 2zm2 2zm2-4zm1 2zm0 2zm1 0zm1-5zm4 0zm0 1zm0 3zm1-3zm3 0zm0 3zm0 1zm3-3zm6 0zm0 3zm3-2zm1 1zm1-3zm1-1zm7 3zm3-3zm16 4zm-83 6zm2-2zm0 2zm1-4zm1 2zm0 3zm1-1zm0 1zm1-2zm2-2zm0 3zm2 1zm3-2zm0 2zm1-5zm0 5zm1-5zm0 1zm0 1zm1-1zm0 2zm1-1zm1-1zm1 0zm2 0zm0 4zm1-3zm1 2zm1-3zm1 0zm0 1zm3 2zm0 1zm4-3zm2 3zm1 0zm2-5zm1 3zm4-3zm4 1zm0 2zm1 0zm3-1zm2-1zm4 3zm2 0zm6 0zm3 1zm6-4zm8 3zm-81 5zm2-1zm6-1zm3 0zm1-1zm0 2zm4 2zm2 0zm4-3zm0 4zm3-3zm0 1zm0 2zm1-1zm0 1zm1-2zm0 1zm1 1zm1-4zm1-1zm1 2zm0 1zm5-3zm2 3zm3-3zm0 4zm2-1zm1-1zm8 1zm1-2zm7 1zm2-1zm1 2zm8-1zm11 1zm-82 7zm2-2zm1 0zm2 0zm3 2zm2-2zm1 3zm2-5zm1 5zm5-3zm0 3zm2-5zm1 1zm0 1zm1 1zm1 2zm1 0zm1-5zm0 5zm1-2zm2-2zm1 2zm1 1zm1-2zm3 0zm0 1zm1-2zm3-1zm2 0zm0 1zm2 3zm3 1zm1-3zm3 0zm1 3zm2 0zm2-2zm0 2zm1-4zm5-1zm3 4zm7 0zm5-2zm5-2zm-82 11zm2-4zm2 2zm2 0zm1 0zm7-2zm0 3zm0 1zm2 0zm2-2zm0 1zm2 1zm1-4zm2-1zm0 1zm2 3zm0 1zm1-4zm1 4zm2-2zm1 1zm1-1zm1-1zm1-2zm0 1zm4 3zm1-4zm0 2zm2 2zm7-2zm3 1zm3-1zm0 3zm1-4zm4 3zm3-4zm5 0zm26 5zm-91 2zm1-1zm1 0zm1 3zm0 1zm0 1zm2-5zm0 1zm0 4zm1-4zm0 4zm1-3zm1-2zm0 1zm2-1zm0 5zm1-5zm0 3zm2 0zm1 0zm1 2zm1-5zm0 2zm0 1zm0 2zm1-3zm0 1zm1 1zm5-1zm1 2zm2-1zm2-1zm2 0zm0 1zm1-2zm1 3zm2-2zm2-3zm2 4zm2-1zm2 1zm2-2zm6 2zm1 1zm2-2zm1 2zm10-1zm7-2zm-71 9zm1-5zm0 1zm1-1zm0 2zm1 0zm0 1zm0 1zm2 0zm0 1zm3-1zm0 1zm1-5zm1 2zm0 2zm1-3zm2-1zm0 2zm0 1zm2-1zm1-2zm1 3zm2-3zm2 5zm1-4zm1 0zm0 4zm2-2zm3 0zm1 1zm2 1zm4-3zm0 3zm2-4zm0 1zm2 1zm0 1zm2-2zm2 2zm0 1zm2 0zm1-4zm1-1zm3 2zm11 2zm2 1zm1-3zm1-1zm4 1zm1-2zm1 2zm0 1zm2-3zm1 5zm-73 2zm2 4zm2 0zm1-5zm0 2zm1-1zm0 2zm3 1zm2-2zm1 1zm1 2zm4-4zm1 0zm0 4zm2 0zm2-4zm0 1zm2-1zm1 4zm2-2zm2-3zm0 5zm2 0zm1-2zm0 2zm1 0zm3-4zm1 2zm2 1zm4 0zm0 1zm3-2zm22-2zm2 0zm1 1zm6 1zm1-2zm-80 6zm3 4zm1 0zm2-2zm0 2zm2-4zm1 3zm2 1zm2-5zm0 4zm2 1zm1-4zm1 2zm2 0zm1 1zm1-3zm2 2zm2-3zm0 1zm1 0zm7 2zm3-1zm5-2zm0 3zm3-1zm6 1zm1-3zm4 3zm7 0zm4-1zm1 0zm4 3zm12-5zm14 5zm-97 6zm1 0zm1-5zm0 2zm1-2zm1 0zm0 3zm1-2zm1-1zm0 4zm3-1zm1-3zm1 1zm0 2zm0 2zm2-3zm0 2zm2-3zm2 0zm0 3zm4 1zm2-1zm1-3zm0 1zm1 2zm0 1zm3 0zm1-5zm0 4zm3-2zm0 2zm2-1zm0 1zm1-2zm1 0zm7 2zm6-2zm7 0zm3 2zm4-4zm2 1zm3-1zm1 3zm10-3zm0 5zm-77 2zm3-1zm0 3zm1-1zm0 3zm1-3zm3-2zm0 1zm1 3zm1-1zm1-1zm1-2zm1 4zm1-4zm1 2zm1 2zm1-3zm0 3zm1-2zm1 0zm2 0zm1 0zm1 3zm1-4zm0 1zm1 3zm1-3zm0 3zm1-4zm1-1zm4 4zm2-1zm1 2zm2-5zm1 0zm2 5zm8 0zm1-1zm1-4zm0 2zm1-1zm1-1zm5 2zm4 1zm2 1zm2-1zm21 0zm5-1zm2 0zm-95 6zm2-2zm0 2zm0 1zm3 0zm1 1zm1-1zm1-3zm0 4zm1-4zm3 1zm1 2zm4-2zm4 0zm0 1zm0 2zm5-4zm0 3zm1-2zm1-1zm1 2zm1-2zm1 2zm1 3zm3-4zm0 3zm1-4zm2 5zm1 0zm3-3zm1 1zm1 0zm1-1zm5 0zm3 0zm3-1zm1-1zm3 0zm1 5zm1-4zm4 3zm2-4zm2 0zm20 2zm-89 5zm0 1zm1 0zm0 2zm1-2zm0 2zm1-4zm3 1zm1 1zm3 0zm0 1zm3-3zm1 5zm1-3zm1-2zm3 2zm0 2zm1-3zm0 1zm1-2zm1 1zm1-1zm0 2zm3-2zm2 3zm1-1zm0 1zm1-2zm0 3zm2-2zm3-1zm0 3zm4-4zm0 1zm1-1zm2 4zm14-2zm2-2zm0 1zm23 0zm13-1zm-95 7zm1 0zm0 3zm1-4zm1 1zm0 3zm0 1zm2-4zm0 4zm2-5zm4 1zm1 0zm2 1zm1 0zm1 2zm1-4zm0 3zm2-3zm0 5zm2-2zm1-1zm0 2zm0 1zm5-3zm1 1zm1-2zm1-1zm0 3zm1-2zm0 3zm2 1zm1-5zm0 3zm1 0zm0 2zm6-1zm1-2zm2-1zm1 4zm7-2zm3 2zm8-5zm1 3zm7-2zm12 1zm-83 8zm1 1zm2-4zm0 3zm0 1zm1-1zm1-4zm1 0zm0 2zm0 1zm1 0zm1 0zm3 2zm1-5zm0 2zm0 1zm0 1zm1-4zm0 4zm1-4zm0 2zm4-1zm0 4zm1-1zm2 1zm2-2zm1-3zm1 5zm3-1zm1-3zm2 2zm2 2zm1-4zm0 2zm3-3zm1 3zm3 0zm28-3zm7 5zm8-3zm-83 6zm5 1zm1-3zm1 2zm3-2zm1 2zm8-1zm2-1zm1 1zm4 1zm2 0zm4-2zm5 1zm4 0zm10 1zm2-1z" fill="none" stroke="#fff" stroke-width="1.8" stroke-linecap="square" opacity="0.8"/><path transform="scale(.5)" d="M1775 1126zm5 0zm1-1zm0 2zm1 0zm3-1zm2 0zm1 1zm7-2zm1 1zm1 0zm2 1zm2-2zm0 1zm1 0zm1-1zm1 0zm0 2zm2 0zm6-2zm1 2zm2 0zm2-2zm0 2zm1-2zm0 2zm1-2zm0 2zm2-2zm0 1zm1-2zm0 2zm0 1zm6-1zm3 1zm2-1zm1-1zm0 1zm2 0zm1-2zm0 3zm1-2zm1-1zm1 1zm0 2zm2-1zm1-2zm1 2zm1 1zm1-1zm2-1zm0 1zm0 1zm2 0zm3 0zm1-2zm1 0zm1 0zm1 1zm0 1zm1-2zm0 2zm2-3zm1 1zm0 1zm1 0zm0 1zm1-2zm0 2zm1-3zm0 1zm0 1zm1 0zm3 1zm1-2zm1 0zm2-1zm0 2zm0 1zm1-1zm1 0zm1-1zm1 1zm1 0zm1 1zm2-2zm2 0zm0 1zm3 0zm1-1zm1 0zm2 0zm0 2zm1-3zm0 1zm2 2zm1-1zm1-1zm0 1zm-156 7zm6-2zm6-3zm4 4zm5-2zm0 3zm6 0zm3-2zm3 1zm4 0zm2-3zm0 4zm4-5zm0 1zm1-1zm0 1zm1 2zm2 1zm2-3zm0 2zm2-3zm0 2zm0 1zm1-2zm1-1zm2 5zm2 0zm1-2zm1-2zm0 4zm2-3zm2-2zm0 3zm1-2zm0 2zm0 1zm1-2zm1-1zm0 1zm0 3zm1-1zm1-3zm1-1zm0 2zm0 3zm1-5zm1 0zm1 3zm0 1zm1-4zm0 1zm0 2zm1 2zm1-2zm0 2zm2-4zm0 1zm0 2zm1-3zm0 2zm0 1zm0 1zm1-5zm0 3zm0 2zm1-5zm0 3zm1-3zm0 4zm0 1zm1-5zm0 4zm1-1zm1-2zm0 2zm0 1zm3-3zm0 4zm1-3zm0 2zm0 1zm1 0zm2-5zm2 0zm0 1zm1-1zm0 2zm1-2zm0 4zm0 1zm1-4zm0 3zm0 1zm1-1zm1-4zm0 2zm1-1zm0 1zm0 2zm1-2zm0 2zm0 1zm2-3zm0 1zm0 2zm1-1zm0 1zm1-5zm0 4zm1-4zm0 1zm2-1zm0 1zm0 3zm1-2zm1 1zm0 1zm2-4zm0 1zm1-1zm1 0zm0 1zm0 1zm1-2zm2 3zm1 0zm0 1zm1-2zm0 1zm4 0zm1-3zm1 0zm1 0zm0 1zm1 0zm1 1zm1-1zm0 1zm1-2zm0 2zm1 0zm0 1zm1-3zm4 0zm0 2zm0 1zm2-1zm3-2zm1 0zm1 2zm1 0zm2 0zm1-2zm2 2zm2 0zm1 0zm2-2zm1 1zm0 1zm-179 6zm8-2zm9 4zm1-3zm2 3zm8 1zm1-1zm1 1zm2-3zm0 3zm1-1zm6-4zm3 3zm2 1zm0 1zm3-1zm0 1zm1-2zm3-1zm0 1zm0 2zm1-4zm0 3zm1 0zm3-1zm2-3zm1 5zm1-3zm1 2zm0 1zm1-5zm0 2zm2 2zm1-3zm1 3zm2-3zm0 1zm1 1zm0 2zm1 0zm2-5zm0 5zm1-5zm0 2zm2-2zm0 3zm0 1zm1-3zm1-1zm0 1zm1 0zm0 3zm1-3zm2 0zm2 3zm1 0zm1-4zm0 2zm0 2zm1 1zm2-1zm1-1zm1-2zm0 2zm1-3zm0 1zm0 2zm0 1zm0 1zm2-3zm0 1zm0 1zm0 1zm2-3zm1 1zm1-1zm2-2zm0 2zm1 0zm0 2zm1-4zm0 4zm1-4zm0 2zm0 1zm1-2zm0 3zm1-4zm0 1zm0 2zm1-2zm1 0zm0 2zm0 1zm1-1zm1-1zm1 0zm0 1zm1 0zm1-1zm1-1zm0 3zm0 1zm1-5zm0 4zm1-2zm0 1zm1-3zm2 1zm1 1zm1-2zm0 1zm0 3zm1-4zm1 1zm0 1zm0 1zm2-3zm1 0zm1 1zm-108 6zm0 4zm2 0zm5-5zm5 4zm3 1zm1-3zm3 0zm1 1zm1 1zm0 1zm1-3zm0 1zm1-3zm0 3zm0 2zm1-1zm4-2zm0 1zm0 1zm1-1zm0 1zm1-1zm1-3zm0 2zm2 3zm2-1zm1-3zm3-1zm0 5zm4-3zm1 0zm0 1zm1 1zm0 1zm1-2zm1-2zm1-1zm0 1zm1 1zm1 1zm1-2zm0 3zm1-1zm1-3zm0 3zm1-2zm2 0zm1 1zm1 2zm1-2zm1-2zm0 1zm0 3zm1-4zm1 4zm1-4zm0 1zm0 2zm0 2zm1-5zm1 3zm1 2zm1-5zm1 3zm1-2zm2 0zm0 3zm0 1zm1-3zm0 2zm0 1zm1-3zm0 2zm1-1zm2-3zm0 1zm0 2zm1-1zm0 1zm1 0zm0 1zm1-1zm0 1zm0 1zm2-1zm1-3zm1 2zm1-2zm0 1zm0 1zm0 1zm1-2zm0 2zm1-4zm0 1zm0 1zm2 1zm2-3zm0 2zm2-1zm1-1zm1 1zm-133 8zm22 0zm7-1zm6 1zm1 1zm3 1zm1-2zm1 2zm3 0zm1-4zm0 1zm3-2zm0 3zm2-1zm1 1zm0 1zm1-1zm0 2zm1 0zm1-1zm1-3zm1-1zm2 2zm2 3zm1-2zm2-3zm0 4zm5-4zm1 1zm0 1zm0 2zm1-3zm1 2zm1-3zm0 2zm0 1zm2-3zm0 2zm1-2zm4 3zm1 0zm0 1zm1-4zm0 3zm1-3zm1 3zm1-2zm0 4zm1-5zm0 4zm1-2zm0 3zm1 0zm2-5zm0 1zm0 3zm0 1zm1-5zm0 3zm1-3zm0 5zm1-4zm0 2zm0 2zm1 0zm1-1zm1-4zm0 2zm1 1zm1-2zm0 2zm1-3zm0 3zm1 2zm1-4zm0 1zm0 2zm0 1zm1-5zm1 3zm1-3zm0 1zm1-1zm0 1zm1 3zm1-3zm0 3zm0 1zm3-5zm0 4zm1-4zm0 3zm1 0zm2-2zm0 2zm2-3zm0 2zm2-2zm-117 8zm1 3zm12 0zm9-3zm3 1zm2 1zm4-3zm4 1zm1-1zm1 1zm1 0zm5-2zm1 3zm0 2zm2 0zm1 0zm1-4zm0 1zm0 2zm1-2zm0 1zm1 0zm0 1zm2-4zm0 4zm1-4zm0 1zm1-1zm0 1zm1 2zm1-3zm0 5zm3-4zm1 0zm0 1zm0 3zm1-5zm0 1zm1 0zm0 2zm0 2zm1-3zm1-1zm1 3zm1-4zm1 2zm1 0zm1 0zm0 2zm1-3zm0 1zm1-2zm0 3zm0 2zm1-2zm1 0zm1 0zm1-1zm0 2zm1-4zm0 1zm1 0zm0 2zm1-2zm0 2zm0 1zm1-1zm0 1zm2 1zm1-1zm1-1zm0 2zm2 0zm1-2zm1-1zm1-2zm0 2zm0 1zm1 0zm1 0zm0 2zm1-4zm0 3zm0 1zm2-4zm0 2zm1-2zm0 3zm1-4zm0 3zm0 1zm1-4zm0 3zm1-3zm1 2zm1-2zm0 1zm1-1zm1 1zm-112 10zm8-2zm1-2zm9 1zm0 3zm2-3zm1 3zm1-3zm0 2zm2-1zm2 1zm1-4zm1 0zm1 3zm2 1zm2 0zm1-1zm1 1zm0 1zm3-5zm1 2zm0 2zm0 1zm1-1zm1 1zm1-2zm1 0zm0 1zm1-3zm0 2zm2 0zm3 1zm1-1zm1 2zm1-4zm0 3zm4 0zm4-4zm0 5zm1-3zm1-1zm0 3zm1-1zm0 1zm3 1zm2-3zm1-2zm0 3zm1-2zm0 4zm1-3zm0 2zm0 1zm1-1zm2-4zm0 1zm0 1zm0 2zm0 1zm1-2zm1-1zm0 1zm0 1zm0 1zm1-4zm0 1zm1-1zm0 3zm1-4zm0 1zm0 1zm0 2zm1-2zm0 1zm1 2zm1-2zm1-2zm0 3zm1-4zm0 2zm0 1zm1-3zm0 1zm0 3zm0 1zm1-4zm0 3zm0 1zm1-4zm2 2zm0 1zm1-2zm1-2zm0 2zm1-2zm0 3zm1-1zm0 1zm1-1zm2-1zm1 0zm2-1zm-104 10zm4 1zm5-1zm2-3zm1-1zm5 3zm1 0zm1-1zm1 0zm2 1zm1-1zm0 3zm2-5zm0 1zm1 3zm3-3zm0 2zm0 2zm1 0zm1-5zm0 2zm3-1zm1 1zm0 2zm1-1zm4 0zm0 2zm1-5zm0 1zm0 3zm2-1zm3 2zm1-4zm0 4zm1-5zm1 0zm0 1zm0 1zm0 1zm1-1zm0 2zm0 1zm1 0zm1-5zm0 3zm0 2zm1-2zm1-1zm0 1zm0 2zm1-5zm0 5zm1-3zm0 1zm0 2zm1-3zm0 1zm0 1zm1 0zm0 1zm1-4zm0 1zm0 2zm0 1zm1-2zm0 1zm1-4zm1 1zm0 1zm0 2zm1-4zm0 1zm0 2zm1-3zm0 5zm1-2zm0 1zm0 1zm1-5zm0 3zm0 2zm1-5zm0 1zm1-1zm0 1zm0 2zm0 1zm1-4zm0 2zm0 1zm0 1zm1-4zm0 2zm2-1zm0 2zm2-2zm0 4zm1 0zm1-2zm1-2zm0 1zm0 2zm1-3zm0 1zm0 1zm0 2zm1-4zm0 2zm0 1zm0 1zm1-5zm0 1zm0 3zm0 1zm1-4zm0 3zm3-1zm1-3zm0 1zm0 2zm4-2zm1-1zm-96 6zm8 3zm4-3zm0 4zm6-3zm1 0zm0 4zm4-5zm0 1zm0 3zm1-3zm0 2zm1-3zm0 5zm2-3zm3 1zm0 2zm1-3zm0 3zm2-5zm0 4zm2 0zm0 1zm1-3zm0 1zm0 2zm1-1zm3-3zm0 1zm3 0zm0 3zm1 0zm2-4zm1 3zm1 0zm1 0zm1-3zm0 1zm1-1zm0 1zm0 3zm2-1zm0 1zm1-3zm1-2zm0 1zm0 1zm0 3zm1-3zm0 1zm0 1zm1-2zm1 3zm1-1zm1 0zm0 1zm1-4zm0 2zm1-3zm0 3zm0 2zm1-3zm0 2zm1-3zm0 1zm1 0zm1-1zm0 1zm0 1zm0 1zm1-2zm2-2zm0 1zm0 1zm0 1zm1-3zm0 2zm0 1zm1-2zm0 1zm0 1zm1-3zm0 3zm0 2zm1-5zm0 5zm1-5zm0 1zm1-1zm1 0zm1 2zm0 1zm1-3zm2 1zm0 1zm1-1zm2-1zm-83 6zm0 2zm0 2zm1-3zm0 4zm1-1zm2 0zm1-1zm1-3zm7 3zm1 0zm0 1zm2-4zm1 3zm0 1zm1-4zm0 3zm2-1zm1-2zm0 1zm0 1zm1 3zm1-4zm0 1zm0 1zm0 1zm2-1zm1-1zm1 1zm0 1zm1 1zm1-1zm0 1zm1-5zm0 3zm0 2zm1-3zm1-2zm0 3zm0 1zm1-4zm0 2zm0 1zm0 1zm1-1zm0 2zm1-3zm0 2zm0 1zm1-5zm0 3zm0 1zm1 1zm1-4zm0 4zm1-5zm1 1zm0 4zm1-3zm0 1zm1 0zm1 0zm0 2zm1-5zm0 1zm0 2zm1-2zm0 4zm1-1zm1-2zm0 1zm0 1zm1-2zm0 1zm0 2zm1-2zm0 1zm1-3zm1 4zm1-5zm0 4zm0 1zm1-4zm0 1zm1-2zm0 2zm0 3zm1-5zm0 2zm1 0zm1 2zm0 1zm1-4zm0 3zm0 1zm1-1zm0 1zm1-3zm1-1zm0 1zm1-2zm0 3zm1 0zm1-3zm1 0zm1 1zm4-1zm-76 10zm2-3zm4-1zm0 5zm1-2zm2-3zm0 2zm2 0zm1 1zm0 1zm2 1zm1-4zm0 3zm2-4zm1 5zm2-4zm0 1zm0 2zm1-1zm0 2zm1-5zm1 0zm0 2zm1 0zm0 1zm0 1zm0 1zm1-3zm1 3zm1-2zm0 2zm1-1zm0 1zm1-1zm2-3zm0 3zm0 1zm1-4zm2 3zm0 1zm1-5zm0 2zm0 1zm0 1zm1-2zm0 3zm1-3zm0 2zm0 1zm1-3zm1-2zm0 5zm1-2zm0 2zm1-4zm0 1zm0 3zm1-3zm0 2zm2-3zm0 2zm1-1zm0 1zm1-3zm0 1zm0 3zm2-4zm0 5zm1-4zm1-1zm0 1zm2-1zm0 2zm0 1zm1 0zm1-1zm1 1zm1-2zm1 1zm2-2zm0 1zm-59 5zm0 2zm1 0zm1-1zm1 0zm0 1zm1-2zm0 5zm1-2zm0 1zm1-4zm1 1zm0 3zm1-4zm0 2zm1-1zm0 4zm1-2zm0 1zm1-2zm0 2zm1-1zm0 1zm1-2zm0 1zm0 1zm0 1zm1-1zm1 0zm1 1zm1-4zm0 1zm0 1zm0 2zm1-5zm0 3zm0 1zm1 0zm1-4zm0 1zm1-1zm0 2zm0 1zm0 1zm1-3zm1-1zm0 2zm0 3zm1-4zm0 2zm0 1zm1-4zm0 4zm0 1zm1-3zm0 1zm1 0zm0 1zm1-4zm0 2zm0 2zm0 1zm1-4zm0 2zm1-3zm0 2zm2-2zm0 1zm0 2zm1 1zm1 0zm1-4zm0 2zm0 1zm0 1zm1-3zm0 2zm0 2zm1-4zm0 1zm0 1zm0 1zm1-2zm1-2zm1 0zm0 1zm1-1zm1 0zm0 1zm0 1zm0 1zm1-1zm3-2zm1 0zm-48 7zm0 2zm1-2zm1-1zm0 1zm0 2zm1-2zm0 4zm1-3zm1-1zm0 3zm1 1zm1-1zm0 1zm1-5zm0 1zm2 0zm0 1zm0 3zm1-1zm1-2zm0 2zm0 1zm1-5zm0 2zm0 2zm1-3zm0 1zm0 2zm1-4zm0 2zm1-1zm0 2zm0 1zm1-4zm0 2zm0 1zm1 0zm0 2zm1-3zm0 1zm0 1zm0 1zm1-5zm1 0zm0 1zm1 3zm1-4zm0 3zm0 2zm1-2zm0 1zm1-3zm0 2zm1-3zm0 1zm0 1zm0 2zm1-4zm0 3zm2-2zm1-1zm0 2zm-30 8zm1 0zm3-3zm0 1zm0 2zm1 1zm1-3zm0 1zm0 2zm1-5zm0 3zm0 1zm1-3zm0 3zm0 1zm1-3zm0 2zm0 1zm1 0zm1-3zm0 2zm0 1zm1-4zm0 1zm1-2zm0 1zm1 0zm1-1zm1 2zm1-1zm1 1zm4-2zm-21 7zm0 1zm0 2zm1-3zm1 0zm0 1zm1-2zm0 2zm1-2zm1 1zm0 1zm1-2zm2 0z" fill="none" stroke="#000080" stroke-width="1.8" stroke-linecap="square" opacity="0.8"/><path transform="scale(.5)" d="M1698 1042zm53-1zm2-1zm4 3zm35-1zm6-1zm13 0zm5 2zm1-3zm17 0zm1 2zm1 0zm22 0zm3 0zm5 1zm11-2zm0 1zm9-1zm0 1zm2-1zm3 1zm2-2zm-174 7zm51-2zm7 0zm4-1zm5 1zm7 0zm11-1zm11 0zm6 5zm8-5zm9 3zm0 1zm2-1zm2 2zm4-3zm2-1zm3-1zm13 3zm4 2zm1-3zm4 1zm1 0zm1-1zm2 2zm1 1zm1 0zm3-4zm4 2zm1 0zm4 2zm1-3zm-167 4zm5 4zm3-1zm10-3zm38 0zm1 4zm25-1zm8 0zm0 2zm3-2zm1 0zm0 1zm2-2zm4 0zm0 1zm1 0zm2-1zm2 0zm4-2zm0 4zm2-1zm4-3zm3 0zm2 5zm1-5zm1 4zm0 1zm6-1zm2 0zm1-4zm4 0zm1 2zm5-2zm1 0zm3 2zm4 0zm0 1zm2 1zm2-4zm0 3zm2-1zm1-1zm1 4zm2 0zm1-4zm0 2zm1 0zm4-1zm0 2zm-229 2zm31 5zm6-3zm29 1zm25 0zm5-3zm6 0zm0 4zm0 1zm15-2zm8-3zm2 1zm1 3zm5 1zm5 0zm2-3zm2 1zm1 1zm2-2zm0 2zm4-2zm1 1zm0 2zm3-5zm1 3zm4-1zm4 3zm1-4zm1 2zm0 2zm1-1zm2 0zm1-2zm3-1zm0 1zm1 3zm2-4zm2 3zm0 1zm2-5zm4 0zm2 0zm5 1zm1 2zm3-2zm1 0zm2 1zm0 1zm0 1zm2-4zm1 0zm0 5zm4-3zm0 1zm2 1zm1-1zm2-3zm1 4zm3 1zm2-5zm2 5zm4-2zm4-2zm3 2zm1-2zm2 2zm-209 6zm50 2zm15-1zm10 0zm3-3zm7 2zm3 0zm7 1zm4-4zm2 1zm1 4zm6-3zm1 2zm11 0zm4-3zm1 0zm3-1zm3 4zm3 0zm4-4zm2 4zm1 1zm4 0zm1-3zm2-1zm2 0zm1 3zm6 1zm1-2zm3-2zm0 2zm1-3zm1 2zm1 0zm0 1zm2 2zm1-1zm2-3zm2 0zm0 1zm1-1zm11-1zm3 3zm1 0zm1-2zm2 0zm2 4zm1-3zm0 1zm0 1zm1-2zm0 2zm1-4zm0 1zm1 0zm1 2zm2-2zm5-1zm0 1zm0 3zm0 1zm1-4zm0 4zm1-2zm4-1zm0 1zm0 1zm1-4zm0 2zm2-1zm0 4zm1-2zm-186 6zm14 0zm6-2zm16 3zm1-2zm4 0zm7 0zm1 2zm19-4zm2 2zm1-1zm0 1zm3-1zm1 4zm4-5zm0 4zm2-1zm2-1zm1-2zm2 2zm0 2zm3-3zm2 3zm4-4zm0 2zm2-1zm1 3zm6-3zm0 4zm1-1zm0 1zm1-5zm1 4zm1-3zm0 3zm1-3zm2 1zm1-1zm1 0zm0 4zm1-5zm1 2zm1 1zm0 2zm2-4zm1 0zm0 3zm0 1zm2-3zm0 1zm2 2zm2 0zm2-1zm2 0zm1-3zm0 3zm1-3zm1-1zm1 2zm2 3zm1 0zm1-4zm1 0zm0 2zm0 1zm1 0zm1-2zm1 0zm0 2zm1-4zm0 2zm3 0zm7-1zm0 4zm1-3zm2 0zm1-1zm1-1zm0 1zm2 4zm2-4zm0 4zm3-3zm4-1zm1 2zm1-1zm0 2zm1 1zm2-2zm1 1zm1-1zm2-2zm0 4zm3-5zm1 2zm0 3zm4-1zm1 0zm-204 7zm10-2zm24 0zm1 2zm3-3zm2-2zm4 5zm2-2zm10-3zm3 1zm12-1zm5 4zm6-1zm0 1zm2-2zm9 1zm0 1zm0 1zm1-1zm5 1zm1-3zm3-2zm0 5zm1-3zm0 3zm1-3zm1 0zm0 3zm6-4zm0 2zm1-3zm0 1zm2 2zm3-1zm0 2zm0 1zm1-2zm2 0zm2 2zm2-4zm2-1zm2 5zm1-1zm2-2zm0 1zm1-3zm0 5zm3 0zm1 0zm1 0zm4-1zm1-3zm0 4zm2-3zm1-1zm0 2zm2-2zm1 4zm2-3zm2-1zm0 3zm1 0zm1-3zm0 1zm0 1zm1-1zm0 2zm0 1zm1-2zm1-3zm0 2zm0 1zm2-3zm0 2zm0 1zm0 1zm3-1zm1-1zm1 3zm3-1zm1-1zm0 2zm3-3zm0 3zm2 0zm1-2zm2-1zm0 2zm1 0zm0 1zm3-5zm0 2zm0 3zm1-5zm1 1zm0 4zm1-2zm4-1zm1 3zm1-2zm0 1zm1-1zm0 2zm2-5zm1 2zm0 3zm1 0zm1-1zm1-2zm1-2zm0 4zm2-3zm0 2zm0 2zm1-5zm1 1zm0 1zm0 1zm1-3zm-194 7zm34-1zm1 3zm2 0zm5-1zm14-1zm3 4zm2-5zm1 1zm3-1zm8 5zm2-5zm0 2zm0 2zm0 1zm6 0zm2-5zm0 3zm1 1zm4-2zm7-2zm1 4zm1 0zm1-2zm1-2zm2 0zm1 0zm2 4zm2-2zm6 3zm1-1zm1 0zm2 0zm2-4zm2 2zm0 1zm1-3zm2 0zm0 5zm2-4zm0 2zm2-3zm3 2zm0 2zm1-3zm2-1zm4 3zm1-3zm0 1zm0 2zm0 2zm1-5zm0 1zm0 2zm1-1zm0 1zm0 1zm2-4zm2 0zm0 3zm0 1zm1-2zm0 1zm1 2zm1-1zm2-1zm1-2zm1-1zm0 3zm0 1zm1-2zm0 1zm0 1zm2-3zm1 4zm1-2zm1-2zm0 4zm1-5zm0 4zm2-1zm1 2zm1-2zm1-3zm0 5zm1-5zm0 2zm0 2zm1-4zm0 3zm0 2zm1-5zm0 4zm0 1zm1-1zm2 1zm2-3zm0 1zm1 1zm0 1zm2-4zm0 1zm0 1zm1-3zm0 1zm0 1zm0 1zm0 1zm1 0zm1-2zm1 1zm1 1zm1 1zm1-4zm0 1zm1 0zm0 1zm0 2zm1-4zm0 1zm0 2zm1-2zm0 1zm1-3zm0 2zm0 1zm0 2zm1 0zm1-4zm0 3zm1-4zm0 1zm1-1zm1 2zm1 1zm0 2zm1 0zm2-5zm0 2zm0 1zm0 2zm-209 4zm34-2zm6 3zm1-3zm4 4zm5-5zm20 4zm4-2zm1 2zm2-2zm1 1zm1 0zm1 1zm0 1zm3-3zm3 0zm1-2zm5 3zm1 0zm1 1zm6-3zm1 0zm0 4zm4-5zm0 4zm2-2zm3-2zm0 5zm2-4zm0 3zm1-4zm2 2zm1-1zm3 1zm0 1zm1-2zm1-1zm0 5zm1-3zm4 2zm2-4zm0 1zm1 0zm1 1zm1-2zm1 2zm0 2zm0 1zm1-4zm1 3zm1-4zm6 4zm2 1zm1-5zm1 5zm1-5zm0 5zm1-4zm2 4zm1-5zm0 3zm0 2zm1 0zm1-1zm0 1zm1-5zm0 3zm1-2zm0 4zm1-2zm3 0zm1-3zm2 2zm0 2zm2-4zm0 3zm1-2zm0 2zm0 1zm0 1zm1-5zm0 2zm1-1zm0 2zm1 2zm1-5zm0 1zm0 1zm1-1zm0 4zm1-5zm0 2zm0 2zm0 1zm1-5zm0 1zm0 1zm0 2zm2-3zm3 0zm1 4zm1-5zm0 2zm0 2zm1-4zm0 2zm2-2zm0 2zm0 2zm1-3zm1-1zm0 4zm1 1zm1-5zm0 4zm0 1zm1-5zm0 3zm0 1zm0 1zm1-1zm1-4zm0 1zm0 1zm0 3zm1 0zm1-5zm0 2zm0 2zm1-3zm1 3zm0 1zm1-5zm0 4zm1-3zm0 2zm0 2zm1-4zm0 1zm1-1zm0 1zm0 1zm0 1zm1-4zm0 3zm1 1zm2-3zm0 2zm2-2zm0 3zm1 0zm1-3zm0 1zm0 3zm1 0zm1-2zm0 1zm0 1zm1-5zm0 3zm0 2zm1-4zm-219 8zm46-3zm0 3zm24 2zm2-3zm1-2zm1 0zm1 3zm9 1zm2-3zm6 2zm4-2zm3 1zm1-1zm2 3zm6 0zm2-4zm0 2zm0 1zm1-1zm1-1zm2 2zm2-3zm0 2zm0 2zm1 0zm1-4zm0 1zm0 4zm4-2zm2 0zm1-2zm3 3zm2-1zm4-2zm1 0zm3 2zm1-2zm1 0zm0 3zm1-3zm1 4zm1-4zm0 1zm0 3zm3-2zm2 1zm0 1zm1-2zm2 1zm1-3zm0 1zm1-2zm0 1zm1 2zm0 2zm2-3zm0 2zm1 0zm1-4zm1 2zm0 3zm1-2zm0 2zm1-2zm0 2zm2-3zm0 3zm1-4zm1-1zm0 1zm0 3zm1-2zm1 0zm1 3zm2-3zm0 2zm1 0zm1-4zm1 2zm1-1zm0 1zm0 1zm1-3zm1 0zm0 1zm1-1zm0 5zm1-5zm0 1zm0 4zm1-4zm0 2zm0 2zm2-3zm0 1zm6-2zm2 0zm0 3zm1 1zm1-1zm1 1zm1-4zm0 1zm0 3zm2-3zm0 1zm0 1zm0 1zm2-1zm2-2zm1 0zm1-1zm0 3zm1-3zm0 3zm1-4zm0 1zm0 1zm0 2zm1-4zm1 0zm0 1zm0 3zm1-4zm0 1zm0 1zm0 1zm0 1zm1-4zm0 2zm0 3zm1-3zm1 1zm1-3zm0 3zm0 2zm1-3zm1-2zm0 2zm0 1zm0 2zm1-5zm0 4zm0 1zm1-1zm1 0zm1-3zm0 3zm0 1zm1-5zm0 1zm0 1zm0 1zm1 0zm0 1zm1-3zm0 2zm1-3zm0 3zm1 2zm-183 2zm1 1zm10 1zm1 0zm0 2zm1-4zm2 1zm4-2zm19 2zm4-2zm3 1zm1 0zm4-1zm0 4zm6-4zm3 2zm2-1zm0 3zm3-2zm1 1zm3 2zm4-5zm5 2zm2-1zm0 2zm0 2zm3-5zm0 4zm1-1zm1-3zm0 4zm0 1zm2-1zm3-2zm1-1zm0 1zm0 1zm1-3zm0 5zm1-5zm0 1zm0 2zm0 1zm2-3zm0 3zm1-4zm0 3zm1-1zm0 2zm0 1zm1-5zm2 3zm1-3zm1 2zm2-1zm1 1zm0 1zm1-3zm0 1zm0 2zm0 2zm1-1zm0 1zm1 0zm1-2zm1-3zm0 2zm1 1zm0 1zm1-4zm2 3zm0 1zm1-1zm0 1zm2-1zm1-3zm0 4zm0 1zm1-5zm0 2zm1 3zm1-2zm1 0zm1-3zm0 1zm1-1zm0 3zm1-3zm0 3zm1-3zm0 4zm0 1zm1-4zm1 0zm0 2zm1 2zm1-3zm0 2zm1-4zm0 4zm1-1zm0 1zm1-4zm2 4zm1-3zm0 1zm1 1zm0 2zm1-4zm0 4zm1 0zm1-2zm0 1zm0 1zm1-3zm0 3zm1-3zm0 1zm0 1zm1-4zm0 1zm0 2zm1-2zm0 4zm1-2zm0 1zm1-4zm3 2zm0 1zm0 1zm1 1zm1-5zm0 4zm0 1zm1 0zm1-5zm0 5zm1-5zm0 1zm0 1zm0 3zm1-5zm0 3zm0 1zm1-1zm1-3zm1 0zm0 1zm0 2zm0 2zm1-5zm0 2zm0 3zm1-5zm1 0zm0 5zm1-3zm0 1zm1-3zm0 1zm0 1zm0 1zm1-1zm0 3zm1-4zm0 3zm0 1zm1-5zm0 3zm1 0zm2 0zm0 1zm1-3zm0 1zm0 3zm1-5zm0 1zm0 2zm2-2zm0 4zm1-5zm0 3zm0 1zm0 1zm1-2zm0 1zm0 1zm1-2zm1-3zm0 1zm1-1zm0 1zm0 1zm1 1zm0 1zm0 1zm1-2zm0 2zm1-1zm0 1zm1 0zm1-5zm1 1zm-273 8zm22 2zm65-1zm3-1zm15-2zm2 3zm3-3zm5 4zm3-2zm2 0zm0 1zm6 1zm2-1zm4-3zm4-1zm3 5zm1-3zm2 0zm1 1zm1-1zm0 1zm0 2zm1-4zm7 0zm5 4zm2-4zm0 4zm1-2zm2-1zm1 2zm2-4zm0 5zm1-3zm0 1zm0 2zm4-4zm1 1zm0 3zm1-3zm1 3zm2-5zm0 1zm0 2zm0 2zm2 0zm1-5zm0 4zm1 0zm0 1zm3-5zm2 0zm0 5zm1-5zm0 4zm1-1zm1 0zm4-2zm1-1zm0 5zm1-4zm0 2zm0 2zm1-4zm0 4zm1-4zm0 2zm2 0zm0 2zm1-5zm0 1zm0 4zm1-4zm0 3zm1-4zm0 4zm1-3zm0 2zm1 2zm1-5zm0 2zm1-1zm0 3zm0 1zm1-4zm0 2zm1-1zm0 3zm1-5zm0 1zm0 1zm0 1zm1-2zm0 4zm1-3zm0 1zm1-3zm0 2zm1 0zm0 1zm2 0zm0 1zm1-2zm0 1zm0 2zm1-5zm0 4zm1-3zm0 3zm1-4zm0 1zm0 2zm0 2zm1-1zm2-3zm0 3zm0 1zm2-3zm1 2zm1-4zm0 3zm0 1zm0 1zm1-5zm0 1zm0 2zm1-3zm0 3zm0 1zm1-4zm0 2zm0 2zm0 1zm1-4zm0 1zm1-2zm1 1zm0 4zm1-5zm0 1zm0 1zm0 2zm0 1zm1-5zm0 2zm1-2zm0 3zm1 0zm0 1zm1-3zm1 0zm0 2zm1-3zm0 3zm0 1zm1-4zm0 2zm0 2zm1-3zm1-1zm0 1zm1-1zm0 5zm1 0zm1-1zm3-4zm0 3zm1 0zm1-2zm0 1zm1 1zm1-3zm0 1zm1-1zm0 1zm0 1zm0 2zm1-3zm1-1zm0 1zm0 1zm0 1zm0 2zm1-5zm0 3zm0 1zm0 1zm1 0zm1-5zm0 2zm2 2zm1-3zm1 0zm0 2zm1-2zm1 0zm0 1zm0 1zm0 1zm1-3zm0 1zm0 1zm0 2zm1-5zm0 2zm0 2zm0 1zm1-4zm0 1zm0 1zm1-1zm0 1zm1-3zm0 1zm0 3zm0 1zm2-5zm0 3zm1-1zm0 2zm1-4zm0 1zm0 2zm0 2zm1-5zm0 1zm0 2zm0 2zm-206 6zm11-4zm7 4zm8-3zm8 1zm8-3zm7 0zm1 0zm3 3zm6 0zm3-3zm0 3zm2-3zm1 5zm2 0zm2-2zm0 1zm0 1zm2-2zm6 1zm0 1zm3-2zm3 2zm2-5zm0 4zm3-3zm0 1zm0 1zm1 1zm1 0zm1-4zm0 3zm1 1zm2 0zm4-4zm0 5zm1-2zm1 1zm0 1zm1-3zm1-1zm0 2zm1-2zm2-1zm2 0zm1 1zm0 3zm1 0zm1-1zm0 1zm1 1zm1 0zm1-4zm0 2zm0 2zm2-5zm1 2zm0 2zm1 1zm2-4zm0 4zm1-2zm1-2zm0 2zm1-2zm0 2zm1 2zm1-4zm1 2zm0 1zm1 0zm2-1zm1-2zm1-1zm0 1zm1-1zm1 2zm0 2zm0 1zm1-5zm0 2zm0 1zm1 0zm0 1zm1-4zm0 1zm0 2zm2 1zm1-1zm3-3zm1 1zm0 3zm0 1zm1-3zm0 3zm1-5zm0 2zm0 2zm0 1zm1-4zm0 4zm1-5zm0 2zm0 2zm1-1zm1-1zm1 0zm0 3zm2-5zm0 5zm1-3zm0 1zm0 1zm1-1zm1-3zm0 2zm0 3zm1-5zm0 3zm1-3zm0 3zm1 1zm2-2zm0 3zm1-3zm0 1zm0 1zm0 1zm1-2zm0 2zm1-4zm0 3zm1-1zm0 1zm1-4zm0 1zm0 4zm1-5zm0 1zm0 1zm0 3zm1-2zm1-3zm1 0zm0 3zm0 1zm0 1zm1-3zm1-2zm0 2zm0 2zm2-2zm0 2zm0 1zm1-5zm0 4zm1-4zm0 4zm0 1zm1-4zm0 2zm1 1zm1-3zm0 1zm0 2zm1-4zm0 2zm0 1zm0 2zm1-5zm0 5zm1-5zm0 2zm0 2zm1-2zm1 3zm1-5zm0 4zm1-3zm0 1zm0 2zm1-4zm0 2zm0 1zm0 1zm1-3zm0 1zm0 1zm0 1zm1-4zm0 1zm0 1zm0 2zm1-3zm0 1zm0 3zm1-5zm0 5zm1-4zm0 1zm0 2zm1-2zm0 1zm0 1zm1-1zm0 1zm0 1zm1-5zm1 1zm0 1zm0 1zm0 1zm0 1zm1-5zm0 3zm1-2zm0 4zm1-3zm0 1zm0 1zm1-4zm0 1zm0 2zm1-1zm0 3zm1-5zm0 1zm0 4zm1-4zm0 2zm0 1zm1-1zm0 2zm1-3zm1-2zm1 0zm0 1zm0 2zm0 1zm0 1zm1-4zm0 1zm0 1zm0 1zm1-3zm0 1zm0 2zm-237 7zm42 0zm17-5zm10 0zm2 2zm11-2zm2 0zm2 0zm1 3zm2-3zm11 0zm6 2zm2 1zm2 0zm3-2zm2-1zm0 2zm4 2zm1-2zm3-2zm0 1zm2 0zm0 2zm1-3zm0 3zm0 1zm4-3zm1 3zm2 0zm4-2zm1 1zm1 1zm1 0zm1-4zm0 2zm1 1zm0 2zm6-3zm1 1zm0 1zm0 1zm1-5zm0 2zm0 3zm1-5zm0 5zm1-1zm0 1zm1-5zm1 1zm0 1zm0 1zm1-3zm1 2zm1-2zm0 4zm1-3zm0 2zm1-2zm1 1zm1-1zm1 2zm0 2zm1-3zm0 1zm1-2zm1 1zm0 1zm1-1zm1-1zm0 1zm0 1zm1 1zm0 1zm1-3zm1-2zm0 5zm1-5zm0 1zm0 3zm1-3zm0 2zm1-3zm0 1zm0 3zm1-3zm0 2zm1-2zm0 3zm1-4zm0 3zm0 1zm2-2zm0 1zm1-2zm0 3zm0 1zm1-5zm0 2zm0 2zm1-4zm1 3zm1-2zm0 1zm0 3zm1-2zm2-2zm0 1zm0 1zm0 1zm0 1zm1-1zm1-4zm0 2zm1-2zm0 2zm1-2zm0 4zm1-4zm0 1zm1-1zm0 4zm0 1zm1-5zm0 3zm0 1zm0 1zm1-4zm0 3zm0 1zm1-5zm0 1zm0 1zm0 3zm1-4zm1 1zm0 3zm2-1zm1-4zm0 1zm0 1zm0 2zm1-4zm0 2zm1-2zm0 2zm0 1zm1-3zm0 5zm2-4zm0 1zm1-2zm0 1zm0 1zm1-2zm0 1zm0 2zm0 1zm0 1zm1-5zm0 3zm0 1zm0 1zm1-4zm0 1zm1-1zm0 1zm0 1zm1-2zm0 2zm0 1zm1-2zm0 3zm1-5zm0 4zm0 1zm2-5zm0 1zm1-1zm0 2zm0 1zm0 2zm1-3zm0 3zm1-4zm1 0zm0 3zm0 1zm1-2zm0 2zm1-2zm0 1zm0 1zm1-2zm0 2zm1-5zm0 2zm0 2zm1-1zm1 2zm1-4zm0 1zm1-1zm0 1zm0 2zm1-2zm0 1zm0 1zm0 1zm1-5zm0 2zm0 3zm1-5zm0 1zm0 1zm0 2zm1-1zm1-3zm0 3zm0 1zm1 1zm1-5zm0 3zm0 2zm1-5zm0 1zm0 4zm1-4zm0 1zm0 3zm1-3zm-185 4zm5 1zm4 0zm12-1zm7 0zm7 0zm2 0zm12 0zm3 1zm13-1zm1 0zm5 1zm1-1zm3 1zm3 1zm2-2zm6 2zm2-1zm5 0zm2-1zm4 0zm4 0zm1 2zm2-2zm0 2zm1-1zm1 0zm0 1zm1-1zm1-1zm1 0zm0 1zm1-1zm3 1zm1 0zm1 0zm1 0zm4-1zm3 1zm0 1zm2-2zm0 2zm1-2zm0 2zm2-2zm0 1zm0 1zm1-2zm1 1zm2-1zm1 0zm0 1zm1 0zm3-1zm0 2zm1-1zm0 1zm1-2zm0 1zm2-1zm0 1zm0 1zm1-1zm1 0zm2 0zm2 0zm2-1zm0 1zm0 1zm2-2zm0 1zm1-1zm0 1zm2-1zm0 2zm1-2zm1 1zm1 1zm4-2zm0 2zm2-1zm1-1zm2 2zm3-2zm0 2zm3-2zm0 2zm1-2zm0 2zm1-1zm2-1zm0 1zm0 1zm2-2zm0 1zm1 0zm1-1zm0 2zm1-2zm1 0zm0 2z" fill="none" stroke="#4A8CFF" stroke-width="1.8" stroke-linecap="square" opacity="0.75"/><path d="M802.4 610.8L807.6 610.3L812.8 609.7L817.9 609.2L823 608.6L827.9 607.9L832.8 607.1L837.7 606.4L842.5 605.6L847.2 604.8L851.8 603.8L856.4 602.9L860.9 602L865.4 601.1L869.8 600.1L874.1 599.1L878.3 598.1L882.5 597.1L886.6 596.1L890.7 595.1L894.7 594L898.6 593L902.4 592L906.2 591L910 590L913.6 588.9L917.2 587.9L920.7 587L924.2 586L927.6 585L930.9 584L934.2 582.9L937.4 581.9L940.5 580.8L943.6 579.8L946.6 578.8L949.5 577.9L952.4 576.7L955.2 575.4L957.9 574.2L960.6 573.1L963.2 571.9L965.7 570.8L968.2 569.8L970.6 568.7L972.9 567.5L975.2 566.2L977.4 564.9L979.6 563.7L981.6 562.5L983.6 561.4L985.6 560.3L987.5 559.2L989.3 558.2L991 557.2L992.7 556.2L994.3 555.1L995.9 553.9L997.4 552.8L998.8 551.7L1000.1 550.5L1001.4 549.4L1002.6 548.3L1003.8 547.2L1004.9 546L1005.9 544.9L1006.8 543.8L1007.7 542.7L1008.6 541.5L1009.3 540.4L1010 539.3L1010.6 538.1L1011.2 537L1011.7 535.9L1012.1 534.8L1012.5 533.6L1012.8 532.5L1013 531.4L1013.2 530.3L1013.3 529.1L1013.3 528L1013.3 528L1013.3 527.1L1013.2 526.1L1013 525.2L1012.8 524.2L1012.5 523.3L1012.1 522.3L1011.7 521.4L1011.2 520.4L1010.6 519.5L1010 518.5L1009.3 517.6L1008.6 516.7L1007.7 515.7L1006.8 514.8L1005.9 513.8L1004.9 512.9L1003.8 511.9L1002.6 511L1001.4 510L1000.1 509.1L998.8 508.1L997.4 507.2L995.9 506.3L994.3 505.3L992.7 504.4L991 503.4L989.3 502.3L987.5 501.2L985.6 500L983.6 498.8L981.6 497.6L979.6 496.4L977.4 495L975.2 493.7L972.9 492.3L970.6 490.9L968.2 489.8L965.7 488.6L963.2 487.4L960.6 486.1L957.9 484.9L955.2 483.5L952.4 482.2L949.5 480.9L946.6 479.7L943.6 478.5L940.5 477.3L937.4 476.1L934.2 474.9L930.9 473.6L927.6 472.4L924.2 471.3L920.7 470.2L917.2 469L913.6 467.9L910 466.7L906.2 465.5L902.4 464.4L898.6 463.3L894.7 462.2L890.7 461L886.6 459.9L882.5 458.9L878.3 457.9L874.1 456.8L869.8 455.8L865.4 454.7L860.9 453.9L856.4 453L851.8 452.1L847.2 451.2L842.5 450.4L837.7 449.8L832.8 449.1L827.9 448.4L823 447.7L817.9 447.1L812.8 446.5L807.6 445.8L802.4 445.2" fill="none" stroke="#1c1cf0" stroke-width="1.1"/><path d="M947.9 445.2V610.8M1000.6 445.2V610.8M802.4 562H947.9M802.4 519.7H947.9M947.9 541.8H1000.6M947.9 513.3H1000.6M1000.6 551H1013.3M1000.6 511.4H1013.3" fill="none" stroke="#2424f4" stroke-width="1.1" stroke-dasharray="4.6 2.2"/><rect x="802.4" y="445.2" width="210.9" height="165.6" fill="none" stroke="#2a2a2a" stroke-width="1"/><path d="M844.6 610.8v-2.2M844.6 445.2v2.2M886.8 610.8v-2.2M886.8 445.2v2.2M928.9 610.8v-2.2M928.9 445.2v2.2M971.1 610.8v-2.2M971.1 445.2v2.2M802.4 592.4h2.2M1013.3 592.4h-2.2M802.4 574h2.2M1013.3 574h-2.2M802.4 555.6h2.2M1013.3 555.6h-2.2M802.4 537.2h2.2M1013.3 537.2h-2.2M802.4 518.8h2.2M1013.3 518.8h-2.2M802.4 500.4h2.2M1013.3 500.4h-2.2M802.4 482h2.2M1013.3 482h-2.2M802.4 463.6h2.2M1013.3 463.6h-2.2" fill="none" stroke="#2a2a2a" stroke-width=".9"/><text class="tk" x="799.8" y="614.1" text-anchor="end">0</text><text class="tk" x="799.8" y="595.7" text-anchor="end">10</text><text class="tk" x="799.8" y="577.3" text-anchor="end">20</text><text class="tk" x="799.8" y="558.9" text-anchor="end">30</text><text class="tk" x="799.8" y="540.5" text-anchor="end">40</text><text class="tk" x="799.8" y="522.1" text-anchor="end">50</text><text class="tk" x="799.8" y="503.7" text-anchor="end">60</text><text class="tk" x="799.8" y="485.3" text-anchor="end">70</text><text class="tk" x="799.8" y="466.9" text-anchor="end">80</text><text class="tk" x="799.8" y="448.5" text-anchor="end">90</text><text class="tk" x="802.4" y="621.2" text-anchor="middle">0</text><text class="tk" x="844.6" y="621.2" text-anchor="middle">0.2</text><text class="tk" x="886.8" y="621.2" text-anchor="middle">0.4</text><text class="tk" x="928.9" y="621.2" text-anchor="middle">0.6</text><text class="tk" x="971.1" y="621.2" text-anchor="middle">0.8</text><text class="tk" x="1013.3" y="621.2" text-anchor="middle">1</text><text class="ax" x="908.4" y="632.4" text-anchor="middle" font-style="italic">H</text><text class="ax" transform="translate(782.9 528.5) rotate(-90)" text-anchor="middle"><tspan font-style="italic" font-size="13">α</tspan> (°)</text><text class="cap" x="908.6" y="656.8" text-anchor="middle">(h)</text></svg></body></html>
